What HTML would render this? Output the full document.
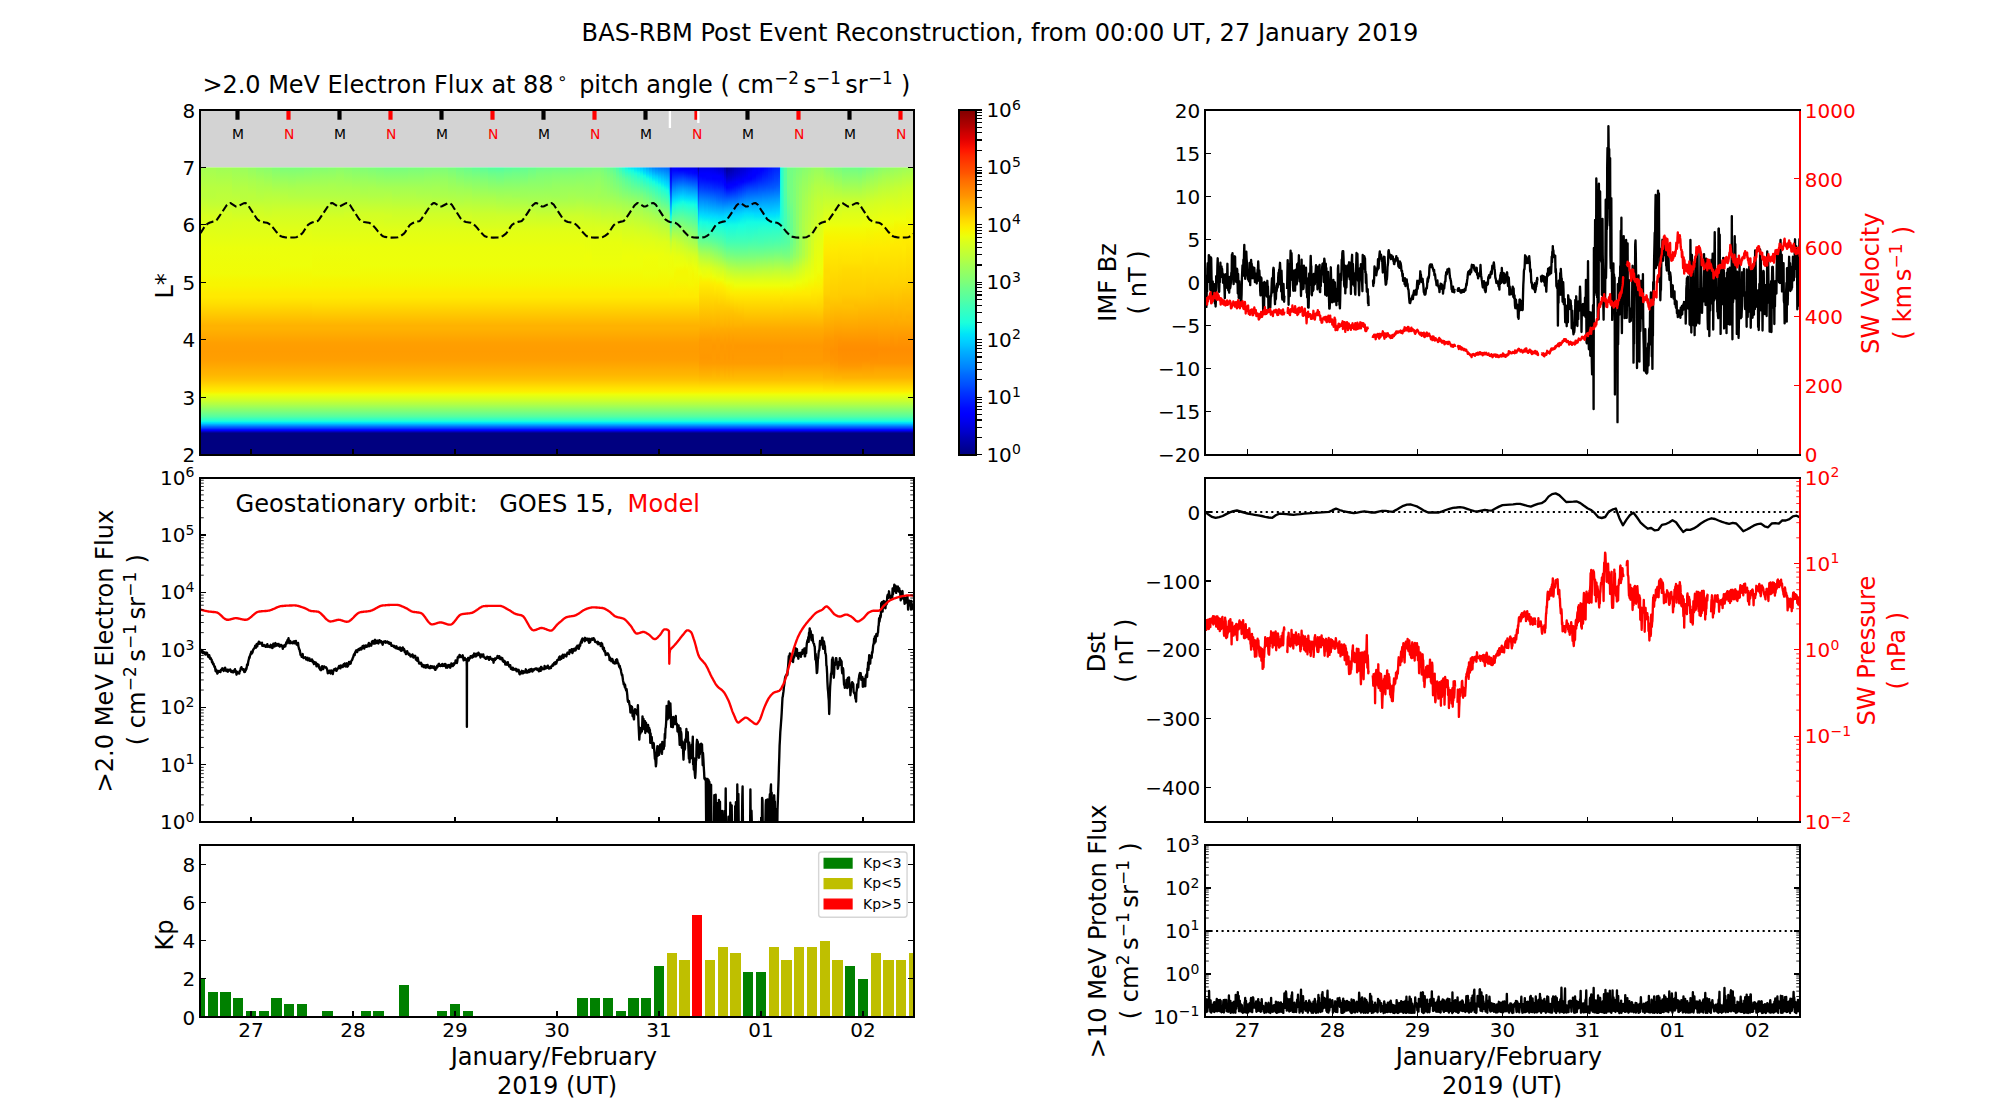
<!DOCTYPE html>
<html><head><meta charset="utf-8"><title>BAS-RBM Post Event Reconstruction</title><style>html,body{margin:0;padding:0;background:#fff}svg{display:block}text{font-family:"DejaVu Sans","Liberation Sans",sans-serif}g[id^="axes_"]>g[id^="patch_"]>path,g[id^="xtick_"] use,g[id^="ytick_"] use{shape-rendering:crispEdges}</style></head><body>
<svg width="2000" height="1100" viewBox="0 0 1440 792">
<defs>
<style type="text/css">*{stroke-linejoin: round; stroke-linecap: butt}</style>
</defs>
<g id="figure_1">
<g id="patch_1">
<path d="M 0 792 
L 1440 792 
L 1440 0 
L 0 0 
z
" style="fill: #ffffff"/>
</g>
<g id="axes_1">
<g id="patch_2">
<path d="M 144 327.31 
L 658.08 327.31 
L 658.08 79.2 
L 144 79.2 
z
" style="fill: #ffffff"/>
</g>
<g id="PH_heat"><defs><linearGradient id="h0" x1="0" y1="0" x2="0" y2="1"><stop offset="0" stop-color="#a4ff53"/><stop offset=".102" stop-color="#baff3c"/><stop offset=".128" stop-color="#baff3c"/><stop offset=".217" stop-color="#d7ff1f"/><stop offset=".358" stop-color="#ebff0c"/><stop offset=".473" stop-color="#f1fc06"/><stop offset=".512" stop-color="#f8f500"/><stop offset=".524" stop-color="#f8f500"/><stop offset=".563" stop-color="#ffea00"/><stop offset=".575" stop-color="#ffea00"/><stop offset=".614" stop-color="#ffdb00"/><stop offset=".703" stop-color="#ffb200"/><stop offset=".716" stop-color="#ffb200"/><stop offset=".78" stop-color="#ff9f00"/><stop offset=".818" stop-color="#ff9c00"/><stop offset=".857" stop-color="#ff9f00"/><stop offset=".921" stop-color="#ffb600"/><stop offset=".946" stop-color="#ffc400"/><stop offset=".985" stop-color="#ffe600"/><stop offset="1" stop-color="#fbf100"/></linearGradient><linearGradient id="h1" x1="0" y1="0" x2="0" y2="1"><stop offset="0" stop-color="#a4ff53"/><stop offset=".09" stop-color="#b7ff40"/><stop offset=".128" stop-color="#baff3c"/><stop offset=".166" stop-color="#c4ff33"/><stop offset=".217" stop-color="#d7ff1f"/><stop offset=".358" stop-color="#ebff0c"/><stop offset=".473" stop-color="#f1fc06"/><stop offset=".512" stop-color="#f8f500"/><stop offset=".524" stop-color="#f8f500"/><stop offset=".563" stop-color="#ffea00"/><stop offset=".575" stop-color="#ffea00"/><stop offset=".614" stop-color="#ffdb00"/><stop offset=".703" stop-color="#ffb200"/><stop offset=".716" stop-color="#ffb200"/><stop offset=".78" stop-color="#ff9f00"/><stop offset=".818" stop-color="#ff9c00"/><stop offset=".857" stop-color="#ff9f00"/><stop offset=".921" stop-color="#ffb600"/><stop offset=".946" stop-color="#ffc400"/><stop offset=".985" stop-color="#ffe600"/><stop offset="1" stop-color="#fbf100"/></linearGradient><linearGradient id="h2" x1="0" y1="0" x2="0" y2="1"><stop offset="0" stop-color="#a0ff56"/><stop offset=".09" stop-color="#b7ff40"/><stop offset=".141" stop-color="#beff39"/><stop offset=".166" stop-color="#c4ff33"/><stop offset=".205" stop-color="#d4ff23"/><stop offset=".358" stop-color="#ebff0c"/><stop offset=".473" stop-color="#f1fc06"/><stop offset=".512" stop-color="#f8f500"/><stop offset=".524" stop-color="#f8f500"/><stop offset=".563" stop-color="#ffea00"/><stop offset=".575" stop-color="#ffea00"/><stop offset=".614" stop-color="#ffdb00"/><stop offset=".703" stop-color="#ffb200"/><stop offset=".716" stop-color="#ffb200"/><stop offset=".78" stop-color="#ff9f00"/><stop offset=".818" stop-color="#ff9c00"/><stop offset=".857" stop-color="#ff9f00"/><stop offset=".921" stop-color="#ffb600"/><stop offset=".946" stop-color="#ffc400"/><stop offset=".985" stop-color="#ffe600"/><stop offset="1" stop-color="#fbf100"/></linearGradient><linearGradient id="h3" x1="0" y1="0" x2="0" y2="1"><stop offset="0" stop-color="#a0ff56"/><stop offset=".09" stop-color="#b7ff40"/><stop offset=".141" stop-color="#beff39"/><stop offset=".166" stop-color="#c4ff33"/><stop offset=".205" stop-color="#d4ff23"/><stop offset=".358" stop-color="#ebff0c"/><stop offset=".473" stop-color="#f1fc06"/><stop offset=".512" stop-color="#f8f500"/><stop offset=".524" stop-color="#f8f500"/><stop offset=".563" stop-color="#ffea00"/><stop offset=".575" stop-color="#ffea00"/><stop offset=".614" stop-color="#ffdb00"/><stop offset=".703" stop-color="#ffb200"/><stop offset=".716" stop-color="#ffb200"/><stop offset=".78" stop-color="#ff9f00"/><stop offset=".818" stop-color="#ff9c00"/><stop offset=".857" stop-color="#ff9f00"/><stop offset=".921" stop-color="#ffb600"/><stop offset=".946" stop-color="#ffc400"/><stop offset=".985" stop-color="#ffe600"/><stop offset="1" stop-color="#fbf100"/></linearGradient><linearGradient id="h4" x1="0" y1="0" x2="0" y2="1"><stop offset="0" stop-color="#9dff5a"/><stop offset=".141" stop-color="#beff39"/><stop offset=".243" stop-color="#dbff1c"/><stop offset=".358" stop-color="#ebff0c"/><stop offset=".473" stop-color="#f1fc06"/><stop offset=".512" stop-color="#f8f500"/><stop offset=".524" stop-color="#f8f500"/><stop offset=".563" stop-color="#ffea00"/><stop offset=".575" stop-color="#ffea00"/><stop offset=".614" stop-color="#ffdb00"/><stop offset=".703" stop-color="#ffb200"/><stop offset=".716" stop-color="#ffb200"/><stop offset=".78" stop-color="#ff9f00"/><stop offset=".818" stop-color="#ff9c00"/><stop offset=".857" stop-color="#ff9f00"/><stop offset=".921" stop-color="#ffb600"/><stop offset=".946" stop-color="#ffc400"/><stop offset=".985" stop-color="#ffe600"/><stop offset="1" stop-color="#fbf100"/></linearGradient><linearGradient id="h5" x1="0" y1="0" x2="0" y2="1"><stop offset="0" stop-color="#9aff5d"/><stop offset=".09" stop-color="#b4ff43"/><stop offset=".141" stop-color="#baff3c"/><stop offset=".179" stop-color="#caff2c"/><stop offset=".243" stop-color="#dbff1c"/><stop offset=".358" stop-color="#ebff0c"/><stop offset=".473" stop-color="#f1fc06"/><stop offset=".512" stop-color="#f8f500"/><stop offset=".524" stop-color="#f8f500"/><stop offset=".563" stop-color="#ffea00"/><stop offset=".575" stop-color="#ffea00"/><stop offset=".614" stop-color="#ffdb00"/><stop offset=".703" stop-color="#ffb200"/><stop offset=".716" stop-color="#ffb200"/><stop offset=".78" stop-color="#ff9f00"/><stop offset=".818" stop-color="#ff9c00"/><stop offset=".857" stop-color="#ff9f00"/><stop offset=".921" stop-color="#ffb600"/><stop offset=".946" stop-color="#ffc400"/><stop offset=".985" stop-color="#ffe600"/><stop offset="1" stop-color="#fbf100"/></linearGradient><linearGradient id="h6" x1="0" y1="0" x2="0" y2="1"><stop offset="0" stop-color="#94ff63"/><stop offset=".064" stop-color="#aaff4d"/><stop offset=".128" stop-color="#baff3c"/><stop offset=".141" stop-color="#baff3c"/><stop offset=".179" stop-color="#caff2c"/><stop offset=".243" stop-color="#dbff1c"/><stop offset=".358" stop-color="#ebff0c"/><stop offset=".473" stop-color="#f1fc06"/><stop offset=".512" stop-color="#f8f500"/><stop offset=".524" stop-color="#f8f500"/><stop offset=".563" stop-color="#ffea00"/><stop offset=".575" stop-color="#ffea00"/><stop offset=".614" stop-color="#ffdb00"/><stop offset=".703" stop-color="#ffb200"/><stop offset=".716" stop-color="#ffb200"/><stop offset=".78" stop-color="#ff9f00"/><stop offset=".818" stop-color="#ff9c00"/><stop offset=".857" stop-color="#ff9f00"/><stop offset=".921" stop-color="#ffb600"/><stop offset=".946" stop-color="#ffc400"/><stop offset=".985" stop-color="#ffe600"/><stop offset="1" stop-color="#fbf100"/></linearGradient><linearGradient id="h7" x1="0" y1="0" x2="0" y2="1"><stop offset="0" stop-color="#8dff6a"/><stop offset=".064" stop-color="#a7ff50"/><stop offset=".141" stop-color="#baff3c"/><stop offset=".179" stop-color="#caff2c"/><stop offset=".243" stop-color="#dbff1c"/><stop offset=".358" stop-color="#ebff0c"/><stop offset=".473" stop-color="#f1fc06"/><stop offset=".512" stop-color="#f8f500"/><stop offset=".524" stop-color="#f8f500"/><stop offset=".563" stop-color="#ffea00"/><stop offset=".575" stop-color="#ffea00"/><stop offset=".614" stop-color="#ffdb00"/><stop offset=".703" stop-color="#ffb200"/><stop offset=".716" stop-color="#ffb200"/><stop offset=".78" stop-color="#ff9f00"/><stop offset=".818" stop-color="#ff9c00"/><stop offset=".857" stop-color="#ff9f00"/><stop offset=".921" stop-color="#ffb600"/><stop offset=".946" stop-color="#ffc400"/><stop offset=".985" stop-color="#ffe600"/><stop offset="1" stop-color="#fbf100"/></linearGradient><linearGradient id="h8" x1="0" y1="0" x2="0" y2="1"><stop offset="0" stop-color="#8aff6d"/><stop offset=".09" stop-color="#adff49"/><stop offset=".243" stop-color="#dbff1c"/><stop offset=".358" stop-color="#ebff0c"/><stop offset=".473" stop-color="#f1fc06"/><stop offset=".512" stop-color="#f8f500"/><stop offset=".524" stop-color="#f8f500"/><stop offset=".563" stop-color="#ffea00"/><stop offset=".575" stop-color="#ffea00"/><stop offset=".614" stop-color="#ffdb00"/><stop offset=".703" stop-color="#ffb200"/><stop offset=".716" stop-color="#ffb200"/><stop offset=".78" stop-color="#ff9f00"/><stop offset=".818" stop-color="#ff9c00"/><stop offset=".857" stop-color="#ff9f00"/><stop offset=".921" stop-color="#ffb600"/><stop offset=".946" stop-color="#ffc400"/><stop offset=".985" stop-color="#ffe600"/><stop offset="1" stop-color="#fbf100"/></linearGradient><linearGradient id="h9" x1="0" y1="0" x2="0" y2="1"><stop offset="0" stop-color="#83ff73"/><stop offset=".115" stop-color="#b4ff43"/><stop offset=".192" stop-color="#ceff29"/><stop offset=".243" stop-color="#dbff1c"/><stop offset=".358" stop-color="#ebff0c"/><stop offset=".473" stop-color="#f1fc06"/><stop offset=".512" stop-color="#f8f500"/><stop offset=".524" stop-color="#f8f500"/><stop offset=".563" stop-color="#ffea00"/><stop offset=".575" stop-color="#ffea00"/><stop offset=".614" stop-color="#ffdb00"/><stop offset=".703" stop-color="#ffb200"/><stop offset=".716" stop-color="#ffb200"/><stop offset=".78" stop-color="#ff9f00"/><stop offset=".818" stop-color="#ff9c00"/><stop offset=".857" stop-color="#ff9f00"/><stop offset=".921" stop-color="#ffb600"/><stop offset=".946" stop-color="#ffc400"/><stop offset=".985" stop-color="#ffe600"/><stop offset="1" stop-color="#fbf100"/></linearGradient><linearGradient id="h10" x1="0" y1="0" x2="0" y2="1"><stop offset="0" stop-color="#7dff7a"/><stop offset=".077" stop-color="#a4ff53"/><stop offset=".128" stop-color="#b7ff40"/><stop offset=".153" stop-color="#beff39"/><stop offset=".192" stop-color="#ceff29"/><stop offset=".281" stop-color="#e1ff16"/><stop offset=".358" stop-color="#ebff0c"/><stop offset=".435" stop-color="#eeff09"/><stop offset=".524" stop-color="#f8f500"/><stop offset=".563" stop-color="#ffea00"/><stop offset=".575" stop-color="#ffea00"/><stop offset=".703" stop-color="#ffb200"/><stop offset=".716" stop-color="#ffb200"/><stop offset=".78" stop-color="#ff9f00"/><stop offset=".818" stop-color="#ff9c00"/><stop offset=".857" stop-color="#ff9f00"/><stop offset=".921" stop-color="#ffb600"/><stop offset=".946" stop-color="#ffc400"/><stop offset=".985" stop-color="#ffe600"/><stop offset="1" stop-color="#fbf100"/></linearGradient><linearGradient id="h11" x1="0" y1="0" x2="0" y2="1"><stop offset="0" stop-color="#7dff7a"/><stop offset=".102" stop-color="#adff49"/><stop offset=".128" stop-color="#b4ff43"/><stop offset=".192" stop-color="#ceff29"/><stop offset=".281" stop-color="#e1ff16"/><stop offset=".358" stop-color="#ebff0c"/><stop offset=".435" stop-color="#eeff09"/><stop offset=".524" stop-color="#f8f500"/><stop offset=".563" stop-color="#ffea00"/><stop offset=".575" stop-color="#ffea00"/><stop offset=".703" stop-color="#ffb200"/><stop offset=".716" stop-color="#ffb200"/><stop offset=".78" stop-color="#ff9f00"/><stop offset=".818" stop-color="#ff9c00"/><stop offset=".857" stop-color="#ff9f00"/><stop offset=".921" stop-color="#ffb600"/><stop offset=".946" stop-color="#ffc400"/><stop offset=".985" stop-color="#ffe600"/><stop offset="1" stop-color="#fbf100"/></linearGradient><linearGradient id="h12" x1="0" y1="0" x2="0" y2="1"><stop offset="0" stop-color="#7dff7a"/><stop offset=".077" stop-color="#a4ff53"/><stop offset=".128" stop-color="#b4ff43"/><stop offset=".192" stop-color="#ceff29"/><stop offset=".281" stop-color="#e1ff16"/><stop offset=".358" stop-color="#ebff0c"/><stop offset=".435" stop-color="#eeff09"/><stop offset=".524" stop-color="#f8f500"/><stop offset=".563" stop-color="#ffea00"/><stop offset=".575" stop-color="#ffea00"/><stop offset=".703" stop-color="#ffb200"/><stop offset=".716" stop-color="#ffb200"/><stop offset=".78" stop-color="#ff9f00"/><stop offset=".818" stop-color="#ff9c00"/><stop offset=".857" stop-color="#ff9f00"/><stop offset=".921" stop-color="#ffb600"/><stop offset=".946" stop-color="#ffc400"/><stop offset=".985" stop-color="#ffe600"/><stop offset="1" stop-color="#fbf100"/></linearGradient><linearGradient id="h13" x1="0" y1="0" x2="0" y2="1"><stop offset="0" stop-color="#80ff77"/><stop offset=".09" stop-color="#aaff4d"/><stop offset=".128" stop-color="#b4ff43"/><stop offset=".192" stop-color="#ceff29"/><stop offset=".281" stop-color="#e1ff16"/><stop offset=".358" stop-color="#ebff0c"/><stop offset=".435" stop-color="#eeff09"/><stop offset=".524" stop-color="#f8f500"/><stop offset=".563" stop-color="#ffea00"/><stop offset=".575" stop-color="#ffea00"/><stop offset=".703" stop-color="#ffb200"/><stop offset=".716" stop-color="#ffb200"/><stop offset=".78" stop-color="#ff9f00"/><stop offset=".818" stop-color="#ff9c00"/><stop offset=".857" stop-color="#ff9f00"/><stop offset=".921" stop-color="#ffb600"/><stop offset=".946" stop-color="#ffc400"/><stop offset=".985" stop-color="#ffe600"/><stop offset="1" stop-color="#fbf100"/></linearGradient><linearGradient id="h14" x1="0" y1="0" x2="0" y2="1"><stop offset="0" stop-color="#83ff73"/><stop offset=".09" stop-color="#aaff4d"/><stop offset=".128" stop-color="#b4ff43"/><stop offset=".192" stop-color="#ceff29"/><stop offset=".23" stop-color="#d7ff1f"/><stop offset=".358" stop-color="#ebff0c"/><stop offset=".473" stop-color="#f1fc06"/><stop offset=".512" stop-color="#f8f500"/><stop offset=".524" stop-color="#f8f500"/><stop offset=".563" stop-color="#ffea00"/><stop offset=".575" stop-color="#ffea00"/><stop offset=".614" stop-color="#ffdb00"/><stop offset=".703" stop-color="#ffb200"/><stop offset=".716" stop-color="#ffb200"/><stop offset=".78" stop-color="#ff9f00"/><stop offset=".818" stop-color="#ff9c00"/><stop offset=".857" stop-color="#ff9f00"/><stop offset=".921" stop-color="#ffb600"/><stop offset=".946" stop-color="#ffc400"/><stop offset=".985" stop-color="#ffe600"/><stop offset="1" stop-color="#fbf100"/></linearGradient><linearGradient id="h15" x1="0" y1="0" x2="0" y2="1"><stop offset="0" stop-color="#83ff73"/><stop offset=".038" stop-color="#97ff60"/><stop offset=".09" stop-color="#aaff4d"/><stop offset=".128" stop-color="#b4ff43"/><stop offset=".192" stop-color="#ceff29"/><stop offset=".23" stop-color="#d7ff1f"/><stop offset=".358" stop-color="#ebff0c"/><stop offset=".473" stop-color="#f1fc06"/><stop offset=".512" stop-color="#f8f500"/><stop offset=".524" stop-color="#f8f500"/><stop offset=".563" stop-color="#ffea00"/><stop offset=".575" stop-color="#ffea00"/><stop offset=".614" stop-color="#ffdb00"/><stop offset=".703" stop-color="#ffb200"/><stop offset=".716" stop-color="#ffb200"/><stop offset=".78" stop-color="#ff9f00"/><stop offset=".818" stop-color="#ff9c00"/><stop offset=".857" stop-color="#ff9f00"/><stop offset=".921" stop-color="#ffb600"/><stop offset=".946" stop-color="#ffc400"/><stop offset=".985" stop-color="#ffe600"/><stop offset="1" stop-color="#fbf100"/></linearGradient><linearGradient id="h16" x1="0" y1="0" x2="0" y2="1"><stop offset="0" stop-color="#87ff70"/><stop offset=".077" stop-color="#a7ff50"/><stop offset=".128" stop-color="#b4ff43"/><stop offset=".23" stop-color="#d7ff1f"/><stop offset=".358" stop-color="#ebff0c"/><stop offset=".473" stop-color="#f1fc06"/><stop offset=".512" stop-color="#f8f500"/><stop offset=".524" stop-color="#f8f500"/><stop offset=".563" stop-color="#ffea00"/><stop offset=".575" stop-color="#ffea00"/><stop offset=".614" stop-color="#ffdb00"/><stop offset=".703" stop-color="#ffb200"/><stop offset=".716" stop-color="#ffb200"/><stop offset=".78" stop-color="#ff9f00"/><stop offset=".818" stop-color="#ff9c00"/><stop offset=".857" stop-color="#ff9f00"/><stop offset=".921" stop-color="#ffb600"/><stop offset=".946" stop-color="#ffc400"/><stop offset=".985" stop-color="#ffe600"/><stop offset="1" stop-color="#fbf100"/></linearGradient><linearGradient id="h17" x1="0" y1="0" x2="0" y2="1"><stop offset="0" stop-color="#8aff6d"/><stop offset=".038" stop-color="#9aff5d"/><stop offset=".128" stop-color="#b4ff43"/><stop offset=".23" stop-color="#d7ff1f"/><stop offset=".358" stop-color="#ebff0c"/><stop offset=".473" stop-color="#f1fc06"/><stop offset=".512" stop-color="#f8f500"/><stop offset=".524" stop-color="#f8f500"/><stop offset=".563" stop-color="#ffea00"/><stop offset=".575" stop-color="#ffea00"/><stop offset=".614" stop-color="#ffdb00"/><stop offset=".703" stop-color="#ffb200"/><stop offset=".716" stop-color="#ffb200"/><stop offset=".78" stop-color="#ff9f00"/><stop offset=".818" stop-color="#ff9c00"/><stop offset=".857" stop-color="#ff9f00"/><stop offset=".921" stop-color="#ffb600"/><stop offset=".946" stop-color="#ffc400"/><stop offset=".985" stop-color="#ffe600"/><stop offset="1" stop-color="#fbf100"/></linearGradient><linearGradient id="h18" x1="0" y1="0" x2="0" y2="1"><stop offset="0" stop-color="#87ff70"/><stop offset=".09" stop-color="#aaff4d"/><stop offset=".141" stop-color="#b7ff40"/><stop offset=".205" stop-color="#d1ff26"/><stop offset=".23" stop-color="#d7ff1f"/><stop offset=".358" stop-color="#ebff0c"/><stop offset=".473" stop-color="#f1fc06"/><stop offset=".512" stop-color="#f8f500"/><stop offset=".524" stop-color="#f8f500"/><stop offset=".563" stop-color="#ffea00"/><stop offset=".575" stop-color="#ffea00"/><stop offset=".614" stop-color="#ffdb00"/><stop offset=".703" stop-color="#ffb200"/><stop offset=".716" stop-color="#ffb200"/><stop offset=".78" stop-color="#ff9f00"/><stop offset=".818" stop-color="#ff9c00"/><stop offset=".857" stop-color="#ff9f00"/><stop offset=".921" stop-color="#ffb600"/><stop offset=".946" stop-color="#ffc400"/><stop offset=".985" stop-color="#ffe600"/><stop offset="1" stop-color="#fbf100"/></linearGradient><linearGradient id="h19" x1="0" y1="0" x2="0" y2="1"><stop offset="0" stop-color="#83ff73"/><stop offset=".102" stop-color="#adff49"/><stop offset=".141" stop-color="#b7ff40"/><stop offset=".205" stop-color="#d1ff26"/><stop offset=".23" stop-color="#d7ff1f"/><stop offset=".358" stop-color="#ebff0c"/><stop offset=".473" stop-color="#f1fc06"/><stop offset=".512" stop-color="#f8f500"/><stop offset=".524" stop-color="#f8f500"/><stop offset=".563" stop-color="#ffea00"/><stop offset=".575" stop-color="#ffea00"/><stop offset=".614" stop-color="#ffdb00"/><stop offset=".703" stop-color="#ffb200"/><stop offset=".716" stop-color="#ffb200"/><stop offset=".78" stop-color="#ff9f00"/><stop offset=".818" stop-color="#ff9c00"/><stop offset=".857" stop-color="#ff9f00"/><stop offset=".921" stop-color="#ffb600"/><stop offset=".946" stop-color="#ffc400"/><stop offset=".985" stop-color="#ffe600"/><stop offset="1" stop-color="#fbf100"/></linearGradient><linearGradient id="h20" x1="0" y1="0" x2="0" y2="1"><stop offset="0" stop-color="#80ff77"/><stop offset=".064" stop-color="#9dff5a"/><stop offset=".115" stop-color="#adff49"/><stop offset=".205" stop-color="#d1ff26"/><stop offset=".281" stop-color="#e1ff16"/><stop offset=".358" stop-color="#ebff0c"/><stop offset=".435" stop-color="#eeff09"/><stop offset=".524" stop-color="#f8f500"/><stop offset=".563" stop-color="#ffea00"/><stop offset=".575" stop-color="#ffea00"/><stop offset=".703" stop-color="#ffb200"/><stop offset=".716" stop-color="#ffb200"/><stop offset=".78" stop-color="#ff9f00"/><stop offset=".818" stop-color="#ff9c00"/><stop offset=".857" stop-color="#ff9f00"/><stop offset=".921" stop-color="#ffb600"/><stop offset=".946" stop-color="#ffc400"/><stop offset=".985" stop-color="#ffe600"/><stop offset="1" stop-color="#fbf100"/></linearGradient><linearGradient id="h21" x1="0" y1="0" x2="0" y2="1"><stop offset="0" stop-color="#7dff7a"/><stop offset=".09" stop-color="#a7ff50"/><stop offset=".128" stop-color="#b1ff46"/><stop offset=".205" stop-color="#d1ff26"/><stop offset=".281" stop-color="#e1ff16"/><stop offset=".358" stop-color="#ebff0c"/><stop offset=".435" stop-color="#eeff09"/><stop offset=".524" stop-color="#f8f500"/><stop offset=".563" stop-color="#ffea00"/><stop offset=".575" stop-color="#ffea00"/><stop offset=".703" stop-color="#ffb200"/><stop offset=".716" stop-color="#ffb200"/><stop offset=".78" stop-color="#ff9f00"/><stop offset=".818" stop-color="#ff9c00"/><stop offset=".857" stop-color="#ff9f00"/><stop offset=".921" stop-color="#ffb600"/><stop offset=".946" stop-color="#ffc400"/><stop offset=".985" stop-color="#ffe600"/><stop offset="1" stop-color="#fbf100"/></linearGradient><linearGradient id="h22" x1="0" y1="0" x2="0" y2="1"><stop offset="0" stop-color="#7aff7d"/><stop offset=".102" stop-color="#aaff4d"/><stop offset=".128" stop-color="#b1ff46"/><stop offset=".205" stop-color="#d1ff26"/><stop offset=".281" stop-color="#e1ff16"/><stop offset=".358" stop-color="#ebff0c"/><stop offset=".435" stop-color="#eeff09"/><stop offset=".524" stop-color="#f8f500"/><stop offset=".563" stop-color="#ffea00"/><stop offset=".575" stop-color="#ffea00"/><stop offset=".703" stop-color="#ffb200"/><stop offset=".716" stop-color="#ffb200"/><stop offset=".78" stop-color="#ff9f00"/><stop offset=".818" stop-color="#ff9c00"/><stop offset=".857" stop-color="#ff9f00"/><stop offset=".921" stop-color="#ffb600"/><stop offset=".946" stop-color="#ffc400"/><stop offset=".985" stop-color="#ffe600"/><stop offset="1" stop-color="#fbf100"/></linearGradient><linearGradient id="h23" x1="0" y1="0" x2="0" y2="1"><stop offset="0" stop-color="#77ff80"/><stop offset=".09" stop-color="#a4ff53"/><stop offset=".217" stop-color="#d4ff23"/><stop offset=".23" stop-color="#d4ff23"/><stop offset=".281" stop-color="#e1ff16"/><stop offset=".358" stop-color="#ebff0c"/><stop offset=".435" stop-color="#eeff09"/><stop offset=".524" stop-color="#f8f500"/><stop offset=".563" stop-color="#ffea00"/><stop offset=".575" stop-color="#ffea00"/><stop offset=".703" stop-color="#ffb200"/><stop offset=".716" stop-color="#ffb200"/><stop offset=".78" stop-color="#ff9f00"/><stop offset=".818" stop-color="#ff9c00"/><stop offset=".857" stop-color="#ff9f00"/><stop offset=".921" stop-color="#ffb600"/><stop offset=".946" stop-color="#ffc400"/><stop offset=".985" stop-color="#ffe600"/><stop offset="1" stop-color="#fbf100"/></linearGradient><linearGradient id="h24" x1="0" y1="0" x2="0" y2="1"><stop offset="0" stop-color="#77ff80"/><stop offset=".09" stop-color="#a4ff53"/><stop offset=".115" stop-color="#aaff4d"/><stop offset=".192" stop-color="#caff2c"/><stop offset=".281" stop-color="#e1ff16"/><stop offset=".358" stop-color="#ebff0c"/><stop offset=".435" stop-color="#eeff09"/><stop offset=".524" stop-color="#f8f500"/><stop offset=".563" stop-color="#ffea00"/><stop offset=".575" stop-color="#ffea00"/><stop offset=".703" stop-color="#ffb200"/><stop offset=".716" stop-color="#ffb200"/><stop offset=".78" stop-color="#ff9f00"/><stop offset=".818" stop-color="#ff9c00"/><stop offset=".857" stop-color="#ff9f00"/><stop offset=".921" stop-color="#ffb600"/><stop offset=".946" stop-color="#ffc400"/><stop offset=".985" stop-color="#ffe600"/><stop offset="1" stop-color="#fbf100"/></linearGradient><linearGradient id="h25" x1="0" y1="0" x2="0" y2="1"><stop offset="0" stop-color="#77ff80"/><stop offset=".09" stop-color="#a4ff53"/><stop offset=".166" stop-color="#beff39"/><stop offset=".192" stop-color="#caff2c"/><stop offset=".281" stop-color="#e1ff16"/><stop offset=".358" stop-color="#ebff0c"/><stop offset=".435" stop-color="#eeff09"/><stop offset=".524" stop-color="#f8f500"/><stop offset=".563" stop-color="#ffea00"/><stop offset=".575" stop-color="#ffea00"/><stop offset=".703" stop-color="#ffb200"/><stop offset=".716" stop-color="#ffb200"/><stop offset=".78" stop-color="#ff9f00"/><stop offset=".818" stop-color="#ff9c00"/><stop offset=".857" stop-color="#ff9f00"/><stop offset=".921" stop-color="#ffb600"/><stop offset=".946" stop-color="#ffc400"/><stop offset=".985" stop-color="#ffe600"/><stop offset="1" stop-color="#fbf100"/></linearGradient><linearGradient id="h26" x1="0" y1="0" x2="0" y2="1"><stop offset="0" stop-color="#7aff7d"/><stop offset=".09" stop-color="#a4ff53"/><stop offset=".166" stop-color="#beff39"/><stop offset=".192" stop-color="#caff2c"/><stop offset=".281" stop-color="#e1ff16"/><stop offset=".358" stop-color="#ebff0c"/><stop offset=".435" stop-color="#eeff09"/><stop offset=".524" stop-color="#f8f500"/><stop offset=".563" stop-color="#ffea00"/><stop offset=".575" stop-color="#ffea00"/><stop offset=".703" stop-color="#ffb200"/><stop offset=".716" stop-color="#ffb200"/><stop offset=".78" stop-color="#ff9f00"/><stop offset=".818" stop-color="#ff9c00"/><stop offset=".857" stop-color="#ff9f00"/><stop offset=".921" stop-color="#ffb600"/><stop offset=".946" stop-color="#ffc400"/><stop offset=".985" stop-color="#ffe600"/><stop offset="1" stop-color="#fbf100"/></linearGradient><linearGradient id="h27" x1="0" y1="0" x2="0" y2="1"><stop offset="0" stop-color="#7aff7d"/><stop offset=".09" stop-color="#a4ff53"/><stop offset=".115" stop-color="#aaff4d"/><stop offset=".205" stop-color="#ceff29"/><stop offset=".281" stop-color="#e1ff16"/><stop offset=".358" stop-color="#ebff0c"/><stop offset=".435" stop-color="#eeff09"/><stop offset=".524" stop-color="#f8f500"/><stop offset=".563" stop-color="#ffea00"/><stop offset=".575" stop-color="#ffea00"/><stop offset=".703" stop-color="#ffb200"/><stop offset=".716" stop-color="#ffb200"/><stop offset=".78" stop-color="#ff9f00"/><stop offset=".818" stop-color="#ff9c00"/><stop offset=".857" stop-color="#ff9f00"/><stop offset=".921" stop-color="#ffb600"/><stop offset=".946" stop-color="#ffc400"/><stop offset=".985" stop-color="#ffe600"/><stop offset="1" stop-color="#fbf100"/></linearGradient><linearGradient id="h28" x1="0" y1="0" x2="0" y2="1"><stop offset="0" stop-color="#7dff7a"/><stop offset=".064" stop-color="#9aff5d"/><stop offset=".153" stop-color="#b7ff40"/><stop offset=".205" stop-color="#ceff29"/><stop offset=".281" stop-color="#e1ff16"/><stop offset=".358" stop-color="#ebff0c"/><stop offset=".435" stop-color="#eeff09"/><stop offset=".524" stop-color="#f8f500"/><stop offset=".563" stop-color="#ffea00"/><stop offset=".575" stop-color="#ffea00"/><stop offset=".703" stop-color="#ffb200"/><stop offset=".716" stop-color="#ffb200"/><stop offset=".78" stop-color="#ff9f00"/><stop offset=".818" stop-color="#ff9c00"/><stop offset=".857" stop-color="#ff9f00"/><stop offset=".921" stop-color="#ffb600"/><stop offset=".946" stop-color="#ffc400"/><stop offset=".985" stop-color="#ffe600"/><stop offset="1" stop-color="#fbf100"/></linearGradient><linearGradient id="h29" x1="0" y1="0" x2="0" y2="1"><stop offset="0" stop-color="#7dff7a"/><stop offset=".038" stop-color="#90ff66"/><stop offset=".09" stop-color="#a4ff53"/><stop offset=".128" stop-color="#adff49"/><stop offset=".205" stop-color="#ceff29"/><stop offset=".281" stop-color="#e1ff16"/><stop offset=".358" stop-color="#ebff0c"/><stop offset=".435" stop-color="#eeff09"/><stop offset=".524" stop-color="#f8f500"/><stop offset=".563" stop-color="#ffea00"/><stop offset=".575" stop-color="#ffea00"/><stop offset=".703" stop-color="#ffb200"/><stop offset=".716" stop-color="#ffb200"/><stop offset=".78" stop-color="#ff9f00"/><stop offset=".818" stop-color="#ff9c00"/><stop offset=".857" stop-color="#ff9f00"/><stop offset=".921" stop-color="#ffb600"/><stop offset=".946" stop-color="#ffc400"/><stop offset=".985" stop-color="#ffe600"/><stop offset="1" stop-color="#fbf100"/></linearGradient><linearGradient id="h30" x1="0" y1="0" x2="0" y2="1"><stop offset="0" stop-color="#7dff7a"/><stop offset=".064" stop-color="#9aff5d"/><stop offset=".128" stop-color="#adff49"/><stop offset=".205" stop-color="#ceff29"/><stop offset=".281" stop-color="#e1ff16"/><stop offset=".358" stop-color="#ebff0c"/><stop offset=".435" stop-color="#eeff09"/><stop offset=".524" stop-color="#f8f500"/><stop offset=".563" stop-color="#ffea00"/><stop offset=".575" stop-color="#ffea00"/><stop offset=".703" stop-color="#ffb200"/><stop offset=".716" stop-color="#ffb200"/><stop offset=".78" stop-color="#ff9f00"/><stop offset=".818" stop-color="#ff9c00"/><stop offset=".857" stop-color="#ff9f00"/><stop offset=".921" stop-color="#ffb600"/><stop offset=".946" stop-color="#ffc400"/><stop offset=".985" stop-color="#ffe600"/><stop offset="1" stop-color="#fbf100"/></linearGradient><linearGradient id="h31" x1="0" y1="0" x2="0" y2="1"><stop offset="0" stop-color="#77ff80"/><stop offset=".051" stop-color="#90ff66"/><stop offset=".166" stop-color="#baff3c"/><stop offset=".205" stop-color="#ceff29"/><stop offset=".281" stop-color="#e1ff16"/><stop offset=".358" stop-color="#ebff0c"/><stop offset=".435" stop-color="#eeff09"/><stop offset=".524" stop-color="#f8f500"/><stop offset=".563" stop-color="#ffea00"/><stop offset=".575" stop-color="#ffea00"/><stop offset=".703" stop-color="#ffb200"/><stop offset=".716" stop-color="#ffb200"/><stop offset=".78" stop-color="#ff9f00"/><stop offset=".818" stop-color="#ff9c00"/><stop offset=".857" stop-color="#ff9f00"/><stop offset=".921" stop-color="#ffb600"/><stop offset=".946" stop-color="#ffc400"/><stop offset=".985" stop-color="#ffe600"/><stop offset="1" stop-color="#fbf100"/></linearGradient><linearGradient id="h32" x1="0" y1="0" x2="0" y2="1"><stop offset="0" stop-color="#70ff87"/><stop offset=".09" stop-color="#9dff5a"/><stop offset=".153" stop-color="#b4ff43"/><stop offset=".192" stop-color="#c7ff30"/><stop offset=".281" stop-color="#e1ff16"/><stop offset=".358" stop-color="#ebff0c"/><stop offset=".435" stop-color="#eeff09"/><stop offset=".524" stop-color="#f8f500"/><stop offset=".563" stop-color="#ffea00"/><stop offset=".575" stop-color="#ffea00"/><stop offset=".703" stop-color="#ffb200"/><stop offset=".716" stop-color="#ffb200"/><stop offset=".78" stop-color="#ff9f00"/><stop offset=".818" stop-color="#ff9c00"/><stop offset=".857" stop-color="#ff9f00"/><stop offset=".921" stop-color="#ffb600"/><stop offset=".946" stop-color="#ffc400"/><stop offset=".985" stop-color="#ffe600"/><stop offset="1" stop-color="#fbf100"/></linearGradient><linearGradient id="h33" x1="0" y1="0" x2="0" y2="1"><stop offset="0" stop-color="#6aff8d"/><stop offset=".102" stop-color="#a0ff56"/><stop offset=".217" stop-color="#d1ff26"/><stop offset=".281" stop-color="#e1ff16"/><stop offset=".358" stop-color="#ebff0c"/><stop offset=".435" stop-color="#eeff09"/><stop offset=".524" stop-color="#f8f500"/><stop offset=".563" stop-color="#ffea00"/><stop offset=".575" stop-color="#ffea00"/><stop offset=".703" stop-color="#ffb200"/><stop offset=".716" stop-color="#ffb200"/><stop offset=".78" stop-color="#ff9f00"/><stop offset=".818" stop-color="#ff9c00"/><stop offset=".857" stop-color="#ff9f00"/><stop offset=".921" stop-color="#ffb600"/><stop offset=".946" stop-color="#ffc400"/><stop offset=".985" stop-color="#ffe600"/><stop offset="1" stop-color="#fbf100"/></linearGradient><linearGradient id="h34" x1="0" y1="0" x2="0" y2="1"><stop offset="0" stop-color="#63ff94"/><stop offset=".051" stop-color="#83ff73"/><stop offset=".166" stop-color="#baff3c"/><stop offset=".205" stop-color="#caff2c"/><stop offset=".281" stop-color="#e1ff16"/><stop offset=".358" stop-color="#ebff0c"/><stop offset=".435" stop-color="#eeff09"/><stop offset=".524" stop-color="#f8f500"/><stop offset=".563" stop-color="#ffea00"/><stop offset=".575" stop-color="#ffea00"/><stop offset=".703" stop-color="#ffb200"/><stop offset=".716" stop-color="#ffb200"/><stop offset=".78" stop-color="#ff9f00"/><stop offset=".818" stop-color="#ff9c00"/><stop offset=".857" stop-color="#ff9f00"/><stop offset=".921" stop-color="#ffb600"/><stop offset=".946" stop-color="#ffc400"/><stop offset=".985" stop-color="#ffe600"/><stop offset="1" stop-color="#fbf100"/></linearGradient><linearGradient id="h35" x1="0" y1="0" x2="0" y2="1"><stop offset="0" stop-color="#5dff9a"/><stop offset=".026" stop-color="#70ff87"/><stop offset=".064" stop-color="#87ff70"/><stop offset=".141" stop-color="#adff49"/><stop offset=".153" stop-color="#b1ff46"/><stop offset=".205" stop-color="#caff2c"/><stop offset=".269" stop-color="#dbff1c"/><stop offset=".281" stop-color="#e1ff16"/><stop offset=".358" stop-color="#ebff0c"/><stop offset=".435" stop-color="#eeff09"/><stop offset=".524" stop-color="#f8f500"/><stop offset=".563" stop-color="#ffea00"/><stop offset=".575" stop-color="#ffea00"/><stop offset=".703" stop-color="#ffb200"/><stop offset=".716" stop-color="#ffb200"/><stop offset=".78" stop-color="#ff9f00"/><stop offset=".818" stop-color="#ff9c00"/><stop offset=".857" stop-color="#ff9f00"/><stop offset=".921" stop-color="#ffb600"/><stop offset=".946" stop-color="#ffc400"/><stop offset=".985" stop-color="#ffe600"/><stop offset="1" stop-color="#fbf100"/></linearGradient><linearGradient id="h36" x1="0" y1="0" x2="0" y2="1"><stop offset="0" stop-color="#56ffa0"/><stop offset=".038" stop-color="#73ff83"/><stop offset=".141" stop-color="#adff49"/><stop offset=".153" stop-color="#b1ff46"/><stop offset=".205" stop-color="#caff2c"/><stop offset=".269" stop-color="#dbff1c"/><stop offset=".281" stop-color="#e1ff16"/><stop offset=".358" stop-color="#ebff0c"/><stop offset=".435" stop-color="#eeff09"/><stop offset=".524" stop-color="#f8f500"/><stop offset=".563" stop-color="#ffea00"/><stop offset=".575" stop-color="#ffea00"/><stop offset=".703" stop-color="#ffb200"/><stop offset=".716" stop-color="#ffb200"/><stop offset=".78" stop-color="#ff9f00"/><stop offset=".818" stop-color="#ff9c00"/><stop offset=".857" stop-color="#ff9f00"/><stop offset=".921" stop-color="#ffb600"/><stop offset=".946" stop-color="#ffc400"/><stop offset=".985" stop-color="#ffe600"/><stop offset="1" stop-color="#fbf100"/></linearGradient><linearGradient id="h37" x1="0" y1="0" x2="0" y2="1"><stop offset="0" stop-color="#53ffa4"/><stop offset=".026" stop-color="#6aff8d"/><stop offset=".051" stop-color="#77ff80"/><stop offset=".09" stop-color="#90ff66"/><stop offset=".217" stop-color="#ceff29"/><stop offset=".269" stop-color="#dbff1c"/><stop offset=".281" stop-color="#e1ff16"/><stop offset=".358" stop-color="#ebff0c"/><stop offset=".435" stop-color="#eeff09"/><stop offset=".524" stop-color="#f8f500"/><stop offset=".563" stop-color="#ffea00"/><stop offset=".575" stop-color="#ffea00"/><stop offset=".703" stop-color="#ffb200"/><stop offset=".716" stop-color="#ffb200"/><stop offset=".78" stop-color="#ff9f00"/><stop offset=".818" stop-color="#ff9c00"/><stop offset=".857" stop-color="#ff9f00"/><stop offset=".921" stop-color="#ffb600"/><stop offset=".946" stop-color="#ffc400"/><stop offset=".985" stop-color="#ffe600"/><stop offset="1" stop-color="#fbf100"/></linearGradient><linearGradient id="h38" x1="0" y1="0" x2="0" y2="1"><stop offset="0" stop-color="#5aff9d"/><stop offset=".026" stop-color="#6dff8a"/><stop offset=".064" stop-color="#83ff73"/><stop offset=".141" stop-color="#aaff4d"/><stop offset=".153" stop-color="#adff49"/><stop offset=".217" stop-color="#ceff29"/><stop offset=".269" stop-color="#dbff1c"/><stop offset=".281" stop-color="#e1ff16"/><stop offset=".358" stop-color="#ebff0c"/><stop offset=".435" stop-color="#eeff09"/><stop offset=".524" stop-color="#f8f500"/><stop offset=".563" stop-color="#ffea00"/><stop offset=".575" stop-color="#ffea00"/><stop offset=".703" stop-color="#ffb200"/><stop offset=".716" stop-color="#ffb200"/><stop offset=".78" stop-color="#ff9f00"/><stop offset=".818" stop-color="#ff9c00"/><stop offset=".857" stop-color="#ff9f00"/><stop offset=".921" stop-color="#ffb600"/><stop offset=".946" stop-color="#ffc400"/><stop offset=".985" stop-color="#ffe600"/><stop offset="1" stop-color="#fbf100"/></linearGradient><linearGradient id="h39" x1="0" y1="0" x2="0" y2="1"><stop offset="0" stop-color="#5dff9a"/><stop offset=".026" stop-color="#70ff87"/><stop offset=".115" stop-color="#9dff5a"/><stop offset=".128" stop-color="#a0ff56"/><stop offset=".141" stop-color="#aaff4d"/><stop offset=".153" stop-color="#adff49"/><stop offset=".217" stop-color="#ceff29"/><stop offset=".269" stop-color="#dbff1c"/><stop offset=".281" stop-color="#e1ff16"/><stop offset=".358" stop-color="#ebff0c"/><stop offset=".435" stop-color="#eeff09"/><stop offset=".524" stop-color="#f8f500"/><stop offset=".563" stop-color="#ffea00"/><stop offset=".575" stop-color="#ffea00"/><stop offset=".703" stop-color="#ffb200"/><stop offset=".716" stop-color="#ffb200"/><stop offset=".78" stop-color="#ff9f00"/><stop offset=".818" stop-color="#ff9c00"/><stop offset=".857" stop-color="#ff9f00"/><stop offset=".921" stop-color="#ffb600"/><stop offset=".946" stop-color="#ffc400"/><stop offset=".985" stop-color="#ffe600"/><stop offset="1" stop-color="#fbf100"/></linearGradient><linearGradient id="h40" x1="0" y1="0" x2="0" y2="1"><stop offset="0" stop-color="#63ff94"/><stop offset=".09" stop-color="#94ff63"/><stop offset=".128" stop-color="#a0ff56"/><stop offset=".205" stop-color="#c7ff30"/><stop offset=".281" stop-color="#e1ff16"/><stop offset=".358" stop-color="#ebff0c"/><stop offset=".435" stop-color="#eeff09"/><stop offset=".524" stop-color="#f8f500"/><stop offset=".563" stop-color="#ffea00"/><stop offset=".575" stop-color="#ffea00"/><stop offset=".703" stop-color="#ffb200"/><stop offset=".716" stop-color="#ffb200"/><stop offset=".78" stop-color="#ff9f00"/><stop offset=".818" stop-color="#ff9c00"/><stop offset=".857" stop-color="#ff9f00"/><stop offset=".921" stop-color="#ffb600"/><stop offset=".946" stop-color="#ffc400"/><stop offset=".985" stop-color="#ffe600"/><stop offset="1" stop-color="#fbf100"/></linearGradient><linearGradient id="h41" x1="0" y1="0" x2="0" y2="1"><stop offset="0" stop-color="#66ff90"/><stop offset=".013" stop-color="#70ff87"/><stop offset=".064" stop-color="#8aff6d"/><stop offset=".153" stop-color="#aaff4d"/><stop offset=".205" stop-color="#c7ff30"/><stop offset=".281" stop-color="#e1ff16"/><stop offset=".358" stop-color="#ebff0c"/><stop offset=".435" stop-color="#eeff09"/><stop offset=".524" stop-color="#f8f500"/><stop offset=".563" stop-color="#ffea00"/><stop offset=".575" stop-color="#ffea00"/><stop offset=".703" stop-color="#ffb200"/><stop offset=".716" stop-color="#ffb200"/><stop offset=".78" stop-color="#ff9f00"/><stop offset=".818" stop-color="#ff9c00"/><stop offset=".857" stop-color="#ff9f00"/><stop offset=".921" stop-color="#ffb600"/><stop offset=".946" stop-color="#ffc400"/><stop offset=".985" stop-color="#ffe600"/><stop offset="1" stop-color="#fbf100"/></linearGradient><linearGradient id="h42" x1="0" y1="0" x2="0" y2="1"><stop offset="0" stop-color="#6dff8a"/><stop offset=".026" stop-color="#7dff7a"/><stop offset=".153" stop-color="#aaff4d"/><stop offset=".217" stop-color="#caff2c"/><stop offset=".281" stop-color="#e1ff16"/><stop offset=".358" stop-color="#ebff0c"/><stop offset=".435" stop-color="#eeff09"/><stop offset=".524" stop-color="#f8f500"/><stop offset=".563" stop-color="#ffea00"/><stop offset=".575" stop-color="#ffea00"/><stop offset=".703" stop-color="#ffb200"/><stop offset=".716" stop-color="#ffb200"/><stop offset=".78" stop-color="#ff9f00"/><stop offset=".818" stop-color="#ff9c00"/><stop offset=".857" stop-color="#ff9f00"/><stop offset=".921" stop-color="#ffb600"/><stop offset=".946" stop-color="#ffc400"/><stop offset=".985" stop-color="#ffe600"/><stop offset="1" stop-color="#fbf100"/></linearGradient><linearGradient id="h43" x1="0" y1="0" x2="0" y2="1"><stop offset="0" stop-color="#70ff87"/><stop offset=".038" stop-color="#83ff73"/><stop offset=".153" stop-color="#aaff4d"/><stop offset=".217" stop-color="#caff2c"/><stop offset=".281" stop-color="#e1ff16"/><stop offset=".358" stop-color="#ebff0c"/><stop offset=".435" stop-color="#eeff09"/><stop offset=".524" stop-color="#f8f500"/><stop offset=".563" stop-color="#ffea00"/><stop offset=".575" stop-color="#ffea00"/><stop offset=".703" stop-color="#ffb200"/><stop offset=".716" stop-color="#ffb200"/><stop offset=".78" stop-color="#ff9f00"/><stop offset=".818" stop-color="#ff9c00"/><stop offset=".857" stop-color="#ff9f00"/><stop offset=".921" stop-color="#ffb600"/><stop offset=".946" stop-color="#ffc400"/><stop offset=".985" stop-color="#ffe600"/><stop offset="1" stop-color="#fbf100"/></linearGradient><linearGradient id="h44" x1="0" y1="0" x2="0" y2="1"><stop offset="0" stop-color="#70ff87"/><stop offset=".026" stop-color="#80ff77"/><stop offset=".077" stop-color="#94ff63"/><stop offset=".128" stop-color="#a0ff56"/><stop offset=".166" stop-color="#b1ff46"/><stop offset=".205" stop-color="#c7ff30"/><stop offset=".281" stop-color="#e1ff16"/><stop offset=".358" stop-color="#ebff0c"/><stop offset=".435" stop-color="#eeff09"/><stop offset=".524" stop-color="#f8f500"/><stop offset=".563" stop-color="#ffea00"/><stop offset=".575" stop-color="#ffea00"/><stop offset=".703" stop-color="#ffb200"/><stop offset=".716" stop-color="#ffb200"/><stop offset=".78" stop-color="#ff9f00"/><stop offset=".818" stop-color="#ff9c00"/><stop offset=".857" stop-color="#ff9f00"/><stop offset=".921" stop-color="#ffb600"/><stop offset=".946" stop-color="#ffc400"/><stop offset=".985" stop-color="#ffe600"/><stop offset="1" stop-color="#fbf100"/></linearGradient><linearGradient id="h45" x1="0" y1="0" x2="0" y2="1"><stop offset="0" stop-color="#70ff87"/><stop offset=".038" stop-color="#87ff70"/><stop offset=".09" stop-color="#9aff5d"/><stop offset=".141" stop-color="#a7ff50"/><stop offset=".205" stop-color="#c7ff30"/><stop offset=".281" stop-color="#e1ff16"/><stop offset=".358" stop-color="#ebff0c"/><stop offset=".435" stop-color="#eeff09"/><stop offset=".524" stop-color="#f8f500"/><stop offset=".563" stop-color="#ffea00"/><stop offset=".575" stop-color="#ffea00"/><stop offset=".703" stop-color="#ffb200"/><stop offset=".716" stop-color="#ffb200"/><stop offset=".78" stop-color="#ff9f00"/><stop offset=".818" stop-color="#ff9c00"/><stop offset=".857" stop-color="#ff9f00"/><stop offset=".921" stop-color="#ffb600"/><stop offset=".946" stop-color="#ffc400"/><stop offset=".985" stop-color="#ffe600"/><stop offset="1" stop-color="#fbf100"/></linearGradient><linearGradient id="h46" x1="0" y1="0" x2="0" y2="1"><stop offset="0" stop-color="#73ff83"/><stop offset=".038" stop-color="#87ff70"/><stop offset=".09" stop-color="#9aff5d"/><stop offset=".153" stop-color="#adff49"/><stop offset=".217" stop-color="#ceff29"/><stop offset=".269" stop-color="#dbff1c"/><stop offset=".281" stop-color="#e1ff16"/><stop offset=".358" stop-color="#ebff0c"/><stop offset=".435" stop-color="#eeff09"/><stop offset=".524" stop-color="#f8f500"/><stop offset=".563" stop-color="#ffea00"/><stop offset=".575" stop-color="#ffea00"/><stop offset=".703" stop-color="#ffb200"/><stop offset=".716" stop-color="#ffb200"/><stop offset=".78" stop-color="#ff9f00"/><stop offset=".818" stop-color="#ff9c00"/><stop offset=".857" stop-color="#ff9f00"/><stop offset=".921" stop-color="#ffb600"/><stop offset=".946" stop-color="#ffc400"/><stop offset=".985" stop-color="#ffe600"/><stop offset="1" stop-color="#fbf100"/></linearGradient><linearGradient id="h47" x1="0" y1="0" x2="0" y2="1"><stop offset="0" stop-color="#73ff83"/><stop offset=".026" stop-color="#83ff73"/><stop offset=".077" stop-color="#97ff60"/><stop offset=".128" stop-color="#a4ff53"/><stop offset=".217" stop-color="#ceff29"/><stop offset=".269" stop-color="#dbff1c"/><stop offset=".281" stop-color="#e1ff16"/><stop offset=".358" stop-color="#ebff0c"/><stop offset=".435" stop-color="#eeff09"/><stop offset=".524" stop-color="#f8f500"/><stop offset=".563" stop-color="#ffea00"/><stop offset=".575" stop-color="#ffea00"/><stop offset=".703" stop-color="#ffb200"/><stop offset=".716" stop-color="#ffb200"/><stop offset=".78" stop-color="#ff9f00"/><stop offset=".818" stop-color="#ff9c00"/><stop offset=".857" stop-color="#ff9f00"/><stop offset=".921" stop-color="#ffb600"/><stop offset=".946" stop-color="#ffc400"/><stop offset=".985" stop-color="#ffe600"/><stop offset="1" stop-color="#fbf100"/></linearGradient><linearGradient id="h48" x1="0" y1="0" x2="0" y2="1"><stop offset="0" stop-color="#77ff80"/><stop offset=".038" stop-color="#8aff6d"/><stop offset=".141" stop-color="#a7ff50"/><stop offset=".192" stop-color="#c1ff36"/><stop offset=".243" stop-color="#d4ff23"/><stop offset=".307" stop-color="#e4ff13"/><stop offset=".396" stop-color="#eeff09"/><stop offset=".435" stop-color="#eeff09"/><stop offset=".524" stop-color="#f8f500"/><stop offset=".563" stop-color="#ffea00"/><stop offset=".575" stop-color="#ffea00"/><stop offset=".703" stop-color="#ffb200"/><stop offset=".716" stop-color="#ffb200"/><stop offset=".78" stop-color="#ff9f00"/><stop offset=".818" stop-color="#ff9c00"/><stop offset=".857" stop-color="#ff9f00"/><stop offset=".921" stop-color="#ffb600"/><stop offset=".946" stop-color="#ffc400"/><stop offset=".985" stop-color="#ffe600"/><stop offset="1" stop-color="#fbf100"/></linearGradient><linearGradient id="h49" x1="0" y1="0" x2="0" y2="1"><stop offset="0" stop-color="#7aff7d"/><stop offset=".026" stop-color="#87ff70"/><stop offset=".141" stop-color="#a7ff50"/><stop offset=".217" stop-color="#caff2c"/><stop offset=".256" stop-color="#d7ff1f"/><stop offset=".332" stop-color="#e7ff0f"/><stop offset=".435" stop-color="#eeff09"/><stop offset=".524" stop-color="#f8f500"/><stop offset=".563" stop-color="#ffea00"/><stop offset=".575" stop-color="#ffea00"/><stop offset=".703" stop-color="#ffb200"/><stop offset=".716" stop-color="#ffb200"/><stop offset=".78" stop-color="#ff9f00"/><stop offset=".818" stop-color="#ff9c00"/><stop offset=".857" stop-color="#ff9f00"/><stop offset=".921" stop-color="#ffb600"/><stop offset=".946" stop-color="#ffc400"/><stop offset=".985" stop-color="#ffe600"/><stop offset="1" stop-color="#fbf100"/></linearGradient><linearGradient id="h50" x1="0" y1="0" x2="0" y2="1"><stop offset="0" stop-color="#7aff7d"/><stop offset=".026" stop-color="#87ff70"/><stop offset=".064" stop-color="#94ff63"/><stop offset=".153" stop-color="#aaff4d"/><stop offset=".205" stop-color="#c4ff33"/><stop offset=".269" stop-color="#dbff1c"/><stop offset=".332" stop-color="#e7ff0f"/><stop offset=".435" stop-color="#eeff09"/><stop offset=".524" stop-color="#f8f500"/><stop offset=".563" stop-color="#ffea00"/><stop offset=".575" stop-color="#ffea00"/><stop offset=".703" stop-color="#ffb200"/><stop offset=".716" stop-color="#ffb200"/><stop offset=".78" stop-color="#ff9f00"/><stop offset=".818" stop-color="#ff9c00"/><stop offset=".857" stop-color="#ff9f00"/><stop offset=".921" stop-color="#ffb600"/><stop offset=".946" stop-color="#ffc400"/><stop offset=".985" stop-color="#ffe600"/><stop offset="1" stop-color="#fbf100"/></linearGradient><linearGradient id="h51" x1="0" y1="0" x2="0" y2="1"><stop offset="0" stop-color="#7aff7d"/><stop offset=".026" stop-color="#87ff70"/><stop offset=".064" stop-color="#94ff63"/><stop offset=".115" stop-color="#a0ff56"/><stop offset=".128" stop-color="#a0ff56"/><stop offset=".205" stop-color="#c4ff33"/><stop offset=".269" stop-color="#dbff1c"/><stop offset=".332" stop-color="#e7ff0f"/><stop offset=".435" stop-color="#eeff09"/><stop offset=".524" stop-color="#f8f500"/><stop offset=".563" stop-color="#ffea00"/><stop offset=".575" stop-color="#ffea00"/><stop offset=".703" stop-color="#ffb200"/><stop offset=".716" stop-color="#ffb200"/><stop offset=".78" stop-color="#ff9f00"/><stop offset=".818" stop-color="#ff9c00"/><stop offset=".857" stop-color="#ff9f00"/><stop offset=".921" stop-color="#ffb600"/><stop offset=".946" stop-color="#ffc400"/><stop offset=".985" stop-color="#ffe600"/><stop offset="1" stop-color="#fbf100"/></linearGradient><linearGradient id="h52" x1="0" y1="0" x2="0" y2="1"><stop offset="0" stop-color="#77ff80"/><stop offset=".026" stop-color="#83ff73"/><stop offset=".064" stop-color="#90ff66"/><stop offset=".128" stop-color="#a0ff56"/><stop offset=".269" stop-color="#dbff1c"/><stop offset=".332" stop-color="#e7ff0f"/><stop offset=".435" stop-color="#eeff09"/><stop offset=".524" stop-color="#f8f500"/><stop offset=".563" stop-color="#ffea00"/><stop offset=".575" stop-color="#ffea00"/><stop offset=".703" stop-color="#ffb200"/><stop offset=".716" stop-color="#ffb200"/><stop offset=".78" stop-color="#ff9f00"/><stop offset=".818" stop-color="#ff9c00"/><stop offset=".857" stop-color="#ff9f00"/><stop offset=".921" stop-color="#ffb600"/><stop offset=".946" stop-color="#ffc400"/><stop offset=".985" stop-color="#ffe600"/><stop offset="1" stop-color="#fbf100"/></linearGradient><linearGradient id="h53" x1="0" y1="0" x2="0" y2="1"><stop offset="0" stop-color="#70ff87"/><stop offset=".038" stop-color="#83ff73"/><stop offset=".141" stop-color="#a4ff53"/><stop offset=".243" stop-color="#d1ff26"/><stop offset=".281" stop-color="#deff19"/><stop offset=".332" stop-color="#e7ff0f"/><stop offset=".435" stop-color="#eeff09"/><stop offset=".524" stop-color="#f8f500"/><stop offset=".563" stop-color="#ffea00"/><stop offset=".575" stop-color="#ffea00"/><stop offset=".703" stop-color="#ffb200"/><stop offset=".716" stop-color="#ffb200"/><stop offset=".78" stop-color="#ff9f00"/><stop offset=".818" stop-color="#ff9c00"/><stop offset=".857" stop-color="#ff9f00"/><stop offset=".921" stop-color="#ffb600"/><stop offset=".946" stop-color="#ffc400"/><stop offset=".985" stop-color="#ffe600"/><stop offset="1" stop-color="#fbf100"/></linearGradient><linearGradient id="h54" x1="0" y1="0" x2="0" y2="1"><stop offset="0" stop-color="#6aff8d"/><stop offset=".051" stop-color="#83ff73"/><stop offset=".128" stop-color="#9dff5a"/><stop offset=".205" stop-color="#c1ff36"/><stop offset=".256" stop-color="#d4ff23"/><stop offset=".332" stop-color="#e7ff0f"/><stop offset=".435" stop-color="#eeff09"/><stop offset=".524" stop-color="#f8f500"/><stop offset=".563" stop-color="#ffea00"/><stop offset=".575" stop-color="#ffea00"/><stop offset=".703" stop-color="#ffb200"/><stop offset=".716" stop-color="#ffb200"/><stop offset=".78" stop-color="#ff9f00"/><stop offset=".818" stop-color="#ff9c00"/><stop offset=".857" stop-color="#ff9f00"/><stop offset=".921" stop-color="#ffb600"/><stop offset=".946" stop-color="#ffc400"/><stop offset=".985" stop-color="#ffe600"/><stop offset="1" stop-color="#fbf100"/></linearGradient><linearGradient id="h55" x1="0" y1="0" x2="0" y2="1"><stop offset="0" stop-color="#63ff94"/><stop offset=".038" stop-color="#7aff7d"/><stop offset=".102" stop-color="#90ff66"/><stop offset=".205" stop-color="#c1ff36"/><stop offset=".256" stop-color="#d4ff23"/><stop offset=".332" stop-color="#e7ff0f"/><stop offset=".435" stop-color="#eeff09"/><stop offset=".524" stop-color="#f8f500"/><stop offset=".563" stop-color="#ffea00"/><stop offset=".575" stop-color="#ffea00"/><stop offset=".703" stop-color="#ffb200"/><stop offset=".716" stop-color="#ffb200"/><stop offset=".78" stop-color="#ff9f00"/><stop offset=".818" stop-color="#ff9c00"/><stop offset=".857" stop-color="#ff9f00"/><stop offset=".921" stop-color="#ffb600"/><stop offset=".946" stop-color="#ffc400"/><stop offset=".985" stop-color="#ffe600"/><stop offset="1" stop-color="#fbf100"/></linearGradient><linearGradient id="h56" x1="0" y1="0" x2="0" y2="1"><stop offset="0" stop-color="#5aff9d"/><stop offset=".038" stop-color="#73ff83"/><stop offset=".09" stop-color="#87ff70"/><stop offset=".192" stop-color="#baff3c"/><stop offset=".269" stop-color="#d7ff1f"/><stop offset=".332" stop-color="#e7ff0f"/><stop offset=".435" stop-color="#eeff09"/><stop offset=".524" stop-color="#f8f500"/><stop offset=".563" stop-color="#ffea00"/><stop offset=".575" stop-color="#ffea00"/><stop offset=".703" stop-color="#ffb200"/><stop offset=".716" stop-color="#ffb200"/><stop offset=".78" stop-color="#ff9f00"/><stop offset=".818" stop-color="#ff9c00"/><stop offset=".857" stop-color="#ff9f00"/><stop offset=".921" stop-color="#ffb600"/><stop offset=".946" stop-color="#ffc400"/><stop offset=".985" stop-color="#ffe600"/><stop offset="1" stop-color="#fbf100"/></linearGradient><linearGradient id="h57" x1="0" y1="0" x2="0" y2="1"><stop offset="0" stop-color="#49ffad"/><stop offset=".051" stop-color="#70ff87"/><stop offset=".217" stop-color="#c4ff33"/><stop offset=".269" stop-color="#d7ff1f"/><stop offset=".332" stop-color="#e7ff0f"/><stop offset=".435" stop-color="#eeff09"/><stop offset=".524" stop-color="#f8f500"/><stop offset=".563" stop-color="#ffea00"/><stop offset=".575" stop-color="#ffea00"/><stop offset=".703" stop-color="#ffb200"/><stop offset=".716" stop-color="#ffb200"/><stop offset=".78" stop-color="#ff9f00"/><stop offset=".818" stop-color="#ff9c00"/><stop offset=".857" stop-color="#ff9f00"/><stop offset=".921" stop-color="#ffb600"/><stop offset=".946" stop-color="#ffc400"/><stop offset=".985" stop-color="#ffe600"/><stop offset="1" stop-color="#fbf100"/></linearGradient><linearGradient id="h58" x1="0" y1="0" x2="0" y2="1"><stop offset="0" stop-color="#36ffc1"/><stop offset=".038" stop-color="#5dff9a"/><stop offset=".064" stop-color="#70ff87"/><stop offset=".115" stop-color="#8aff6d"/><stop offset=".166" stop-color="#aaff4d"/><stop offset=".205" stop-color="#beff39"/><stop offset=".281" stop-color="#dbff1c"/><stop offset=".332" stop-color="#e7ff0f"/><stop offset=".435" stop-color="#eeff09"/><stop offset=".524" stop-color="#f8f500"/><stop offset=".563" stop-color="#ffea00"/><stop offset=".575" stop-color="#ffea00"/><stop offset=".703" stop-color="#ffb200"/><stop offset=".716" stop-color="#ffb200"/><stop offset=".78" stop-color="#ff9f00"/><stop offset=".818" stop-color="#ff9c00"/><stop offset=".857" stop-color="#ff9f00"/><stop offset=".921" stop-color="#ffb600"/><stop offset=".946" stop-color="#ffc400"/><stop offset=".985" stop-color="#ffe600"/><stop offset="1" stop-color="#fbf100"/></linearGradient><linearGradient id="h59" x1="0" y1="0" x2="0" y2="1"><stop offset="0" stop-color="#23ffd4"/><stop offset=".051" stop-color="#60ff97"/><stop offset=".128" stop-color="#8dff6a"/><stop offset=".153" stop-color="#a0ff56"/><stop offset=".256" stop-color="#d1ff26"/><stop offset=".345" stop-color="#e7ff0f"/><stop offset=".396" stop-color="#eeff09"/><stop offset=".435" stop-color="#eeff09"/><stop offset=".524" stop-color="#f8f500"/><stop offset=".563" stop-color="#ffea00"/><stop offset=".575" stop-color="#ffea00"/><stop offset=".703" stop-color="#ffb200"/><stop offset=".716" stop-color="#ffb200"/><stop offset=".78" stop-color="#ff9f00"/><stop offset=".818" stop-color="#ff9c00"/><stop offset=".857" stop-color="#ff9f00"/><stop offset=".921" stop-color="#ffb600"/><stop offset=".946" stop-color="#ffc400"/><stop offset=".985" stop-color="#ffe600"/><stop offset="1" stop-color="#fbf100"/></linearGradient><linearGradient id="h60" x1="0" y1="0" x2="0" y2="1"><stop offset="0" stop-color="#0ff8e7"/><stop offset=".013" stop-color="#23ffd4"/><stop offset=".051" stop-color="#56ffa0"/><stop offset=".153" stop-color="#9dff5a"/><stop offset=".217" stop-color="#c1ff36"/><stop offset=".269" stop-color="#d4ff23"/><stop offset=".345" stop-color="#e7ff0f"/><stop offset=".396" stop-color="#eeff09"/><stop offset=".435" stop-color="#eeff09"/><stop offset=".524" stop-color="#f8f500"/><stop offset=".563" stop-color="#ffea00"/><stop offset=".575" stop-color="#ffea00"/><stop offset=".703" stop-color="#ffb200"/><stop offset=".716" stop-color="#ffb200"/><stop offset=".78" stop-color="#ff9f00"/><stop offset=".818" stop-color="#ff9c00"/><stop offset=".857" stop-color="#ff9f00"/><stop offset=".921" stop-color="#ffb600"/><stop offset=".946" stop-color="#ffc400"/><stop offset=".985" stop-color="#ffe600"/><stop offset="1" stop-color="#fbf100"/></linearGradient><linearGradient id="h61" x1="0" y1="0" x2="0" y2="1"><stop offset="0" stop-color="#06ecf1"/><stop offset=".013" stop-color="#19ffde"/><stop offset=".038" stop-color="#40ffb7"/><stop offset=".064" stop-color="#5aff9d"/><stop offset=".153" stop-color="#9aff5d"/><stop offset=".205" stop-color="#baff3c"/><stop offset=".243" stop-color="#c7ff30"/><stop offset=".269" stop-color="#d4ff23"/><stop offset=".345" stop-color="#e7ff0f"/><stop offset=".396" stop-color="#eeff09"/><stop offset=".435" stop-color="#eeff09"/><stop offset=".524" stop-color="#f8f500"/><stop offset=".563" stop-color="#ffea00"/><stop offset=".575" stop-color="#ffea00"/><stop offset=".703" stop-color="#ffb200"/><stop offset=".716" stop-color="#ffb200"/><stop offset=".78" stop-color="#ff9f00"/><stop offset=".818" stop-color="#ff9c00"/><stop offset=".857" stop-color="#ff9f00"/><stop offset=".921" stop-color="#ffb600"/><stop offset=".946" stop-color="#ffc400"/><stop offset=".985" stop-color="#ffe600"/><stop offset="1" stop-color="#fbf100"/></linearGradient><linearGradient id="h62" x1="0" y1="0" x2="0" y2="1"><stop offset="0" stop-color="#00e4f8"/><stop offset=".013" stop-color="#13fce4"/><stop offset=".026" stop-color="#26ffd1"/><stop offset=".051" stop-color="#46ffb1"/><stop offset=".141" stop-color="#90ff66"/><stop offset=".192" stop-color="#b1ff46"/><stop offset=".23" stop-color="#c4ff33"/><stop offset=".281" stop-color="#d7ff1f"/><stop offset=".345" stop-color="#e7ff0f"/><stop offset=".396" stop-color="#eeff09"/><stop offset=".435" stop-color="#eeff09"/><stop offset=".524" stop-color="#f8f500"/><stop offset=".563" stop-color="#ffea00"/><stop offset=".575" stop-color="#ffea00"/><stop offset=".703" stop-color="#ffb200"/><stop offset=".716" stop-color="#ffb200"/><stop offset=".78" stop-color="#ff9f00"/><stop offset=".818" stop-color="#ff9c00"/><stop offset=".857" stop-color="#ff9f00"/><stop offset=".921" stop-color="#ffb600"/><stop offset=".946" stop-color="#ffc400"/><stop offset=".985" stop-color="#ffe600"/><stop offset="1" stop-color="#fbf100"/></linearGradient><linearGradient id="h63" x1="0" y1="0" x2="0" y2="1"><stop offset="0" stop-color="#00dcfe"/><stop offset=".013" stop-color="#09f0ee"/><stop offset=".026" stop-color="#1cffdb"/><stop offset=".038" stop-color="#30ffc7"/><stop offset=".09" stop-color="#63ff94"/><stop offset=".153" stop-color="#97ff60"/><stop offset=".243" stop-color="#c7ff30"/><stop offset=".307" stop-color="#deff19"/><stop offset=".371" stop-color="#ebff0c"/><stop offset=".435" stop-color="#eeff09"/><stop offset=".524" stop-color="#f8f500"/><stop offset=".563" stop-color="#ffea00"/><stop offset=".575" stop-color="#ffea00"/><stop offset=".703" stop-color="#ffb200"/><stop offset=".716" stop-color="#ffb200"/><stop offset=".78" stop-color="#ff9f00"/><stop offset=".818" stop-color="#ff9c00"/><stop offset=".857" stop-color="#ff9f00"/><stop offset=".921" stop-color="#ffb600"/><stop offset=".946" stop-color="#ffc400"/><stop offset=".985" stop-color="#ffe600"/><stop offset="1" stop-color="#fbf100"/></linearGradient><linearGradient id="h64" x1="0" y1="0" x2="0" y2="1"><stop offset="0" stop-color="#00d4ff"/><stop offset=".013" stop-color="#02e8f4"/><stop offset=".026" stop-color="#13fce4"/><stop offset=".051" stop-color="#36ffc1"/><stop offset=".102" stop-color="#6aff8d"/><stop offset=".166" stop-color="#9dff5a"/><stop offset=".23" stop-color="#c1ff36"/><stop offset=".32" stop-color="#e1ff16"/><stop offset=".396" stop-color="#eeff09"/><stop offset=".435" stop-color="#eeff09"/><stop offset=".524" stop-color="#f8f500"/><stop offset=".563" stop-color="#ffea00"/><stop offset=".575" stop-color="#ffea00"/><stop offset=".703" stop-color="#ffb200"/><stop offset=".716" stop-color="#ffb200"/><stop offset=".78" stop-color="#ff9f00"/><stop offset=".818" stop-color="#ff9c00"/><stop offset=".857" stop-color="#ff9f00"/><stop offset=".921" stop-color="#ffb600"/><stop offset=".946" stop-color="#ffc400"/><stop offset=".985" stop-color="#ffe600"/><stop offset="1" stop-color="#fbf100"/></linearGradient><linearGradient id="h65" x1="0" y1="0" x2="0" y2="1"><stop offset="0" stop-color="#00c8ff"/><stop offset=".013" stop-color="#00dcfe"/><stop offset=".026" stop-color="#0cf4eb"/><stop offset=".038" stop-color="#1cffdb"/><stop offset=".064" stop-color="#3cffba"/><stop offset=".09" stop-color="#56ffa0"/><stop offset=".128" stop-color="#7dff7a"/><stop offset=".153" stop-color="#90ff66"/><stop offset=".192" stop-color="#aaff4d"/><stop offset=".281" stop-color="#d4ff23"/><stop offset=".371" stop-color="#ebff0c"/><stop offset=".435" stop-color="#eeff09"/><stop offset=".524" stop-color="#f8f500"/><stop offset=".563" stop-color="#ffea00"/><stop offset=".575" stop-color="#ffea00"/><stop offset=".703" stop-color="#ffb200"/><stop offset=".716" stop-color="#ffb200"/><stop offset=".78" stop-color="#ff9f00"/><stop offset=".818" stop-color="#ff9c00"/><stop offset=".857" stop-color="#ff9f00"/><stop offset=".921" stop-color="#ffb600"/><stop offset=".946" stop-color="#ffc400"/><stop offset=".985" stop-color="#ffe600"/><stop offset="1" stop-color="#fbf100"/></linearGradient><linearGradient id="h66" x1="0" y1="0" x2="0" y2="1"><stop offset="0" stop-color="#00b8ff"/><stop offset=".013" stop-color="#00ccff"/><stop offset=".026" stop-color="#00e4f8"/><stop offset=".038" stop-color="#13fce4"/><stop offset=".09" stop-color="#50ffa7"/><stop offset=".115" stop-color="#6aff8d"/><stop offset=".179" stop-color="#9dff5a"/><stop offset=".269" stop-color="#ceff29"/><stop offset=".307" stop-color="#dbff1c"/><stop offset=".396" stop-color="#eeff09"/><stop offset=".473" stop-color="#f1fc06"/><stop offset=".524" stop-color="#f8f500"/><stop offset=".563" stop-color="#ffea00"/><stop offset=".575" stop-color="#ffea00"/><stop offset=".703" stop-color="#ffb200"/><stop offset=".716" stop-color="#ffb200"/><stop offset=".78" stop-color="#ff9f00"/><stop offset=".818" stop-color="#ff9c00"/><stop offset=".857" stop-color="#ff9f00"/><stop offset=".921" stop-color="#ffb600"/><stop offset=".946" stop-color="#ffc400"/><stop offset=".985" stop-color="#ffe600"/><stop offset="1" stop-color="#fbf100"/></linearGradient><linearGradient id="h67" x1="0" y1="0" x2="0" y2="1"><stop offset="0" stop-color="#00a8ff"/><stop offset=".026" stop-color="#00d4ff"/><stop offset=".038" stop-color="#06ecf1"/><stop offset=".051" stop-color="#19ffde"/><stop offset=".09" stop-color="#49ffad"/><stop offset=".141" stop-color="#7aff7d"/><stop offset=".205" stop-color="#aaff4d"/><stop offset=".281" stop-color="#d1ff26"/><stop offset=".32" stop-color="#deff19"/><stop offset=".396" stop-color="#eeff09"/><stop offset=".473" stop-color="#f1fc06"/><stop offset=".524" stop-color="#f8f500"/><stop offset=".563" stop-color="#ffea00"/><stop offset=".575" stop-color="#ffea00"/><stop offset=".703" stop-color="#ffb200"/><stop offset=".716" stop-color="#ffb200"/><stop offset=".78" stop-color="#ff9f00"/><stop offset=".818" stop-color="#ff9c00"/><stop offset=".857" stop-color="#ff9f00"/><stop offset=".921" stop-color="#ffb600"/><stop offset=".946" stop-color="#ffc400"/><stop offset=".985" stop-color="#ffe600"/><stop offset="1" stop-color="#fbf100"/></linearGradient><linearGradient id="h68" x1="0" y1="0" x2="0" y2="1"><stop offset="0" stop-color="#0094ff"/><stop offset=".026" stop-color="#00c8ff"/><stop offset=".038" stop-color="#00e0fb"/><stop offset=".051" stop-color="#0ff8e7"/><stop offset=".064" stop-color="#1fffd7"/><stop offset=".09" stop-color="#40ffb7"/><stop offset=".128" stop-color="#66ff90"/><stop offset=".205" stop-color="#a7ff50"/><stop offset=".294" stop-color="#d4ff23"/><stop offset=".332" stop-color="#e1ff16"/><stop offset=".396" stop-color="#eeff09"/><stop offset=".473" stop-color="#f1fc06"/><stop offset=".524" stop-color="#f8f500"/><stop offset=".563" stop-color="#ffea00"/><stop offset=".575" stop-color="#ffea00"/><stop offset=".703" stop-color="#ffb200"/><stop offset=".716" stop-color="#ffb200"/><stop offset=".78" stop-color="#ff9f00"/><stop offset=".818" stop-color="#ff9c00"/><stop offset=".857" stop-color="#ff9f00"/><stop offset=".921" stop-color="#ffb600"/><stop offset=".946" stop-color="#ffc400"/><stop offset=".985" stop-color="#ffe600"/><stop offset="1" stop-color="#fbf100"/></linearGradient><linearGradient id="h69" x1="0" y1="0" x2="0" y2="1"><stop offset="0" stop-color="#0084ff"/><stop offset=".038" stop-color="#00d0ff"/><stop offset=".051" stop-color="#02e8f4"/><stop offset=".064" stop-color="#16ffe1"/><stop offset=".09" stop-color="#39ffbe"/><stop offset=".102" stop-color="#46ffb1"/><stop offset=".192" stop-color="#97ff60"/><stop offset=".217" stop-color="#aaff4d"/><stop offset=".269" stop-color="#c7ff30"/><stop offset=".332" stop-color="#e1ff16"/><stop offset=".396" stop-color="#eeff09"/><stop offset=".473" stop-color="#f1fc06"/><stop offset=".524" stop-color="#f8f500"/><stop offset=".563" stop-color="#ffea00"/><stop offset=".575" stop-color="#ffea00"/><stop offset=".703" stop-color="#ffb200"/><stop offset=".716" stop-color="#ffb200"/><stop offset=".78" stop-color="#ff9f00"/><stop offset=".818" stop-color="#ff9c00"/><stop offset=".857" stop-color="#ff9f00"/><stop offset=".921" stop-color="#ffb600"/><stop offset=".946" stop-color="#ffc400"/><stop offset=".985" stop-color="#ffe600"/><stop offset="1" stop-color="#fbf100"/></linearGradient><linearGradient id="h70" x1="0" y1="0" x2="0" y2="1"><stop offset="0" stop-color="#007cff"/><stop offset=".026" stop-color="#00acff"/><stop offset=".038" stop-color="#00c8ff"/><stop offset=".051" stop-color="#00e0fb"/><stop offset=".064" stop-color="#0cf4eb"/><stop offset=".077" stop-color="#1cffdb"/><stop offset=".09" stop-color="#30ffc7"/><stop offset=".205" stop-color="#9dff5a"/><stop offset=".256" stop-color="#beff39"/><stop offset=".32" stop-color="#dbff1c"/><stop offset=".396" stop-color="#eeff09"/><stop offset=".473" stop-color="#f1fc06"/><stop offset=".524" stop-color="#f8f500"/><stop offset=".563" stop-color="#ffea00"/><stop offset=".575" stop-color="#ffea00"/><stop offset=".703" stop-color="#ffb200"/><stop offset=".716" stop-color="#ffb200"/><stop offset=".78" stop-color="#ff9f00"/><stop offset=".818" stop-color="#ff9c00"/><stop offset=".857" stop-color="#ff9f00"/><stop offset=".921" stop-color="#ffb600"/><stop offset=".946" stop-color="#ffc400"/><stop offset=".985" stop-color="#ffe600"/><stop offset="1" stop-color="#fbf100"/></linearGradient><linearGradient id="h71" x1="0" y1="0" x2="0" y2="1"><stop offset="0" stop-color="#0074ff"/><stop offset=".051" stop-color="#00d4ff"/><stop offset=".064" stop-color="#02e8f4"/><stop offset=".077" stop-color="#13fce4"/><stop offset=".09" stop-color="#26ffd1"/><stop offset=".205" stop-color="#9aff5d"/><stop offset=".256" stop-color="#baff3c"/><stop offset=".332" stop-color="#deff19"/><stop offset=".384" stop-color="#ebff0c"/><stop offset=".435" stop-color="#eeff09"/><stop offset=".524" stop-color="#f8f500"/><stop offset=".563" stop-color="#ffea00"/><stop offset=".575" stop-color="#ffea00"/><stop offset=".703" stop-color="#ffb200"/><stop offset=".716" stop-color="#ffb200"/><stop offset=".78" stop-color="#ff9f00"/><stop offset=".818" stop-color="#ff9c00"/><stop offset=".857" stop-color="#ff9f00"/><stop offset=".921" stop-color="#ffb600"/><stop offset=".946" stop-color="#ffc400"/><stop offset=".985" stop-color="#ffe600"/><stop offset="1" stop-color="#fbf100"/></linearGradient><linearGradient id="h72" x1="0" y1="0" x2="0" y2="1"><stop offset="0" stop-color="#0070ff"/><stop offset=".038" stop-color="#00b4ff"/><stop offset=".064" stop-color="#00dcfe"/><stop offset=".077" stop-color="#09f0ee"/><stop offset=".09" stop-color="#19ffde"/><stop offset=".205" stop-color="#94ff63"/><stop offset=".256" stop-color="#b7ff40"/><stop offset=".332" stop-color="#deff19"/><stop offset=".384" stop-color="#ebff0c"/><stop offset=".435" stop-color="#eeff09"/><stop offset=".524" stop-color="#f8f500"/><stop offset=".563" stop-color="#ffea00"/><stop offset=".575" stop-color="#ffea00"/><stop offset=".703" stop-color="#ffb200"/><stop offset=".716" stop-color="#ffb200"/><stop offset=".78" stop-color="#ff9f00"/><stop offset=".818" stop-color="#ff9c00"/><stop offset=".857" stop-color="#ff9f00"/><stop offset=".921" stop-color="#ffb600"/><stop offset=".946" stop-color="#ffc400"/><stop offset=".985" stop-color="#ffe600"/><stop offset="1" stop-color="#fbf100"/></linearGradient><linearGradient id="h73" x1="0" y1="0" x2="0" y2="1"><stop offset="0" stop-color="#006cff"/><stop offset=".064" stop-color="#00d4ff"/><stop offset=".077" stop-color="#00e4f8"/><stop offset=".09" stop-color="#0ff8e7"/><stop offset=".102" stop-color="#1fffd7"/><stop offset=".205" stop-color="#90ff66"/><stop offset=".281" stop-color="#c4ff33"/><stop offset=".332" stop-color="#deff19"/><stop offset=".396" stop-color="#ebff0c"/><stop offset=".435" stop-color="#eeff09"/><stop offset=".524" stop-color="#f8f500"/><stop offset=".563" stop-color="#ffea00"/><stop offset=".575" stop-color="#ffea00"/><stop offset=".703" stop-color="#ffb200"/><stop offset=".716" stop-color="#ffb200"/><stop offset=".78" stop-color="#ff9f00"/><stop offset=".818" stop-color="#ff9c00"/><stop offset=".857" stop-color="#ff9f00"/><stop offset=".921" stop-color="#ffb600"/><stop offset=".946" stop-color="#ffc400"/><stop offset=".985" stop-color="#ffe600"/><stop offset="1" stop-color="#fbf100"/></linearGradient><linearGradient id="h74" x1="0" y1="0" x2="0" y2="1"><stop offset="0" stop-color="#0068ff"/><stop offset=".064" stop-color="#00ccff"/><stop offset=".077" stop-color="#00dcfe"/><stop offset=".09" stop-color="#09f0ee"/><stop offset=".102" stop-color="#16ffe1"/><stop offset=".205" stop-color="#8dff6a"/><stop offset=".269" stop-color="#baff3c"/><stop offset=".32" stop-color="#d4ff23"/><stop offset=".332" stop-color="#deff19"/><stop offset=".345" stop-color="#deff19"/><stop offset=".396" stop-color="#ebff0c"/><stop offset=".435" stop-color="#eeff09"/><stop offset=".524" stop-color="#f8f500"/><stop offset=".563" stop-color="#ffea00"/><stop offset=".575" stop-color="#ffea00"/><stop offset=".703" stop-color="#ffb200"/><stop offset=".716" stop-color="#ffb200"/><stop offset=".78" stop-color="#ff9f00"/><stop offset=".818" stop-color="#ff9c00"/><stop offset=".857" stop-color="#ff9f00"/><stop offset=".921" stop-color="#ffb600"/><stop offset=".946" stop-color="#ffc400"/><stop offset=".985" stop-color="#ffe600"/><stop offset="1" stop-color="#fbf100"/></linearGradient><linearGradient id="h75" x1="0" y1="0" x2="0" y2="1"><stop offset="0" stop-color="#0064ff"/><stop offset=".051" stop-color="#00b4ff"/><stop offset=".077" stop-color="#00d8ff"/><stop offset=".09" stop-color="#02e8f4"/><stop offset=".102" stop-color="#13fce4"/><stop offset=".141" stop-color="#3cffba"/><stop offset=".192" stop-color="#7dff7a"/><stop offset=".217" stop-color="#97ff60"/><stop offset=".281" stop-color="#c1ff36"/><stop offset=".332" stop-color="#dbff1c"/><stop offset=".396" stop-color="#ebff0c"/><stop offset=".473" stop-color="#f1fc06"/><stop offset=".524" stop-color="#f8f500"/><stop offset=".563" stop-color="#ffea00"/><stop offset=".575" stop-color="#ffea00"/><stop offset=".703" stop-color="#ffb200"/><stop offset=".716" stop-color="#ffb200"/><stop offset=".78" stop-color="#ff9f00"/><stop offset=".818" stop-color="#ff9c00"/><stop offset=".857" stop-color="#ff9f00"/><stop offset=".921" stop-color="#ffb600"/><stop offset=".946" stop-color="#ffc400"/><stop offset=".985" stop-color="#ffe600"/><stop offset="1" stop-color="#fbf100"/></linearGradient><linearGradient id="h76" x1="0" y1="0" x2="0" y2="1"><stop offset="0" stop-color="#0048ff"/><stop offset=".102" stop-color="#00d0ff"/><stop offset=".115" stop-color="#00e4f8"/><stop offset=".128" stop-color="#0ff8e7"/><stop offset=".141" stop-color="#1cffdb"/><stop offset=".205" stop-color="#6dff8a"/><stop offset=".256" stop-color="#9dff5a"/><stop offset=".332" stop-color="#d7ff1f"/><stop offset=".371" stop-color="#e4ff13"/><stop offset=".422" stop-color="#eeff09"/><stop offset=".473" stop-color="#f1fc06"/><stop offset=".512" stop-color="#f8f500"/><stop offset=".575" stop-color="#ffea00"/><stop offset=".703" stop-color="#ffb200"/><stop offset=".716" stop-color="#ffb200"/><stop offset=".78" stop-color="#ff9f00"/><stop offset=".818" stop-color="#ff9c00"/><stop offset=".857" stop-color="#ff9f00"/><stop offset=".921" stop-color="#ffb600"/><stop offset=".946" stop-color="#ffc400"/><stop offset=".985" stop-color="#ffe600"/><stop offset="1" stop-color="#fbf100"/></linearGradient><linearGradient id="h77" x1="0" y1="0" x2="0" y2="1"><stop offset="0" stop-color="#0000df"/><stop offset=".026" stop-color="#0000fa"/><stop offset=".051" stop-color="#0004ff"/><stop offset=".09" stop-color="#0028ff"/><stop offset=".128" stop-color="#0060ff"/><stop offset=".179" stop-color="#00b0ff"/><stop offset=".205" stop-color="#00dcfe"/><stop offset=".217" stop-color="#0cf4eb"/><stop offset=".23" stop-color="#23ffd4"/><stop offset=".269" stop-color="#6aff8d"/><stop offset=".332" stop-color="#c1ff36"/><stop offset=".396" stop-color="#ebff0c"/><stop offset=".473" stop-color="#f1fc06"/><stop offset=".512" stop-color="#f8f500"/><stop offset=".575" stop-color="#ffea00"/><stop offset=".703" stop-color="#ffb200"/><stop offset=".716" stop-color="#ffb200"/><stop offset=".78" stop-color="#ff9f00"/><stop offset=".818" stop-color="#ff9c00"/><stop offset=".857" stop-color="#ff9f00"/><stop offset=".921" stop-color="#ffb600"/><stop offset=".946" stop-color="#ffc400"/><stop offset=".985" stop-color="#ffe600"/><stop offset="1" stop-color="#fbf100"/></linearGradient><linearGradient id="h78" x1="0" y1="0" x2="0" y2="1"><stop offset="0" stop-color="#0000e3"/><stop offset=".026" stop-color="#0000ff"/><stop offset=".038" stop-color="#0000ff"/><stop offset=".051" stop-color="#0008ff"/><stop offset=".064" stop-color="#0018ff"/><stop offset=".09" stop-color="#0030ff"/><stop offset=".115" stop-color="#0058ff"/><stop offset=".128" stop-color="#0068ff"/><stop offset=".192" stop-color="#00d0ff"/><stop offset=".205" stop-color="#00e4f8"/><stop offset=".217" stop-color="#13fce4"/><stop offset=".269" stop-color="#6dff8a"/><stop offset=".281" stop-color="#80ff77"/><stop offset=".332" stop-color="#c1ff36"/><stop offset=".358" stop-color="#d4ff23"/><stop offset=".396" stop-color="#ebff0c"/><stop offset=".473" stop-color="#f1fc06"/><stop offset=".512" stop-color="#f8f500"/><stop offset=".575" stop-color="#ffea00"/><stop offset=".703" stop-color="#ffb200"/><stop offset=".716" stop-color="#ffb200"/><stop offset=".78" stop-color="#ff9f00"/><stop offset=".818" stop-color="#ff9c00"/><stop offset=".857" stop-color="#ff9f00"/><stop offset=".921" stop-color="#ffb600"/><stop offset=".946" stop-color="#ffc400"/><stop offset=".985" stop-color="#ffe600"/><stop offset="1" stop-color="#fbf100"/></linearGradient><linearGradient id="h79" x1="0" y1="0" x2="0" y2="1"><stop offset="0" stop-color="#0000ff"/><stop offset=".013" stop-color="#0004ff"/><stop offset=".038" stop-color="#0028ff"/><stop offset=".064" stop-color="#0050ff"/><stop offset=".09" stop-color="#0080ff"/><stop offset=".141" stop-color="#00d0ff"/><stop offset=".153" stop-color="#00e4f8"/><stop offset=".166" stop-color="#0ff8e7"/><stop offset=".179" stop-color="#1fffd7"/><stop offset=".269" stop-color="#94ff63"/><stop offset=".294" stop-color="#adff49"/><stop offset=".332" stop-color="#d1ff26"/><stop offset=".384" stop-color="#e7ff0f"/><stop offset=".448" stop-color="#f1fc06"/><stop offset=".473" stop-color="#f1fc06"/><stop offset=".512" stop-color="#f8f500"/><stop offset=".575" stop-color="#ffea00"/><stop offset=".703" stop-color="#ffb200"/><stop offset=".716" stop-color="#ffb200"/><stop offset=".78" stop-color="#ff9f00"/><stop offset=".818" stop-color="#ff9c00"/><stop offset=".857" stop-color="#ff9f00"/><stop offset=".921" stop-color="#ffb600"/><stop offset=".946" stop-color="#ffc400"/><stop offset=".985" stop-color="#ffe600"/><stop offset="1" stop-color="#fbf100"/></linearGradient><linearGradient id="h80" x1="0" y1="0" x2="0" y2="1"><stop offset="0" stop-color="#0000ff"/><stop offset=".013" stop-color="#0004ff"/><stop offset=".038" stop-color="#0028ff"/><stop offset=".051" stop-color="#003cff"/><stop offset=".077" stop-color="#006cff"/><stop offset=".141" stop-color="#00d4ff"/><stop offset=".153" stop-color="#02e8f4"/><stop offset=".166" stop-color="#0ff8e7"/><stop offset=".179" stop-color="#1fffd7"/><stop offset=".269" stop-color="#94ff63"/><stop offset=".281" stop-color="#a0ff56"/><stop offset=".332" stop-color="#ceff29"/><stop offset=".396" stop-color="#ebff0c"/><stop offset=".473" stop-color="#f1fc06"/><stop offset=".512" stop-color="#f8f500"/><stop offset=".575" stop-color="#ffea00"/><stop offset=".703" stop-color="#ffb200"/><stop offset=".716" stop-color="#ffb200"/><stop offset=".78" stop-color="#ff9f00"/><stop offset=".818" stop-color="#ff9c00"/><stop offset=".857" stop-color="#ff9f00"/><stop offset=".921" stop-color="#ffb600"/><stop offset=".946" stop-color="#ffc400"/><stop offset=".985" stop-color="#ffe600"/><stop offset="1" stop-color="#fbf100"/></linearGradient><linearGradient id="h81" x1="0" y1="0" x2="0" y2="1"><stop offset="0" stop-color="#0000ff"/><stop offset=".013" stop-color="#0004ff"/><stop offset=".051" stop-color="#0040ff"/><stop offset=".09" stop-color="#0084ff"/><stop offset=".141" stop-color="#00d8ff"/><stop offset=".153" stop-color="#06ecf1"/><stop offset=".166" stop-color="#13fce4"/><stop offset=".243" stop-color="#73ff83"/><stop offset=".294" stop-color="#aaff4d"/><stop offset=".332" stop-color="#ceff29"/><stop offset=".384" stop-color="#e4ff13"/><stop offset=".435" stop-color="#eeff09"/><stop offset=".473" stop-color="#f4f802"/><stop offset=".524" stop-color="#f8f500"/><stop offset=".563" stop-color="#ffea00"/><stop offset=".575" stop-color="#ffea00"/><stop offset=".703" stop-color="#ffb200"/><stop offset=".716" stop-color="#ffb200"/><stop offset=".78" stop-color="#ff9f00"/><stop offset=".818" stop-color="#ff9c00"/><stop offset=".857" stop-color="#ff9f00"/><stop offset=".921" stop-color="#ffb600"/><stop offset=".946" stop-color="#ffc400"/><stop offset=".985" stop-color="#ffe600"/><stop offset="1" stop-color="#fbf100"/></linearGradient><linearGradient id="h82" x1="0" y1="0" x2="0" y2="1"><stop offset="0" stop-color="#0000fa"/><stop offset=".013" stop-color="#0004ff"/><stop offset=".038" stop-color="#002cff"/><stop offset=".09" stop-color="#008cff"/><stop offset=".141" stop-color="#00dcfe"/><stop offset=".153" stop-color="#09f0ee"/><stop offset=".166" stop-color="#19ffde"/><stop offset=".281" stop-color="#9dff5a"/><stop offset=".332" stop-color="#c7ff30"/><stop offset=".396" stop-color="#e7ff0f"/><stop offset=".435" stop-color="#eeff09"/><stop offset=".46" stop-color="#f4f802"/><stop offset=".499" stop-color="#f4f802"/><stop offset=".55" stop-color="#feed00"/><stop offset=".575" stop-color="#ffea00"/><stop offset=".703" stop-color="#ffb200"/><stop offset=".716" stop-color="#ffb200"/><stop offset=".78" stop-color="#ff9f00"/><stop offset=".818" stop-color="#ff9c00"/><stop offset=".857" stop-color="#ff9f00"/><stop offset=".921" stop-color="#ffb600"/><stop offset=".946" stop-color="#ffc400"/><stop offset=".985" stop-color="#ffe600"/><stop offset="1" stop-color="#fbf100"/></linearGradient><linearGradient id="h83" x1="0" y1="0" x2="0" y2="1"><stop offset="0" stop-color="#0000f6"/><stop offset=".013" stop-color="#0000ff"/><stop offset=".09" stop-color="#0090ff"/><stop offset=".128" stop-color="#00ccff"/><stop offset=".141" stop-color="#00e0fb"/><stop offset=".153" stop-color="#0cf4eb"/><stop offset=".166" stop-color="#1cffdb"/><stop offset=".269" stop-color="#90ff66"/><stop offset=".345" stop-color="#ceff29"/><stop offset=".396" stop-color="#e7ff0f"/><stop offset=".435" stop-color="#eeff09"/><stop offset=".46" stop-color="#f4f802"/><stop offset=".499" stop-color="#f4f802"/><stop offset=".55" stop-color="#feed00"/><stop offset=".575" stop-color="#ffea00"/><stop offset=".703" stop-color="#ffb200"/><stop offset=".716" stop-color="#ffb200"/><stop offset=".78" stop-color="#ff9f00"/><stop offset=".818" stop-color="#ff9c00"/><stop offset=".857" stop-color="#ff9f00"/><stop offset=".921" stop-color="#ffb600"/><stop offset=".946" stop-color="#ffc400"/><stop offset=".985" stop-color="#ffe600"/><stop offset="1" stop-color="#fbf100"/></linearGradient><linearGradient id="h84" x1="0" y1="0" x2="0" y2="1"><stop offset="0" stop-color="#0000f6"/><stop offset=".013" stop-color="#0000ff"/><stop offset=".09" stop-color="#0094ff"/><stop offset=".115" stop-color="#00bcff"/><stop offset=".128" stop-color="#00d4ff"/><stop offset=".141" stop-color="#02e8f4"/><stop offset=".153" stop-color="#0ff8e7"/><stop offset=".166" stop-color="#1fffd7"/><stop offset=".217" stop-color="#5aff9d"/><stop offset=".281" stop-color="#9aff5d"/><stop offset=".345" stop-color="#caff2c"/><stop offset=".396" stop-color="#e4ff13"/><stop offset=".435" stop-color="#eeff09"/><stop offset=".46" stop-color="#f4f802"/><stop offset=".499" stop-color="#f4f802"/><stop offset=".55" stop-color="#feed00"/><stop offset=".575" stop-color="#ffea00"/><stop offset=".703" stop-color="#ffb200"/><stop offset=".716" stop-color="#ffb200"/><stop offset=".78" stop-color="#ff9f00"/><stop offset=".818" stop-color="#ff9c00"/><stop offset=".857" stop-color="#ff9f00"/><stop offset=".921" stop-color="#ffb600"/><stop offset=".946" stop-color="#ffc400"/><stop offset=".985" stop-color="#ffe600"/><stop offset="1" stop-color="#fbf100"/></linearGradient><linearGradient id="h85" x1="0" y1="0" x2="0" y2="1"><stop offset="0" stop-color="#0000f1"/><stop offset=".013" stop-color="#0000ff"/><stop offset=".051" stop-color="#004cff"/><stop offset=".102" stop-color="#00acff"/><stop offset=".128" stop-color="#00d4ff"/><stop offset=".141" stop-color="#02e8f4"/><stop offset=".153" stop-color="#13fce4"/><stop offset=".217" stop-color="#5aff9d"/><stop offset=".281" stop-color="#97ff60"/><stop offset=".345" stop-color="#c7ff30"/><stop offset=".396" stop-color="#e4ff13"/><stop offset=".435" stop-color="#eeff09"/><stop offset=".46" stop-color="#f4f802"/><stop offset=".499" stop-color="#f4f802"/><stop offset=".55" stop-color="#feed00"/><stop offset=".575" stop-color="#ffea00"/><stop offset=".703" stop-color="#ffb200"/><stop offset=".716" stop-color="#ffb200"/><stop offset=".78" stop-color="#ff9f00"/><stop offset=".818" stop-color="#ff9c00"/><stop offset=".857" stop-color="#ff9f00"/><stop offset=".921" stop-color="#ffb600"/><stop offset=".946" stop-color="#ffc400"/><stop offset=".985" stop-color="#ffe600"/><stop offset="1" stop-color="#fbf100"/></linearGradient><linearGradient id="h86" x1="0" y1="0" x2="0" y2="1"><stop offset="0" stop-color="#0000ed"/><stop offset=".013" stop-color="#0000ff"/><stop offset=".026" stop-color="#0014ff"/><stop offset=".051" stop-color="#0048ff"/><stop offset=".102" stop-color="#00a8ff"/><stop offset=".128" stop-color="#00d0ff"/><stop offset=".141" stop-color="#00e4f8"/><stop offset=".153" stop-color="#0ff8e7"/><stop offset=".166" stop-color="#1fffd7"/><stop offset=".23" stop-color="#63ff94"/><stop offset=".294" stop-color="#9dff5a"/><stop offset=".371" stop-color="#d4ff23"/><stop offset=".422" stop-color="#ebff0c"/><stop offset=".46" stop-color="#f4f802"/><stop offset=".499" stop-color="#f4f802"/><stop offset=".55" stop-color="#feed00"/><stop offset=".575" stop-color="#ffea00"/><stop offset=".703" stop-color="#ffb200"/><stop offset=".716" stop-color="#ffb200"/><stop offset=".78" stop-color="#ff9f00"/><stop offset=".818" stop-color="#ff9c00"/><stop offset=".857" stop-color="#ff9f00"/><stop offset=".921" stop-color="#ffb600"/><stop offset=".946" stop-color="#ffc400"/><stop offset=".985" stop-color="#ffe600"/><stop offset="1" stop-color="#fbf100"/></linearGradient><linearGradient id="h87" x1="0" y1="0" x2="0" y2="1"><stop offset="0" stop-color="#0000ed"/><stop offset=".013" stop-color="#0000ff"/><stop offset=".026" stop-color="#0010ff"/><stop offset=".09" stop-color="#0090ff"/><stop offset=".128" stop-color="#00ccff"/><stop offset=".141" stop-color="#00e4f8"/><stop offset=".153" stop-color="#0cf4eb"/><stop offset=".166" stop-color="#1cffdb"/><stop offset=".217" stop-color="#53ffa4"/><stop offset=".269" stop-color="#83ff73"/><stop offset=".32" stop-color="#adff49"/><stop offset=".371" stop-color="#d1ff26"/><stop offset=".435" stop-color="#eeff09"/><stop offset=".46" stop-color="#f4f802"/><stop offset=".499" stop-color="#f4f802"/><stop offset=".55" stop-color="#feed00"/><stop offset=".575" stop-color="#ffea00"/><stop offset=".703" stop-color="#ffb200"/><stop offset=".716" stop-color="#ffb200"/><stop offset=".78" stop-color="#ff9f00"/><stop offset=".818" stop-color="#ff9c00"/><stop offset=".857" stop-color="#ff9f00"/><stop offset=".921" stop-color="#ffb600"/><stop offset=".946" stop-color="#ffc400"/><stop offset=".985" stop-color="#ffe600"/><stop offset="1" stop-color="#fbf100"/></linearGradient><linearGradient id="h88" x1="0" y1="0" x2="0" y2="1"><stop offset="0" stop-color="#0000e8"/><stop offset=".013" stop-color="#0000ff"/><stop offset=".026" stop-color="#000cff"/><stop offset=".09" stop-color="#008cff"/><stop offset=".115" stop-color="#00b4ff"/><stop offset=".128" stop-color="#00ccff"/><stop offset=".141" stop-color="#00e0fb"/><stop offset=".153" stop-color="#0cf4eb"/><stop offset=".166" stop-color="#19ffde"/><stop offset=".217" stop-color="#50ffa7"/><stop offset=".269" stop-color="#80ff77"/><stop offset=".384" stop-color="#d7ff1f"/><stop offset=".448" stop-color="#f1fc06"/><stop offset=".524" stop-color="#f8f500"/><stop offset=".563" stop-color="#ffea00"/><stop offset=".575" stop-color="#ffea00"/><stop offset=".703" stop-color="#ffb200"/><stop offset=".716" stop-color="#ffb200"/><stop offset=".78" stop-color="#ff9f00"/><stop offset=".818" stop-color="#ff9c00"/><stop offset=".857" stop-color="#ff9f00"/><stop offset=".921" stop-color="#ffb600"/><stop offset=".946" stop-color="#ffc400"/><stop offset=".985" stop-color="#ffe600"/><stop offset="1" stop-color="#fbf100"/></linearGradient><linearGradient id="h89" x1="0" y1="0" x2="0" y2="1"><stop offset="0" stop-color="#0000e3"/><stop offset=".013" stop-color="#0000ff"/><stop offset=".026" stop-color="#000cff"/><stop offset=".077" stop-color="#006cff"/><stop offset=".09" stop-color="#0088ff"/><stop offset=".115" stop-color="#00b0ff"/><stop offset=".128" stop-color="#00c8ff"/><stop offset=".141" stop-color="#00dcfe"/><stop offset=".153" stop-color="#09f0ee"/><stop offset=".166" stop-color="#16ffe1"/><stop offset=".217" stop-color="#4dffaa"/><stop offset=".281" stop-color="#87ff70"/><stop offset=".384" stop-color="#d4ff23"/><stop offset=".448" stop-color="#f1fc06"/><stop offset=".524" stop-color="#f8f500"/><stop offset=".563" stop-color="#ffea00"/><stop offset=".575" stop-color="#ffea00"/><stop offset=".703" stop-color="#ffb200"/><stop offset=".716" stop-color="#ffb200"/><stop offset=".78" stop-color="#ff9f00"/><stop offset=".818" stop-color="#ff9c00"/><stop offset=".857" stop-color="#ff9f00"/><stop offset=".921" stop-color="#ffb600"/><stop offset=".946" stop-color="#ffc400"/><stop offset=".985" stop-color="#ffe600"/><stop offset="1" stop-color="#fbf100"/></linearGradient><linearGradient id="h90" x1="0" y1="0" x2="0" y2="1"><stop offset="0" stop-color="#0000e3"/><stop offset=".013" stop-color="#0000ff"/><stop offset=".026" stop-color="#0008ff"/><stop offset=".077" stop-color="#0068ff"/><stop offset=".09" stop-color="#0084ff"/><stop offset=".141" stop-color="#00dcfe"/><stop offset=".153" stop-color="#09f0ee"/><stop offset=".166" stop-color="#16ffe1"/><stop offset=".217" stop-color="#49ffad"/><stop offset=".294" stop-color="#8dff6a"/><stop offset=".396" stop-color="#dbff1c"/><stop offset=".435" stop-color="#ebff0c"/><stop offset=".473" stop-color="#f4f802"/><stop offset=".524" stop-color="#f8f500"/><stop offset=".563" stop-color="#ffea00"/><stop offset=".575" stop-color="#ffea00"/><stop offset=".703" stop-color="#ffb200"/><stop offset=".716" stop-color="#ffb200"/><stop offset=".78" stop-color="#ff9f00"/><stop offset=".818" stop-color="#ff9c00"/><stop offset=".857" stop-color="#ff9f00"/><stop offset=".921" stop-color="#ffb600"/><stop offset=".946" stop-color="#ffc400"/><stop offset=".985" stop-color="#ffe600"/><stop offset="1" stop-color="#fbf100"/></linearGradient><linearGradient id="h91" x1="0" y1="0" x2="0" y2="1"><stop offset="0" stop-color="#0000df"/><stop offset=".013" stop-color="#0000fa"/><stop offset=".026" stop-color="#0004ff"/><stop offset=".102" stop-color="#0098ff"/><stop offset=".141" stop-color="#00d8ff"/><stop offset=".153" stop-color="#06ecf1"/><stop offset=".166" stop-color="#13fce4"/><stop offset=".256" stop-color="#6aff8d"/><stop offset=".371" stop-color="#c4ff33"/><stop offset=".384" stop-color="#d1ff26"/><stop offset=".448" stop-color="#eeff09"/><stop offset=".512" stop-color="#f8f500"/><stop offset=".575" stop-color="#ffea00"/><stop offset=".703" stop-color="#ffb200"/><stop offset=".716" stop-color="#ffb200"/><stop offset=".78" stop-color="#ff9f00"/><stop offset=".818" stop-color="#ff9c00"/><stop offset=".857" stop-color="#ff9f00"/><stop offset=".921" stop-color="#ffb600"/><stop offset=".946" stop-color="#ffc400"/><stop offset=".985" stop-color="#ffe600"/><stop offset="1" stop-color="#fbf100"/></linearGradient><linearGradient id="h92" x1="0" y1="0" x2="0" y2="1"><stop offset="0" stop-color="#0000df"/><stop offset=".013" stop-color="#0000fa"/><stop offset=".026" stop-color="#0004ff"/><stop offset=".115" stop-color="#00acff"/><stop offset=".141" stop-color="#00d8ff"/><stop offset=".153" stop-color="#06ecf1"/><stop offset=".166" stop-color="#13fce4"/><stop offset=".269" stop-color="#73ff83"/><stop offset=".332" stop-color="#a4ff53"/><stop offset=".345" stop-color="#b1ff46"/><stop offset=".396" stop-color="#d7ff1f"/><stop offset=".448" stop-color="#eeff09"/><stop offset=".512" stop-color="#f8f500"/><stop offset=".575" stop-color="#ffea00"/><stop offset=".703" stop-color="#ffb200"/><stop offset=".716" stop-color="#ffb200"/><stop offset=".78" stop-color="#ff9f00"/><stop offset=".818" stop-color="#ff9c00"/><stop offset=".857" stop-color="#ff9f00"/><stop offset=".921" stop-color="#ffb600"/><stop offset=".946" stop-color="#ffc400"/><stop offset=".985" stop-color="#ffe600"/><stop offset="1" stop-color="#fbf100"/></linearGradient><linearGradient id="h93" x1="0" y1="0" x2="0" y2="1"><stop offset="0" stop-color="#0000df"/><stop offset=".013" stop-color="#0000fa"/><stop offset=".026" stop-color="#0004ff"/><stop offset=".115" stop-color="#00acff"/><stop offset=".141" stop-color="#00d8ff"/><stop offset=".153" stop-color="#06ecf1"/><stop offset=".166" stop-color="#13fce4"/><stop offset=".269" stop-color="#73ff83"/><stop offset=".332" stop-color="#a4ff53"/><stop offset=".345" stop-color="#b1ff46"/><stop offset=".396" stop-color="#d7ff1f"/><stop offset=".448" stop-color="#eeff09"/><stop offset=".512" stop-color="#f8f500"/><stop offset=".575" stop-color="#ffea00"/><stop offset=".703" stop-color="#ffb200"/><stop offset=".716" stop-color="#ffb200"/><stop offset=".78" stop-color="#ff9f00"/><stop offset=".818" stop-color="#ff9c00"/><stop offset=".857" stop-color="#ff9f00"/><stop offset=".921" stop-color="#ffb600"/><stop offset=".946" stop-color="#ffc400"/><stop offset=".985" stop-color="#ffe600"/><stop offset="1" stop-color="#fbf100"/></linearGradient><linearGradient id="h94" x1="0" y1="0" x2="0" y2="1"><stop offset="0" stop-color="#0000cd"/><stop offset=".026" stop-color="#0000ff"/><stop offset=".038" stop-color="#0008ff"/><stop offset=".064" stop-color="#0038ff"/><stop offset=".115" stop-color="#0090ff"/><stop offset=".153" stop-color="#00ccff"/><stop offset=".166" stop-color="#00dcfe"/><stop offset=".179" stop-color="#06ecf1"/><stop offset=".192" stop-color="#13fce4"/><stop offset=".243" stop-color="#46ffb1"/><stop offset=".32" stop-color="#8aff6d"/><stop offset=".371" stop-color="#beff39"/><stop offset=".396" stop-color="#d1ff26"/><stop offset=".46" stop-color="#f1fc06"/><stop offset=".512" stop-color="#f8f500"/><stop offset=".575" stop-color="#ffea00"/><stop offset=".703" stop-color="#ffb200"/><stop offset=".716" stop-color="#ffb200"/><stop offset=".78" stop-color="#ff9f00"/><stop offset=".818" stop-color="#ff9c00"/><stop offset=".857" stop-color="#ff9f00"/><stop offset=".921" stop-color="#ffb600"/><stop offset=".946" stop-color="#ffc400"/><stop offset=".985" stop-color="#ffe600"/><stop offset="1" stop-color="#fbf100"/></linearGradient><linearGradient id="h95" x1="0" y1="0" x2="0" y2="1"><stop offset="0" stop-color="#00009b"/><stop offset=".051" stop-color="#0000fa"/><stop offset=".064" stop-color="#0000ff"/><stop offset=".077" stop-color="#0008ff"/><stop offset=".128" stop-color="#0048ff"/><stop offset=".23" stop-color="#00d8ff"/><stop offset=".243" stop-color="#02e8f4"/><stop offset=".256" stop-color="#0ff8e7"/><stop offset=".269" stop-color="#1fffd7"/><stop offset=".332" stop-color="#6dff8a"/><stop offset=".371" stop-color="#a4ff53"/><stop offset=".396" stop-color="#c4ff33"/><stop offset=".448" stop-color="#e7ff0f"/><stop offset=".473" stop-color="#eeff09"/><stop offset=".499" stop-color="#f4f802"/><stop offset=".512" stop-color="#f4f802"/><stop offset=".563" stop-color="#ffea00"/><stop offset=".575" stop-color="#ffea00"/><stop offset=".614" stop-color="#ffdb00"/><stop offset=".703" stop-color="#ffb200"/><stop offset=".716" stop-color="#ffb200"/><stop offset=".78" stop-color="#ff9f00"/><stop offset=".818" stop-color="#ff9c00"/><stop offset=".857" stop-color="#ff9f00"/><stop offset=".921" stop-color="#ffb600"/><stop offset=".946" stop-color="#ffc400"/><stop offset=".985" stop-color="#ffe600"/><stop offset="1" stop-color="#fbf100"/></linearGradient><linearGradient id="h96" x1="0" y1="0" x2="0" y2="1"><stop offset="0" stop-color="#0000da"/><stop offset=".026" stop-color="#0000fa"/><stop offset=".038" stop-color="#0000ff"/><stop offset=".064" stop-color="#0014ff"/><stop offset=".09" stop-color="#0034ff"/><stop offset=".153" stop-color="#0090ff"/><stop offset=".205" stop-color="#00d0ff"/><stop offset=".217" stop-color="#00e0fb"/><stop offset=".23" stop-color="#06ecf1"/><stop offset=".243" stop-color="#13fce4"/><stop offset=".332" stop-color="#6dff8a"/><stop offset=".396" stop-color="#baff3c"/><stop offset=".448" stop-color="#e4ff13"/><stop offset=".473" stop-color="#eeff09"/><stop offset=".486" stop-color="#f4f802"/><stop offset=".524" stop-color="#ffea00"/><stop offset=".754" stop-color="#ffa300"/><stop offset=".767" stop-color="#ff9c00"/><stop offset=".806" stop-color="#ff9800"/><stop offset=".87" stop-color="#ff9c00"/><stop offset=".921" stop-color="#ffb200"/><stop offset=".946" stop-color="#ffc100"/><stop offset=".985" stop-color="#ffe600"/><stop offset="1" stop-color="#fbf100"/></linearGradient><linearGradient id="h97" x1="0" y1="0" x2="0" y2="1"><stop offset="0" stop-color="#0000e8"/><stop offset=".026" stop-color="#0000ff"/><stop offset=".038" stop-color="#0000ff"/><stop offset=".051" stop-color="#000cff"/><stop offset=".09" stop-color="#0038ff"/><stop offset=".141" stop-color="#0084ff"/><stop offset=".205" stop-color="#00d4ff"/><stop offset=".217" stop-color="#00e4f8"/><stop offset=".243" stop-color="#16ffe1"/><stop offset=".332" stop-color="#6dff8a"/><stop offset=".384" stop-color="#aaff4d"/><stop offset=".422" stop-color="#ceff29"/><stop offset=".46" stop-color="#ebff0c"/><stop offset=".473" stop-color="#eeff09"/><stop offset=".486" stop-color="#f4f802"/><stop offset=".512" stop-color="#feed00"/><stop offset=".767" stop-color="#ff9c00"/><stop offset=".844" stop-color="#ff9800"/><stop offset=".87" stop-color="#ff9c00"/><stop offset=".921" stop-color="#ffb200"/><stop offset=".946" stop-color="#ffc100"/><stop offset=".985" stop-color="#ffe600"/><stop offset="1" stop-color="#fbf100"/></linearGradient><linearGradient id="h98" x1="0" y1="0" x2="0" y2="1"><stop offset="0" stop-color="#0000e8"/><stop offset=".026" stop-color="#0000ff"/><stop offset=".038" stop-color="#0000ff"/><stop offset=".064" stop-color="#0018ff"/><stop offset=".115" stop-color="#005cff"/><stop offset=".141" stop-color="#0084ff"/><stop offset=".205" stop-color="#00d4ff"/><stop offset=".217" stop-color="#00e4f8"/><stop offset=".243" stop-color="#16ffe1"/><stop offset=".256" stop-color="#1fffd7"/><stop offset=".345" stop-color="#7aff7d"/><stop offset=".396" stop-color="#b7ff40"/><stop offset=".435" stop-color="#d7ff1f"/><stop offset=".473" stop-color="#eeff09"/><stop offset=".486" stop-color="#f4f802"/><stop offset=".512" stop-color="#feed00"/><stop offset=".767" stop-color="#ff9c00"/><stop offset=".844" stop-color="#ff9800"/><stop offset=".87" stop-color="#ff9c00"/><stop offset=".921" stop-color="#ffb200"/><stop offset=".946" stop-color="#ffc100"/><stop offset=".985" stop-color="#ffe600"/><stop offset="1" stop-color="#fbf100"/></linearGradient><linearGradient id="h99" x1="0" y1="0" x2="0" y2="1"><stop offset="0" stop-color="#0000e8"/><stop offset=".026" stop-color="#0000ff"/><stop offset=".038" stop-color="#0000ff"/><stop offset=".051" stop-color="#0008ff"/><stop offset=".102" stop-color="#0048ff"/><stop offset=".153" stop-color="#0094ff"/><stop offset=".205" stop-color="#00d4ff"/><stop offset=".217" stop-color="#00e0fb"/><stop offset=".243" stop-color="#13fce4"/><stop offset=".332" stop-color="#6aff8d"/><stop offset=".384" stop-color="#a7ff50"/><stop offset=".409" stop-color="#c1ff36"/><stop offset=".448" stop-color="#e1ff16"/><stop offset=".486" stop-color="#f1fc06"/><stop offset=".499" stop-color="#f8f500"/><stop offset=".512" stop-color="#feed00"/><stop offset=".767" stop-color="#ff9c00"/><stop offset=".844" stop-color="#ff9800"/><stop offset=".87" stop-color="#ff9c00"/><stop offset=".921" stop-color="#ffb200"/><stop offset=".946" stop-color="#ffc100"/><stop offset=".985" stop-color="#ffe600"/><stop offset="1" stop-color="#fbf100"/></linearGradient><linearGradient id="h100" x1="0" y1="0" x2="0" y2="1"><stop offset="0" stop-color="#0000e8"/><stop offset=".026" stop-color="#0000ff"/><stop offset=".038" stop-color="#0000ff"/><stop offset=".051" stop-color="#0008ff"/><stop offset=".09" stop-color="#0034ff"/><stop offset=".141" stop-color="#0080ff"/><stop offset=".205" stop-color="#00d0ff"/><stop offset=".217" stop-color="#00e0fb"/><stop offset=".23" stop-color="#06ecf1"/><stop offset=".243" stop-color="#13fce4"/><stop offset=".332" stop-color="#6aff8d"/><stop offset=".384" stop-color="#a7ff50"/><stop offset=".448" stop-color="#e1ff16"/><stop offset=".486" stop-color="#f1fc06"/><stop offset=".499" stop-color="#f8f500"/><stop offset=".512" stop-color="#feed00"/><stop offset=".767" stop-color="#ff9c00"/><stop offset=".844" stop-color="#ff9800"/><stop offset=".87" stop-color="#ff9c00"/><stop offset=".921" stop-color="#ffb200"/><stop offset=".946" stop-color="#ffc100"/><stop offset=".985" stop-color="#ffe600"/><stop offset="1" stop-color="#fbf100"/></linearGradient><linearGradient id="h101" x1="0" y1="0" x2="0" y2="1"><stop offset="0" stop-color="#0000e8"/><stop offset=".026" stop-color="#0000ff"/><stop offset=".051" stop-color="#0004ff"/><stop offset=".102" stop-color="#0044ff"/><stop offset=".153" stop-color="#0090ff"/><stop offset=".205" stop-color="#00d0ff"/><stop offset=".217" stop-color="#00dcfe"/><stop offset=".23" stop-color="#06ecf1"/><stop offset=".243" stop-color="#13fce4"/><stop offset=".256" stop-color="#1cffdb"/><stop offset=".345" stop-color="#77ff80"/><stop offset=".384" stop-color="#a4ff53"/><stop offset=".435" stop-color="#d4ff23"/><stop offset=".46" stop-color="#e7ff0f"/><stop offset=".486" stop-color="#f1fc06"/><stop offset=".499" stop-color="#f8f500"/><stop offset=".512" stop-color="#feed00"/><stop offset=".767" stop-color="#ff9c00"/><stop offset=".844" stop-color="#ff9800"/><stop offset=".87" stop-color="#ff9c00"/><stop offset=".921" stop-color="#ffb200"/><stop offset=".946" stop-color="#ffc100"/><stop offset=".985" stop-color="#ffe600"/><stop offset="1" stop-color="#fbf100"/></linearGradient><linearGradient id="h102" x1="0" y1="0" x2="0" y2="1"><stop offset="0" stop-color="#0000e8"/><stop offset=".026" stop-color="#0000ff"/><stop offset=".051" stop-color="#0004ff"/><stop offset=".077" stop-color="#0024ff"/><stop offset=".09" stop-color="#0030ff"/><stop offset=".141" stop-color="#007cff"/><stop offset=".217" stop-color="#00dcfe"/><stop offset=".243" stop-color="#0ff8e7"/><stop offset=".256" stop-color="#1cffdb"/><stop offset=".269" stop-color="#26ffd1"/><stop offset=".332" stop-color="#66ff90"/><stop offset=".384" stop-color="#a4ff53"/><stop offset=".435" stop-color="#d4ff23"/><stop offset=".46" stop-color="#e7ff0f"/><stop offset=".486" stop-color="#f1fc06"/><stop offset=".499" stop-color="#f8f500"/><stop offset=".512" stop-color="#feed00"/><stop offset=".767" stop-color="#ff9c00"/><stop offset=".844" stop-color="#ff9800"/><stop offset=".87" stop-color="#ff9c00"/><stop offset=".921" stop-color="#ffb200"/><stop offset=".946" stop-color="#ffc100"/><stop offset=".985" stop-color="#ffe600"/><stop offset="1" stop-color="#fbf100"/></linearGradient><linearGradient id="h103" x1="0" y1="0" x2="0" y2="1"><stop offset="0" stop-color="#0000e3"/><stop offset=".026" stop-color="#0000fa"/><stop offset=".051" stop-color="#0004ff"/><stop offset=".064" stop-color="#0010ff"/><stop offset=".102" stop-color="#0040ff"/><stop offset=".141" stop-color="#0078ff"/><stop offset=".217" stop-color="#00dcfe"/><stop offset=".23" stop-color="#02e8f4"/><stop offset=".243" stop-color="#0ff8e7"/><stop offset=".256" stop-color="#19ffde"/><stop offset=".32" stop-color="#56ffa0"/><stop offset=".371" stop-color="#90ff66"/><stop offset=".448" stop-color="#dbff1c"/><stop offset=".486" stop-color="#f1fc06"/><stop offset=".524" stop-color="#ffea00"/><stop offset=".767" stop-color="#ff9c00"/><stop offset=".844" stop-color="#ff9800"/><stop offset=".87" stop-color="#ff9c00"/><stop offset=".921" stop-color="#ffb200"/><stop offset=".946" stop-color="#ffc100"/><stop offset=".985" stop-color="#ffe600"/><stop offset="1" stop-color="#fbf100"/></linearGradient><linearGradient id="h104" x1="0" y1="0" x2="0" y2="1"><stop offset="0" stop-color="#0000df"/><stop offset=".013" stop-color="#0000ed"/><stop offset=".038" stop-color="#0000ff"/><stop offset=".051" stop-color="#0000ff"/><stop offset=".09" stop-color="#002cff"/><stop offset=".128" stop-color="#0064ff"/><stop offset=".192" stop-color="#00b8ff"/><stop offset=".205" stop-color="#00ccff"/><stop offset=".217" stop-color="#00d8ff"/><stop offset=".23" stop-color="#02e8f4"/><stop offset=".256" stop-color="#19ffde"/><stop offset=".332" stop-color="#60ff97"/><stop offset=".384" stop-color="#9aff5d"/><stop offset=".448" stop-color="#d7ff1f"/><stop offset=".486" stop-color="#eeff09"/><stop offset=".512" stop-color="#fbf100"/><stop offset=".537" stop-color="#ffe600"/><stop offset=".703" stop-color="#ffb200"/><stop offset=".716" stop-color="#ffab00"/><stop offset=".793" stop-color="#ff9800"/><stop offset=".87" stop-color="#ff9c00"/><stop offset=".946" stop-color="#ffc100"/><stop offset=".985" stop-color="#ffe600"/><stop offset="1" stop-color="#fbf100"/></linearGradient><linearGradient id="h105" x1="0" y1="0" x2="0" y2="1"><stop offset="0" stop-color="#0000da"/><stop offset=".026" stop-color="#0000f6"/><stop offset=".038" stop-color="#0000ff"/><stop offset=".051" stop-color="#0000ff"/><stop offset=".064" stop-color="#000cff"/><stop offset=".09" stop-color="#0028ff"/><stop offset=".153" stop-color="#0084ff"/><stop offset=".217" stop-color="#00d8ff"/><stop offset=".23" stop-color="#02e8f4"/><stop offset=".256" stop-color="#19ffde"/><stop offset=".332" stop-color="#5dff9a"/><stop offset=".345" stop-color="#6dff8a"/><stop offset=".448" stop-color="#d4ff23"/><stop offset=".486" stop-color="#ebff0c"/><stop offset=".499" stop-color="#f4f802"/><stop offset=".512" stop-color="#fbf100"/><stop offset=".537" stop-color="#ffea00"/><stop offset=".601" stop-color="#ffd000"/><stop offset=".703" stop-color="#ffb200"/><stop offset=".716" stop-color="#ffab00"/><stop offset=".793" stop-color="#ff9800"/><stop offset=".87" stop-color="#ff9c00"/><stop offset=".946" stop-color="#ffc100"/><stop offset=".985" stop-color="#ffe600"/><stop offset="1" stop-color="#fbf100"/></linearGradient><linearGradient id="h106" x1="0" y1="0" x2="0" y2="1"><stop offset="0" stop-color="#0000d6"/><stop offset=".038" stop-color="#0000ff"/><stop offset=".051" stop-color="#0000ff"/><stop offset=".077" stop-color="#0018ff"/><stop offset=".141" stop-color="#006cff"/><stop offset=".217" stop-color="#00d8ff"/><stop offset=".23" stop-color="#00e4f8"/><stop offset=".243" stop-color="#0cf4eb"/><stop offset=".256" stop-color="#16ffe1"/><stop offset=".332" stop-color="#5aff9d"/><stop offset=".358" stop-color="#77ff80"/><stop offset=".448" stop-color="#d1ff26"/><stop offset=".499" stop-color="#f1fc06"/><stop offset=".512" stop-color="#f8f500"/><stop offset=".524" stop-color="#feed00"/><stop offset=".601" stop-color="#ffd000"/><stop offset=".767" stop-color="#ff9c00"/><stop offset=".844" stop-color="#ff9800"/><stop offset=".87" stop-color="#ff9c00"/><stop offset=".921" stop-color="#ffb200"/><stop offset=".946" stop-color="#ffc100"/><stop offset=".985" stop-color="#ffe600"/><stop offset="1" stop-color="#fbf100"/></linearGradient><linearGradient id="h107" x1="0" y1="0" x2="0" y2="1"><stop offset="0" stop-color="#0000d1"/><stop offset=".026" stop-color="#0000ed"/><stop offset=".038" stop-color="#0000ff"/><stop offset=".051" stop-color="#0000ff"/><stop offset=".064" stop-color="#0008ff"/><stop offset=".09" stop-color="#0024ff"/><stop offset=".102" stop-color="#0038ff"/><stop offset=".141" stop-color="#0068ff"/><stop offset=".192" stop-color="#00b4ff"/><stop offset=".217" stop-color="#00d4ff"/><stop offset=".23" stop-color="#00e4f8"/><stop offset=".243" stop-color="#0cf4eb"/><stop offset=".256" stop-color="#16ffe1"/><stop offset=".332" stop-color="#56ffa0"/><stop offset=".448" stop-color="#ceff29"/><stop offset=".499" stop-color="#f1fc06"/><stop offset=".512" stop-color="#f8f500"/><stop offset=".524" stop-color="#feed00"/><stop offset=".601" stop-color="#ffd300"/><stop offset=".614" stop-color="#ffcc00"/><stop offset=".767" stop-color="#ff9c00"/><stop offset=".844" stop-color="#ff9800"/><stop offset=".87" stop-color="#ff9c00"/><stop offset=".921" stop-color="#ffb200"/><stop offset=".946" stop-color="#ffc100"/><stop offset=".985" stop-color="#ffe600"/><stop offset="1" stop-color="#fbf100"/></linearGradient><linearGradient id="h108" x1="0" y1="0" x2="0" y2="1"><stop offset="0" stop-color="#0000cd"/><stop offset=".013" stop-color="#0000df"/><stop offset=".038" stop-color="#0000fa"/><stop offset=".051" stop-color="#0000ff"/><stop offset=".077" stop-color="#0014ff"/><stop offset=".128" stop-color="#0054ff"/><stop offset=".179" stop-color="#00a0ff"/><stop offset=".217" stop-color="#00d4ff"/><stop offset=".23" stop-color="#00e4f8"/><stop offset=".256" stop-color="#16ffe1"/><stop offset=".345" stop-color="#60ff97"/><stop offset=".448" stop-color="#caff2c"/><stop offset=".499" stop-color="#eeff09"/><stop offset=".512" stop-color="#f8f500"/><stop offset=".537" stop-color="#ffea00"/><stop offset=".614" stop-color="#ffcc00"/><stop offset=".703" stop-color="#ffb200"/><stop offset=".716" stop-color="#ffab00"/><stop offset=".793" stop-color="#ff9800"/><stop offset=".87" stop-color="#ff9c00"/><stop offset=".946" stop-color="#ffc100"/><stop offset=".985" stop-color="#ffe600"/><stop offset="1" stop-color="#fbf100"/></linearGradient><linearGradient id="h109" x1="0" y1="0" x2="0" y2="1"><stop offset="0" stop-color="#0000c8"/><stop offset=".026" stop-color="#0000e8"/><stop offset=".051" stop-color="#0000ff"/><stop offset=".064" stop-color="#0004ff"/><stop offset=".077" stop-color="#0010ff"/><stop offset=".128" stop-color="#0050ff"/><stop offset=".153" stop-color="#0074ff"/><stop offset=".205" stop-color="#00c4ff"/><stop offset=".217" stop-color="#00d4ff"/><stop offset=".23" stop-color="#00e0fb"/><stop offset=".256" stop-color="#13fce4"/><stop offset=".269" stop-color="#1fffd7"/><stop offset=".332" stop-color="#50ffa7"/><stop offset=".396" stop-color="#8dff6a"/><stop offset=".435" stop-color="#baff3c"/><stop offset=".46" stop-color="#d4ff23"/><stop offset=".499" stop-color="#eeff09"/><stop offset=".524" stop-color="#fbf100"/><stop offset=".55" stop-color="#ffe600"/><stop offset=".614" stop-color="#ffcc00"/><stop offset=".703" stop-color="#ffb200"/><stop offset=".716" stop-color="#ffab00"/><stop offset=".793" stop-color="#ff9800"/><stop offset=".87" stop-color="#ff9c00"/><stop offset=".946" stop-color="#ffc100"/><stop offset=".985" stop-color="#ffe600"/><stop offset="1" stop-color="#fbf100"/></linearGradient><linearGradient id="h110" x1="0" y1="0" x2="0" y2="1"><stop offset="0" stop-color="#0000ad"/><stop offset=".038" stop-color="#0000da"/><stop offset=".064" stop-color="#0000ff"/><stop offset=".077" stop-color="#0000ff"/><stop offset=".09" stop-color="#0010ff"/><stop offset=".166" stop-color="#0088ff"/><stop offset=".179" stop-color="#00a0ff"/><stop offset=".205" stop-color="#00c8ff"/><stop offset=".217" stop-color="#00d8ff"/><stop offset=".23" stop-color="#00e4f8"/><stop offset=".256" stop-color="#13fce4"/><stop offset=".32" stop-color="#43ffb4"/><stop offset=".332" stop-color="#49ffad"/><stop offset=".396" stop-color="#87ff70"/><stop offset=".435" stop-color="#b4ff43"/><stop offset=".46" stop-color="#ceff29"/><stop offset=".512" stop-color="#f1fc06"/><stop offset=".524" stop-color="#f8f500"/><stop offset=".537" stop-color="#feed00"/><stop offset=".627" stop-color="#ffc800"/><stop offset=".767" stop-color="#ff9c00"/><stop offset=".844" stop-color="#ff9800"/><stop offset=".87" stop-color="#ff9c00"/><stop offset=".921" stop-color="#ffb200"/><stop offset=".946" stop-color="#ffc100"/><stop offset=".985" stop-color="#ffe600"/><stop offset="1" stop-color="#fbf100"/></linearGradient><linearGradient id="h111" x1="0" y1="0" x2="0" y2="1"><stop offset="0" stop-color="#000092"/><stop offset=".038" stop-color="#0000bf"/><stop offset=".077" stop-color="#0000fa"/><stop offset=".09" stop-color="#0000ff"/><stop offset=".141" stop-color="#0060ff"/><stop offset=".205" stop-color="#00ccff"/><stop offset=".217" stop-color="#00d8ff"/><stop offset=".23" stop-color="#00e4f8"/><stop offset=".243" stop-color="#09f0ee"/><stop offset=".269" stop-color="#19ffde"/><stop offset=".332" stop-color="#43ffb4"/><stop offset=".396" stop-color="#80ff77"/><stop offset=".435" stop-color="#adff49"/><stop offset=".46" stop-color="#c7ff30"/><stop offset=".512" stop-color="#eeff09"/><stop offset=".537" stop-color="#fbf100"/><stop offset=".563" stop-color="#ffe600"/><stop offset=".627" stop-color="#ffc800"/><stop offset=".703" stop-color="#ffb200"/><stop offset=".716" stop-color="#ffab00"/><stop offset=".793" stop-color="#ff9800"/><stop offset=".87" stop-color="#ff9c00"/><stop offset=".946" stop-color="#ffc100"/><stop offset=".985" stop-color="#ffe600"/><stop offset="1" stop-color="#fbf100"/></linearGradient><linearGradient id="h112" x1="0" y1="0" x2="0" y2="1"><stop offset="0" stop-color="#00009b"/><stop offset=".051" stop-color="#0000d6"/><stop offset=".077" stop-color="#0000ff"/><stop offset=".09" stop-color="#0004ff"/><stop offset=".102" stop-color="#0018ff"/><stop offset=".153" stop-color="#0078ff"/><stop offset=".205" stop-color="#00ccff"/><stop offset=".217" stop-color="#00d8ff"/><stop offset=".23" stop-color="#00e4f8"/><stop offset=".256" stop-color="#13fce4"/><stop offset=".332" stop-color="#43ffb4"/><stop offset=".422" stop-color="#9aff5d"/><stop offset=".46" stop-color="#c4ff33"/><stop offset=".512" stop-color="#eeff09"/><stop offset=".524" stop-color="#f4f802"/><stop offset=".55" stop-color="#feed00"/><stop offset=".627" stop-color="#ffc800"/><stop offset=".754" stop-color="#ff9f00"/><stop offset=".793" stop-color="#ff9800"/><stop offset=".844" stop-color="#ff9800"/><stop offset=".87" stop-color="#ff9c00"/><stop offset=".921" stop-color="#ffb200"/><stop offset=".946" stop-color="#ffc100"/><stop offset=".985" stop-color="#ffe600"/><stop offset="1" stop-color="#fbf100"/></linearGradient><linearGradient id="h113" x1="0" y1="0" x2="0" y2="1"><stop offset="0" stop-color="#0000a4"/><stop offset=".051" stop-color="#0000da"/><stop offset=".064" stop-color="#0000f1"/><stop offset=".077" stop-color="#0000ff"/><stop offset=".09" stop-color="#0008ff"/><stop offset=".102" stop-color="#001cff"/><stop offset=".141" stop-color="#0064ff"/><stop offset=".205" stop-color="#00ccff"/><stop offset=".217" stop-color="#00d8ff"/><stop offset=".23" stop-color="#00e4f8"/><stop offset=".256" stop-color="#13fce4"/><stop offset=".332" stop-color="#43ffb4"/><stop offset=".384" stop-color="#70ff87"/><stop offset=".448" stop-color="#b4ff43"/><stop offset=".486" stop-color="#d7ff1f"/><stop offset=".512" stop-color="#ebff0c"/><stop offset=".537" stop-color="#f8f500"/><stop offset=".563" stop-color="#ffea00"/><stop offset=".639" stop-color="#ffc400"/><stop offset=".703" stop-color="#ffb200"/><stop offset=".716" stop-color="#ffab00"/><stop offset=".793" stop-color="#ff9800"/><stop offset=".87" stop-color="#ff9c00"/><stop offset=".946" stop-color="#ffc100"/><stop offset=".985" stop-color="#ffe600"/><stop offset="1" stop-color="#fbf100"/></linearGradient><linearGradient id="h114" x1="0" y1="0" x2="0" y2="1"><stop offset="0" stop-color="#0000ad"/><stop offset=".038" stop-color="#0000d1"/><stop offset=".064" stop-color="#0000f6"/><stop offset=".077" stop-color="#0000ff"/><stop offset=".09" stop-color="#000cff"/><stop offset=".153" stop-color="#007cff"/><stop offset=".205" stop-color="#00ccff"/><stop offset=".217" stop-color="#00dcfe"/><stop offset=".23" stop-color="#00e4f8"/><stop offset=".256" stop-color="#13fce4"/><stop offset=".332" stop-color="#43ffb4"/><stop offset=".384" stop-color="#70ff87"/><stop offset=".435" stop-color="#a4ff53"/><stop offset=".448" stop-color="#b4ff43"/><stop offset=".512" stop-color="#ebff0c"/><stop offset=".537" stop-color="#f4f802"/><stop offset=".563" stop-color="#ffea00"/><stop offset=".639" stop-color="#ffc400"/><stop offset=".767" stop-color="#ff9c00"/><stop offset=".844" stop-color="#ff9800"/><stop offset=".87" stop-color="#ff9c00"/><stop offset=".921" stop-color="#ffb200"/><stop offset=".946" stop-color="#ffc100"/><stop offset=".985" stop-color="#ffe600"/><stop offset="1" stop-color="#fbf100"/></linearGradient><linearGradient id="h115" x1="0" y1="0" x2="0" y2="1"><stop offset="0" stop-color="#0000b6"/><stop offset=".013" stop-color="#0000c4"/><stop offset=".038" stop-color="#0000d6"/><stop offset=".064" stop-color="#0000fa"/><stop offset=".077" stop-color="#0000ff"/><stop offset=".102" stop-color="#0024ff"/><stop offset=".141" stop-color="#0068ff"/><stop offset=".205" stop-color="#00ccff"/><stop offset=".217" stop-color="#00dcfe"/><stop offset=".23" stop-color="#00e4f8"/><stop offset=".256" stop-color="#13fce4"/><stop offset=".332" stop-color="#43ffb4"/><stop offset=".384" stop-color="#6dff8a"/><stop offset=".448" stop-color="#b1ff46"/><stop offset=".499" stop-color="#deff19"/><stop offset=".524" stop-color="#eeff09"/><stop offset=".55" stop-color="#fbf100"/><stop offset=".575" stop-color="#ffe600"/><stop offset=".652" stop-color="#ffc100"/><stop offset=".703" stop-color="#ffb200"/><stop offset=".716" stop-color="#ffab00"/><stop offset=".793" stop-color="#ff9800"/><stop offset=".87" stop-color="#ff9c00"/><stop offset=".946" stop-color="#ffc100"/><stop offset=".985" stop-color="#ffe600"/><stop offset="1" stop-color="#fbf100"/></linearGradient><linearGradient id="h116" x1="0" y1="0" x2="0" y2="1"><stop offset="0" stop-color="#0000bf"/><stop offset=".026" stop-color="#0000d1"/><stop offset=".051" stop-color="#0000ed"/><stop offset=".064" stop-color="#0000ff"/><stop offset=".077" stop-color="#0004ff"/><stop offset=".205" stop-color="#00d0ff"/><stop offset=".217" stop-color="#00dcfe"/><stop offset=".23" stop-color="#02e8f4"/><stop offset=".256" stop-color="#13fce4"/><stop offset=".281" stop-color="#26ffd1"/><stop offset=".332" stop-color="#43ffb4"/><stop offset=".384" stop-color="#6dff8a"/><stop offset=".435" stop-color="#a0ff56"/><stop offset=".448" stop-color="#b1ff46"/><stop offset=".499" stop-color="#deff19"/><stop offset=".524" stop-color="#eeff09"/><stop offset=".55" stop-color="#fbf100"/><stop offset=".575" stop-color="#ffe600"/><stop offset=".627" stop-color="#ffcc00"/><stop offset=".665" stop-color="#ffbd00"/><stop offset=".703" stop-color="#ffb200"/><stop offset=".716" stop-color="#ffab00"/><stop offset=".793" stop-color="#ff9800"/><stop offset=".87" stop-color="#ff9c00"/><stop offset=".946" stop-color="#ffc100"/><stop offset=".985" stop-color="#ffe600"/><stop offset="1" stop-color="#fbf100"/></linearGradient><linearGradient id="h117" x1="0" y1="0" x2="0" y2="1"><stop offset="0" stop-color="#0000c4"/><stop offset=".026" stop-color="#0000d6"/><stop offset=".064" stop-color="#0000ff"/><stop offset=".077" stop-color="#000cff"/><stop offset=".09" stop-color="#001cff"/><stop offset=".102" stop-color="#0034ff"/><stop offset=".192" stop-color="#00c0ff"/><stop offset=".217" stop-color="#00e0fb"/><stop offset=".23" stop-color="#02e8f4"/><stop offset=".256" stop-color="#16ffe1"/><stop offset=".332" stop-color="#43ffb4"/><stop offset=".384" stop-color="#6dff8a"/><stop offset=".473" stop-color="#c7ff30"/><stop offset=".499" stop-color="#deff19"/><stop offset=".524" stop-color="#eeff09"/><stop offset=".55" stop-color="#fbf100"/><stop offset=".575" stop-color="#ffe600"/><stop offset=".665" stop-color="#ffbd00"/><stop offset=".703" stop-color="#ffb200"/><stop offset=".716" stop-color="#ffab00"/><stop offset=".793" stop-color="#ff9800"/><stop offset=".87" stop-color="#ff9c00"/><stop offset=".946" stop-color="#ffc100"/><stop offset=".985" stop-color="#ffe600"/><stop offset="1" stop-color="#fbf100"/></linearGradient><linearGradient id="h118" x1="0" y1="0" x2="0" y2="1"><stop offset="0" stop-color="#0000cd"/><stop offset=".038" stop-color="#0000e8"/><stop offset=".064" stop-color="#0000ff"/><stop offset=".077" stop-color="#0010ff"/><stop offset=".128" stop-color="#0060ff"/><stop offset=".141" stop-color="#0078ff"/><stop offset=".205" stop-color="#00d4ff"/><stop offset=".217" stop-color="#00e0fb"/><stop offset=".243" stop-color="#0ff8e7"/><stop offset=".256" stop-color="#16ffe1"/><stop offset=".332" stop-color="#43ffb4"/><stop offset=".384" stop-color="#6dff8a"/><stop offset=".473" stop-color="#c7ff30"/><stop offset=".512" stop-color="#e7ff0f"/><stop offset=".524" stop-color="#eeff09"/><stop offset=".55" stop-color="#fbf100"/><stop offset=".575" stop-color="#ffe600"/><stop offset=".665" stop-color="#ffbd00"/><stop offset=".703" stop-color="#ffb200"/><stop offset=".716" stop-color="#ffab00"/><stop offset=".793" stop-color="#ff9800"/><stop offset=".87" stop-color="#ff9c00"/><stop offset=".946" stop-color="#ffc100"/><stop offset=".985" stop-color="#ffe600"/><stop offset="1" stop-color="#fbf100"/></linearGradient><linearGradient id="h119" x1="0" y1="0" x2="0" y2="1"><stop offset="0" stop-color="#0000d1"/><stop offset=".038" stop-color="#0000ed"/><stop offset=".051" stop-color="#0000fa"/><stop offset=".064" stop-color="#0000ff"/><stop offset=".077" stop-color="#0018ff"/><stop offset=".141" stop-color="#007cff"/><stop offset=".205" stop-color="#00d8ff"/><stop offset=".217" stop-color="#00e4f8"/><stop offset=".23" stop-color="#09f0ee"/><stop offset=".256" stop-color="#16ffe1"/><stop offset=".332" stop-color="#43ffb4"/><stop offset=".384" stop-color="#6dff8a"/><stop offset=".46" stop-color="#baff3c"/><stop offset=".512" stop-color="#e7ff0f"/><stop offset=".524" stop-color="#eeff09"/><stop offset=".55" stop-color="#fbf100"/><stop offset=".575" stop-color="#ffe600"/><stop offset=".639" stop-color="#ffc800"/><stop offset=".716" stop-color="#ffab00"/><stop offset=".793" stop-color="#ff9800"/><stop offset=".87" stop-color="#ff9c00"/><stop offset=".946" stop-color="#ffc100"/><stop offset=".985" stop-color="#ffe600"/><stop offset="1" stop-color="#fbf100"/></linearGradient><linearGradient id="h120" x1="0" y1="0" x2="0" y2="1"><stop offset="0" stop-color="#0000d6"/><stop offset=".038" stop-color="#0000f1"/><stop offset=".051" stop-color="#0000ff"/><stop offset=".064" stop-color="#0008ff"/><stop offset=".09" stop-color="#0034ff"/><stop offset=".102" stop-color="#0044ff"/><stop offset=".153" stop-color="#0094ff"/><stop offset=".205" stop-color="#00dcfe"/><stop offset=".217" stop-color="#02e8f4"/><stop offset=".256" stop-color="#19ffde"/><stop offset=".332" stop-color="#43ffb4"/><stop offset=".384" stop-color="#6dff8a"/><stop offset=".46" stop-color="#baff3c"/><stop offset=".512" stop-color="#e7ff0f"/><stop offset=".524" stop-color="#eeff09"/><stop offset=".55" stop-color="#fbf100"/><stop offset=".575" stop-color="#ffe600"/><stop offset=".716" stop-color="#ffab00"/><stop offset=".793" stop-color="#ff9800"/><stop offset=".87" stop-color="#ff9c00"/><stop offset=".946" stop-color="#ffc100"/><stop offset=".985" stop-color="#ffe600"/><stop offset="1" stop-color="#fbf100"/></linearGradient><linearGradient id="h121" x1="0" y1="0" x2="0" y2="1"><stop offset="0" stop-color="#0000df"/><stop offset=".051" stop-color="#0000ff"/><stop offset=".064" stop-color="#000cff"/><stop offset=".077" stop-color="#0024ff"/><stop offset=".115" stop-color="#0060ff"/><stop offset=".192" stop-color="#00ccff"/><stop offset=".205" stop-color="#00dcfe"/><stop offset=".217" stop-color="#02e8f4"/><stop offset=".243" stop-color="#13fce4"/><stop offset=".332" stop-color="#43ffb4"/><stop offset=".384" stop-color="#6dff8a"/><stop offset=".46" stop-color="#baff3c"/><stop offset=".512" stop-color="#e7ff0f"/><stop offset=".524" stop-color="#eeff09"/><stop offset=".55" stop-color="#fbf100"/><stop offset=".575" stop-color="#ffe600"/><stop offset=".716" stop-color="#ffab00"/><stop offset=".793" stop-color="#ff9800"/><stop offset=".87" stop-color="#ff9c00"/><stop offset=".946" stop-color="#ffc100"/><stop offset=".985" stop-color="#ffe600"/><stop offset="1" stop-color="#fbf100"/></linearGradient><linearGradient id="h122" x1="0" y1="0" x2="0" y2="1"><stop offset="0" stop-color="#0000e3"/><stop offset=".038" stop-color="#0000ff"/><stop offset=".051" stop-color="#0000ff"/><stop offset=".064" stop-color="#0010ff"/><stop offset=".077" stop-color="#0028ff"/><stop offset=".102" stop-color="#0050ff"/><stop offset=".205" stop-color="#00dcfe"/><stop offset=".217" stop-color="#02e8f4"/><stop offset=".243" stop-color="#13fce4"/><stop offset=".32" stop-color="#3cffba"/><stop offset=".345" stop-color="#50ffa7"/><stop offset=".396" stop-color="#7aff7d"/><stop offset=".46" stop-color="#baff3c"/><stop offset=".512" stop-color="#e7ff0f"/><stop offset=".524" stop-color="#eeff09"/><stop offset=".55" stop-color="#fbf100"/><stop offset=".575" stop-color="#ffe600"/><stop offset=".716" stop-color="#ffab00"/><stop offset=".793" stop-color="#ff9800"/><stop offset=".87" stop-color="#ff9c00"/><stop offset=".946" stop-color="#ffc100"/><stop offset=".985" stop-color="#ffe600"/><stop offset="1" stop-color="#fbf100"/></linearGradient><linearGradient id="h123" x1="0" y1="0" x2="0" y2="1"><stop offset="0" stop-color="#0000e8"/><stop offset=".026" stop-color="#0000fa"/><stop offset=".051" stop-color="#0000ff"/><stop offset=".09" stop-color="#0040ff"/><stop offset=".141" stop-color="#0088ff"/><stop offset=".205" stop-color="#00dcfe"/><stop offset=".217" stop-color="#02e8f4"/><stop offset=".243" stop-color="#13fce4"/><stop offset=".32" stop-color="#3cffba"/><stop offset=".345" stop-color="#50ffa7"/><stop offset=".396" stop-color="#7aff7d"/><stop offset=".46" stop-color="#baff3c"/><stop offset=".512" stop-color="#e7ff0f"/><stop offset=".524" stop-color="#eeff09"/><stop offset=".55" stop-color="#fbf100"/><stop offset=".575" stop-color="#ffe600"/><stop offset=".716" stop-color="#ffab00"/><stop offset=".793" stop-color="#ff9800"/><stop offset=".87" stop-color="#ff9c00"/><stop offset=".946" stop-color="#ffc100"/><stop offset=".985" stop-color="#ffe600"/><stop offset="1" stop-color="#fbf100"/></linearGradient><linearGradient id="h124" x1="0" y1="0" x2="0" y2="1"><stop offset="0" stop-color="#0000ed"/><stop offset=".013" stop-color="#0000fa"/><stop offset=".026" stop-color="#0000ff"/><stop offset=".038" stop-color="#0000ff"/><stop offset=".051" stop-color="#0008ff"/><stop offset=".128" stop-color="#0078ff"/><stop offset=".192" stop-color="#00c8ff"/><stop offset=".205" stop-color="#00dcfe"/><stop offset=".217" stop-color="#02e8f4"/><stop offset=".243" stop-color="#13fce4"/><stop offset=".307" stop-color="#36ffc1"/><stop offset=".345" stop-color="#50ffa7"/><stop offset=".396" stop-color="#7aff7d"/><stop offset=".46" stop-color="#baff3c"/><stop offset=".512" stop-color="#e7ff0f"/><stop offset=".524" stop-color="#eeff09"/><stop offset=".55" stop-color="#fbf100"/><stop offset=".575" stop-color="#ffe600"/><stop offset=".716" stop-color="#ffab00"/><stop offset=".793" stop-color="#ff9800"/><stop offset=".87" stop-color="#ff9c00"/><stop offset=".946" stop-color="#ffc100"/><stop offset=".985" stop-color="#ffe600"/><stop offset="1" stop-color="#fbf100"/></linearGradient><linearGradient id="h125" x1="0" y1="0" x2="0" y2="1"><stop offset="0" stop-color="#0000f6"/><stop offset=".013" stop-color="#0000ff"/><stop offset=".038" stop-color="#0000ff"/><stop offset=".051" stop-color="#000cff"/><stop offset=".153" stop-color="#009cff"/><stop offset=".166" stop-color="#00a8ff"/><stop offset=".205" stop-color="#00d8ff"/><stop offset=".217" stop-color="#00e4f8"/><stop offset=".243" stop-color="#13fce4"/><stop offset=".345" stop-color="#50ffa7"/><stop offset=".396" stop-color="#7aff7d"/><stop offset=".473" stop-color="#c7ff30"/><stop offset=".512" stop-color="#e7ff0f"/><stop offset=".524" stop-color="#eeff09"/><stop offset=".55" stop-color="#fbf100"/><stop offset=".575" stop-color="#ffe600"/><stop offset=".716" stop-color="#ffab00"/><stop offset=".793" stop-color="#ff9800"/><stop offset=".87" stop-color="#ff9c00"/><stop offset=".946" stop-color="#ffc100"/><stop offset=".985" stop-color="#ffe600"/><stop offset="1" stop-color="#fbf100"/></linearGradient><linearGradient id="h126" x1="0" y1="0" x2="0" y2="1"><stop offset="0" stop-color="#0000fa"/><stop offset=".026" stop-color="#0000ff"/><stop offset=".051" stop-color="#0014ff"/><stop offset=".09" stop-color="#0044ff"/><stop offset=".141" stop-color="#008cff"/><stop offset=".205" stop-color="#00d8ff"/><stop offset=".217" stop-color="#00e4f8"/><stop offset=".243" stop-color="#13fce4"/><stop offset=".345" stop-color="#50ffa7"/><stop offset=".384" stop-color="#70ff87"/><stop offset=".448" stop-color="#b1ff46"/><stop offset=".499" stop-color="#deff19"/><stop offset=".524" stop-color="#eeff09"/><stop offset=".55" stop-color="#fbf100"/><stop offset=".575" stop-color="#ffe600"/><stop offset=".716" stop-color="#ffab00"/><stop offset=".793" stop-color="#ff9800"/><stop offset=".87" stop-color="#ff9c00"/><stop offset=".946" stop-color="#ffc100"/><stop offset=".985" stop-color="#ffe600"/><stop offset="1" stop-color="#fbf100"/></linearGradient><linearGradient id="h127" x1="0" y1="0" x2="0" y2="1"><stop offset="0" stop-color="#0000ff"/><stop offset=".026" stop-color="#0004ff"/><stop offset=".051" stop-color="#0018ff"/><stop offset=".153" stop-color="#009cff"/><stop offset=".205" stop-color="#00d8ff"/><stop offset=".217" stop-color="#00e4f8"/><stop offset=".243" stop-color="#13fce4"/><stop offset=".281" stop-color="#2cffca"/><stop offset=".332" stop-color="#46ffb1"/><stop offset=".345" stop-color="#50ffa7"/><stop offset=".384" stop-color="#70ff87"/><stop offset=".448" stop-color="#b1ff46"/><stop offset=".499" stop-color="#deff19"/><stop offset=".524" stop-color="#eeff09"/><stop offset=".55" stop-color="#fbf100"/><stop offset=".575" stop-color="#ffe600"/><stop offset=".716" stop-color="#ffab00"/><stop offset=".793" stop-color="#ff9800"/><stop offset=".87" stop-color="#ff9c00"/><stop offset=".946" stop-color="#ffc100"/><stop offset=".985" stop-color="#ffe600"/><stop offset="1" stop-color="#fbf100"/></linearGradient><linearGradient id="h128" x1="0" y1="0" x2="0" y2="1"><stop offset="0" stop-color="#0000ff"/><stop offset=".013" stop-color="#0000ff"/><stop offset=".038" stop-color="#0010ff"/><stop offset=".051" stop-color="#001cff"/><stop offset=".166" stop-color="#00acff"/><stop offset=".179" stop-color="#00b8ff"/><stop offset=".205" stop-color="#00d8ff"/><stop offset=".217" stop-color="#00e4f8"/><stop offset=".243" stop-color="#13fce4"/><stop offset=".281" stop-color="#2cffca"/><stop offset=".332" stop-color="#46ffb1"/><stop offset=".384" stop-color="#70ff87"/><stop offset=".448" stop-color="#b1ff46"/><stop offset=".499" stop-color="#deff19"/><stop offset=".524" stop-color="#eeff09"/><stop offset=".55" stop-color="#fbf100"/><stop offset=".575" stop-color="#ffe600"/><stop offset=".716" stop-color="#ffab00"/><stop offset=".793" stop-color="#ff9800"/><stop offset=".87" stop-color="#ff9c00"/><stop offset=".946" stop-color="#ffc100"/><stop offset=".985" stop-color="#ffe600"/><stop offset="1" stop-color="#fbf100"/></linearGradient><linearGradient id="h129" x1="0" y1="0" x2="0" y2="1"><stop offset="0" stop-color="#0000ff"/><stop offset=".013" stop-color="#0004ff"/><stop offset=".064" stop-color="#0030ff"/><stop offset=".102" stop-color="#005cff"/><stop offset=".115" stop-color="#0070ff"/><stop offset=".153" stop-color="#00a0ff"/><stop offset=".205" stop-color="#00d8ff"/><stop offset=".217" stop-color="#00e4f8"/><stop offset=".243" stop-color="#13fce4"/><stop offset=".269" stop-color="#26ffd1"/><stop offset=".332" stop-color="#46ffb1"/><stop offset=".384" stop-color="#70ff87"/><stop offset=".46" stop-color="#beff39"/><stop offset=".499" stop-color="#deff19"/><stop offset=".524" stop-color="#eeff09"/><stop offset=".55" stop-color="#fbf100"/><stop offset=".575" stop-color="#ffe600"/><stop offset=".716" stop-color="#ffab00"/><stop offset=".793" stop-color="#ff9800"/><stop offset=".87" stop-color="#ff9c00"/><stop offset=".946" stop-color="#ffc100"/><stop offset=".985" stop-color="#ffe600"/><stop offset="1" stop-color="#fbf100"/></linearGradient><linearGradient id="h130" x1="0" y1="0" x2="0" y2="1"><stop offset="0" stop-color="#0004ff"/><stop offset=".038" stop-color="#001cff"/><stop offset=".064" stop-color="#0034ff"/><stop offset=".09" stop-color="#0050ff"/><stop offset=".153" stop-color="#00a0ff"/><stop offset=".205" stop-color="#00d8ff"/><stop offset=".217" stop-color="#00e4f8"/><stop offset=".243" stop-color="#13fce4"/><stop offset=".269" stop-color="#26ffd1"/><stop offset=".332" stop-color="#49ffad"/><stop offset=".371" stop-color="#66ff90"/><stop offset=".46" stop-color="#beff39"/><stop offset=".512" stop-color="#e7ff0f"/><stop offset=".524" stop-color="#eeff09"/><stop offset=".55" stop-color="#fbf100"/><stop offset=".575" stop-color="#ffe600"/><stop offset=".716" stop-color="#ffab00"/><stop offset=".793" stop-color="#ff9800"/><stop offset=".87" stop-color="#ff9c00"/><stop offset=".946" stop-color="#ffc100"/><stop offset=".985" stop-color="#ffe600"/><stop offset="1" stop-color="#fbf100"/></linearGradient><linearGradient id="h131" x1="0" y1="0" x2="0" y2="1"><stop offset="0" stop-color="#0008ff"/><stop offset=".038" stop-color="#0020ff"/><stop offset=".077" stop-color="#0044ff"/><stop offset=".166" stop-color="#00b0ff"/><stop offset=".192" stop-color="#00c8ff"/><stop offset=".205" stop-color="#00d8ff"/><stop offset=".217" stop-color="#00e4f8"/><stop offset=".243" stop-color="#13fce4"/><stop offset=".269" stop-color="#26ffd1"/><stop offset=".332" stop-color="#49ffad"/><stop offset=".358" stop-color="#5dff9a"/><stop offset=".396" stop-color="#7dff7a"/><stop offset=".46" stop-color="#beff39"/><stop offset=".512" stop-color="#e7ff0f"/><stop offset=".524" stop-color="#eeff09"/><stop offset=".55" stop-color="#fbf100"/><stop offset=".575" stop-color="#ffe600"/><stop offset=".716" stop-color="#ffab00"/><stop offset=".793" stop-color="#ff9800"/><stop offset=".87" stop-color="#ff9c00"/><stop offset=".946" stop-color="#ffc100"/><stop offset=".985" stop-color="#ffe600"/><stop offset="1" stop-color="#fbf100"/></linearGradient><linearGradient id="h132" x1="0" y1="0" x2="0" y2="1"><stop offset="0" stop-color="#0010ff"/><stop offset=".051" stop-color="#0030ff"/><stop offset=".09" stop-color="#0054ff"/><stop offset=".141" stop-color="#0094ff"/><stop offset=".205" stop-color="#00d8ff"/><stop offset=".217" stop-color="#00e4f8"/><stop offset=".243" stop-color="#13fce4"/><stop offset=".269" stop-color="#26ffd1"/><stop offset=".345" stop-color="#53ffa4"/><stop offset=".384" stop-color="#73ff83"/><stop offset=".448" stop-color="#b4ff43"/><stop offset=".512" stop-color="#e7ff0f"/><stop offset=".524" stop-color="#eeff09"/><stop offset=".55" stop-color="#fbf100"/><stop offset=".575" stop-color="#ffe600"/><stop offset=".716" stop-color="#ffab00"/><stop offset=".793" stop-color="#ff9800"/><stop offset=".87" stop-color="#ff9c00"/><stop offset=".946" stop-color="#ffc100"/><stop offset=".985" stop-color="#ffe600"/><stop offset="1" stop-color="#fbf100"/></linearGradient><linearGradient id="h133" x1="0" y1="0" x2="0" y2="1"><stop offset="0" stop-color="#0014ff"/><stop offset=".051" stop-color="#0034ff"/><stop offset=".09" stop-color="#0058ff"/><stop offset=".153" stop-color="#00a4ff"/><stop offset=".192" stop-color="#00c8ff"/><stop offset=".205" stop-color="#00d8ff"/><stop offset=".217" stop-color="#00e4f8"/><stop offset=".243" stop-color="#13fce4"/><stop offset=".269" stop-color="#26ffd1"/><stop offset=".345" stop-color="#53ffa4"/><stop offset=".384" stop-color="#73ff83"/><stop offset=".448" stop-color="#b4ff43"/><stop offset=".512" stop-color="#e7ff0f"/><stop offset=".524" stop-color="#eeff09"/><stop offset=".55" stop-color="#fbf100"/><stop offset=".575" stop-color="#ffe600"/><stop offset=".716" stop-color="#ffab00"/><stop offset=".793" stop-color="#ff9800"/><stop offset=".87" stop-color="#ff9c00"/><stop offset=".946" stop-color="#ffc100"/><stop offset=".985" stop-color="#ffe600"/><stop offset="1" stop-color="#fbf100"/></linearGradient><linearGradient id="h134" x1="0" y1="0" x2="0" y2="1"><stop offset="0" stop-color="#001cff"/><stop offset=".051" stop-color="#0038ff"/><stop offset=".077" stop-color="#0050ff"/><stop offset=".09" stop-color="#0058ff"/><stop offset=".141" stop-color="#0098ff"/><stop offset=".205" stop-color="#00d8ff"/><stop offset=".217" stop-color="#00e4f8"/><stop offset=".243" stop-color="#13fce4"/><stop offset=".281" stop-color="#30ffc7"/><stop offset=".332" stop-color="#49ffad"/><stop offset=".384" stop-color="#73ff83"/><stop offset=".473" stop-color="#caff2c"/><stop offset=".512" stop-color="#e7ff0f"/><stop offset=".524" stop-color="#eeff09"/><stop offset=".55" stop-color="#fbf100"/><stop offset=".575" stop-color="#ffe600"/><stop offset=".716" stop-color="#ffab00"/><stop offset=".793" stop-color="#ff9800"/><stop offset=".87" stop-color="#ff9c00"/><stop offset=".946" stop-color="#ffc100"/><stop offset=".985" stop-color="#ffe600"/><stop offset="1" stop-color="#fbf100"/></linearGradient><linearGradient id="h135" x1="0" y1="0" x2="0" y2="1"><stop offset="0" stop-color="#0020ff"/><stop offset=".064" stop-color="#0048ff"/><stop offset=".09" stop-color="#005cff"/><stop offset=".115" stop-color="#007cff"/><stop offset=".166" stop-color="#00b4ff"/><stop offset=".205" stop-color="#00d8ff"/><stop offset=".217" stop-color="#00e4f8"/><stop offset=".243" stop-color="#13fce4"/><stop offset=".281" stop-color="#30ffc7"/><stop offset=".32" stop-color="#43ffb4"/><stop offset=".371" stop-color="#6aff8d"/><stop offset=".46" stop-color="#c1ff36"/><stop offset=".512" stop-color="#e7ff0f"/><stop offset=".524" stop-color="#eeff09"/><stop offset=".55" stop-color="#fbf100"/><stop offset=".575" stop-color="#ffe600"/><stop offset=".716" stop-color="#ffab00"/><stop offset=".793" stop-color="#ff9800"/><stop offset=".87" stop-color="#ff9c00"/><stop offset=".946" stop-color="#ffc100"/><stop offset=".985" stop-color="#ffe600"/><stop offset="1" stop-color="#fbf100"/></linearGradient><linearGradient id="h136" x1="0" y1="0" x2="0" y2="1"><stop offset="0" stop-color="#0024ff"/><stop offset=".051" stop-color="#0040ff"/><stop offset=".077" stop-color="#0054ff"/><stop offset=".115" stop-color="#007cff"/><stop offset=".141" stop-color="#009cff"/><stop offset=".205" stop-color="#00dcfe"/><stop offset=".217" stop-color="#02e8f4"/><stop offset=".243" stop-color="#16ffe1"/><stop offset=".269" stop-color="#29ffce"/><stop offset=".332" stop-color="#4dffaa"/><stop offset=".371" stop-color="#6aff8d"/><stop offset=".46" stop-color="#c1ff36"/><stop offset=".512" stop-color="#e7ff0f"/><stop offset=".524" stop-color="#eeff09"/><stop offset=".55" stop-color="#fbf100"/><stop offset=".575" stop-color="#ffe600"/><stop offset=".716" stop-color="#ffab00"/><stop offset=".793" stop-color="#ff9800"/><stop offset=".87" stop-color="#ff9c00"/><stop offset=".946" stop-color="#ffc100"/><stop offset=".985" stop-color="#ffe600"/><stop offset="1" stop-color="#fbf100"/></linearGradient><linearGradient id="h137" x1="0" y1="0" x2="0" y2="1"><stop offset="0" stop-color="#0028ff"/><stop offset=".013" stop-color="#002cff"/><stop offset=".077" stop-color="#0058ff"/><stop offset=".102" stop-color="#0070ff"/><stop offset=".153" stop-color="#00acff"/><stop offset=".205" stop-color="#00dcfe"/><stop offset=".217" stop-color="#02e8f4"/><stop offset=".243" stop-color="#16ffe1"/><stop offset=".269" stop-color="#29ffce"/><stop offset=".332" stop-color="#4dffaa"/><stop offset=".371" stop-color="#6aff8d"/><stop offset=".46" stop-color="#c1ff36"/><stop offset=".512" stop-color="#e7ff0f"/><stop offset=".524" stop-color="#eeff09"/><stop offset=".55" stop-color="#fbf100"/><stop offset=".575" stop-color="#ffe600"/><stop offset=".716" stop-color="#ffab00"/><stop offset=".793" stop-color="#ff9800"/><stop offset=".87" stop-color="#ff9c00"/><stop offset=".946" stop-color="#ffc100"/><stop offset=".985" stop-color="#ffe600"/><stop offset="1" stop-color="#fbf100"/></linearGradient><linearGradient id="h138" x1="0" y1="0" x2="0" y2="1"><stop offset="0" stop-color="#0028ff"/><stop offset=".026" stop-color="#0038ff"/><stop offset=".038" stop-color="#003cff"/><stop offset=".09" stop-color="#0064ff"/><stop offset=".141" stop-color="#00a0ff"/><stop offset=".192" stop-color="#00d4ff"/><stop offset=".205" stop-color="#00e0fb"/><stop offset=".23" stop-color="#0ff8e7"/><stop offset=".243" stop-color="#16ffe1"/><stop offset=".294" stop-color="#39ffbe"/><stop offset=".332" stop-color="#4dffaa"/><stop offset=".371" stop-color="#6aff8d"/><stop offset=".46" stop-color="#c1ff36"/><stop offset=".512" stop-color="#e7ff0f"/><stop offset=".524" stop-color="#eeff09"/><stop offset=".55" stop-color="#fbf100"/><stop offset=".575" stop-color="#ffe600"/><stop offset=".716" stop-color="#ffab00"/><stop offset=".793" stop-color="#ff9800"/><stop offset=".87" stop-color="#ff9c00"/><stop offset=".946" stop-color="#ffc100"/><stop offset=".985" stop-color="#ffe600"/><stop offset="1" stop-color="#fbf100"/></linearGradient><linearGradient id="h139" x1="0" y1="0" x2="0" y2="1"><stop offset="0" stop-color="#09f0ee"/><stop offset=".192" stop-color="#16ffe1"/><stop offset=".23" stop-color="#1fffd7"/><stop offset=".281" stop-color="#33ffc4"/><stop offset=".332" stop-color="#4dffaa"/><stop offset=".345" stop-color="#56ffa0"/><stop offset=".396" stop-color="#80ff77"/><stop offset=".46" stop-color="#c1ff36"/><stop offset=".512" stop-color="#e7ff0f"/><stop offset=".524" stop-color="#eeff09"/><stop offset=".537" stop-color="#f4f802"/><stop offset=".563" stop-color="#feed00"/><stop offset=".588" stop-color="#ffde00"/><stop offset=".614" stop-color="#ffd700"/><stop offset=".716" stop-color="#ffab00"/><stop offset=".793" stop-color="#ff9800"/><stop offset=".844" stop-color="#ff9800"/><stop offset=".87" stop-color="#ff9c00"/><stop offset=".921" stop-color="#ffb200"/><stop offset=".946" stop-color="#ffc100"/><stop offset=".985" stop-color="#ffe600"/><stop offset="1" stop-color="#fbf100"/></linearGradient><linearGradient id="h140" x1="0" y1="0" x2="0" y2="1"><stop offset="0" stop-color="#26ffd1"/><stop offset=".205" stop-color="#23ffd4"/><stop offset=".294" stop-color="#3cffba"/><stop offset=".332" stop-color="#50ffa7"/><stop offset=".396" stop-color="#80ff77"/><stop offset=".448" stop-color="#b4ff43"/><stop offset=".512" stop-color="#e7ff0f"/><stop offset=".524" stop-color="#eeff09"/><stop offset=".537" stop-color="#f4f802"/><stop offset=".563" stop-color="#feed00"/><stop offset=".588" stop-color="#ffde00"/><stop offset=".614" stop-color="#ffd700"/><stop offset=".716" stop-color="#ffab00"/><stop offset=".793" stop-color="#ff9800"/><stop offset=".844" stop-color="#ff9800"/><stop offset=".87" stop-color="#ff9c00"/><stop offset=".921" stop-color="#ffb200"/><stop offset=".946" stop-color="#ffc100"/><stop offset=".985" stop-color="#ffe600"/><stop offset="1" stop-color="#fbf100"/></linearGradient><linearGradient id="h141" x1="0" y1="0" x2="0" y2="1"><stop offset="0" stop-color="#30ffc7"/><stop offset=".217" stop-color="#2cffca"/><stop offset=".294" stop-color="#40ffb7"/><stop offset=".332" stop-color="#50ffa7"/><stop offset=".384" stop-color="#73ff83"/><stop offset=".448" stop-color="#b4ff43"/><stop offset=".512" stop-color="#e7ff0f"/><stop offset=".524" stop-color="#eeff09"/><stop offset=".537" stop-color="#f4f802"/><stop offset=".563" stop-color="#feed00"/><stop offset=".588" stop-color="#ffde00"/><stop offset=".614" stop-color="#ffd700"/><stop offset=".716" stop-color="#ffab00"/><stop offset=".793" stop-color="#ff9800"/><stop offset=".844" stop-color="#ff9800"/><stop offset=".87" stop-color="#ff9c00"/><stop offset=".921" stop-color="#ffb200"/><stop offset=".946" stop-color="#ffc100"/><stop offset=".985" stop-color="#ffe600"/><stop offset="1" stop-color="#fbf100"/></linearGradient><linearGradient id="h142" x1="0" y1="0" x2="0" y2="1"><stop offset="0" stop-color="#3cffba"/><stop offset=".09" stop-color="#3cffba"/><stop offset=".205" stop-color="#33ffc4"/><stop offset=".256" stop-color="#39ffbe"/><stop offset=".332" stop-color="#50ffa7"/><stop offset=".384" stop-color="#73ff83"/><stop offset=".448" stop-color="#b4ff43"/><stop offset=".486" stop-color="#d4ff23"/><stop offset=".524" stop-color="#eeff09"/><stop offset=".55" stop-color="#fbf100"/><stop offset=".575" stop-color="#ffe600"/><stop offset=".716" stop-color="#ffab00"/><stop offset=".793" stop-color="#ff9800"/><stop offset=".87" stop-color="#ff9c00"/><stop offset=".946" stop-color="#ffc100"/><stop offset=".985" stop-color="#ffe600"/><stop offset="1" stop-color="#fbf100"/></linearGradient><linearGradient id="h143" x1="0" y1="0" x2="0" y2="1"><stop offset="0" stop-color="#53ffa4"/><stop offset=".09" stop-color="#53ffa4"/><stop offset=".217" stop-color="#43ffb4"/><stop offset=".294" stop-color="#49ffad"/><stop offset=".332" stop-color="#53ffa4"/><stop offset=".384" stop-color="#73ff83"/><stop offset=".396" stop-color="#7dff7a"/><stop offset=".46" stop-color="#beff39"/><stop offset=".499" stop-color="#deff19"/><stop offset=".524" stop-color="#eeff09"/><stop offset=".537" stop-color="#f4f802"/><stop offset=".55" stop-color="#fbf100"/><stop offset=".575" stop-color="#ffe600"/><stop offset=".716" stop-color="#ffab00"/><stop offset=".793" stop-color="#ff9800"/><stop offset=".87" stop-color="#ff9c00"/><stop offset=".946" stop-color="#ffc100"/><stop offset=".985" stop-color="#ffe600"/><stop offset="1" stop-color="#fbf100"/></linearGradient><linearGradient id="h144" x1="0" y1="0" x2="0" y2="1"><stop offset="0" stop-color="#6dff8a"/><stop offset=".013" stop-color="#70ff87"/><stop offset=".09" stop-color="#70ff87"/><stop offset=".166" stop-color="#66ff90"/><stop offset=".217" stop-color="#5aff9d"/><stop offset=".332" stop-color="#56ffa0"/><stop offset=".396" stop-color="#7dff7a"/><stop offset=".46" stop-color="#beff39"/><stop offset=".512" stop-color="#e7ff0f"/><stop offset=".524" stop-color="#eeff09"/><stop offset=".537" stop-color="#f4f802"/><stop offset=".55" stop-color="#fbf100"/><stop offset=".575" stop-color="#ffe600"/><stop offset=".716" stop-color="#ffab00"/><stop offset=".793" stop-color="#ff9800"/><stop offset=".87" stop-color="#ff9c00"/><stop offset=".946" stop-color="#ffc100"/><stop offset=".985" stop-color="#ffe600"/><stop offset="1" stop-color="#fbf100"/></linearGradient><linearGradient id="h145" x1="0" y1="0" x2="0" y2="1"><stop offset="0" stop-color="#73ff83"/><stop offset=".141" stop-color="#77ff80"/><stop offset=".192" stop-color="#6dff8a"/><stop offset=".269" stop-color="#66ff90"/><stop offset=".332" stop-color="#6aff8d"/><stop offset=".384" stop-color="#80ff77"/><stop offset=".409" stop-color="#94ff63"/><stop offset=".435" stop-color="#adff49"/><stop offset=".473" stop-color="#ceff29"/><stop offset=".512" stop-color="#ebff0c"/><stop offset=".524" stop-color="#eeff09"/><stop offset=".537" stop-color="#f4f802"/><stop offset=".55" stop-color="#fbf100"/><stop offset=".575" stop-color="#ffe600"/><stop offset=".716" stop-color="#ffab00"/><stop offset=".793" stop-color="#ff9800"/><stop offset=".87" stop-color="#ff9c00"/><stop offset=".946" stop-color="#ffc100"/><stop offset=".985" stop-color="#ffe600"/><stop offset="1" stop-color="#fbf100"/></linearGradient><linearGradient id="h146" x1="0" y1="0" x2="0" y2="1"><stop offset="0" stop-color="#77ff80"/><stop offset=".064" stop-color="#80ff77"/><stop offset=".332" stop-color="#7aff7d"/><stop offset=".371" stop-color="#87ff70"/><stop offset=".396" stop-color="#94ff63"/><stop offset=".448" stop-color="#c1ff36"/><stop offset=".512" stop-color="#ebff0c"/><stop offset=".537" stop-color="#f4f802"/><stop offset=".563" stop-color="#ffea00"/><stop offset=".716" stop-color="#ffab00"/><stop offset=".793" stop-color="#ff9800"/><stop offset=".87" stop-color="#ff9c00"/><stop offset=".946" stop-color="#ffc100"/><stop offset=".985" stop-color="#ffe600"/><stop offset="1" stop-color="#fbf100"/></linearGradient><linearGradient id="h147" x1="0" y1="0" x2="0" y2="1"><stop offset="0" stop-color="#7dff7a"/><stop offset=".051" stop-color="#87ff70"/><stop offset=".141" stop-color="#8dff6a"/><stop offset=".307" stop-color="#8dff6a"/><stop offset=".332" stop-color="#8aff6d"/><stop offset=".396" stop-color="#9dff5a"/><stop offset=".448" stop-color="#c7ff30"/><stop offset=".512" stop-color="#eeff09"/><stop offset=".537" stop-color="#f8f500"/><stop offset=".563" stop-color="#ffea00"/><stop offset=".716" stop-color="#ffab00"/><stop offset=".793" stop-color="#ff9800"/><stop offset=".87" stop-color="#ff9c00"/><stop offset=".946" stop-color="#ffc100"/><stop offset=".985" stop-color="#ffe600"/><stop offset="1" stop-color="#fbf100"/></linearGradient><linearGradient id="h148" x1="0" y1="0" x2="0" y2="1"><stop offset="0" stop-color="#80ff77"/><stop offset=".09" stop-color="#94ff63"/><stop offset=".269" stop-color="#a0ff56"/><stop offset=".345" stop-color="#9dff5a"/><stop offset=".384" stop-color="#a4ff53"/><stop offset=".422" stop-color="#baff3c"/><stop offset=".448" stop-color="#ceff29"/><stop offset=".512" stop-color="#eeff09"/><stop offset=".537" stop-color="#f8f500"/><stop offset=".563" stop-color="#ffea00"/><stop offset=".716" stop-color="#ffab00"/><stop offset=".793" stop-color="#ff9800"/><stop offset=".87" stop-color="#ff9c00"/><stop offset=".946" stop-color="#ffc100"/><stop offset=".985" stop-color="#ffe600"/><stop offset="1" stop-color="#fbf100"/></linearGradient><linearGradient id="h149" x1="0" y1="0" x2="0" y2="1"><stop offset="0" stop-color="#83ff73"/><stop offset=".013" stop-color="#8aff6d"/><stop offset=".064" stop-color="#97ff60"/><stop offset=".153" stop-color="#a4ff53"/><stop offset=".256" stop-color="#adff49"/><stop offset=".332" stop-color="#aaff4d"/><stop offset=".384" stop-color="#b1ff46"/><stop offset=".396" stop-color="#b4ff43"/><stop offset=".435" stop-color="#ceff29"/><stop offset=".499" stop-color="#ebff0c"/><stop offset=".537" stop-color="#f8f500"/><stop offset=".55" stop-color="#feed00"/><stop offset=".563" stop-color="#ffea00"/><stop offset=".716" stop-color="#ffab00"/><stop offset=".793" stop-color="#ff9800"/><stop offset=".87" stop-color="#ff9c00"/><stop offset=".946" stop-color="#ffc100"/><stop offset=".985" stop-color="#ffe600"/><stop offset="1" stop-color="#fbf100"/></linearGradient><linearGradient id="h150" x1="0" y1="0" x2="0" y2="1"><stop offset="0" stop-color="#8aff6d"/><stop offset=".128" stop-color="#a7ff50"/><stop offset=".269" stop-color="#b7ff40"/><stop offset=".332" stop-color="#b7ff40"/><stop offset=".384" stop-color="#beff39"/><stop offset=".396" stop-color="#c1ff36"/><stop offset=".46" stop-color="#e1ff16"/><stop offset=".499" stop-color="#eeff09"/><stop offset=".524" stop-color="#f4f802"/><stop offset=".537" stop-color="#fbf100"/><stop offset=".563" stop-color="#ffea00"/><stop offset=".716" stop-color="#ffab00"/><stop offset=".793" stop-color="#ff9800"/><stop offset=".87" stop-color="#ff9c00"/><stop offset=".946" stop-color="#ffc100"/><stop offset=".985" stop-color="#ffe600"/><stop offset="1" stop-color="#fbf100"/></linearGradient><linearGradient id="h151" x1="0" y1="0" x2="0" y2="1"><stop offset="0" stop-color="#8dff6a"/><stop offset=".038" stop-color="#9aff5d"/><stop offset=".141" stop-color="#b1ff46"/><stop offset=".384" stop-color="#caff2c"/><stop offset=".486" stop-color="#ebff0c"/><stop offset=".524" stop-color="#f8f500"/><stop offset=".563" stop-color="#ffea00"/><stop offset=".716" stop-color="#ffab00"/><stop offset=".793" stop-color="#ff9800"/><stop offset=".87" stop-color="#ff9c00"/><stop offset=".946" stop-color="#ffc100"/><stop offset=".985" stop-color="#ffe600"/><stop offset="1" stop-color="#fbf100"/></linearGradient><linearGradient id="h152" x1="0" y1="0" x2="0" y2="1"><stop offset="0" stop-color="#94ff63"/><stop offset=".064" stop-color="#a4ff53"/><stop offset=".077" stop-color="#aaff4d"/><stop offset=".153" stop-color="#baff3c"/><stop offset=".205" stop-color="#beff39"/><stop offset=".32" stop-color="#d1ff26"/><stop offset=".384" stop-color="#d7ff1f"/><stop offset=".486" stop-color="#eeff09"/><stop offset=".524" stop-color="#f8f500"/><stop offset=".55" stop-color="#ffea00"/><stop offset=".601" stop-color="#ffdb00"/><stop offset=".716" stop-color="#ffab00"/><stop offset=".793" stop-color="#ff9800"/><stop offset=".87" stop-color="#ff9c00"/><stop offset=".946" stop-color="#ffc100"/><stop offset=".985" stop-color="#ffe600"/><stop offset="1" stop-color="#fbf100"/></linearGradient><linearGradient id="h153" x1="0" y1="0" x2="0" y2="1"><stop offset="0" stop-color="#97ff60"/><stop offset=".09" stop-color="#b4ff43"/><stop offset=".102" stop-color="#b4ff43"/><stop offset=".153" stop-color="#c1ff36"/><stop offset=".217" stop-color="#c7ff30"/><stop offset=".345" stop-color="#e1ff16"/><stop offset=".486" stop-color="#f1fc06"/><stop offset=".512" stop-color="#f8f500"/><stop offset=".55" stop-color="#ffea00"/><stop offset=".601" stop-color="#ffdb00"/><stop offset=".716" stop-color="#ffab00"/><stop offset=".793" stop-color="#ff9800"/><stop offset=".87" stop-color="#ff9c00"/><stop offset=".946" stop-color="#ffc100"/><stop offset=".985" stop-color="#ffe600"/><stop offset="1" stop-color="#fbf100"/></linearGradient><linearGradient id="h154" x1="0" y1="0" x2="0" y2="1"><stop offset="0" stop-color="#97ff60"/><stop offset=".077" stop-color="#b1ff46"/><stop offset=".153" stop-color="#c4ff33"/><stop offset=".23" stop-color="#ceff29"/><stop offset=".32" stop-color="#e1ff16"/><stop offset=".46" stop-color="#eeff09"/><stop offset=".486" stop-color="#f4f802"/><stop offset=".499" stop-color="#f4f802"/><stop offset=".55" stop-color="#ffea00"/><stop offset=".639" stop-color="#ffcc00"/><stop offset=".716" stop-color="#ffab00"/><stop offset=".793" stop-color="#ff9800"/><stop offset=".87" stop-color="#ff9c00"/><stop offset=".946" stop-color="#ffc100"/><stop offset=".985" stop-color="#ffe600"/><stop offset="1" stop-color="#fbf100"/></linearGradient><linearGradient id="h155" x1="0" y1="0" x2="0" y2="1"><stop offset="0" stop-color="#97ff60"/><stop offset=".064" stop-color="#adff49"/><stop offset=".166" stop-color="#c7ff30"/><stop offset=".307" stop-color="#e1ff16"/><stop offset=".448" stop-color="#eeff09"/><stop offset=".473" stop-color="#f1fc06"/><stop offset=".499" stop-color="#f8f500"/><stop offset=".512" stop-color="#f8f500"/><stop offset=".55" stop-color="#ffea00"/><stop offset=".639" stop-color="#ffcc00"/><stop offset=".716" stop-color="#ffab00"/><stop offset=".793" stop-color="#ff9800"/><stop offset=".87" stop-color="#ff9c00"/><stop offset=".946" stop-color="#ffc100"/><stop offset=".985" stop-color="#ffe600"/><stop offset="1" stop-color="#fbf100"/></linearGradient><linearGradient id="h156" x1="0" y1="0" x2="0" y2="1"><stop offset="0" stop-color="#97ff60"/><stop offset=".051" stop-color="#aaff4d"/><stop offset=".256" stop-color="#dbff1c"/><stop offset=".345" stop-color="#e7ff0f"/><stop offset=".384" stop-color="#e7ff0f"/><stop offset=".473" stop-color="#f1fc06"/><stop offset=".499" stop-color="#f8f500"/><stop offset=".512" stop-color="#f8f500"/><stop offset=".55" stop-color="#ffea00"/><stop offset=".639" stop-color="#ffcc00"/><stop offset=".716" stop-color="#ffab00"/><stop offset=".793" stop-color="#ff9800"/><stop offset=".87" stop-color="#ff9c00"/><stop offset=".946" stop-color="#ffc100"/><stop offset=".985" stop-color="#ffe600"/><stop offset="1" stop-color="#fbf100"/></linearGradient><linearGradient id="h157" x1="0" y1="0" x2="0" y2="1"><stop offset="0" stop-color="#97ff60"/><stop offset=".051" stop-color="#aaff4d"/><stop offset=".281" stop-color="#e1ff16"/><stop offset=".448" stop-color="#eeff09"/><stop offset=".473" stop-color="#f1fc06"/><stop offset=".499" stop-color="#f8f500"/><stop offset=".537" stop-color="#ffea00"/><stop offset=".55" stop-color="#ffea00"/><stop offset=".639" stop-color="#ffcc00"/><stop offset=".716" stop-color="#ffab00"/><stop offset=".793" stop-color="#ff9800"/><stop offset=".87" stop-color="#ff9c00"/><stop offset=".946" stop-color="#ffc100"/><stop offset=".985" stop-color="#ffe600"/><stop offset="1" stop-color="#fbf100"/></linearGradient><linearGradient id="h158" x1="0" y1="0" x2="0" y2="1"><stop offset="0" stop-color="#94ff63"/><stop offset=".102" stop-color="#baff3c"/><stop offset=".269" stop-color="#e7ff0f"/><stop offset=".307" stop-color="#eeff09"/><stop offset=".345" stop-color="#f4f802"/><stop offset=".435" stop-color="#feed00"/><stop offset=".537" stop-color="#ffde00"/><stop offset=".614" stop-color="#ffcc00"/><stop offset=".652" stop-color="#ffbd00"/><stop offset=".78" stop-color="#ff9800"/><stop offset=".806" stop-color="#ff9400"/><stop offset=".857" stop-color="#ff9800"/><stop offset=".934" stop-color="#ffb600"/><stop offset=".985" stop-color="#ffe200"/><stop offset="1" stop-color="#fbf100"/></linearGradient><linearGradient id="h159" x1="0" y1="0" x2="0" y2="1"><stop offset="0" stop-color="#90ff66"/><stop offset=".102" stop-color="#baff3c"/><stop offset=".153" stop-color="#c7ff30"/><stop offset=".269" stop-color="#eeff09"/><stop offset=".307" stop-color="#f8f500"/><stop offset=".371" stop-color="#ffea00"/><stop offset=".46" stop-color="#ffdb00"/><stop offset=".486" stop-color="#ffdb00"/><stop offset=".563" stop-color="#ffd000"/><stop offset=".601" stop-color="#ffc400"/><stop offset=".614" stop-color="#ffc400"/><stop offset=".767" stop-color="#ff9800"/><stop offset=".806" stop-color="#ff9400"/><stop offset=".857" stop-color="#ff9800"/><stop offset=".934" stop-color="#ffb600"/><stop offset=".985" stop-color="#ffe200"/><stop offset="1" stop-color="#fbf100"/></linearGradient><linearGradient id="h160" x1="0" y1="0" x2="0" y2="1"><stop offset="0" stop-color="#8dff6a"/><stop offset=".077" stop-color="#b1ff46"/><stop offset=".269" stop-color="#eeff09"/><stop offset=".307" stop-color="#f8f500"/><stop offset=".371" stop-color="#ffea00"/><stop offset=".46" stop-color="#ffdb00"/><stop offset=".486" stop-color="#ffdb00"/><stop offset=".563" stop-color="#ffd000"/><stop offset=".601" stop-color="#ffc400"/><stop offset=".614" stop-color="#ffc400"/><stop offset=".767" stop-color="#ff9800"/><stop offset=".806" stop-color="#ff9400"/><stop offset=".857" stop-color="#ff9800"/><stop offset=".934" stop-color="#ffb600"/><stop offset=".985" stop-color="#ffe200"/><stop offset="1" stop-color="#fbf100"/></linearGradient><linearGradient id="h161" x1="0" y1="0" x2="0" y2="1"><stop offset="0" stop-color="#8aff6d"/><stop offset=".09" stop-color="#b4ff43"/><stop offset=".269" stop-color="#eeff09"/><stop offset=".307" stop-color="#f8f500"/><stop offset=".371" stop-color="#ffea00"/><stop offset=".46" stop-color="#ffdb00"/><stop offset=".486" stop-color="#ffdb00"/><stop offset=".563" stop-color="#ffd000"/><stop offset=".601" stop-color="#ffc400"/><stop offset=".614" stop-color="#ffc400"/><stop offset=".767" stop-color="#ff9800"/><stop offset=".806" stop-color="#ff9400"/><stop offset=".857" stop-color="#ff9800"/><stop offset=".934" stop-color="#ffb600"/><stop offset=".985" stop-color="#ffe200"/><stop offset="1" stop-color="#fbf100"/></linearGradient><linearGradient id="h162" x1="0" y1="0" x2="0" y2="1"><stop offset="0" stop-color="#83ff73"/><stop offset=".09" stop-color="#b1ff46"/><stop offset=".128" stop-color="#beff39"/><stop offset=".153" stop-color="#caff2c"/><stop offset=".256" stop-color="#ebff0c"/><stop offset=".269" stop-color="#f1fc06"/><stop offset=".307" stop-color="#f8f500"/><stop offset=".371" stop-color="#ffea00"/><stop offset=".575" stop-color="#ffcc00"/><stop offset=".767" stop-color="#ff9800"/><stop offset=".818" stop-color="#ff9100"/><stop offset=".87" stop-color="#ff9800"/><stop offset=".934" stop-color="#ffb600"/><stop offset=".985" stop-color="#ffe200"/><stop offset="1" stop-color="#fbf100"/></linearGradient><linearGradient id="h163" x1="0" y1="0" x2="0" y2="1"><stop offset="0" stop-color="#80ff77"/><stop offset=".013" stop-color="#83ff73"/><stop offset=".153" stop-color="#caff2c"/><stop offset=".256" stop-color="#ebff0c"/><stop offset=".269" stop-color="#f1fc06"/><stop offset=".307" stop-color="#f8f500"/><stop offset=".371" stop-color="#ffea00"/><stop offset=".575" stop-color="#ffcc00"/><stop offset=".754" stop-color="#ff9800"/><stop offset=".806" stop-color="#ff9100"/><stop offset=".857" stop-color="#ff9400"/><stop offset=".882" stop-color="#ff9c00"/><stop offset=".921" stop-color="#ffae00"/><stop offset=".946" stop-color="#ffbd00"/><stop offset=".985" stop-color="#ffe200"/><stop offset="1" stop-color="#fbf100"/></linearGradient><linearGradient id="h164" x1="0" y1="0" x2="0" y2="1"><stop offset="0" stop-color="#7aff7d"/><stop offset=".153" stop-color="#caff2c"/><stop offset=".256" stop-color="#ebff0c"/><stop offset=".269" stop-color="#f1fc06"/><stop offset=".307" stop-color="#f8f500"/><stop offset=".345" stop-color="#feed00"/><stop offset=".588" stop-color="#ffc800"/><stop offset=".767" stop-color="#ff9400"/><stop offset=".806" stop-color="#ff8d00"/><stop offset=".87" stop-color="#ff9400"/><stop offset=".895" stop-color="#ff9f00"/><stop offset=".946" stop-color="#ffbd00"/><stop offset=".985" stop-color="#ffe200"/><stop offset="1" stop-color="#fbf100"/></linearGradient><linearGradient id="h165" x1="0" y1="0" x2="0" y2="1"><stop offset="0" stop-color="#73ff83"/><stop offset=".051" stop-color="#8dff6a"/><stop offset=".153" stop-color="#caff2c"/><stop offset=".205" stop-color="#deff19"/><stop offset=".256" stop-color="#ebff0c"/><stop offset=".269" stop-color="#f1fc06"/><stop offset=".307" stop-color="#f8f500"/><stop offset=".345" stop-color="#feed00"/><stop offset=".422" stop-color="#ffe200"/><stop offset=".448" stop-color="#ffdb00"/><stop offset=".563" stop-color="#ffcc00"/><stop offset=".601" stop-color="#ffc100"/><stop offset=".614" stop-color="#ffc100"/><stop offset=".78" stop-color="#ff9100"/><stop offset=".806" stop-color="#ff8d00"/><stop offset=".857" stop-color="#ff9100"/><stop offset=".882" stop-color="#ff9800"/><stop offset=".921" stop-color="#ffae00"/><stop offset=".934" stop-color="#ffb200"/><stop offset=".985" stop-color="#ffe200"/><stop offset="1" stop-color="#fbf100"/></linearGradient><linearGradient id="h166" x1="0" y1="0" x2="0" y2="1"><stop offset="0" stop-color="#73ff83"/><stop offset=".051" stop-color="#8dff6a"/><stop offset=".153" stop-color="#caff2c"/><stop offset=".205" stop-color="#deff19"/><stop offset=".256" stop-color="#ebff0c"/><stop offset=".269" stop-color="#f1fc06"/><stop offset=".307" stop-color="#f8f500"/><stop offset=".345" stop-color="#feed00"/><stop offset=".422" stop-color="#ffe200"/><stop offset=".448" stop-color="#ffdb00"/><stop offset=".563" stop-color="#ffcc00"/><stop offset=".601" stop-color="#ffc100"/><stop offset=".614" stop-color="#ffc100"/><stop offset=".78" stop-color="#ff9100"/><stop offset=".806" stop-color="#ff8d00"/><stop offset=".857" stop-color="#ff9100"/><stop offset=".882" stop-color="#ff9800"/><stop offset=".921" stop-color="#ffae00"/><stop offset=".934" stop-color="#ffb200"/><stop offset=".985" stop-color="#ffe200"/><stop offset="1" stop-color="#fbf100"/></linearGradient><linearGradient id="h167" x1="0" y1="0" x2="0" y2="1"><stop offset="0" stop-color="#70ff87"/><stop offset=".153" stop-color="#caff2c"/><stop offset=".205" stop-color="#deff19"/><stop offset=".256" stop-color="#ebff0c"/><stop offset=".269" stop-color="#f1fc06"/><stop offset=".307" stop-color="#f8f500"/><stop offset=".345" stop-color="#feed00"/><stop offset=".422" stop-color="#ffe200"/><stop offset=".448" stop-color="#ffdb00"/><stop offset=".563" stop-color="#ffcc00"/><stop offset=".601" stop-color="#ffc100"/><stop offset=".614" stop-color="#ffc100"/><stop offset=".78" stop-color="#ff9100"/><stop offset=".806" stop-color="#ff8d00"/><stop offset=".857" stop-color="#ff9100"/><stop offset=".882" stop-color="#ff9800"/><stop offset=".921" stop-color="#ffae00"/><stop offset=".934" stop-color="#ffb200"/><stop offset=".985" stop-color="#ffe200"/><stop offset="1" stop-color="#fbf100"/></linearGradient><linearGradient id="h168" x1="0" y1="0" x2="0" y2="1"><stop offset="0" stop-color="#70ff87"/><stop offset=".153" stop-color="#caff2c"/><stop offset=".205" stop-color="#deff19"/><stop offset=".256" stop-color="#ebff0c"/><stop offset=".269" stop-color="#f1fc06"/><stop offset=".307" stop-color="#f8f500"/><stop offset=".345" stop-color="#feed00"/><stop offset=".422" stop-color="#ffe200"/><stop offset=".448" stop-color="#ffdb00"/><stop offset=".563" stop-color="#ffcc00"/><stop offset=".614" stop-color="#ffbd00"/><stop offset=".627" stop-color="#ffbd00"/><stop offset=".78" stop-color="#ff9100"/><stop offset=".806" stop-color="#ff8d00"/><stop offset=".857" stop-color="#ff9100"/><stop offset=".882" stop-color="#ff9800"/><stop offset=".921" stop-color="#ffae00"/><stop offset=".934" stop-color="#ffb200"/><stop offset=".985" stop-color="#ffe200"/><stop offset="1" stop-color="#fbf100"/></linearGradient><linearGradient id="h169" x1="0" y1="0" x2="0" y2="1"><stop offset="0" stop-color="#6dff8a"/><stop offset=".153" stop-color="#caff2c"/><stop offset=".205" stop-color="#deff19"/><stop offset=".256" stop-color="#ebff0c"/><stop offset=".269" stop-color="#f1fc06"/><stop offset=".307" stop-color="#f8f500"/><stop offset=".345" stop-color="#feed00"/><stop offset=".422" stop-color="#ffe200"/><stop offset=".448" stop-color="#ffdb00"/><stop offset=".563" stop-color="#ffcc00"/><stop offset=".78" stop-color="#ff9100"/><stop offset=".806" stop-color="#ff8d00"/><stop offset=".857" stop-color="#ff9100"/><stop offset=".882" stop-color="#ff9800"/><stop offset=".921" stop-color="#ffae00"/><stop offset=".934" stop-color="#ffb200"/><stop offset=".985" stop-color="#ffe200"/><stop offset="1" stop-color="#fbf100"/></linearGradient><linearGradient id="h170" x1="0" y1="0" x2="0" y2="1"><stop offset="0" stop-color="#73ff83"/><stop offset=".09" stop-color="#aaff4d"/><stop offset=".166" stop-color="#d1ff26"/><stop offset=".256" stop-color="#eeff09"/><stop offset=".269" stop-color="#f1fc06"/><stop offset=".307" stop-color="#f8f500"/><stop offset=".358" stop-color="#ffea00"/><stop offset=".563" stop-color="#ffcc00"/><stop offset=".78" stop-color="#ff9100"/><stop offset=".806" stop-color="#ff8d00"/><stop offset=".857" stop-color="#ff9100"/><stop offset=".934" stop-color="#ffb200"/><stop offset=".985" stop-color="#ffe200"/><stop offset="1" stop-color="#fbf100"/></linearGradient><linearGradient id="h171" x1="0" y1="0" x2="0" y2="1"><stop offset="0" stop-color="#7aff7d"/><stop offset=".077" stop-color="#a7ff50"/><stop offset=".153" stop-color="#ceff29"/><stop offset=".205" stop-color="#e1ff16"/><stop offset=".256" stop-color="#eeff09"/><stop offset=".281" stop-color="#f4f802"/><stop offset=".358" stop-color="#ffea00"/><stop offset=".575" stop-color="#ffc800"/><stop offset=".78" stop-color="#ff9100"/><stop offset=".806" stop-color="#ff8d00"/><stop offset=".857" stop-color="#ff9100"/><stop offset=".934" stop-color="#ffb200"/><stop offset=".985" stop-color="#ffe200"/><stop offset="1" stop-color="#fbf100"/></linearGradient><linearGradient id="h172" x1="0" y1="0" x2="0" y2="1"><stop offset="0" stop-color="#7dff7a"/><stop offset=".051" stop-color="#9dff5a"/><stop offset=".153" stop-color="#d1ff26"/><stop offset=".256" stop-color="#eeff09"/><stop offset=".281" stop-color="#f4f802"/><stop offset=".358" stop-color="#ffea00"/><stop offset=".575" stop-color="#ffc800"/><stop offset=".78" stop-color="#ff9100"/><stop offset=".806" stop-color="#ff8d00"/><stop offset=".831" stop-color="#ff8d00"/><stop offset=".87" stop-color="#ff9400"/><stop offset=".934" stop-color="#ffb200"/><stop offset=".985" stop-color="#ffe200"/><stop offset="1" stop-color="#fbf100"/></linearGradient><linearGradient id="h173" x1="0" y1="0" x2="0" y2="1"><stop offset="0" stop-color="#83ff73"/><stop offset=".026" stop-color="#94ff63"/><stop offset=".141" stop-color="#ceff29"/><stop offset=".166" stop-color="#d7ff1f"/><stop offset=".256" stop-color="#eeff09"/><stop offset=".294" stop-color="#f8f500"/><stop offset=".358" stop-color="#ffea00"/><stop offset=".422" stop-color="#ffe200"/><stop offset=".448" stop-color="#ffdb00"/><stop offset=".512" stop-color="#ffd300"/><stop offset=".588" stop-color="#ffc400"/><stop offset=".78" stop-color="#ff9100"/><stop offset=".806" stop-color="#ff8d00"/><stop offset=".831" stop-color="#ff8d00"/><stop offset=".87" stop-color="#ff9400"/><stop offset=".895" stop-color="#ffa300"/><stop offset=".934" stop-color="#ffb200"/><stop offset=".985" stop-color="#ffe200"/><stop offset="1" stop-color="#fbf100"/></linearGradient><linearGradient id="h174" x1="0" y1="0" x2="0" y2="1"><stop offset="0" stop-color="#8aff6d"/><stop offset=".09" stop-color="#baff3c"/><stop offset=".153" stop-color="#d4ff23"/><stop offset=".243" stop-color="#eeff09"/><stop offset=".294" stop-color="#f8f500"/><stop offset=".358" stop-color="#ffea00"/><stop offset=".55" stop-color="#ffcc00"/><stop offset=".806" stop-color="#ff8d00"/><stop offset=".87" stop-color="#ff9400"/><stop offset=".895" stop-color="#ffa300"/><stop offset=".934" stop-color="#ffb200"/><stop offset=".985" stop-color="#ffe200"/><stop offset="1" stop-color="#fbf100"/></linearGradient><linearGradient id="h175" x1="0" y1="0" x2="0" y2="1"><stop offset="0" stop-color="#8dff6a"/><stop offset=".038" stop-color="#a4ff53"/><stop offset=".115" stop-color="#c7ff30"/><stop offset=".179" stop-color="#deff19"/><stop offset=".243" stop-color="#eeff09"/><stop offset=".269" stop-color="#f4f802"/><stop offset=".358" stop-color="#ffea00"/><stop offset=".55" stop-color="#ffcc00"/><stop offset=".806" stop-color="#ff8d00"/><stop offset=".87" stop-color="#ff9400"/><stop offset=".895" stop-color="#ffa300"/><stop offset=".934" stop-color="#ffb200"/><stop offset=".985" stop-color="#ffe200"/><stop offset="1" stop-color="#fbf100"/></linearGradient><linearGradient id="h176" x1="0" y1="0" x2="0" y2="1"><stop offset="0" stop-color="#90ff66"/><stop offset=".051" stop-color="#adff49"/><stop offset=".153" stop-color="#d7ff1f"/><stop offset=".243" stop-color="#eeff09"/><stop offset=".281" stop-color="#f8f500"/><stop offset=".358" stop-color="#ffea00"/><stop offset=".55" stop-color="#ffcc00"/><stop offset=".806" stop-color="#ff8d00"/><stop offset=".87" stop-color="#ff9400"/><stop offset=".895" stop-color="#ffa300"/><stop offset=".934" stop-color="#ffb200"/><stop offset=".985" stop-color="#ffe200"/><stop offset="1" stop-color="#fbf100"/></linearGradient><linearGradient id="h177" x1="0" y1="0" x2="0" y2="1"><stop offset="0" stop-color="#94ff63"/><stop offset=".09" stop-color="#c1ff36"/><stop offset=".141" stop-color="#d4ff23"/><stop offset=".217" stop-color="#ebff0c"/><stop offset=".243" stop-color="#eeff09"/><stop offset=".281" stop-color="#f8f500"/><stop offset=".32" stop-color="#fbf100"/><stop offset=".345" stop-color="#ffea00"/><stop offset=".512" stop-color="#ffd300"/><stop offset=".665" stop-color="#ffae00"/><stop offset=".678" stop-color="#ffae00"/><stop offset=".767" stop-color="#ff9400"/><stop offset=".806" stop-color="#ff8d00"/><stop offset=".87" stop-color="#ff9400"/><stop offset=".895" stop-color="#ffa300"/><stop offset=".934" stop-color="#ffb200"/><stop offset=".985" stop-color="#ffe200"/><stop offset="1" stop-color="#fbf100"/></linearGradient><linearGradient id="h178" x1="0" y1="0" x2="0" y2="1"><stop offset="0" stop-color="#97ff60"/><stop offset=".09" stop-color="#c4ff33"/><stop offset=".23" stop-color="#eeff09"/><stop offset=".256" stop-color="#f4f802"/><stop offset=".345" stop-color="#ffea00"/><stop offset=".486" stop-color="#ffd700"/><stop offset=".563" stop-color="#ffc800"/><stop offset=".806" stop-color="#ff8d00"/><stop offset=".87" stop-color="#ff9400"/><stop offset=".895" stop-color="#ffa300"/><stop offset=".934" stop-color="#ffb200"/><stop offset=".985" stop-color="#ffe200"/><stop offset="1" stop-color="#fbf100"/></linearGradient><linearGradient id="h179" x1="0" y1="0" x2="0" y2="1"><stop offset="0" stop-color="#9aff5d"/><stop offset=".102" stop-color="#caff2c"/><stop offset=".23" stop-color="#eeff09"/><stop offset=".269" stop-color="#f8f500"/><stop offset=".345" stop-color="#ffea00"/><stop offset=".524" stop-color="#ffd000"/><stop offset=".665" stop-color="#ffae00"/><stop offset=".678" stop-color="#ffae00"/><stop offset=".767" stop-color="#ff9400"/><stop offset=".806" stop-color="#ff8d00"/><stop offset=".87" stop-color="#ff9400"/><stop offset=".895" stop-color="#ffa300"/><stop offset=".934" stop-color="#ffb200"/><stop offset=".985" stop-color="#ffe200"/><stop offset="1" stop-color="#fbf100"/></linearGradient><linearGradient id="h180" x1="0" y1="0" x2="0" y2="1"><stop offset="0" stop-color="#9dff5a"/><stop offset=".051" stop-color="#b7ff40"/><stop offset=".115" stop-color="#d1ff26"/><stop offset=".23" stop-color="#eeff09"/><stop offset=".269" stop-color="#f8f500"/><stop offset=".332" stop-color="#ffea00"/><stop offset=".358" stop-color="#ffea00"/><stop offset=".524" stop-color="#ffd000"/><stop offset=".563" stop-color="#ffc400"/><stop offset=".678" stop-color="#ffae00"/><stop offset=".767" stop-color="#ff9400"/><stop offset=".806" stop-color="#ff8d00"/><stop offset=".87" stop-color="#ff9400"/><stop offset=".895" stop-color="#ffa300"/><stop offset=".934" stop-color="#ffb200"/><stop offset=".985" stop-color="#ffe200"/><stop offset="1" stop-color="#fbf100"/></linearGradient><linearGradient id="h181" x1="0" y1="0" x2="0" y2="1"><stop offset="0" stop-color="#a0ff56"/><stop offset=".09" stop-color="#caff2c"/><stop offset=".179" stop-color="#e1ff16"/><stop offset=".192" stop-color="#e7ff0f"/><stop offset=".243" stop-color="#f1fc06"/><stop offset=".269" stop-color="#f8f500"/><stop offset=".307" stop-color="#feed00"/><stop offset=".499" stop-color="#ffd300"/><stop offset=".614" stop-color="#ffb900"/><stop offset=".627" stop-color="#ffb900"/><stop offset=".665" stop-color="#ffae00"/><stop offset=".678" stop-color="#ffae00"/><stop offset=".767" stop-color="#ff9400"/><stop offset=".806" stop-color="#ff8d00"/><stop offset=".87" stop-color="#ff9400"/><stop offset=".895" stop-color="#ffa300"/><stop offset=".934" stop-color="#ffb200"/><stop offset=".985" stop-color="#ffe200"/><stop offset="1" stop-color="#fbf100"/></linearGradient><linearGradient id="h182" x1="0" y1="0" x2="0" y2="1"><stop offset="0" stop-color="#a4ff53"/><stop offset=".09" stop-color="#ceff29"/><stop offset=".217" stop-color="#eeff09"/><stop offset=".256" stop-color="#f8f500"/><stop offset=".332" stop-color="#ffea00"/><stop offset=".46" stop-color="#ffdb00"/><stop offset=".575" stop-color="#ffc100"/><stop offset=".627" stop-color="#ffb900"/><stop offset=".665" stop-color="#ffae00"/><stop offset=".678" stop-color="#ffae00"/><stop offset=".767" stop-color="#ff9400"/><stop offset=".806" stop-color="#ff8d00"/><stop offset=".87" stop-color="#ff9400"/><stop offset=".895" stop-color="#ffa300"/><stop offset=".934" stop-color="#ffb200"/><stop offset=".985" stop-color="#ffe200"/><stop offset="1" stop-color="#fbf100"/></linearGradient><linearGradient id="hb" x1="0" y1="0" x2="0" y2="1"><stop offset="0" stop-color="#fbf100"/><stop offset=".009" stop-color="#f8f500"/><stop offset=".037" stop-color="#eeff09"/><stop offset=".156" stop-color="#c4ff33"/><stop offset=".165" stop-color="#beff39"/><stop offset=".202" stop-color="#b1ff46"/><stop offset=".211" stop-color="#aaff4d"/><stop offset=".229" stop-color="#a4ff53"/><stop offset=".239" stop-color="#9dff5a"/><stop offset=".257" stop-color="#97ff60"/><stop offset=".266" stop-color="#90ff66"/><stop offset=".312" stop-color="#7dff7a"/><stop offset=".321" stop-color="#77ff80"/><stop offset=".339" stop-color="#70ff87"/><stop offset=".349" stop-color="#6aff8d"/><stop offset=".367" stop-color="#63ff94"/><stop offset=".376" stop-color="#5dff9a"/><stop offset=".385" stop-color="#5aff9d"/><stop offset=".404" stop-color="#4dffaa"/><stop offset=".413" stop-color="#43ffb4"/><stop offset=".45" stop-color="#29ffce"/><stop offset=".468" stop-color="#16ffe1"/><stop offset=".486" stop-color="#02e8f4"/><stop offset=".495" stop-color="#00dcfe"/><stop offset=".505" stop-color="#00ccff"/><stop offset=".514" stop-color="#00b8ff"/><stop offset=".541" stop-color="#0088ff"/><stop offset=".55" stop-color="#0074ff"/><stop offset=".578" stop-color="#0044ff"/><stop offset=".606" stop-color="#0004ff"/><stop offset=".615" stop-color="#0000fa"/><stop offset=".642" stop-color="#0000a8"/><stop offset=".651" stop-color="#000092"/><stop offset=".661" stop-color="#000080"/><stop offset="1" stop-color="#000080"/></linearGradient><linearGradient id="cb" x1="0" y1="0" x2="0" y2="1"><stop offset="0.0000" stop-color="#800000"/><stop offset="0.0167" stop-color="#920000"/><stop offset="0.0333" stop-color="#a40000"/><stop offset="0.0500" stop-color="#b60000"/><stop offset="0.0667" stop-color="#cd0000"/><stop offset="0.0833" stop-color="#df0000"/><stop offset="0.1000" stop-color="#f10800"/><stop offset="0.1167" stop-color="#ff1600"/><stop offset="0.1333" stop-color="#ff2900"/><stop offset="0.1500" stop-color="#ff3800"/><stop offset="0.1667" stop-color="#ff4700"/><stop offset="0.1833" stop-color="#ff5500"/><stop offset="0.2000" stop-color="#ff6800"/><stop offset="0.2167" stop-color="#ff7700"/><stop offset="0.2333" stop-color="#ff8600"/><stop offset="0.2500" stop-color="#ff9400"/><stop offset="0.2667" stop-color="#ffa700"/><stop offset="0.2833" stop-color="#ffb600"/><stop offset="0.3000" stop-color="#ffc400"/><stop offset="0.3167" stop-color="#ffd700"/><stop offset="0.3333" stop-color="#ffe600"/><stop offset="0.3500" stop-color="#f8f500"/><stop offset="0.3667" stop-color="#ebff0c"/><stop offset="0.3833" stop-color="#dbff1c"/><stop offset="0.4000" stop-color="#ceff29"/><stop offset="0.4167" stop-color="#c1ff36"/><stop offset="0.4333" stop-color="#b4ff43"/><stop offset="0.4500" stop-color="#a4ff53"/><stop offset="0.4667" stop-color="#97ff60"/><stop offset="0.4833" stop-color="#8aff6d"/><stop offset="0.5000" stop-color="#7dff7a"/><stop offset="0.5167" stop-color="#6dff8a"/><stop offset="0.5333" stop-color="#60ff97"/><stop offset="0.5500" stop-color="#53ffa4"/><stop offset="0.5667" stop-color="#43ffb4"/><stop offset="0.5833" stop-color="#36ffc1"/><stop offset="0.6000" stop-color="#29ffce"/><stop offset="0.6167" stop-color="#1cffdb"/><stop offset="0.6333" stop-color="#0cf4eb"/><stop offset="0.6500" stop-color="#00e4f8"/><stop offset="0.6667" stop-color="#00d4ff"/><stop offset="0.6833" stop-color="#00c4ff"/><stop offset="0.7000" stop-color="#00b0ff"/><stop offset="0.7167" stop-color="#00a0ff"/><stop offset="0.7333" stop-color="#0090ff"/><stop offset="0.7500" stop-color="#0080ff"/><stop offset="0.7667" stop-color="#006cff"/><stop offset="0.7833" stop-color="#005cff"/><stop offset="0.8000" stop-color="#004cff"/><stop offset="0.8167" stop-color="#0038ff"/><stop offset="0.8333" stop-color="#0028ff"/><stop offset="0.8500" stop-color="#0018ff"/><stop offset="0.8667" stop-color="#0008ff"/><stop offset="0.8833" stop-color="#0000ff"/><stop offset="0.9000" stop-color="#0000f1"/><stop offset="0.9167" stop-color="#0000df"/><stop offset="0.9333" stop-color="#0000cd"/><stop offset="0.9500" stop-color="#0000b6"/><stop offset="0.9667" stop-color="#0000a4"/><stop offset="0.9833" stop-color="#000092"/><stop offset="1.0000" stop-color="#000080"/></linearGradient><clipPath id="cL2"><rect x="200" y="477.6" width="714" height="344.6"/></clipPath><clipPath id="cR1"><rect x="1205" y="110" width="595" height="344.6"/></clipPath><clipPath id="cR2"><rect x="1205" y="477.6" width="595" height="344.6"/></clipPath><clipPath id="cR3"><rect x="1205" y="845" width="595" height="172"/></clipPath></defs><g transform="scale(0.72)"><rect x="200" y="110.00" width="714" height="57.43" fill="#d3d3d3"/><rect x="200" y="167.43" width="8" height="225.06" fill="url(#h0)"/><rect x="208" y="167.43" width="8" height="225.06" fill="url(#h1)"/><rect x="216" y="167.43" width="8" height="225.06" fill="url(#h2)"/><rect x="224" y="167.43" width="8" height="225.06" fill="url(#h3)"/><rect x="232" y="167.43" width="8" height="225.06" fill="url(#h4)"/><rect x="240" y="167.43" width="8" height="225.06" fill="url(#h5)"/><rect x="248" y="167.43" width="8" height="225.06" fill="url(#h6)"/><rect x="256" y="167.43" width="8" height="225.06" fill="url(#h7)"/><rect x="264" y="167.43" width="8" height="225.06" fill="url(#h8)"/><rect x="272" y="167.43" width="8" height="225.06" fill="url(#h9)"/><rect x="280" y="167.43" width="8" height="225.06" fill="url(#h10)"/><rect x="288" y="167.43" width="8" height="225.06" fill="url(#h11)"/><rect x="296" y="167.43" width="8" height="225.06" fill="url(#h12)"/><rect x="304" y="167.43" width="8" height="225.06" fill="url(#h13)"/><rect x="312" y="167.43" width="8" height="225.06" fill="url(#h14)"/><rect x="320" y="167.43" width="8" height="225.06" fill="url(#h15)"/><rect x="328" y="167.43" width="8" height="225.06" fill="url(#h16)"/><rect x="336" y="167.43" width="8" height="225.06" fill="url(#h17)"/><rect x="344" y="167.43" width="8" height="225.06" fill="url(#h18)"/><rect x="352" y="167.43" width="8" height="225.06" fill="url(#h19)"/><rect x="360" y="167.43" width="8" height="225.06" fill="url(#h20)"/><rect x="368" y="167.43" width="8" height="225.06" fill="url(#h21)"/><rect x="376" y="167.43" width="8" height="225.06" fill="url(#h22)"/><rect x="384" y="167.43" width="8" height="225.06" fill="url(#h23)"/><rect x="392" y="167.43" width="8" height="225.06" fill="url(#h24)"/><rect x="400" y="167.43" width="8" height="225.06" fill="url(#h25)"/><rect x="408" y="167.43" width="8" height="225.06" fill="url(#h26)"/><rect x="416" y="167.43" width="8" height="225.06" fill="url(#h27)"/><rect x="424" y="167.43" width="8" height="225.06" fill="url(#h28)"/><rect x="432" y="167.43" width="8" height="225.06" fill="url(#h29)"/><rect x="440" y="167.43" width="8" height="225.06" fill="url(#h30)"/><rect x="448" y="167.43" width="8" height="225.06" fill="url(#h31)"/><rect x="456" y="167.43" width="8" height="225.06" fill="url(#h32)"/><rect x="464" y="167.43" width="8" height="225.06" fill="url(#h33)"/><rect x="472" y="167.43" width="8" height="225.06" fill="url(#h34)"/><rect x="480" y="167.43" width="8" height="225.06" fill="url(#h35)"/><rect x="488" y="167.43" width="8" height="225.06" fill="url(#h36)"/><rect x="496" y="167.43" width="8" height="225.06" fill="url(#h37)"/><rect x="504" y="167.43" width="8" height="225.06" fill="url(#h38)"/><rect x="512" y="167.43" width="8" height="225.06" fill="url(#h39)"/><rect x="520" y="167.43" width="8" height="225.06" fill="url(#h40)"/><rect x="528" y="167.43" width="8" height="225.06" fill="url(#h41)"/><rect x="536" y="167.43" width="8" height="225.06" fill="url(#h42)"/><rect x="544" y="167.43" width="8" height="225.06" fill="url(#h43)"/><rect x="552" y="167.43" width="8" height="225.06" fill="url(#h44)"/><rect x="560" y="167.43" width="8" height="225.06" fill="url(#h45)"/><rect x="568" y="167.43" width="8" height="225.06" fill="url(#h46)"/><rect x="576" y="167.43" width="8" height="225.06" fill="url(#h47)"/><rect x="584" y="167.43" width="8" height="225.06" fill="url(#h48)"/><rect x="592" y="167.43" width="3" height="225.06" fill="url(#h49)"/><rect x="595" y="167.43" width="3" height="225.06" fill="url(#h50)"/><rect x="598" y="167.43" width="3" height="225.06" fill="url(#h51)"/><rect x="601" y="167.43" width="3" height="225.06" fill="url(#h52)"/><rect x="604" y="167.43" width="3" height="225.06" fill="url(#h53)"/><rect x="607" y="167.43" width="3" height="225.06" fill="url(#h54)"/><rect x="610" y="167.43" width="3" height="225.06" fill="url(#h55)"/><rect x="613" y="167.43" width="3" height="225.06" fill="url(#h56)"/><rect x="616" y="167.43" width="3" height="225.06" fill="url(#h57)"/><rect x="619" y="167.43" width="3" height="225.06" fill="url(#h58)"/><rect x="622" y="167.43" width="3" height="225.06" fill="url(#h59)"/><rect x="625" y="167.43" width="3" height="225.06" fill="url(#h60)"/><rect x="628" y="167.43" width="3" height="225.06" fill="url(#h61)"/><rect x="631" y="167.43" width="3" height="225.06" fill="url(#h62)"/><rect x="634" y="167.43" width="3" height="225.06" fill="url(#h63)"/><rect x="637" y="167.43" width="3" height="225.06" fill="url(#h64)"/><rect x="640" y="167.43" width="3" height="225.06" fill="url(#h65)"/><rect x="643" y="167.43" width="3" height="225.06" fill="url(#h66)"/><rect x="646" y="167.43" width="3" height="225.06" fill="url(#h67)"/><rect x="649" y="167.43" width="3" height="225.06" fill="url(#h68)"/><rect x="652" y="167.43" width="3" height="225.06" fill="url(#h69)"/><rect x="655" y="167.43" width="3" height="225.06" fill="url(#h70)"/><rect x="658" y="167.43" width="3" height="225.06" fill="url(#h71)"/><rect x="661" y="167.43" width="3" height="225.06" fill="url(#h72)"/><rect x="664" y="167.43" width="2" height="225.06" fill="url(#h73)"/><rect x="666" y="167.43" width="2" height="225.06" fill="url(#h74)"/><rect x="668" y="167.43" width="1" height="225.06" fill="url(#h75)"/><rect x="669" y="167.43" width="1" height="225.06" fill="url(#h76)"/><rect x="670" y="167.43" width="1" height="225.06" fill="url(#h77)"/><rect x="671" y="167.43" width="1" height="225.06" fill="url(#h78)"/><rect x="672" y="167.43" width="1" height="225.06" fill="url(#h79)"/><rect x="673" y="167.43" width="1" height="225.06" fill="url(#h80)"/><rect x="674" y="167.43" width="2" height="225.06" fill="url(#h81)"/><rect x="676" y="167.43" width="2" height="225.06" fill="url(#h82)"/><rect x="678" y="167.43" width="2" height="225.06" fill="url(#h83)"/><rect x="680" y="167.43" width="2" height="225.06" fill="url(#h84)"/><rect x="682" y="167.43" width="2" height="225.06" fill="url(#h85)"/><rect x="684" y="167.43" width="2" height="225.06" fill="url(#h86)"/><rect x="686" y="167.43" width="2" height="225.06" fill="url(#h87)"/><rect x="688" y="167.43" width="2" height="225.06" fill="url(#h88)"/><rect x="690" y="167.43" width="2" height="225.06" fill="url(#h89)"/><rect x="692" y="167.43" width="2" height="225.06" fill="url(#h90)"/><rect x="694" y="167.43" width="1" height="225.06" fill="url(#h91)"/><rect x="695" y="167.43" width="1" height="225.06" fill="url(#h92)"/><rect x="696" y="167.43" width="1" height="225.06" fill="url(#h93)"/><rect x="697" y="167.43" width="1" height="225.06" fill="url(#h94)"/><rect x="698" y="167.43" width="1" height="225.06" fill="url(#h95)"/><rect x="699" y="167.43" width="1" height="225.06" fill="url(#h96)"/><rect x="700" y="167.43" width="1" height="225.06" fill="url(#h97)"/><rect x="701" y="167.43" width="1" height="225.06" fill="url(#h98)"/><rect x="702" y="167.43" width="2" height="225.06" fill="url(#h99)"/><rect x="704" y="167.43" width="2" height="225.06" fill="url(#h100)"/><rect x="706" y="167.43" width="2" height="225.06" fill="url(#h101)"/><rect x="708" y="167.43" width="2" height="225.06" fill="url(#h102)"/><rect x="710" y="167.43" width="2" height="225.06" fill="url(#h103)"/><rect x="712" y="167.43" width="2" height="225.06" fill="url(#h104)"/><rect x="714" y="167.43" width="2" height="225.06" fill="url(#h105)"/><rect x="716" y="167.43" width="2" height="225.06" fill="url(#h106)"/><rect x="718" y="167.43" width="2" height="225.06" fill="url(#h107)"/><rect x="720" y="167.43" width="2" height="225.06" fill="url(#h108)"/><rect x="722" y="167.43" width="2" height="225.06" fill="url(#h109)"/><rect x="724" y="167.43" width="2" height="225.06" fill="url(#h110)"/><rect x="726" y="167.43" width="2" height="225.06" fill="url(#h111)"/><rect x="728" y="167.43" width="2" height="225.06" fill="url(#h112)"/><rect x="730" y="167.43" width="2" height="225.06" fill="url(#h113)"/><rect x="732" y="167.43" width="2" height="225.06" fill="url(#h114)"/><rect x="734" y="167.43" width="2" height="225.06" fill="url(#h115)"/><rect x="736" y="167.43" width="2" height="225.06" fill="url(#h116)"/><rect x="738" y="167.43" width="2" height="225.06" fill="url(#h117)"/><rect x="740" y="167.43" width="2" height="225.06" fill="url(#h118)"/><rect x="742" y="167.43" width="2" height="225.06" fill="url(#h119)"/><rect x="744" y="167.43" width="2" height="225.06" fill="url(#h120)"/><rect x="746" y="167.43" width="2" height="225.06" fill="url(#h121)"/><rect x="748" y="167.43" width="2" height="225.06" fill="url(#h122)"/><rect x="750" y="167.43" width="2" height="225.06" fill="url(#h123)"/><rect x="752" y="167.43" width="2" height="225.06" fill="url(#h124)"/><rect x="754" y="167.43" width="2" height="225.06" fill="url(#h125)"/><rect x="756" y="167.43" width="2" height="225.06" fill="url(#h126)"/><rect x="758" y="167.43" width="2" height="225.06" fill="url(#h127)"/><rect x="760" y="167.43" width="2" height="225.06" fill="url(#h128)"/><rect x="762" y="167.43" width="2" height="225.06" fill="url(#h129)"/><rect x="764" y="167.43" width="2" height="225.06" fill="url(#h130)"/><rect x="766" y="167.43" width="2" height="225.06" fill="url(#h131)"/><rect x="768" y="167.43" width="2" height="225.06" fill="url(#h132)"/><rect x="770" y="167.43" width="2" height="225.06" fill="url(#h133)"/><rect x="772" y="167.43" width="2" height="225.06" fill="url(#h134)"/><rect x="774" y="167.43" width="2" height="225.06" fill="url(#h135)"/><rect x="776" y="167.43" width="2" height="225.06" fill="url(#h136)"/><rect x="778" y="167.43" width="1" height="225.06" fill="url(#h137)"/><rect x="779" y="167.43" width="1" height="225.06" fill="url(#h138)"/><rect x="780" y="167.43" width="1" height="225.06" fill="url(#h139)"/><rect x="781" y="167.43" width="1" height="225.06" fill="url(#h140)"/><rect x="782" y="167.43" width="1" height="225.06" fill="url(#h141)"/><rect x="783" y="167.43" width="1" height="225.06" fill="url(#h142)"/><rect x="784" y="167.43" width="3" height="225.06" fill="url(#h143)"/><rect x="787" y="167.43" width="3" height="225.06" fill="url(#h144)"/><rect x="790" y="167.43" width="3" height="225.06" fill="url(#h145)"/><rect x="793" y="167.43" width="3" height="225.06" fill="url(#h146)"/><rect x="796" y="167.43" width="3" height="225.06" fill="url(#h147)"/><rect x="799" y="167.43" width="3" height="225.06" fill="url(#h148)"/><rect x="802" y="167.43" width="3" height="225.06" fill="url(#h149)"/><rect x="805" y="167.43" width="3" height="225.06" fill="url(#h150)"/><rect x="808" y="167.43" width="3" height="225.06" fill="url(#h151)"/><rect x="811" y="167.43" width="3" height="225.06" fill="url(#h152)"/><rect x="814" y="167.43" width="3" height="225.06" fill="url(#h153)"/><rect x="817" y="167.43" width="3" height="225.06" fill="url(#h154)"/><rect x="820" y="167.43" width="1" height="225.06" fill="url(#h155)"/><rect x="821" y="167.43" width="1" height="225.06" fill="url(#h156)"/><rect x="822" y="167.43" width="1" height="225.06" fill="url(#h157)"/><rect x="823" y="167.43" width="1" height="225.06" fill="url(#h158)"/><rect x="824" y="167.43" width="1" height="225.06" fill="url(#h159)"/><rect x="825" y="167.43" width="1" height="225.06" fill="url(#h160)"/><rect x="826" y="167.43" width="4" height="225.06" fill="url(#h161)"/><rect x="830" y="167.43" width="4" height="225.06" fill="url(#h162)"/><rect x="834" y="167.43" width="4" height="225.06" fill="url(#h163)"/><rect x="838" y="167.43" width="4" height="225.06" fill="url(#h164)"/><rect x="842" y="167.43" width="4" height="225.06" fill="url(#h165)"/><rect x="846" y="167.43" width="4" height="225.06" fill="url(#h166)"/><rect x="850" y="167.43" width="4" height="225.06" fill="url(#h167)"/><rect x="854" y="167.43" width="4" height="225.06" fill="url(#h168)"/><rect x="858" y="167.43" width="4" height="225.06" fill="url(#h169)"/><rect x="862" y="167.43" width="4" height="225.06" fill="url(#h170)"/><rect x="866" y="167.43" width="4" height="225.06" fill="url(#h171)"/><rect x="870" y="167.43" width="4" height="225.06" fill="url(#h172)"/><rect x="874" y="167.43" width="4" height="225.06" fill="url(#h173)"/><rect x="878" y="167.43" width="4" height="225.06" fill="url(#h174)"/><rect x="882" y="167.43" width="4" height="225.06" fill="url(#h175)"/><rect x="886" y="167.43" width="4" height="225.06" fill="url(#h176)"/><rect x="890" y="167.43" width="4" height="225.06" fill="url(#h177)"/><rect x="894" y="167.43" width="4" height="225.06" fill="url(#h178)"/><rect x="898" y="167.43" width="4" height="225.06" fill="url(#h179)"/><rect x="902" y="167.43" width="4" height="225.06" fill="url(#h180)"/><rect x="906" y="167.43" width="4" height="225.06" fill="url(#h181)"/><rect x="910" y="167.43" width="4" height="225.06" fill="url(#h182)"/><rect x="200" y="392.00" width="714" height="62.60" fill="url(#hb)"/></g></g>
<g id="matplotlib.axis_1">
<g id="xtick_1">
<g id="line2d_1">
<defs>
<path id="m82f586ba75" d="M 0 0 
L 0 -4 
" style="stroke: #000000; stroke-width: 0.8"/>
</defs>
<g>
<use href="#m82f586ba75" x="180.72" y="327.31" style="stroke: #000000; stroke-width: 0.8"/>
</g>
</g>
</g>
<g id="xtick_2">
<g id="line2d_2">
<g>
<use href="#m82f586ba75" x="254.16" y="327.31" style="stroke: #000000; stroke-width: 0.8"/>
</g>
</g>
</g>
<g id="xtick_3">
<g id="line2d_3">
<g>
<use href="#m82f586ba75" x="327.6" y="327.31" style="stroke: #000000; stroke-width: 0.8"/>
</g>
</g>
</g>
<g id="xtick_4">
<g id="line2d_4">
<g>
<use href="#m82f586ba75" x="401.04" y="327.31" style="stroke: #000000; stroke-width: 0.8"/>
</g>
</g>
</g>
<g id="xtick_5">
<g id="line2d_5">
<g>
<use href="#m82f586ba75" x="474.48" y="327.31" style="stroke: #000000; stroke-width: 0.8"/>
</g>
</g>
</g>
<g id="xtick_6">
<g id="line2d_6">
<g>
<use href="#m82f586ba75" x="547.92" y="327.31" style="stroke: #000000; stroke-width: 0.8"/>
</g>
</g>
</g>
<g id="xtick_7">
<g id="line2d_7">
<g>
<use href="#m82f586ba75" x="621.36" y="327.31" style="stroke: #000000; stroke-width: 0.8"/>
</g>
</g>
</g>
</g>
<g id="matplotlib.axis_2">
<g id="ytick_1">
<g id="line2d_8">
<defs>
<path id="m0bb405004b" d="M 0 0 
L 4 0 
" style="stroke: #000000; stroke-width: 0.8"/>
</defs>
<g>
<use href="#m0bb405004b" x="144" y="327.31" style="stroke: #000000; stroke-width: 0.8"/>
</g>
</g>
<g id="line2d_9">
<defs>
<path id="mb68e5e41f8" d="M 0 0 
L -4 0 
" style="stroke: #000000; stroke-width: 0.8"/>
</defs>
<g>
<use href="#mb68e5e41f8" x="658.08" y="327.31" style="stroke: #000000; stroke-width: 0.8"/>
</g>
</g>
<g id="text_1">
<text style="font-size: 14.4px; font-family: 'DejaVu Sans', 'Liberation Sans', sans-serif; text-anchor: end" x="140.5" y="332.78" transform="rotate(-0 140.5 332.782875)">2</text>
</g>
</g>
<g id="ytick_2">
<g id="line2d_10">
<g>
<use href="#m0bb405004b" x="144" y="285.96" style="stroke: #000000; stroke-width: 0.8"/>
</g>
</g>
<g id="line2d_11">
<g>
<use href="#mb68e5e41f8" x="658.08" y="285.96" style="stroke: #000000; stroke-width: 0.8"/>
</g>
</g>
<g id="text_2">
<text style="font-size: 14.4px; font-family: 'DejaVu Sans', 'Liberation Sans', sans-serif; text-anchor: end" x="140.5" y="291.43" transform="rotate(-0 140.5 291.430875)">3</text>
</g>
</g>
<g id="ytick_3">
<g id="line2d_12">
<g>
<use href="#m0bb405004b" x="144" y="244.61" style="stroke: #000000; stroke-width: 0.8"/>
</g>
</g>
<g id="line2d_13">
<g>
<use href="#mb68e5e41f8" x="658.08" y="244.61" style="stroke: #000000; stroke-width: 0.8"/>
</g>
</g>
<g id="text_3">
<text style="font-size: 14.4px; font-family: 'DejaVu Sans', 'Liberation Sans', sans-serif; text-anchor: end" x="140.5" y="250.08" transform="rotate(-0 140.5 250.078875)">4</text>
</g>
</g>
<g id="ytick_4">
<g id="line2d_14">
<g>
<use href="#m0bb405004b" x="144" y="203.26" style="stroke: #000000; stroke-width: 0.8"/>
</g>
</g>
<g id="line2d_15">
<g>
<use href="#mb68e5e41f8" x="658.08" y="203.26" style="stroke: #000000; stroke-width: 0.8"/>
</g>
</g>
<g id="text_4">
<text style="font-size: 14.4px; font-family: 'DejaVu Sans', 'Liberation Sans', sans-serif; text-anchor: end" x="140.5" y="208.73" transform="rotate(-0 140.5 208.726875)">5</text>
</g>
</g>
<g id="ytick_5">
<g id="line2d_16">
<g>
<use href="#m0bb405004b" x="144" y="161.90" style="stroke: #000000; stroke-width: 0.8"/>
</g>
</g>
<g id="line2d_17">
<g>
<use href="#mb68e5e41f8" x="658.08" y="161.90" style="stroke: #000000; stroke-width: 0.8"/>
</g>
</g>
<g id="text_5">
<text style="font-size: 14.4px; font-family: 'DejaVu Sans', 'Liberation Sans', sans-serif; text-anchor: end" x="140.5" y="167.37" transform="rotate(-0 140.5 167.374875)">6</text>
</g>
</g>
<g id="ytick_6">
<g id="line2d_18">
<g>
<use href="#m0bb405004b" x="144" y="120.55" style="stroke: #000000; stroke-width: 0.8"/>
</g>
</g>
<g id="line2d_19">
<g>
<use href="#mb68e5e41f8" x="658.08" y="120.55" style="stroke: #000000; stroke-width: 0.8"/>
</g>
</g>
<g id="text_6">
<text style="font-size: 14.4px; font-family: 'DejaVu Sans', 'Liberation Sans', sans-serif; text-anchor: end" x="140.5" y="126.02" transform="rotate(-0 140.5 126.022875)">7</text>
</g>
</g>
<g id="ytick_7">
<g id="line2d_20">
<g>
<use href="#m0bb405004b" x="144" y="79.2" style="stroke: #000000; stroke-width: 0.8"/>
</g>
</g>
<g id="line2d_21">
<g>
<use href="#mb68e5e41f8" x="658.08" y="79.2" style="stroke: #000000; stroke-width: 0.8"/>
</g>
</g>
<g id="text_7">
<text style="font-size: 14.4px; font-family: 'DejaVu Sans', 'Liberation Sans', sans-serif; text-anchor: end" x="140.5" y="84.67" transform="rotate(-0 140.5 84.670875)">8</text>
</g>
</g>
</g>
<g id="line2d_22">
<path d="M 171 86.23 
L 171 79.2 
" clip-path="url(#p66398a97a4)" style="fill: none; stroke: #000000; stroke-width: 3"/>
</g>
<g id="line2d_23">
<path d="M 207.72 86.23 
L 207.72 79.2 
" clip-path="url(#p66398a97a4)" style="fill: none; stroke: #ff0000; stroke-width: 3"/>
</g>
<g id="line2d_24">
<path d="M 244.44 86.23 
L 244.44 79.2 
" clip-path="url(#p66398a97a4)" style="fill: none; stroke: #000000; stroke-width: 3"/>
</g>
<g id="line2d_25">
<path d="M 281.16 86.23 
L 281.16 79.2 
" clip-path="url(#p66398a97a4)" style="fill: none; stroke: #ff0000; stroke-width: 3"/>
</g>
<g id="line2d_26">
<path d="M 317.88 86.23 
L 317.88 79.2 
" clip-path="url(#p66398a97a4)" style="fill: none; stroke: #000000; stroke-width: 3"/>
</g>
<g id="line2d_27">
<path d="M 354.6 86.23 
L 354.6 79.2 
" clip-path="url(#p66398a97a4)" style="fill: none; stroke: #ff0000; stroke-width: 3"/>
</g>
<g id="line2d_28">
<path d="M 391.32 86.23 
L 391.32 79.2 
" clip-path="url(#p66398a97a4)" style="fill: none; stroke: #000000; stroke-width: 3"/>
</g>
<g id="line2d_29">
<path d="M 428.04 86.23 
L 428.04 79.2 
" clip-path="url(#p66398a97a4)" style="fill: none; stroke: #ff0000; stroke-width: 3"/>
</g>
<g id="line2d_30">
<path d="M 464.76 86.23 
L 464.76 79.2 
" clip-path="url(#p66398a97a4)" style="fill: none; stroke: #000000; stroke-width: 3"/>
</g>
<g id="line2d_31">
<path d="M 501.48 86.23 
L 501.48 79.2 
" clip-path="url(#p66398a97a4)" style="fill: none; stroke: #ff0000; stroke-width: 3"/>
</g>
<g id="line2d_32">
<path d="M 538.2 86.23 
L 538.2 79.2 
" clip-path="url(#p66398a97a4)" style="fill: none; stroke: #000000; stroke-width: 3"/>
</g>
<g id="line2d_33">
<path d="M 574.92 86.23 
L 574.92 79.2 
" clip-path="url(#p66398a97a4)" style="fill: none; stroke: #ff0000; stroke-width: 3"/>
</g>
<g id="line2d_34">
<path d="M 611.64 86.23 
L 611.64 79.2 
" clip-path="url(#p66398a97a4)" style="fill: none; stroke: #000000; stroke-width: 3"/>
</g>
<g id="line2d_35">
<path d="M 648.36 86.23 
L 648.36 79.2 
" clip-path="url(#p66398a97a4)" style="fill: none; stroke: #ff0000; stroke-width: 3"/>
</g>
<g id="line2d_36">
<path d="M 482.33 92.23 
L 482.33 79.2 
" clip-path="url(#p66398a97a4)" style="fill: none; stroke: #ffffff; stroke-width: 1.65"/>
</g>
<g id="line2d_37">
<path d="M 502.78 88.55 
L 502.78 79.2 
" clip-path="url(#p66398a97a4)" style="fill: none; stroke: #ffffff; stroke-width: 1.65"/>
</g>
<g id="line2d_38">
<path d="M 144 168.16 
L 144.72 167.29 
L 146.16 165.05 
L 147.6 162.81 
L 148.32 161.96 
L 149.76 160.91 
L 151.2 160.19 
L 152.64 159.76 
L 154.8 159.26 
L 155.52 158.9 
L 156.24 158.14 
L 159.12 153.94 
L 162.72 148.47 
L 163.44 147.58 
L 164.88 146.4 
L 165.6 146.16 
L 166.32 146.4 
L 169.92 148.7 
L 170.64 148.72 
L 171.36 148.49 
L 175.68 146.29 
L 176.4 146.16 
L 177.12 146.39 
L 177.84 146.93 
L 178.56 147.62 
L 180 149.91 
L 185.04 157.66 
L 185.76 158.33 
L 187.2 159.26 
L 188.64 159.8 
L 190.8 160.17 
L 192.24 160.45 
L 192.96 160.71 
L 193.68 161.15 
L 195.12 162.39 
L 196.56 163.9 
L 198.72 166.65 
L 201.6 169.67 
L 202.32 170.14 
L 203.76 170.56 
L 205.92 170.96 
L 208.08 171.07 
L 211.68 170.94 
L 213.12 170.81 
L 213.84 170.59 
L 215.28 169.81 
L 217.44 168.16 
L 218.16 167.29 
L 219.6 165.05 
L 221.04 162.81 
L 221.76 161.96 
L 223.2 160.91 
L 224.64 160.19 
L 226.08 159.76 
L 228.24 159.26 
L 228.96 158.9 
L 229.68 158.14 
L 232.56 153.94 
L 236.16 148.47 
L 236.88 147.58 
L 238.32 146.4 
L 239.04 146.16 
L 239.76 146.4 
L 243.36 148.7 
L 244.08 148.72 
L 244.8 148.49 
L 249.12 146.29 
L 249.84 146.16 
L 250.56 146.39 
L 251.28 146.93 
L 252 147.62 
L 253.44 149.91 
L 258.48 157.66 
L 259.2 158.33 
L 260.64 159.26 
L 262.08 159.8 
L 264.24 160.17 
L 265.68 160.45 
L 266.4 160.71 
L 267.12 161.15 
L 268.56 162.39 
L 270 163.9 
L 272.16 166.65 
L 275.04 169.67 
L 275.76 170.14 
L 277.2 170.56 
L 279.36 170.96 
L 281.52 171.07 
L 285.12 170.94 
L 286.56 170.81 
L 287.28 170.59 
L 288.72 169.81 
L 290.88 168.16 
L 291.6 167.29 
L 293.04 165.05 
L 294.48 162.81 
L 295.2 161.96 
L 296.64 160.91 
L 298.08 160.19 
L 299.52 159.76 
L 301.68 159.26 
L 302.4 158.9 
L 303.12 158.14 
L 306 153.94 
L 309.6 148.47 
L 310.32 147.58 
L 311.76 146.4 
L 312.48 146.16 
L 313.2 146.4 
L 316.8 148.7 
L 317.52 148.72 
L 318.24 148.49 
L 322.56 146.29 
L 323.28 146.16 
L 324 146.39 
L 324.72 146.93 
L 325.44 147.62 
L 326.88 149.91 
L 331.92 157.66 
L 332.64 158.33 
L 334.08 159.26 
L 335.52 159.8 
L 337.68 160.17 
L 339.12 160.45 
L 339.84 160.71 
L 340.56 161.15 
L 342 162.39 
L 343.44 163.9 
L 345.6 166.65 
L 348.48 169.67 
L 349.2 170.14 
L 350.64 170.56 
L 352.8 170.96 
L 354.96 171.07 
L 358.56 170.94 
L 360 170.81 
L 360.72 170.59 
L 362.16 169.81 
L 364.32 168.16 
L 365.04 167.29 
L 366.48 165.05 
L 367.92 162.81 
L 368.64 161.96 
L 370.08 160.91 
L 371.52 160.19 
L 372.96 159.76 
L 375.12 159.26 
L 375.84 158.9 
L 376.56 158.14 
L 379.44 153.94 
L 383.04 148.47 
L 383.76 147.58 
L 385.2 146.4 
L 385.92 146.16 
L 386.64 146.4 
L 390.24 148.7 
L 390.96 148.72 
L 391.68 148.49 
L 396 146.29 
L 396.72 146.16 
L 397.44 146.39 
L 398.16 146.93 
L 398.88 147.62 
L 400.32 149.91 
L 405.36 157.66 
L 406.08 158.33 
L 407.52 159.26 
L 408.96 159.8 
L 411.12 160.17 
L 412.56 160.45 
L 413.28 160.71 
L 414 161.15 
L 415.44 162.39 
L 416.88 163.9 
L 419.04 166.65 
L 421.92 169.67 
L 422.64 170.14 
L 424.08 170.56 
L 426.24 170.96 
L 428.4 171.07 
L 432 170.94 
L 433.44 170.81 
L 434.16 170.59 
L 435.6 169.81 
L 437.76 168.16 
L 438.48 167.29 
L 439.92 165.05 
L 441.36 162.81 
L 442.08 161.96 
L 443.52 160.91 
L 444.96 160.19 
L 446.4 159.76 
L 448.56 159.26 
L 449.28 158.9 
L 450 158.14 
L 452.88 153.94 
L 456.48 148.47 
L 457.2 147.58 
L 458.64 146.4 
L 459.36 146.16 
L 460.08 146.4 
L 463.68 148.7 
L 464.4 148.72 
L 465.12 148.49 
L 469.44 146.29 
L 470.16 146.16 
L 470.88 146.39 
L 471.6 146.93 
L 472.32 147.62 
L 473.76 149.91 
L 478.8 157.66 
L 479.52 158.33 
L 480.96 159.26 
L 482.4 159.8 
L 484.56 160.17 
L 486 160.45 
L 486.72 160.71 
L 487.44 161.15 
L 488.88 162.39 
L 490.32 163.9 
L 492.48 166.65 
L 495.36 169.67 
L 496.08 170.14 
L 497.52 170.56 
L 499.68 170.96 
L 501.84 171.07 
L 505.44 170.94 
L 506.88 170.81 
L 507.6 170.59 
L 509.04 169.81 
L 511.2 168.16 
L 511.92 167.29 
L 513.36 165.05 
L 514.8 162.81 
L 515.52 161.96 
L 516.96 160.91 
L 518.4 160.19 
L 519.84 159.76 
L 522 159.26 
L 522.72 158.9 
L 523.44 158.14 
L 526.32 153.94 
L 529.92 148.47 
L 530.64 147.58 
L 532.08 146.4 
L 532.8 146.16 
L 533.52 146.4 
L 537.12 148.7 
L 537.84 148.72 
L 538.56 148.49 
L 542.88 146.29 
L 543.6 146.16 
L 544.32 146.39 
L 545.04 146.93 
L 545.76 147.62 
L 547.2 149.91 
L 552.24 157.66 
L 552.96 158.33 
L 554.4 159.26 
L 555.84 159.8 
L 558 160.17 
L 559.44 160.45 
L 560.16 160.71 
L 560.88 161.15 
L 562.32 162.39 
L 563.76 163.9 
L 565.92 166.65 
L 568.8 169.67 
L 569.52 170.14 
L 570.96 170.56 
L 573.12 170.96 
L 575.28 171.07 
L 578.88 170.94 
L 580.32 170.81 
L 581.04 170.59 
L 582.48 169.81 
L 584.64 168.16 
L 585.36 167.29 
L 586.8 165.05 
L 588.24 162.81 
L 588.96 161.96 
L 590.4 160.91 
L 591.84 160.19 
L 593.28 159.76 
L 595.44 159.26 
L 596.16 158.9 
L 596.88 158.14 
L 599.76 153.94 
L 603.36 148.47 
L 604.08 147.58 
L 605.52 146.4 
L 606.24 146.16 
L 606.96 146.4 
L 610.56 148.7 
L 611.28 148.72 
L 612 148.49 
L 616.32 146.29 
L 617.04 146.16 
L 617.76 146.39 
L 618.48 146.93 
L 619.2 147.62 
L 620.64 149.91 
L 625.68 157.66 
L 626.4 158.33 
L 627.84 159.26 
L 629.28 159.8 
L 631.44 160.17 
L 632.88 160.45 
L 633.6 160.71 
L 634.32 161.15 
L 635.76 162.39 
L 637.2 163.9 
L 639.36 166.65 
L 642.24 169.67 
L 642.96 170.14 
L 644.4 170.56 
L 646.56 170.96 
L 648.72 171.07 
L 652.32 170.94 
L 653.76 170.81 
L 654.48 170.59 
L 655.92 169.81 
L 658.08 168.16 
L 658.08 168.16 
" clip-path="url(#p66398a97a4)" style="fill: none; stroke-dasharray: 5.55,2.4; stroke-dashoffset: 0; stroke: #000000; stroke-width: 1.5"/>
</g>
<g id="patch_3">
<path d="M 144 327.31 
L 144 79.2 
" style="fill: none; stroke: #000000; stroke-width: 1.5; stroke-linejoin: miter; stroke-linecap: square"/>
</g>
<g id="patch_4">
<path d="M 658.08 327.31 
L 658.08 79.2 
" style="fill: none; stroke: #000000; stroke-width: 1.5; stroke-linejoin: miter; stroke-linecap: square"/>
</g>
<g id="patch_5">
<path d="M 144 327.31 
L 658.08 327.31 
" style="fill: none; stroke: #000000; stroke-width: 1.5; stroke-linejoin: miter; stroke-linecap: square"/>
</g>
<g id="patch_6">
<path d="M 144 79.2 
L 658.08 79.2 
" style="fill: none; stroke: #000000; stroke-width: 1.5; stroke-linejoin: miter; stroke-linecap: square"/>
</g>
<g id="text_8">
<text style="font-size: 10px; font-family: 'DejaVu Sans', 'Liberation Sans', sans-serif; text-anchor: middle" x="171.44" y="99.95" transform="rotate(-0 171.44064 99.947495)">M</text>
</g>
<g id="text_9">
<text style="font-size: 10px; font-family: 'DejaVu Sans', 'Liberation Sans', sans-serif; text-anchor: middle; fill: #ff0000" x="208.16" y="99.95" transform="rotate(-0 208.16064 99.947495)">N</text>
</g>
<g id="text_10">
<text style="font-size: 10px; font-family: 'DejaVu Sans', 'Liberation Sans', sans-serif; text-anchor: middle" x="244.88" y="99.95" transform="rotate(-0 244.88064 99.947495)">M</text>
</g>
<g id="text_11">
<text style="font-size: 10px; font-family: 'DejaVu Sans', 'Liberation Sans', sans-serif; text-anchor: middle; fill: #ff0000" x="281.60" y="99.95" transform="rotate(-0 281.60064 99.947495)">N</text>
</g>
<g id="text_12">
<text style="font-size: 10px; font-family: 'DejaVu Sans', 'Liberation Sans', sans-serif; text-anchor: middle" x="318.32" y="99.95" transform="rotate(-0 318.32064 99.947495)">M</text>
</g>
<g id="text_13">
<text style="font-size: 10px; font-family: 'DejaVu Sans', 'Liberation Sans', sans-serif; text-anchor: middle; fill: #ff0000" x="355.04" y="99.95" transform="rotate(-0 355.04064 99.947495)">N</text>
</g>
<g id="text_14">
<text style="font-size: 10px; font-family: 'DejaVu Sans', 'Liberation Sans', sans-serif; text-anchor: middle" x="391.76" y="99.95" transform="rotate(-0 391.76064 99.947495)">M</text>
</g>
<g id="text_15">
<text style="font-size: 10px; font-family: 'DejaVu Sans', 'Liberation Sans', sans-serif; text-anchor: middle; fill: #ff0000" x="428.48" y="99.95" transform="rotate(-0 428.48064 99.947495)">N</text>
</g>
<g id="text_16">
<text style="font-size: 10px; font-family: 'DejaVu Sans', 'Liberation Sans', sans-serif; text-anchor: middle" x="465.20" y="99.95" transform="rotate(-0 465.20064 99.947495)">M</text>
</g>
<g id="text_17">
<text style="font-size: 10px; font-family: 'DejaVu Sans', 'Liberation Sans', sans-serif; text-anchor: middle; fill: #ff0000" x="501.92" y="99.95" transform="rotate(-0 501.92064 99.947495)">N</text>
</g>
<g id="text_18">
<text style="font-size: 10px; font-family: 'DejaVu Sans', 'Liberation Sans', sans-serif; text-anchor: middle" x="538.64" y="99.95" transform="rotate(-0 538.64064 99.947495)">M</text>
</g>
<g id="text_19">
<text style="font-size: 10px; font-family: 'DejaVu Sans', 'Liberation Sans', sans-serif; text-anchor: middle; fill: #ff0000" x="575.36" y="99.95" transform="rotate(-0 575.36064 99.947495)">N</text>
</g>
<g id="text_20">
<text style="font-size: 10px; font-family: 'DejaVu Sans', 'Liberation Sans', sans-serif; text-anchor: middle" x="612.08" y="99.95" transform="rotate(-0 612.08064 99.947495)">M</text>
</g>
<g id="text_21">
<text style="font-size: 10px; font-family: 'DejaVu Sans', 'Liberation Sans', sans-serif; text-anchor: middle; fill: #ff0000" x="648.80" y="99.95" transform="rotate(-0 648.80064 99.947495)">N</text>
</g>
<g id="text_22">
<g transform="translate(145.728 67.9)">
<text>
<tspan x="0" y="-0.65" style="font-size: 17.28px; font-family: 'DejaVu Sans', 'Liberation Sans', sans-serif">&gt;</tspan>
<tspan x="14.45" y="-0.65" style="font-size: 17.28px; font-family: 'DejaVu Sans', 'Liberation Sans', sans-serif">2</tspan>
<tspan x="25.43" y="-0.65" style="font-size: 17.28px; font-family: 'DejaVu Sans', 'Liberation Sans', sans-serif">.</tspan>
<tspan x="30.91" y="-0.65" style="font-size: 17.28px; font-family: 'DejaVu Sans', 'Liberation Sans', sans-serif">0</tspan>
<tspan x="41.89" y="-0.65" style="font-size: 17.28px; font-family: 'DejaVu Sans', 'Liberation Sans', sans-serif"> </tspan>
<tspan x="47.37" y="-0.65" style="font-size: 17.28px; font-family: 'DejaVu Sans', 'Liberation Sans', sans-serif">M</tspan>
<tspan x="62.25" y="-0.65" style="font-size: 17.28px; font-family: 'DejaVu Sans', 'Liberation Sans', sans-serif">e</tspan>
<tspan x="72.87" y="-0.65" style="font-size: 17.28px; font-family: 'DejaVu Sans', 'Liberation Sans', sans-serif">V</tspan>
<tspan x="84.67" y="-0.65" style="font-size: 17.28px; font-family: 'DejaVu Sans', 'Liberation Sans', sans-serif"> </tspan>
<tspan x="90.15" y="-0.65" style="font-size: 17.28px; font-family: 'DejaVu Sans', 'Liberation Sans', sans-serif">E</tspan>
<tspan x="101.05" y="-0.65" style="font-size: 17.28px; font-family: 'DejaVu Sans', 'Liberation Sans', sans-serif">l</tspan>
<tspan x="105.84" y="-0.65" style="font-size: 17.28px; font-family: 'DejaVu Sans', 'Liberation Sans', sans-serif">e</tspan>
<tspan x="116.45" y="-0.65" style="font-size: 17.28px; font-family: 'DejaVu Sans', 'Liberation Sans', sans-serif">c</tspan>
<tspan x="125.94" y="-0.65" style="font-size: 17.28px; font-family: 'DejaVu Sans', 'Liberation Sans', sans-serif">t</tspan>
<tspan x="132.70" y="-0.65" style="font-size: 17.28px; font-family: 'DejaVu Sans', 'Liberation Sans', sans-serif">r</tspan>
<tspan x="139.79" y="-0.65" style="font-size: 17.28px; font-family: 'DejaVu Sans', 'Liberation Sans', sans-serif">o</tspan>
<tspan x="150.35" y="-0.65" style="font-size: 17.28px; font-family: 'DejaVu Sans', 'Liberation Sans', sans-serif">n</tspan>
<tspan x="161.28" y="-0.65" style="font-size: 17.28px; font-family: 'DejaVu Sans', 'Liberation Sans', sans-serif"> </tspan>
<tspan x="166.76" y="-0.65" style="font-size: 17.28px; font-family: 'DejaVu Sans', 'Liberation Sans', sans-serif">F</tspan>
<tspan x="176.69" y="-0.65" style="font-size: 17.28px; font-family: 'DejaVu Sans', 'Liberation Sans', sans-serif">l</tspan>
<tspan x="181.48" y="-0.65" style="font-size: 17.28px; font-family: 'DejaVu Sans', 'Liberation Sans', sans-serif">u</tspan>
<tspan x="192.41" y="-0.65" style="font-size: 17.28px; font-family: 'DejaVu Sans', 'Liberation Sans', sans-serif">x</tspan>
<tspan x="202.62" y="-0.65" style="font-size: 17.28px; font-family: 'DejaVu Sans', 'Liberation Sans', sans-serif"> </tspan>
<tspan x="208.10" y="-0.65" style="font-size: 17.28px; font-family: 'DejaVu Sans', 'Liberation Sans', sans-serif">a</tspan>
<tspan x="218.67" y="-0.65" style="font-size: 17.28px; font-family: 'DejaVu Sans', 'Liberation Sans', sans-serif">t</tspan>
<tspan x="225.44" y="-0.65" style="font-size: 17.28px; font-family: 'DejaVu Sans', 'Liberation Sans', sans-serif"> </tspan>
<tspan x="230.92" y="-0.65" style="font-size: 17.28px; font-family: 'DejaVu Sans', 'Liberation Sans', sans-serif">8</tspan>
<tspan x="241.90" y="-0.65" style="font-size: 17.28px; font-family: 'DejaVu Sans', 'Liberation Sans', sans-serif">8</tspan>
<tspan x="265.76" y="-0.65" style="font-size: 17.28px; font-family: 'DejaVu Sans', 'Liberation Sans', sans-serif"> </tspan>
<tspan x="271.25" y="-0.65" style="font-size: 17.28px; font-family: 'DejaVu Sans', 'Liberation Sans', sans-serif">p</tspan>
<tspan x="282.20" y="-0.65" style="font-size: 17.28px; font-family: 'DejaVu Sans', 'Liberation Sans', sans-serif">i</tspan>
<tspan x="286.99" y="-0.65" style="font-size: 17.28px; font-family: 'DejaVu Sans', 'Liberation Sans', sans-serif">t</tspan>
<tspan x="293.75" y="-0.65" style="font-size: 17.28px; font-family: 'DejaVu Sans', 'Liberation Sans', sans-serif">c</tspan>
<tspan x="303.24" y="-0.65" style="font-size: 17.28px; font-family: 'DejaVu Sans', 'Liberation Sans', sans-serif">h</tspan>
<tspan x="314.17" y="-0.65" style="font-size: 17.28px; font-family: 'DejaVu Sans', 'Liberation Sans', sans-serif"> </tspan>
<tspan x="319.65" y="-0.65" style="font-size: 17.28px; font-family: 'DejaVu Sans', 'Liberation Sans', sans-serif">a</tspan>
<tspan x="330.22" y="-0.65" style="font-size: 17.28px; font-family: 'DejaVu Sans', 'Liberation Sans', sans-serif">n</tspan>
<tspan x="341.16" y="-0.65" style="font-size: 17.28px; font-family: 'DejaVu Sans', 'Liberation Sans', sans-serif">g</tspan>
<tspan x="352.10" y="-0.65" style="font-size: 17.28px; font-family: 'DejaVu Sans', 'Liberation Sans', sans-serif">l</tspan>
<tspan x="356.90" y="-0.65" style="font-size: 17.28px; font-family: 'DejaVu Sans', 'Liberation Sans', sans-serif">e</tspan>
<tspan x="367.51" y="-0.65" style="font-size: 17.28px; font-family: 'DejaVu Sans', 'Liberation Sans', sans-serif"> </tspan>
<tspan x="372.99" y="-0.65" style="font-size: 17.28px; font-family: 'DejaVu Sans', 'Liberation Sans', sans-serif">(</tspan>
<tspan x="379.72" y="-0.65" style="font-size: 17.28px; font-family: 'DejaVu Sans', 'Liberation Sans', sans-serif"> </tspan>
<tspan x="385.21" y="-0.65" style="font-size: 17.28px; font-family: 'DejaVu Sans', 'Liberation Sans', sans-serif">c</tspan>
<tspan x="394.69" y="-0.65" style="font-size: 17.28px; font-family: 'DejaVu Sans', 'Liberation Sans', sans-serif">m</tspan>
<tspan x="432.72" y="-0.65" style="font-size: 17.28px; font-family: 'DejaVu Sans', 'Liberation Sans', sans-serif">s</tspan>
<tspan x="462.94" y="-0.65" style="font-size: 17.28px; font-family: 'DejaVu Sans', 'Liberation Sans', sans-serif">s</tspan>
<tspan x="471.93" y="-0.65" style="font-size: 17.28px; font-family: 'DejaVu Sans', 'Liberation Sans', sans-serif">r</tspan>
<tspan x="497.44" y="-0.65" style="font-size: 17.28px; font-family: 'DejaVu Sans', 'Liberation Sans', sans-serif"> </tspan>
<tspan x="502.93" y="-0.65" style="font-size: 17.28px; font-family: 'DejaVu Sans', 'Liberation Sans', sans-serif">)</tspan>
<tspan x="255.39" y="-7.16" style="font-size: 12.096px; font-family: 'DejaVu Sans', 'Liberation Sans', sans-serif">∘</tspan>
<tspan x="411.66" y="-7.16" style="font-size: 12.096px; font-family: 'DejaVu Sans', 'Liberation Sans', sans-serif">−</tspan>
<tspan x="421.77" y="-7.16" style="font-size: 12.096px; font-family: 'DejaVu Sans', 'Liberation Sans', sans-serif">2</tspan>
<tspan x="441.87" y="-7.16" style="font-size: 12.096px; font-family: 'DejaVu Sans', 'Liberation Sans', sans-serif">−</tspan>
<tspan x="451.99" y="-7.16" style="font-size: 12.096px; font-family: 'DejaVu Sans', 'Liberation Sans', sans-serif">1</tspan>
<tspan x="479.18" y="-7.16" style="font-size: 12.096px; font-family: 'DejaVu Sans', 'Liberation Sans', sans-serif">−</tspan>
<tspan x="489.30" y="-7.16" style="font-size: 12.096px; font-family: 'DejaVu Sans', 'Liberation Sans', sans-serif">1</tspan>
</text>
</g>
</g>
</g>
<g id="axes_2">
<g id="patch_7">
<path d="M 690.48 327.31 
L 702.72 327.31 
L 702.72 79.2 
L 690.48 79.2 
z
" style="fill: #ffffff"/>
</g>
<g id="PH_cbar"><g transform="scale(0.72)"><rect x="959.00" y="110.00" width="17.00" height="344.60" fill="url(#cb)"/></g></g>
<g id="matplotlib.axis_3"/>
<g id="matplotlib.axis_4">
<g id="ytick_8">
<g id="line2d_39">
<g>
<use href="#m0bb405004b" x="702.72" y="327.31" style="stroke: #000000; stroke-width: 0.8"/>
</g>
</g>
<g id="text_23">
<g transform="translate(710.22 332.782875)">
<text>
<tspan x="0" y="-0.37" style="font-size: 14.4px; font-family: 'DejaVu Sans', 'Liberation Sans', sans-serif">1</tspan>
<tspan x="9.15" y="-0.37" style="font-size: 14.4px; font-family: 'DejaVu Sans', 'Liberation Sans', sans-serif">0</tspan>
<tspan x="18.43" y="-5.73" style="font-size: 10.08px; font-family: 'DejaVu Sans', 'Liberation Sans', sans-serif">0</tspan>
</text>
</g>
</g>
</g>
<g id="ytick_9">
<g id="line2d_40">
<g>
<use href="#m0bb405004b" x="702.72" y="285.96" style="stroke: #000000; stroke-width: 0.8"/>
</g>
</g>
<g id="text_24">
<g transform="translate(710.22 291.430875)">
<text>
<tspan x="0" y="-0.50" style="font-size: 14.4px; font-family: 'DejaVu Sans', 'Liberation Sans', sans-serif">1</tspan>
<tspan x="9.15" y="-0.50" style="font-size: 14.4px; font-family: 'DejaVu Sans', 'Liberation Sans', sans-serif">0</tspan>
<tspan x="18.43" y="-5.86" style="font-size: 10.08px; font-family: 'DejaVu Sans', 'Liberation Sans', sans-serif">1</tspan>
</text>
</g>
</g>
</g>
<g id="ytick_10">
<g id="line2d_41">
<g>
<use href="#m0bb405004b" x="702.72" y="244.61" style="stroke: #000000; stroke-width: 0.8"/>
</g>
</g>
<g id="text_25">
<g transform="translate(710.22 250.078875)">
<text>
<tspan x="0" y="-0.37" style="font-size: 14.4px; font-family: 'DejaVu Sans', 'Liberation Sans', sans-serif">1</tspan>
<tspan x="9.15" y="-0.37" style="font-size: 14.4px; font-family: 'DejaVu Sans', 'Liberation Sans', sans-serif">0</tspan>
<tspan x="18.43" y="-5.73" style="font-size: 10.08px; font-family: 'DejaVu Sans', 'Liberation Sans', sans-serif">2</tspan>
</text>
</g>
</g>
</g>
<g id="ytick_11">
<g id="line2d_42">
<g>
<use href="#m0bb405004b" x="702.72" y="203.26" style="stroke: #000000; stroke-width: 0.8"/>
</g>
</g>
<g id="text_26">
<g transform="translate(710.22 208.726875)">
<text>
<tspan x="0" y="-0.37" style="font-size: 14.4px; font-family: 'DejaVu Sans', 'Liberation Sans', sans-serif">1</tspan>
<tspan x="9.15" y="-0.37" style="font-size: 14.4px; font-family: 'DejaVu Sans', 'Liberation Sans', sans-serif">0</tspan>
<tspan x="18.43" y="-5.73" style="font-size: 10.08px; font-family: 'DejaVu Sans', 'Liberation Sans', sans-serif">3</tspan>
</text>
</g>
</g>
</g>
<g id="ytick_12">
<g id="line2d_43">
<g>
<use href="#m0bb405004b" x="702.72" y="161.90" style="stroke: #000000; stroke-width: 0.8"/>
</g>
</g>
<g id="text_27">
<g transform="translate(710.22 167.374875)">
<text>
<tspan x="0" y="-0.50" style="font-size: 14.4px; font-family: 'DejaVu Sans', 'Liberation Sans', sans-serif">1</tspan>
<tspan x="9.15" y="-0.50" style="font-size: 14.4px; font-family: 'DejaVu Sans', 'Liberation Sans', sans-serif">0</tspan>
<tspan x="18.43" y="-5.86" style="font-size: 10.08px; font-family: 'DejaVu Sans', 'Liberation Sans', sans-serif">4</tspan>
</text>
</g>
</g>
</g>
<g id="ytick_13">
<g id="line2d_44">
<g>
<use href="#m0bb405004b" x="702.72" y="120.55" style="stroke: #000000; stroke-width: 0.8"/>
</g>
</g>
<g id="text_28">
<g transform="translate(710.22 126.022875)">
<text>
<tspan x="0" y="-0.50" style="font-size: 14.4px; font-family: 'DejaVu Sans', 'Liberation Sans', sans-serif">1</tspan>
<tspan x="9.15" y="-0.50" style="font-size: 14.4px; font-family: 'DejaVu Sans', 'Liberation Sans', sans-serif">0</tspan>
<tspan x="18.43" y="-5.86" style="font-size: 10.08px; font-family: 'DejaVu Sans', 'Liberation Sans', sans-serif">5</tspan>
</text>
</g>
</g>
</g>
<g id="ytick_14">
<g id="line2d_45">
<g>
<use href="#m0bb405004b" x="702.72" y="79.2" style="stroke: #000000; stroke-width: 0.8"/>
</g>
</g>
<g id="text_29">
<g transform="translate(710.22 84.670875)">
<text>
<tspan x="0" y="-0.37" style="font-size: 14.4px; font-family: 'DejaVu Sans', 'Liberation Sans', sans-serif">1</tspan>
<tspan x="9.15" y="-0.37" style="font-size: 14.4px; font-family: 'DejaVu Sans', 'Liberation Sans', sans-serif">0</tspan>
<tspan x="18.43" y="-5.73" style="font-size: 10.08px; font-family: 'DejaVu Sans', 'Liberation Sans', sans-serif">6</tspan>
</text>
</g>
</g>
</g>
<g id="ytick_15">
<g id="line2d_46">
<g>
<use href="#m0bb405004b" x="702.72" y="314.86" style="stroke: #000000; stroke-width: 0.8"/>
</g>
</g>
</g>
<g id="ytick_16">
<g id="line2d_47">
<g>
<use href="#m0bb405004b" x="702.72" y="307.58" style="stroke: #000000; stroke-width: 0.8"/>
</g>
</g>
</g>
<g id="ytick_17">
<g id="line2d_48">
<g>
<use href="#m0bb405004b" x="702.72" y="302.42" style="stroke: #000000; stroke-width: 0.8"/>
</g>
</g>
</g>
<g id="ytick_18">
<g id="line2d_49">
<g>
<use href="#m0bb405004b" x="702.72" y="298.41" style="stroke: #000000; stroke-width: 0.8"/>
</g>
</g>
</g>
<g id="ytick_19">
<g id="line2d_50">
<g>
<use href="#m0bb405004b" x="702.72" y="295.13" style="stroke: #000000; stroke-width: 0.8"/>
</g>
</g>
</g>
<g id="ytick_20">
<g id="line2d_51">
<g>
<use href="#m0bb405004b" x="702.72" y="292.37" style="stroke: #000000; stroke-width: 0.8"/>
</g>
</g>
</g>
<g id="ytick_21">
<g id="line2d_52">
<g>
<use href="#m0bb405004b" x="702.72" y="289.97" style="stroke: #000000; stroke-width: 0.8"/>
</g>
</g>
</g>
<g id="ytick_22">
<g id="line2d_53">
<g>
<use href="#m0bb405004b" x="702.72" y="287.85" style="stroke: #000000; stroke-width: 0.8"/>
</g>
</g>
</g>
<g id="ytick_23">
<g id="line2d_54">
<g>
<use href="#m0bb405004b" x="702.72" y="273.51" style="stroke: #000000; stroke-width: 0.8"/>
</g>
</g>
</g>
<g id="ytick_24">
<g id="line2d_55">
<g>
<use href="#m0bb405004b" x="702.72" y="266.23" style="stroke: #000000; stroke-width: 0.8"/>
</g>
</g>
</g>
<g id="ytick_25">
<g id="line2d_56">
<g>
<use href="#m0bb405004b" x="702.72" y="261.06" style="stroke: #000000; stroke-width: 0.8"/>
</g>
</g>
</g>
<g id="ytick_26">
<g id="line2d_57">
<g>
<use href="#m0bb405004b" x="702.72" y="257.06" style="stroke: #000000; stroke-width: 0.8"/>
</g>
</g>
</g>
<g id="ytick_27">
<g id="line2d_58">
<g>
<use href="#m0bb405004b" x="702.72" y="253.78" style="stroke: #000000; stroke-width: 0.8"/>
</g>
</g>
</g>
<g id="ytick_28">
<g id="line2d_59">
<g>
<use href="#m0bb405004b" x="702.72" y="251.01" style="stroke: #000000; stroke-width: 0.8"/>
</g>
</g>
</g>
<g id="ytick_29">
<g id="line2d_60">
<g>
<use href="#m0bb405004b" x="702.72" y="248.62" style="stroke: #000000; stroke-width: 0.8"/>
</g>
</g>
</g>
<g id="ytick_30">
<g id="line2d_61">
<g>
<use href="#m0bb405004b" x="702.72" y="246.50" style="stroke: #000000; stroke-width: 0.8"/>
</g>
</g>
</g>
<g id="ytick_31">
<g id="line2d_62">
<g>
<use href="#m0bb405004b" x="702.72" y="232.16" style="stroke: #000000; stroke-width: 0.8"/>
</g>
</g>
</g>
<g id="ytick_32">
<g id="line2d_63">
<g>
<use href="#m0bb405004b" x="702.72" y="224.88" style="stroke: #000000; stroke-width: 0.8"/>
</g>
</g>
</g>
<g id="ytick_33">
<g id="line2d_64">
<g>
<use href="#m0bb405004b" x="702.72" y="219.71" style="stroke: #000000; stroke-width: 0.8"/>
</g>
</g>
</g>
<g id="ytick_34">
<g id="line2d_65">
<g>
<use href="#m0bb405004b" x="702.72" y="215.70" style="stroke: #000000; stroke-width: 0.8"/>
</g>
</g>
</g>
<g id="ytick_35">
<g id="line2d_66">
<g>
<use href="#m0bb405004b" x="702.72" y="212.43" style="stroke: #000000; stroke-width: 0.8"/>
</g>
</g>
</g>
<g id="ytick_36">
<g id="line2d_67">
<g>
<use href="#m0bb405004b" x="702.72" y="209.66" style="stroke: #000000; stroke-width: 0.8"/>
</g>
</g>
</g>
<g id="ytick_37">
<g id="line2d_68">
<g>
<use href="#m0bb405004b" x="702.72" y="207.26" style="stroke: #000000; stroke-width: 0.8"/>
</g>
</g>
</g>
<g id="ytick_38">
<g id="line2d_69">
<g>
<use href="#m0bb405004b" x="702.72" y="205.15" style="stroke: #000000; stroke-width: 0.8"/>
</g>
</g>
</g>
<g id="ytick_39">
<g id="line2d_70">
<g>
<use href="#m0bb405004b" x="702.72" y="190.81" style="stroke: #000000; stroke-width: 0.8"/>
</g>
</g>
</g>
<g id="ytick_40">
<g id="line2d_71">
<g>
<use href="#m0bb405004b" x="702.72" y="183.53" style="stroke: #000000; stroke-width: 0.8"/>
</g>
</g>
</g>
<g id="ytick_41">
<g id="line2d_72">
<g>
<use href="#m0bb405004b" x="702.72" y="178.36" style="stroke: #000000; stroke-width: 0.8"/>
</g>
</g>
</g>
<g id="ytick_42">
<g id="line2d_73">
<g>
<use href="#m0bb405004b" x="702.72" y="174.35" style="stroke: #000000; stroke-width: 0.8"/>
</g>
</g>
</g>
<g id="ytick_43">
<g id="line2d_74">
<g>
<use href="#m0bb405004b" x="702.72" y="171.08" style="stroke: #000000; stroke-width: 0.8"/>
</g>
</g>
</g>
<g id="ytick_44">
<g id="line2d_75">
<g>
<use href="#m0bb405004b" x="702.72" y="168.31" style="stroke: #000000; stroke-width: 0.8"/>
</g>
</g>
</g>
<g id="ytick_45">
<g id="line2d_76">
<g>
<use href="#m0bb405004b" x="702.72" y="165.91" style="stroke: #000000; stroke-width: 0.8"/>
</g>
</g>
</g>
<g id="ytick_46">
<g id="line2d_77">
<g>
<use href="#m0bb405004b" x="702.72" y="163.80" style="stroke: #000000; stroke-width: 0.8"/>
</g>
</g>
</g>
<g id="ytick_47">
<g id="line2d_78">
<g>
<use href="#m0bb405004b" x="702.72" y="149.46" style="stroke: #000000; stroke-width: 0.8"/>
</g>
</g>
</g>
<g id="ytick_48">
<g id="line2d_79">
<g>
<use href="#m0bb405004b" x="702.72" y="142.17" style="stroke: #000000; stroke-width: 0.8"/>
</g>
</g>
</g>
<g id="ytick_49">
<g id="line2d_80">
<g>
<use href="#m0bb405004b" x="702.72" y="137.01" style="stroke: #000000; stroke-width: 0.8"/>
</g>
</g>
</g>
<g id="ytick_50">
<g id="line2d_81">
<g>
<use href="#m0bb405004b" x="702.72" y="133.00" style="stroke: #000000; stroke-width: 0.8"/>
</g>
</g>
</g>
<g id="ytick_51">
<g id="line2d_82">
<g>
<use href="#m0bb405004b" x="702.72" y="129.73" style="stroke: #000000; stroke-width: 0.8"/>
</g>
</g>
</g>
<g id="ytick_52">
<g id="line2d_83">
<g>
<use href="#m0bb405004b" x="702.72" y="126.96" style="stroke: #000000; stroke-width: 0.8"/>
</g>
</g>
</g>
<g id="ytick_53">
<g id="line2d_84">
<g>
<use href="#m0bb405004b" x="702.72" y="124.56" style="stroke: #000000; stroke-width: 0.8"/>
</g>
</g>
</g>
<g id="ytick_54">
<g id="line2d_85">
<g>
<use href="#m0bb405004b" x="702.72" y="122.44" style="stroke: #000000; stroke-width: 0.8"/>
</g>
</g>
</g>
<g id="ytick_55">
<g id="line2d_86">
<g>
<use href="#m0bb405004b" x="702.72" y="108.10" style="stroke: #000000; stroke-width: 0.8"/>
</g>
</g>
</g>
<g id="ytick_56">
<g id="line2d_87">
<g>
<use href="#m0bb405004b" x="702.72" y="100.82" style="stroke: #000000; stroke-width: 0.8"/>
</g>
</g>
</g>
<g id="ytick_57">
<g id="line2d_88">
<g>
<use href="#m0bb405004b" x="702.72" y="95.66" style="stroke: #000000; stroke-width: 0.8"/>
</g>
</g>
</g>
<g id="ytick_58">
<g id="line2d_89">
<g>
<use href="#m0bb405004b" x="702.72" y="91.65" style="stroke: #000000; stroke-width: 0.8"/>
</g>
</g>
</g>
<g id="ytick_59">
<g id="line2d_90">
<g>
<use href="#m0bb405004b" x="702.72" y="88.37" style="stroke: #000000; stroke-width: 0.8"/>
</g>
</g>
</g>
<g id="ytick_60">
<g id="line2d_91">
<g>
<use href="#m0bb405004b" x="702.72" y="85.61" style="stroke: #000000; stroke-width: 0.8"/>
</g>
</g>
</g>
<g id="ytick_61">
<g id="line2d_92">
<g>
<use href="#m0bb405004b" x="702.72" y="83.21" style="stroke: #000000; stroke-width: 0.8"/>
</g>
</g>
</g>
<g id="ytick_62">
<g id="line2d_93">
<g>
<use href="#m0bb405004b" x="702.72" y="81.09" style="stroke: #000000; stroke-width: 0.8"/>
</g>
</g>
</g>
</g>
<g id="patch_8">
<path d="M 690.48 327.31 
L 690.48 79.2 
" style="fill: none; stroke: #000000; stroke-width: 1.5; stroke-linejoin: miter; stroke-linecap: square"/>
</g>
<g id="patch_9">
<path d="M 702.72 327.31 
L 702.72 79.2 
" style="fill: none; stroke: #000000; stroke-width: 1.5; stroke-linejoin: miter; stroke-linecap: square"/>
</g>
<g id="patch_10">
<path d="M 690.48 327.31 
L 702.72 327.31 
" style="fill: none; stroke: #000000; stroke-width: 1.5; stroke-linejoin: miter; stroke-linecap: square"/>
</g>
<g id="patch_11">
<path d="M 690.48 79.2 
L 702.72 79.2 
" style="fill: none; stroke: #000000; stroke-width: 1.5; stroke-linejoin: miter; stroke-linecap: square"/>
</g>
</g>
<g id="axes_3">
<g id="patch_12">
<path d="M 144 591.98 
L 658.08 591.98 
L 658.08 343.87 
L 144 343.87 
z
" style="fill: #ffffff"/>
</g>
<g id="PH_p2"><g transform="scale(0.72)"><path clip-path="url(#cL2)" d="M200 650.6l.4 .4l.3-.3l.4-.7l.3 .4l.4-.3l.3 1.2l.4 1.8l.3-1.2l.4-.3l.3 1.2l.4 .5l.3 0l.4-.9l.4 .9l.3 1.3l.4-1.6l.3 .7l.4-1.1l.3 .6l.4-.2l.3 1.9l.4-.3l.3 1.8l.4 .7l.4 .1l.3-2.1l.4 1.7l.3 1.4l.4 .9l.3-1.1l.4 1.1l.3 .2l.4 .6l.3 2.5l.4-.8l.3 .9l.4 1.7l.4-.5l.3 1l.4 1.2l.3 1.1l.4-.4l.3 1.9l.4 2.5l.3-1.7l.4 2.3l.3 .3l.4-.7l.3 2.5l.4-.6l.4-2.3l.3 .6l.4 .5l.3-.8l.4 .6l.3-.8l.4 .4l.3 .8l.4-2.2l.3 .2l.4-.8l.3 .4l.4-1.4l.4 .3l.3 .4l.4 1.3l.3 .7l.4-2.4l.3-.1l.4 1.5l.3-2.3l.4 1l.3 .7l.4 1.6l.4 0l.3-1l.4-.4l.3 .1l.4 2l.3-1.4l.4-.3l.3 .7l.4-.3l.3-.1l.4-.9l.3 .9l.4-.1l.4 1.7l.3 .1l.4-.7l.3 .6l.4-.8l.3 1.2l.4-.6l.3 .5l.4-1.8l.3 1.3l.4-1.7l.3-.8l.4 1.7l.4 0l.3 1.1l.4 2.7l.3-2.4l.4-.5l.3 .8l.4 .6l.3-.5l.4-.1l.3 .9l.4 0l.3-2.2l.4-.3l.4-.6l.3-2.1l.4 .2l.3-1.4l.4 1.6l.3 0l.4 .4l.3 0l.4 1.1l.3-1.1l.4 .9l.4 2l.3-2.2l.4 2.1l.3-2.5l.4 1.3l.3-2l.4 .3l.3-1.4l.4-3.1l.3 1.1l.4-.5l.3-2.6l.4-2l.4-1.3l.3-2.1l.4 .8l.3-2.1l.4-.7l.3-1.3l.4-.7l.3-1.3l.4 1.9l.3-1.4l.4 .4l.3-1.3l.4-1.6l.4-.4l.3-.8l.4 0l.3-.8l.4-.5l.3-1.6l.4-.2l.3 2.2l.4-2.1l.3-1.3l.4 .9l.3 1.1l.4-2.9l.4 .3l.3-.5l.4-1.5l.3 2.1l.4-.3l.3 0l.4-.9l.3 1l.4-.5l.3 .4l.4-.6l.4-.1l.3 3l.4-.9l.3 .8l.4 0l.3-.5l.4-.2l.3 1.1l.4-.6l.3-.1l.4 .2l.3 1.3l.4-.2l.4-.3l.3-1.1l.4-1.2l.3 2.1l.4 .6l.3-.9l.4 .4l.3 .4l.4 .1l.3 .2l.4-1.4l.3 1.6l.4-2.4l.4 1.5l.3 .1l.4 .4l.3 1.2l.4-.1l.3-2.8l.4-1.4l.3 2.2l.4-1.2l.3 .7l.4 1.1l.3-2.3l.4-1.2l.4 2.2l.3 .4l.4-.2l.3 .3l.4-.8l.3-.9l.4 1.1l.3-.4l.4-.8l.3 2l.4 .1l.4 .5l.3-1.3l.4 0l.3-.3l.4 .1l.3 1.2l.4-.7l.3 1.1l.4 .3l.3 1.9l.4-3l.3 1.5l.4-.6l.4 0l.3-1.6l.4 .6l.3 .7l.4-1.8l.3-1.2l.4-1.2l.3 1.3l.4-.8l.3-2.5l.4 .8l.3-1.1l.4-1.7l.4 2.4l.3 2.6l.4-.5l.3-1.4l.4-.2l.3 2.1l.4-.4l.3-.2l.4-.2l.3 0l.4 .8l.3 0l.4-.3l.4-1.5l.3 1.2l.4-.9l.3 1.6l.4-2l.3 .6l.4 .3l.3-1.2l.4 2.8l.3 .7l.4-1.4l.4 1.4l.3 .7l.4-2.2l.3 3.3l.4 1.5l.3 1.5l.4 .1l.3 1.7l.4 1.3l.3 2.4l.4 .3l.3-.1l.4 1.8l.4-1.4l.3-.1l.4-1.3l.3 3.3l.4 .5l.3 .3l.4-.1l.3-.5l.4 .1l.3-.3l.4 0l.3 .4l.4 1.8l.4-.3l.3-.7l.4-.6l.3-.1l.4 2.5l.3-.3l.4-.4l.3-.4l.4-.8l.3 1l.4 1.5l.3-.8l.4 .1l.4 .2l.3 .5l.4-1.5l.3 1.1l.4-.1l.3 1.9l.4-1l.3 1.2l.4 1.6l.3-1.3l.4-.6l.4 .9l.3 .2l.4-.8l.3 1.5l.4 2.3l.3-1.5l.4-.1l.3-.6l.4 1.5l.3-.9l.4 .2l.3 2.8l.4-1.2l.4 1.9l.3 1.1l.4-.8l.3 0l.4 1.5l.3-1.8l.4-1l.3-1.2l.4 1.1l.3 1.8l.4-.1l.3-2l.4-.6l.4 .1l.3 .9l.4-.3l.3 .3l.4 .2l.3-.4l.4 .5l.3 .9l.4 .6l.3 1.5l.4 2.5l.3-.1l.4-.2l.4-1.8l.3 1.6l.4-2l.3-.1l.4 2.3l.3 .5l.4-.9l.3-2l.4 .7l.3-.2l.4 1.1l.4 1.9l.3-1.7l.4-1.7l.3-1.1l.4 .7l.3-.1l.4-1.2l.3 .9l.4-1.3l.3 1.9l.4 .3l.3 0l.4-1.7l.4 .3l.3-.6l.4-.6l.3-.3l.4-1.2l.3-.7l.4 2.1l.3-.6l.4 .2l.3 .7l.4-2.8l.3 .1l.4 .8l.4 .4l.3-.8l.4 1.1l.3-.6l.4-1.8l.3-.4l.4 1.6l.3 .1l.4-2.6l.3 2.6l.4-.1l.3 .6l.4-1.7l.4-.5l.3-1l.4 3.4l.3-1.9l.4 1.2l.3-2.1l.4 .1l.3-2l.4 .6l.3 1.5l.4-2.1l.4 1.7l.3-.6l.4-2l.3-.4l.4-.6l.3-.2l.4-1.2l.3-1.2l.4-.5l.3-1.4l.4-1.4l.3 .4l.4 .5l.4-2.9l.3 .2l.4-1l.3-1l.4 1.3l.3-1.2l.4 1.6l.3-2.1l.4 .5l.3-.7l.4-.8l.3 1l.4-.6l.4 .5l.3-.7l.4-1.3l.3 .5l.4 .2l.3 .9l.4-1.7l.3 .3l.4-1.8l.3 1.9l.4-1.3l.3-1.3l.4 1.4l.4 1.5l.3-2.3l.4-.4l.3 .2l.4-.5l.3 1.4l.4-1l.3-.3l.4 1.1l.3-1.2l.4 .8l.4-1.5l.3-.8l.4-1.1l.3 3.4l.4-1.4l.3 0l.4-.5l.3-.1l.4-.3l.3 1.7l.4-2.7l.3-1.5l.4 0l.4-.5l.3 2l.4 .5l.3-1.7l.4-1l.3 .7l.4 2.1l.3-3.8l.4 2.4l.3-1l.4 1.9l.3-1.6l.4 .3l.4-1.2l.3 .2l.4 2.6l.3 .1l.4-1.2l.3-.8l.4-1.4l.3 1.2l.4 .7l.3 .2l.4 0l.3-1l.4 .8l.4 .2l.3 1.5l.4 1l.3-1.7l.4-1.2l.3 .3l.4-.4l.3-.3l.4 .6l.3-.8l.4 1.5l.4-.3l.3 .2l.4-.3l.3-.6l.4-.3l.3 .7l.4 .1l.3 1l.4 .2l.3-1.1l.4 1.4l.3-.9l.4 .7l.4 .8l.3-1.4l.4 2l.3 .9l.4 .1l.3-.1l.4 .2l.3-.5l.4 .7l.3 0l.4 .8l.3-1l.4 1.2l.4 .4l.3-.1l.4-.3l.3 1.1l.4-2l.3 1.7l.4 .4l.3 .2l.4 .2l.3-.9l.4 .2l.3 1.1l.4 .1l.4-.1l.3-1.7l.4 1.7l.3 1.2l.4 .3l.3-.6l.4-2l.3 2.2l.4-.4l.3-2.5l.4 2.4l.4-1.1l.3 0l.4 .8l.3 2.4l.4-.8l.3 .5l.4 1.9l.3 .6l.4-1.5l.3-.4l.4-1l.3 .5l.4 1.5l.4 .6l.3 0l.4 1.1l.3-1.3l.4 .5l.3 1.2l.4 .4l.3 .8l.4-.3l.3-.6l.4 .7l.3-1.1l.4-.8l.4 2.3l.3 .2l.4 .6l.3-1.7l.4 1l.3 .3l.4 0l.3-1.3l.4 1.8l.3 2l.4 .3l.3-.8l.4 .6l.4 1.2l.3-3.2l.4 2l.3 1.5l.4 .8l.3 1.5l.4 .1l.3-.7l.4 0l.3 .8l.4-1l.4 .5l.3 1.4l.4 1.7l.3-1.5l.4-.1l.3 .4l.4 1.6l.3-.9l.4 1.5l.3-2l.4 .4l.3 .2l.4 1.1l.4 .7l.3-2.5l.4 0l.3 1.3l.4-.6l.3-1l.4 2.4l.3 .2l.4 .1l.3-1l.4 1.3l.3-.9l.4 1.2l.4-1.7l.3-.5l.4 1l.3-.6l.4 1.3l.3-.1l.4-1.2l.3 .7l.4-.3l.3 1.3l.4-1.3l.3-.2l.4 1.7l.4 1.5l.3 .1l.4-2l.3-.5l.4 1.1l.3-1.5l.4-1.4l.3 .6l.4 .5l.3-1.3l.4-1.4l.4-.2l.3 2l.4-.9l.3 .3l.4 .4l.3 .5l.4-.9l.3 .6l.4-1.3l.3 .2l.4-.7l.3 2.1l.4-.6l.4-.9l.3 .1l.4 .2l.3 1l.4-2.1l.3 0l.4 .6l.3 3.3l.4-.7l.3-1.3l.4 .5l.3 1.5l.4-1.9l.4-.8l.3 1.5l.4-.3l.3 .1l.4-1.3l.3 2.2l.4 .5l.3-1.1l.4-.2l.3-2.9l.4 1.9l.3-.3l.4 .6l.4 .4l.3-.9l.4-1.7l.3 1.5l.4-.9l.3-.1l.4-.7l.3-.3l.4-2.6l.3 2.5l.4-.7l.4 .2l.3 .5l.4-2.3l.3-3.1l.4-.3l.3-.8l.4 .3l.3 .5l.4-2.2l.3 1.8l.4-1.4l.3 1.5l.4 .1l.4-.2l.3 .2l.4-.4l.3-.2l.4-1.1l.3 1.5l.4 2.5l.3 1l.4-.3l.3-.6l.4-1.4l.3 1.9l.4-.7l.4 0l.3 .1l.4 .7l.2 6.3l.1 60.5l.1-63.8l.4-3.3l.4-.4l.3-1.4l.4 .1l.3 2.6l.4-1.9l.3-1l.4 .4l.3 .1l.4-2.1l.3 .2l.4 1l.3-.5l.4-.4l.4 1.2l.3-2.1l.4 .1l.3-.7l.4 1.8l.3-3.2l.4 .4l.3 .2l.4 1.2l.3 .3l.4 .9l.3-2.8l.4 1.6l.4-.6l.3-.6l.4 1.2l.3-1.1l.4-1.5l.3 1.4l.4-.7l.3 .7l.4 1.4l.3 .5l.4 1.5l.4-1.3l.3-1.7l.4 .4l.3 0l.4-.2l.3 1.8l.4-.5l.3-1.5l.4 2.4l.3 0l.4 .6l.3-.1l.4 .6l.4-.3l.3 1.2l.4-.4l.3-.1l.4 .1l.3-1.8l.4 .9l.3 .2l.4 .7l.3-1.4l.4 2.8l.3-.6l.4-1.5l.4-.9l.3 1.3l.4 .6l.3-.4l.4 .8l.3-.5l.4 1.2l.3-1l.4 .5l.3 1.2l.4 2.1l.3-3.1l.4-.4l.4-.6l.3 1.5l.4-1.6l.3 0l.4 .4l.3-1l.4-.4l.3 .3l.4-1.8l.3 .1l.4 1l.4 .9l.3-.1l.4-1.7l.3 .9l.4 1.6l.3 .4l.4-.5l.3-.9l.4 1.5l.3-.6l.4-.7l.3 .4l.4 2.7l.4-.3l.3 1.1l.4-1.2l.3 1.4l.4-1l.3 .4l.4 3.1l.3-.6l.4-1.3l.3 .2l.4 .7l.3 1.3l.4-1.2l.4-1.5l.3 1.3l.4 .9l.3 .5l.4 1.7l.3-.4l.4 .6l.3-1.6l.4 1.8l.3 2l.4-.6l.3-.5l.4 0l.4 1.9l.3-2.1l.4 .4l.3 .9l.4 .8l.3-.9l.4 .7l.3-.3l.4 .5l.3 0l.4-.9l.4 1l.3 1.4l.4-1.5l.3 .4l.4 1.1l.3-1.4l.4 1l.3-.9l.4 2l.3 2l.4 .3l.3-2.2l.4 .4l.4-.5l.3-.1l.4 1.5l.3-2.5l.4 1.8l.3-.6l.4 1.3l.3-.8l.4-1.2l.3 .7l.4 .6l.3-.5l.4 .3l.4-1.1l.3-2l.4 2.6l.3 .5l.4-.5l.3-.3l.4 .9l.3-1.4l.4-.7l.3 .2l.4 1.5l.3-2.3l.4 1.9l.4-1.4l.3-1l.4 2.1l.3-.9l.4-1.6l.3 .5l.4 1.4l.3 .6l.4-1.6l.3 .3l.4 .4l.4-1.4l.3 .6l.4-.3l.3-.7l.4-.2l.3 .4l.4 .1l.3-.7l.4 0l.3 1.5l.4-.5l.3 .5l.4 .5l.4-.6l.3 1.6l.4-2.8l.3 .8l.4-.9l.3 2l.4 .4l.3-3.8l.4-.1l.3 1.7l.4 .6l.3 .1l.4-.8l.4 .2l.3 .3l.4-.7l.3 .9l.4-3.2l.3 2.1l.4-1.2l.3 1.7l.4-.7l.3-1l.4 1l.3-1.1l.4-.3l.4-.9l.3 1.4l.4 .9l.3 .7l.4-1l.3 .9l.4-.9l.3-.5l.4 .5l.3 .5l.4-1.5l.4-.6l.3-.3l.4 0l.3-1.3l.4 1.3l.3-1.3l.4 .2l.3-1.6l.4 .5l.3-.1l.4-1.2l.3 2l.4-1.5l.4 .8l.3-.8l.4-2.2l.3-.6l.4 .5l.3-.4l.4-.3l.3-.6l.4-1.8l.3 1l.4-1.8l.2 3.2l.4-1l.3-.5l.4 .1l.3 .4l.4-1.9l.3-1.1l.4 .1l.3-1.1l.4 .5l.3 2.7l.4-2.2l.3 .9l.4-2l.4 .9l.3-.6l.4-.1l.3 .5l.4 1.2l.3-1.6l.4-.7l.3-1.6l.4 1l.3-.8l.4 .7l.4-.9l.3 1.4l.4-3.8l.3 .5l.4 1.4l.3-1l.4-.9l.3 .2l.4-1.3l.3 1.2l.4 2.8l.3-.7l.4-2.8l.4-.6l.3 .2l.4 1.5l.3-1.7l.4-.4l.3 1.5l.4 .3l.3-1.4l.4-1.3l.3-1l.4 .6l.3-1.6l.4 2.7l.4-1l.3 .4l.4 1.1l.3-.9l.4-3.4l.3 .9l.4 .2l.3-2.4l.4-1.4l.3 .2l.4-2l.3 2.5l.4-4l.4-.1l.3 .7l.4 .3l.3 .5l.4 .3l.3-.5l.4 1.4l.3-3.4l.4 1.4l.3-.4l.4 .8l.4 .3l.3-1.2l.4-.1l.3 1.6l.4 0l.3-1.2l.4 2.7l.3 1.1l.4-4l.3 .8l.4 2.7l.3-1.2l.4-1l.4-.8l.3-.7l.4 .2l.3-.4l.4 1.4l.3-.8l.4-.1l.3-.7l.4 1.3l.3-.4l.4 .9l.3 1.8l.4 0l.4 .3l.3 .1l.4-.1l.3-.1l.4-.1l.3 1.5l.4-1.6l.3 2.6l.4-.6l.3-.9l.4 .2l.3 0l.4 1.1l.4-.5l.3 2.3l.4-1.3l.3-1.8l.4 1.6l.3-.7l.4 2.5l.3 2.4l.4 .6l.3-1.8l.4 .4l.4 3.5l.3-.3l.4-.1l.3 1.5l.4 2.5l.3-.3l.4-1.1l.3 .3l.4 .7l.3-.9l.4-.4l.3 1.5l.4-.4l.4 1.3l.3 .9l.4 3.4l.3-2.5l.4 .5l.3 .5l.4 1.2l.3 1.5l.4-1.1l.3-.3l.4-.8l.3 1l.4 2.5l.4 .5l.3-.8l.4 .5l.3 .4l.4 .5l.3-1.4l.4-.1l.3-2.2l.4 0l.3 3.2l.4-3.8l.3 1.2l.4 2l.4 .5l.3 .3l.4 1.7l.3 1.2l.4 1l.3-1.3l.4 2.4l.3 .4l.4 1.2l.3 2.1l.4 1.9l.4 1.6l.3-.7l.4 3.2l.3 2.4l.4 1.8l.3 2.1l.4-1l.3 .7l.4 3.1l.3-2.1l.4 3.4l.3 .6l.4 1.5l.4-1.3l.3 2.3l.4 3.7l.3 4.1l.4 2.6l.3-.6l.4 .6l.3-.7l.4 3.5l.3 .2l.4 2.9l.3 4.7l.4-2.5l.4-3.9l.3 1.2l.4-.6l.3 1.2l.4 8.2l.3 .2l.4-4.4l.3 5.7l.4 1.8l.3-5.5l.4-3.7l.3-1.1l.4 .6l.4 .3l.3 1.9l.4 1.2l.3 .5l.4 1.1l.3-1.9l.4-7.6l.3 10.2l.4 10.2l.3 5.9l.4 8.2l.4-6l.3-5.7l.4 5.6l.3-1.7l.4-2.5l.3 1.6l.4 .6l.3-3l.4-12.2l.3 2.8l.4 1.3l.3-1.7l.4 4.8l.4 5.7l.3-4.6l.4-3.5l.3 11.8l.4-5.9l.3-4.5l.4 4.8l.3 2.6l.4-3.8l.3 5.1l.4-3.6l.3-2.7l.4 3.8l.4 3.7l.3-4.5l.4 2.7l.3-.8l.4 13l.3-9.6l.4 6.8l.3-3l.4-.2l.3 4.5l.4 3.1l.3 3.4l.4-1.9l.4-3.1l.3 .7l.4 6l.3 3.5l.4 5.9l.3-1l.4 3.8l.3 4.5l.4-3.1l.3-8.7l.4-4.1l.4-4.3l.3 9.8l.4-9.6l.3 5.9l.4-1.4l.3 4l.4-2.4l.3-5.9l.4-1.7l.3 1l.4 1l.3-2.7l.4 1.7l.4 8.1l.3-12.1l.4 5.4l.3-3.4l.4 2.5l.3 2.7l.4-4.2l.3 1.5l.4-12.4l.3 4.4l.4-10l.3-.8l.4-5.8l.4-15.7l.3 2.8l.4 4.2l.3 6.3l.4-5.1l.3-2.9l.4-9.9l.3 10l.4 6.3l.3-5.7l.4-2.1l.3-6.4l.4 10.7l.4 12.7l.3-4.3l.4 2.6l.3-1.4l.4-6.5l.3 10l.4-10.3l.3 1.5l.4 2.4l.3 3.3l.4-1.6l.4-1l.3-3.9l.4-1.7l.3 8l.4 .5l.3-1l.4 1.8l.3 6.2l.4-4.2l.3 .1l.4-2l.3 8l.4 3.1l.4 8.4l.3-15.5l.4-1.1l.3 7.2l.4-3.6l.3 2.2l.4 13.7l.3-3.7l.4-2.7l.3 1l.4 11.4l.3 5.9l.4-9.5l.4-4.2l.3 3.9l.4-1.3l.3-9.3l.4 1.1l.3-1.3l.4-10.1l.3 5.8l.4 6.8l.3-1.9l.4-7.5l.3 8.7l.4 9.3l.4 8.4l.3-16.2l.4 20l.3-14.1l.4 6.8l.3 3.4l.4-.4l.3-4.7l.4-8.6l.3 6.9l.4-5.3l.4-9.8l.3 27.8l.4-1.7l.3 7l.4-11.3l.3 11.1l.4 5.5l.3 3l.4-6.3l.3-10.3l.4-1.7l.3-14.9l.4-5l.4 5.2l.3-3.7l.4 3.5l.3 1.3l.4 11.6l.3-.1l.4-7.7l.3 4.6l.4-9.9l.3-.7l.4 8.1l.3-8.4l.4 4.2l.4-3.4l.3 8.4l.4 12.4l.3-12.2l.4 6.4l.3 6.3l.4 6.4l.3 6.4l.4 .7l.3-.7l.4 1.8l.3-1.7l.4 51.6l.3 0l.4 0l.3-48.5l.4-2.7l.4 51.2l.3-43.3l.4-6.7l.3 50l.4-48.3l.3 48.3l.4 0l.3 0l.4-44.7l.3-.7l.4 45.4l.4 0l.3 0l.4 0l.3 0l.4 0l.3 0l.4 0l.3-35l.4 35l.3-27.7l.4 27.7l.3-35.5l.4 35.5l.4 0l.3 0l.4 0l.3 0l.4-27.4l.3 27.4l.4 0l.3-30.4l.4 30.4l.3 0l.4-28.5l.3 28.5l.4 0l.4 0l.3 0l.4 0l.3-19.4l.4 19.4l.3 0l.4 0l.3 0l.4 0l.3 0l.4-19.4l.3 19.4l.4 0l.4-41.7l.3 41.7l.4 0l.3 0l.4 0l.3 0l.4 0l.3 0l.4-13.5l.3 13.5l.4 0l.4 0l.3 0l.4-27.5l.3 27.5l.4 0l.3 0l.4-24.9l.3 24.9l.4 0l.3 0l.4 0l.3 0l.4 0l.4 0l.3 0l.4 0l.3-24l.4 24l.3-28.1l.4 28.1l.3 0l.4 0l.3-45.7l.4 45.7l.3 0l.4-36.3l.4 36.3l.3 0l.4 0l.3 0l.4 0l.3 0l.4 0l.3 0l.4 0l.3 0l.4-33.2l.3-10.5l.4 43.7l.4 0l.3 0l.4 0l.3 0l.4 0l.3 0l.4 0l.3 0l.4 0l.3 0l.4 0l.4 0l.3 0l.4 0l.3 0l.4 0l.3 0l.4 0l.3 0l.4 0l.3-40.7l.4 40.7l.3 0l.4-19.5l.4 14.6l.3 4.9l.4-5.9l.3 5.9l.4 0l.3 0l.4-4.4l.3 4.4l.4 0l.3 0l.4 0l.3 0l.4 0l.4 0l.3 0l.4 0l.3 0l.4 0l.3 0l.4 0l.3-8.2l.4 8.2l.3 0l.4 0l.3 0l.4 0l.4 0l.3 0l.4 0l.3-32.4l.4 2.1l.3 30.3l.4 0l.3 0l.4 0l.3 0l.4 0l.4 0l.3 0l.4-25.1l.3-4.9l.4 30l.3-27.3l.4 27.3l.3-30.8l.4 30.8l.3 0l.4 0l.3 0l.4-30.9l.4-.5l.3-4.6l.4 36l.3-40.3l.4-5.4l.3 45.7l.4-37.5l.3 37.5l.4-29.6l.3 0l.4 29.6l.3 0l.4-26.8l.4-8.1l.3 9.1l.4-2.7l.3 28.5l.4 0l.3 0l.4-20.8l.3 20.8l.4 0l.3 0l.2-20l.4-10.8l.3-9.2l.4-11l.3-11.2l.4-11.6l.3-10.8l.4-6.8l.3-6.7l.4-4.9l.3-4.2l.4-5.4l.3-4.9l.4-7.8l.4-7.4l.3-.8l.4-3.3l.3-2l.4-4.4l.3-1.7l.4-3.2l.3-3.3l.4-1.8l.3-.7l.4-.9l.4-.6l.3 .7l.4-2.6l.3 2.1l.4-6.1l.3-2.6l.4-5.5l.3-4.6l.4 2.5l.3-2.8l.4-2.4l.3 .5l.4 1.2l.4 5.6l.3-2l.4 1.2l.3-3.6l.4 1.9l.3 1l.4 2.7l.3-5.3l.4 1.3l.3-.6l.4-3.8l.3 1.2l.4-.6l.4-6l.3 5.9l.4 1.4l.3-2.6l.4-3.7l.3 7.1l.4-1.4l.3 1.9l.4 1.9l.3-5.5l.4 2.6l.3-2.6l.4-.2l.4-.2l.3 .3l.4 3.8l.3-2.2l.4-1.6l.3-.9l.4 1.6l.3-3.9l.4-.1l.3 1.2l.4-1.6l.4 .8l.3-1.7l.4 7.9l.3-.1l.4-3.7l.3-4.3l.4 4.9l.3-5.9l.4-4.4l.3-1.3l.4-1.6l.3 2l.4-4.8l.4 4.7l.3-9.2l.4 1.6l.3-5.9l.4 6.7l.3-4.5l.4 1.2l.3 4.7l.4 3.7l.3-5.5l.4 2l.3-1.7l.4 5.6l.4 2l.3 .9l.4 .2l.3 2.1l.4 .6l.3 5.4l.4 7.8l.3-5.6l.4 7.4l.3 4.3l.4 7.4l.3-.4l.4-4.7l.4-8.7l.3-1.2l.4-4.9l.3-2.6l.4-.1l.3-3.2l.4-6.3l.3 4l.4-1l.3-2.8l.4 1.8l.4 .5l.3-5.8l.4 0l.3 8.3l.4 2.9l.3-5.4l.4-2.2l.3 1.8l.4 3.3l.3-.3l.4 7.3l.3 0l.4 2.4l.4 9.7l.3 .7l.4 6.9l.3 8.5l.4 7.2l.3 2.6l.4 6.1l.3 3.2l.4 13.3l.3-7.9l.4-14l.3-6.3l.4-5.2l.4-6.8l.3 .4l.4-4.1l.3-10.2l.4-.7l.3-1.5l.4 6l.3 3.2l.4 10.8l.3-3.7l.4-10.5l.3 .2l.4 1.3l.4-5.2l.3-1.6l.4-.1l.3 3.2l.4 1.4l.3-.5l.4 6.7l.3-.7l.4-1.9l.3-4.3l.4-.4l.4 3.6l.3-7.1l.4 1.9l.3 2.1l.4-1.9l.3 3.2l.4-1.9l.3 8.6l.4 3.3l.3-.4l.4-4.9l.3 2.1l.4 8.5l.4 6.3l.3-1.2l.4 4.1l.3-3.3l.4 .3l.3 .1l.4 1l.3-6.1l.4 5.6l.3 2.6l.4-7.3l.3-2.9l.4 5.4l.4-.9l.3-5l.4 9.1l.3 1.3l.4-1l.3 8.4l.4-4.4l.3-4.7l.4 .7l.3-3.8l.4-.9l.3 2.8l.4-1.8l.4 1l.3 7.7l.4 .7l.3 .9l.4 .3l.3 .8l.4 4.1l.3-2.5l.4 5.5l.3-9.4l.4-2.1l.4-5.6l.3 0l.4 1.2l.3 1.7l.4-7.5l.3-1.6l.4-3.1l.3-1.1l.4-1.1l.3 4l.4-3.8l.3 5l.4 1.7l.4-1.1l.3-.9l.4-.9l.3 9.8l.4-7.1l.3 6.8l.4-.9l.3-3.2l.4-3.4l.3 5.4l.4 1.8l.3-9l.4-2.1l.4 2l.3-2.9l.4 2.8l.3-8.4l.4 .1l.3-6.3l.4 7.5l.3-7.3l.4-7.5l.3 3.2l.4 0l.3 5.4l.4-6.1l.4-1.9l.3 .1l.4 2l.3-5.6l.4 .6l.3-2.5l.4-4.4l.3-1.3l.4-1.6l.3-4.3l.4 4.7l.4-7l.3 5l.4 .2l.3-3.7l.4-3.8l.3-.1l.4 1.4l.3 .6l.4-3.1l.3-.3l.4-6.2l.3-1l.4-7.2l.4 3.4l.3-2.3l.4-3.9l.3 2.1l.4-2l.3-12.3l.4 3.6l.3-4.6l.4 4.9l.3 4.5l.4-8.9l.3-1.2l.4-.5l.4 1.9l.3 1.9l.4 2.8l.3-5.6l.4 6.3l.3-6.7l.4 .8l.3 2.1l.4-1.4l.3-6.1l.4-1.9l.3-.5l.4 .3l.4 2.9l.3-6.5l.4 3.2l.3 1.3l.4 .1l.3-.4l.4 2.9l.3-2.3l.4 .3l.3-.9l.4 3.2l.4-10.2l.3 6.2l.4-2.8l.3-1.1l.4-2.5l.3-3.6l.4 3.2l.3-.2l.4 3.3l.3-5l.4 6.9l.3-1.5l.4-2.1l.4-1.7l.3-.3l.4-.7l.3 1.9l.4 2.5l.3 .6l.4-3.1l.3 2.9l.4-.7l.3 3.3l.4 6.3l.3-1.3l.4-2.8l.4-4.3l.3-.3l.4-.5l.3 7.3l.4-1.8l.3 2.2l.4-1.3l.3 1.9l.4 4.5l.3-4.5l.4-.2l.3-1.2l.4 4.6l.4-3.9l.3-1.3l.4-1l.3-.2l.4 5.5l.3 7.9l.4-7.7l.3 3.5l.4-.8l.3-3.9l.4 1.4l.4 .8l.3-.9l.4 7.5l.3-8.6l.4 4.2l.3 1.3l.4-2l.3 1.7l.4 2.8l.3-1l.4 .6" fill="none" stroke="#000" stroke-width="2.35" stroke-linejoin="round"/><path clip-path="url(#cL2)" d="M200 609.4l.5 .2l.5 .1l.5 .2l.5 .1l.5 .2l.5 .1l.5 .1l.5 .1l.5 .2l.5 .1l.5 .1l.5 .1l.5 .1l.5 .1l.5 .1l.5 .1l.5 .1l.5 .1l.5 0l.5 .1l.5 0l.5 .1l.5 0l.5 .1l.5 0l.5 .1l.5 0l.5 0l.5 .1l.5 0l.5 .1l.5 .1l.5 .1l.5 .1l.5 .2l.5 .3l.5 .3l.5 .4l.5 .4l.5 .4l.5 .5l.5 .4l.5 .5l.5 .5l.5 .5l.5 .4l.5 .5l.5 .4l.5 .4l.5 .3l.5 .3l.5 .2l.5 .2l.5 .2l.5 0l.5 0l.5 0l.5-.1l.5-.1l.5-.1l.5-.1l.5-.2l.5-.1l.5-.2l.5-.1l.5-.2l.5-.1l.5-.1l.5-.1l.5-.1l.5 0l.5 0l.5 0l.5 .1l.5 0l.5 .1l.5 .1l.5 .1l.5 .1l.5 .1l.5 .2l.5 .1l.5 .1l.5 .1l.5 .1l.5 .1l.5 .1l.5 .1l.5 .1l.5 0l.5 0l.5 0l.5-.1l.5-.1l.5-.2l.5-.2l.5-.3l.5-.3l.5-.4l.5-.4l.5-.4l.5-.4l.5-.4l.5-.5l.5-.4l.5-.5l.5-.4l.5-.4l.5-.5l.5-.4l.5-.3l.5-.4l.5-.3l.5-.3l.5-.2l.5-.2l.5-.1l.5-.1l.5-.1l.5 0l.5-.1l.5-.1l.5 0l.5 0l.5-.1l.5 0l.5-.1l.5 0l.5 0l.5-.1l.5 0l.5 0l.5-.1l.5 0l.5-.1l.5-.1l.5 0l.5-.1l.5-.1l.5-.2l.5-.1l.5-.2l.5-.2l.5-.2l.5-.2l.5-.2l.5-.2l.5-.2l.5-.3l.5-.2l.5-.2l.5-.3l.5-.2l.5-.2l.5-.2l.5-.2l.5-.2l.5-.2l.5-.1l.5-.2l.5-.1l.5 0l.5-.1l.5-.1l.5 0l.5 0l.5-.1l.5 0l.5-.1l.5 0l.5 0l.5-.1l.5 0l.5 0l.5-.1l.5 0l.5 0l.5 0l.5-.1l.5 0l.5 0l.5 0l.5 0l.5 0l.5-.1l.5 0l.5 0l.5 0l.5 0l.5 0l.5 .1l.5 0l.5 .1l.5 .1l.5 .1l.5 .1l.5 .1l.5 .1l.5 .2l.5 .2l.5 .1l.5 .2l.5 .2l.5 .2l.5 .1l.5 .2l.5 .2l.5 .2l.5 .1l.5 .2l.5 .3l.5 .2l.5 .3l.5 .2l.5 .3l.5 .3l.5 .3l.5 .2l.5 .2l.5 .2l.5 .2l.5 .1l.5 .1l.5 0l.5 .1l.5 0l.5 .1l.5 0l.5 0l.5 .1l.5 0l.5 0l.5 .1l.5 .1l.5 0l.5 .1l.5 .2l.5 .2l.5 .3l.5 .4l.5 .4l.5 .4l.5 .5l.5 .5l.5 .5l.5 .5l.5 .5l.5 .6l.5 .5l.5 .6l.5 .5l.5 .5l.5 .5l.5 .4l.5 .4l.5 .4l.5 .3l.5 .3l.5 .2l.5 .1l.5 .1l.5-.1l.5 0l.5-.1l.5-.1l.5-.1l.5-.1l.5-.1l.5-.2l.5-.1l.5-.2l.5-.1l.5-.2l.5-.1l.5-.1l.5 0l.5-.1l.5 0l.5 .1l.5 0l.5 .1l.5 .2l.5 .1l.5 .2l.5 .1l.5 .2l.5 .2l.5 .2l.5 .1l.5 .2l.5 .1l.5 .1l.5 .1l.5 0l.5-.1l.5-.1l.5-.1l.5-.2l.5-.3l.5-.4l.5-.3l.5-.4l.5-.5l.5-.4l.5-.5l.5-.5l.5-.5l.5-.6l.5-.5l.5-.5l.5-.5l.5-.5l.5-.4l.5-.5l.5-.4l.5-.3l.5-.3l.5-.3l.5-.2l.5-.2l.5-.1l.5-.1l.5-.1l.5 0l.5-.1l.5-.1l.5 0l.5-.1l.5 0l.5-.1l.5 0l.5-.1l.5 0l.5-.1l.5 0l.5-.1l.5-.1l.5 0l.5-.1l.5-.1l.5-.1l.5-.2l.5-.2l.5-.2l.5-.2l.5-.2l.5-.2l.5-.3l.5-.3l.5-.2l.5-.3l.5-.3l.5-.3l.5-.3l.5-.3l.5-.2l.5-.3l.5-.2l.5-.3l.5-.2l.5-.2l.5-.1l.5-.2l.5-.1l.5-.1l.5-.1l.5 0l.5-.1l.5 0l.5 0l.5-.1l.5 0l.5-.1l.5 0l.5 0l.5-.1l.5 0l.5 0l.5 0l.5-.1l.5 0l.5 0l.5 0l.5-.1l.5 0l.5 0l.5 0l.5 0l.5 0l.5 0l.5 0l.5 0l.5 0l.5 0l.5 .1l.5 .1l.5 .1l.5 .1l.5 .2l.5 .1l.5 .2l.5 .2l.5 .2l.5 .2l.5 .2l.5 .2l.5 .3l.5 .2l.5 .2l.5 .3l.5 .2l.5 .2l.5 .2l.5 .3l.5 .3l.5 .3l.5 .3l.5 .4l.5 .3l.5 .3l.5 .3l.5 .3l.5 .2l.5 .2l.5 .2l.5 .1l.5 .1l.5 .1l.5 0l.5 .1l.5 .1l.5 0l.5 .1l.5 0l.5 .1l.5 .1l.5 0l.5 .1l.5 .1l.5 .1l.5 .1l.5 .2l.5 .2l.5 .4l.5 .4l.5 .5l.5 .6l.5 .6l.5 .7l.5 .6l.5 .7l.5 .8l.5 .7l.5 .7l.5 .7l.5 .6l.5 .7l.5 .5l.5 .5l.5 .5l.5 .4l.5 .2l.5 .2l.5 .1l.5 0l.5-.1l.5-.1l.5-.1l.5-.1l.5-.2l.5-.1l.5-.2l.5-.2l.5-.2l.5-.1l.5-.2l.5-.1l.5-.1l.5-.1l.5-.1l.5 0l.5 .1l.5 0l.5 .1l.5 .1l.5 .2l.5 .1l.5 .2l.5 .2l.5 .1l.5 .2l.5 .2l.5 .1l.5 .2l.5 .1l.5 .2l.5 .1l.5 .1l.5 0l.5 0l.5 0l.5-.2l.5-.2l.5-.3l.5-.4l.5-.5l.5-.5l.5-.5l.5-.6l.5-.7l.5-.6l.5-.7l.5-.6l.5-.7l.5-.6l.5-.6l.5-.6l.5-.5l.5-.5l.5-.4l.5-.3l.5-.3l.5-.1l.5-.1l.5-.1l.5-.1l.5-.1l.5-.1l.5 0l.5-.1l.5 0l.5-.1l.5 0l.5-.1l.5 0l.5-.1l.5 0l.5-.1l.5 0l.5-.1l.5-.1l.5-.1l.5-.1l.5-.1l.5-.2l.5-.2l.5-.3l.5-.2l.5-.3l.5-.3l.5-.4l.5-.3l.5-.4l.5-.3l.5-.4l.5-.3l.5-.4l.5-.4l.5-.3l.5-.3l.5-.3l.5-.3l.5-.3l.5-.2l.5-.2l.5-.2l.5-.1l.5-.1l.5 0l.5 0l.5-.1l.5 0l.5 0l.5 0l.5 0l.5-.1l.5 0l.5 0l.5 0l.5 0l.5 0l.5 0l.5-.1l.5 0l.5 0l.5 0l.5 0l.5 0l.5 0l.5 0l.5 0l.5 0l.5 0l.5 0l.5 0l.5 0l.5 0l.5 0l.5 0l.5 0l.5 .1l.5 .1l.5 .2l.5 .1l.5 .2l.5 .2l.5 .3l.5 .2l.5 .3l.5 .3l.5 .3l.5 .3l.5 .2l.5 .3l.5 .3l.5 .3l.5 .3l.5 .2l.5 .3l.5 .3l.5 .3l.5 .4l.5 .3l.5 .4l.5 .3l.5 .3l.5 .3l.5 .3l.5 .3l.5 .2l.5 .2l.5 .2l.5 .1l.5 .2l.5 .1l.5 .1l.5 .1l.5 .1l.5 .1l.5 .1l.5 .1l.5 .1l.5 .2l.5 .2l.5 .2l.5 .4l.5 .5l.5 .6l.5 .6l.5 .8l.5 .8l.5 .8l.5 .9l.5 .9l.5 .9l.5 .9l.5 .9l.5 .9l.5 .9l.5 .7l.5 .7l.5 .7l.5 .5l.5 .5l.5 .3l.5 .2l.5 .1l.5 0l.5-.1l.5-.1l.5-.2l.5-.1l.5-.2l.5-.2l.5-.2l.5-.2l.5-.2l.5-.2l.5-.2l.5-.2l.5-.1l.5-.1l.5 0l.5 0l.5 .1l.5 .1l.5 .1l.5 .1l.5 .2l.5 .2l.5 .2l.5 .2l.5 .2l.5 .2l.5 .2l.5 .2l.5 .2l.5 .1l.5 .2l.5 .1l.5 0l.5 0l.5-.1l.5-.2l.5-.4l.5-.4l.5-.5l.5-.6l.5-.5l.5-.7l.5-.6l.5-.6l.5-.7l.5-.5l.5-.6l.5-.4l.5-.5l.5-.4l.5-.4l.5-.4l.5-.4l.5-.4l.5-.5l.5-.4l.5-.5l.5-.4l.5-.4l.5-.4l.5-.4l.5-.3l.5-.3l.5-.3l.5-.2l.5-.1l.5-.2l.5-.1l.5-.1l.5-.1l.5-.1l.5-.1l.5 0l.5-.1l.5-.1l.5-.1l.5 0l.5-.1l.5-.1l.5-.1l.5-.2l.5-.1l.5-.2l.5-.2l.5-.2l.5-.3l.5-.3l.5-.3l.5-.3l.5-.3l.5-.4l.5-.3l.5-.4l.5-.3l.5-.4l.5-.3l.5-.4l.5-.3l.5-.3l.5-.3l.5-.2l.5-.3l.5-.2l.5-.2l.5-.2l.5-.2l.5-.1l.5-.2l.5-.2l.5-.1l.5-.2l.5-.1l.5-.1l.5-.1l.5-.1l.5-.1l.5 0l.5 0l.5 0l.5 0l.5 0l.5 0l.5 0l.5 .1l.5 0l.5 0l.5 .1l.5 0l.5 0l.5 .1l.5 0l.5 .1l.5 0l.5 .1l.5 0l.5 .1l.5 0l.5 .1l.5 .2l.5 .1l.5 .2l.5 .3l.5 .2l.5 .3l.5 .3l.5 .3l.5 .3l.5 .3l.5 .4l.5 .3l.5 .3l.5 .4l.5 .4l.5 .4l.5 .5l.5 .5l.5 .4l.5 .5l.5 .4l.5 .5l.5 .3l.5 .3l.5 .3l.5 .2l.5 .2l.5 .1l.5 .2l.5 .1l.5 .1l.5 .1l.5 .1l.5 .1l.5 .1l.5 .1l.5 .2l.5 .1l.5 .1l.5 .2l.5 .2l.5 .2l.5 .3l.5 .4l.5 .4l.5 .5l.5 .5l.5 .5l.5 .6l.5 .5l.5 .6l.5 .6l.5 .6l.5 .6l.5 .6l.5 .6l.5 .7l.5 .8l.5 .9l.5 .8l.5 .8l.5 .8l.5 .7l.5 .7l.5 .5l.5 .4l.5 .2l.5 .1l.5-.1l.5-.1l.5-.1l.5-.1l.5-.2l.5-.2l.5-.2l.5-.2l.5-.1l.5-.2l.5-.1l.5-.1l.5 0l.5 .1l.5 .1l.5 .2l.5 .2l.5 .3l.5 .3l.5 .3l.5 .3l.5 .3l.5 .3l.5 .4l.5 .4l.5 .4l.5 .5l.5 .5l.5 .5l.5 .5l.5 .5l.5 .4l.5 .3l.5 .2l.5 .2l.5 0l.5-.1l.5-.2l.5-.3l.5-.5l.5-.4l.5-.5l.5-.6l.5-.5l.5-.5l.5-.5l.5-.7l.5-.7l.5-.8l.5-.8l.5-.8l.5-.7l.5-.5l.5-.5l.5-.2l.5 0l.5 0l.5 .1l.5 0l.5 .2l.5 .2l.5 .3l.5 .4l.5 .5l.3 32.7l.3-10.5l.6-3.6l.5-.5l.5-.5l.5-.5l.5-.5l.5-.5l.5-.5l.5-.5l.5-.6l.5-.5l.5-.6l.5-.5l.5-.6l.5-.6l.5-.6l.5-.6l.5-.7l.5-.6l.5-.7l.5-.6l.5-.7l.5-.6l.5-.7l.5-.6l.5-.6l.5-.5l.5-.6l.5-.7l.5-.6l.5-.7l.5-.6l.5-.6l.5-.5l.5-.3l.5-.3l.5 0l.5 .1l.5 .1l.5 .3l.5 .3l.5 .3l.5 .4l.5 .5l.5 .9l.5 1.2l.5 1.4l.5 1.5l.5 1.6l.5 1.4l.5 1.6l.5 1.8l.5 1.8l.5 1.9l.5 2l.5 1.8l.5 1.7l.5 1.6l.5 1.3l.5 1l.5 .8l.5 .8l.5 .6l.5 .6l.5 .6l.5 .5l.5 .5l.5 .5l.5 .6l.5 .5l.5 .6l.5 .7l.5 .7l.5 .9l.5 .9l.5 .9l.5 1l.5 1.1l.5 1.1l.5 1l.5 1.1l.5 1.1l.5 1.1l.5 1l.5 1l.5 .9l.5 .9l.5 .9l.5 .9l.5 .9l.5 .9l.5 .9l.5 .8l.5 .7l.5 .7l.5 .6l.5 .5l.5 .5l.5 .5l.5 .4l.5 .4l.5 .3l.5 .4l.5 .4l.5 .4l.5 .5l.5 .4l.5 .6l.5 .6l.5 .6l.5 .8l.5 .8l.5 .9l.5 .9l.5 1l.5 1l.5 1l.5 1l.5 1.1l.5 1.2l.5 1.4l.5 1.4l.5 1.4l.5 1.5l.5 1.4l.5 1.4l.5 1.3l.5 1.2l.5 1.1l.5 1.2l.5 1.2l.5 1.2l.5 1.2l.5 1l.5 .9l.5 .7l.5 .5l.5 .2l.5 0l.5-.3l.5-.4l.5-.4l.5-.5l.5-.4l.5-.4l.5-.3l.5-.4l.5-.4l.5-.4l.5-.4l.5-.3l.5-.2l.5-.1l.5 .1l.5 .1l.5 .2l.5 .3l.5 .4l.5 .4l.5 .4l.5 .4l.5 .5l.5 .4l.5 .3l.5 .3l.5 .4l.5 .4l.5 .4l.5 .4l.5 .4l.5 .3l.5 .2l.5 .2l.5 .1l.5-.1l.5-.4l.5-.6l.5-.7l.5-.8l.5-.8l.5-.8l.5-1l.5-1.2l.5-1.4l.5-1.4l.5-1.5l.5-1.5l.5-1.5l.5-1.4l.5-1.3l.5-1.2l.5-1.2l.5-1.1l.5-1.1l.5-1.1l.5-1l.5-1l.5-1l.5-.8l.5-.7l.5-.7l.5-.7l.5-.6l.5-.6l.5-.5l.5-.5l.5-.5l.5-.4l.5-.3l.5-.3l.5-.3l.5-.1l.5-.2l.5-.1l.5-.1l.5-.2l.5-.1l.5-.2l.5-.2l.5-.2l.5-.4l.5-.5l.5-.7l.5-.7l.5-.9l.5-1l.5-1l.5-1l.5-1.1l.5-1.2l.5-1.2l.5-1.4l.5-1.6l.5-1.7l.5-1.8l.5-1.8l.5-1.9l.5-1.8l.5-1.8l.5-1.8l.5-1.8l.5-1.9l.5-1.9l.5-2l.5-1.9l.5-1.9l.5-1.8l.5-1.8l.5-1.6l.5-1.6l.5-1.5l.5-1.5l.5-1.4l.5-1.4l.5-1.4l.5-1.2l.5-1.3l.5-1.1l.5-1.1l.5-1l.5-1l.5-.9l.5-.9l.5-.8l.5-.8l.5-.8l.5-.7l.5-.8l.5-.7l.5-.7l.5-.7l.5-.7l.5-.6l.5-.7l.5-.6l.5-.6l.5-.6l.5-.6l.5-.6l.5-.6l.5-.6l.5-.5l.5-.6l.5-.5l.5-.6l.5-.6l.5-.5l.5-.6l.5-.5l.5-.5l.5-.5l.5-.5l.5-.4l.5-.4l.5-.3l.5-.3l.5-.3l.5-.2l.5-.3l.5-.2l.5-.2l.5-.2l.5-.2l.5-.2l.5-.3l.5-.3l.5-.4l.5-.5l.5-.5l.5-.5l.5-.4l.5-.4l.5-.3l.5-.2l.5-.1l.5 .2l.5 .3l.5 .4l.5 .5l.5 .5l.5 .6l.5 .4l.5 .6l.5 .6l.5 .7l.5 .6l.5 .7l.5 .6l.5 .6l.5 .5l.5 .3l.5 .3l.5 .3l.5 .3l.5 .3l.5 .2l.5 .2l.5 .2l.5 .1l.5 .1l.5 0l.5 0l.5-.1l.5-.1l.5-.2l.5-.2l.5-.2l.5-.2l.5-.3l.5-.2l.5-.1l.5-.2l.5-.1l.5 0l.5 0l.5 .1l.5 .2l.5 .1l.5 .3l.5 .2l.5 .3l.5 .2l.5 .3l.5 .3l.5 .3l.5 .4l.5 .4l.5 .5l.5 .5l.5 .5l.5 .5l.5 .5l.5 .4l.5 .4l.5 .2l.5 .2l.5 .1l.5-.1l.5-.1l.5-.2l.5-.3l.5-.3l.5-.3l.5-.4l.5-.3l.5-.4l.5-.3l.5-.4l.5-.5l.5-.5l.5-.6l.5-.6l.5-.6l.5-.6l.5-.6l.5-.5l.5-.5l.5-.5l.5-.4l.5-.2l.5-.3l.5-.2l.5-.3l.5-.2l.5-.2l.5-.1l.5-.2l.5-.1l.5 0l.5 0l.5 0l.5 0l.5 0l.5 0l.5 0l.5 0l.5 0l.5 0l.5 0l.5-.1l.5-.2l.5-.3l.5-.5l.5-.6l.5-.6l.5-.7l.5-.6l.5-.7l.5-.5l.5-.5l.5-.4l.5-.5l.5-.5l.5-.5l.5-.5l.5-.4l.5-.5l.5-.4l.5-.4l.5-.4l.5-.3l.5-.3l.5-.3l.5-.2l.5-.3l.5-.2l.5-.2l.5-.2l.5-.2l.5-.2l.5-.2l.5-.2l.5-.1l.5-.2l.5-.2l.5-.1l.5-.2l.5-.1l.5-.2l.5-.1l.5-.1l.5-.2l.5-.1l.5-.1l.5-.1l.5-.1l.5-.1l.5-.1l.5-.1l.5-.1l.5 0l.5-.1l.5-.1l.5 0l.5-.1l.5-.1l.5 0l.5 0l.5-.1l.5 0l.5 0l.5 0l.5 0l.5 0l.5 .1l.5 .1l.5 .1l.5 .1l.5 .1" fill="none" stroke="#f00" stroke-width="2.35" stroke-linejoin="round"/></g></g>
<g id="matplotlib.axis_5">
<g id="xtick_8">
<g id="line2d_94">
<g>
<use href="#m82f586ba75" x="180.72" y="591.98" style="stroke: #000000; stroke-width: 0.8"/>
</g>
</g>
</g>
<g id="xtick_9">
<g id="line2d_95">
<g>
<use href="#m82f586ba75" x="254.16" y="591.98" style="stroke: #000000; stroke-width: 0.8"/>
</g>
</g>
</g>
<g id="xtick_10">
<g id="line2d_96">
<g>
<use href="#m82f586ba75" x="327.6" y="591.98" style="stroke: #000000; stroke-width: 0.8"/>
</g>
</g>
</g>
<g id="xtick_11">
<g id="line2d_97">
<g>
<use href="#m82f586ba75" x="401.04" y="591.98" style="stroke: #000000; stroke-width: 0.8"/>
</g>
</g>
</g>
<g id="xtick_12">
<g id="line2d_98">
<g>
<use href="#m82f586ba75" x="474.48" y="591.98" style="stroke: #000000; stroke-width: 0.8"/>
</g>
</g>
</g>
<g id="xtick_13">
<g id="line2d_99">
<g>
<use href="#m82f586ba75" x="547.92" y="591.98" style="stroke: #000000; stroke-width: 0.8"/>
</g>
</g>
</g>
<g id="xtick_14">
<g id="line2d_100">
<g>
<use href="#m82f586ba75" x="621.36" y="591.98" style="stroke: #000000; stroke-width: 0.8"/>
</g>
</g>
</g>
</g>
<g id="matplotlib.axis_6">
<g id="ytick_63">
<g id="line2d_101">
<g>
<use href="#m0bb405004b" x="144" y="591.98" style="stroke: #000000; stroke-width: 0.8"/>
</g>
</g>
<g id="line2d_102">
<g>
<use href="#mb68e5e41f8" x="658.08" y="591.98" style="stroke: #000000; stroke-width: 0.8"/>
</g>
</g>
<g id="text_30">
<g transform="translate(115.156 597.454875)">
<text>
<tspan x="0" y="-0.37" style="font-size: 14.4px; font-family: 'DejaVu Sans', 'Liberation Sans', sans-serif">1</tspan>
<tspan x="9.15" y="-0.37" style="font-size: 14.4px; font-family: 'DejaVu Sans', 'Liberation Sans', sans-serif">0</tspan>
<tspan x="18.43" y="-5.73" style="font-size: 10.08px; font-family: 'DejaVu Sans', 'Liberation Sans', sans-serif">0</tspan>
</text>
</g>
</g>
</g>
<g id="ytick_64">
<g id="line2d_103">
<g>
<use href="#m0bb405004b" x="144" y="550.63" style="stroke: #000000; stroke-width: 0.8"/>
</g>
</g>
<g id="line2d_104">
<g>
<use href="#mb68e5e41f8" x="658.08" y="550.63" style="stroke: #000000; stroke-width: 0.8"/>
</g>
</g>
<g id="text_31">
<g transform="translate(115.156 556.102875)">
<text>
<tspan x="0" y="-0.50" style="font-size: 14.4px; font-family: 'DejaVu Sans', 'Liberation Sans', sans-serif">1</tspan>
<tspan x="9.15" y="-0.50" style="font-size: 14.4px; font-family: 'DejaVu Sans', 'Liberation Sans', sans-serif">0</tspan>
<tspan x="18.43" y="-5.86" style="font-size: 10.08px; font-family: 'DejaVu Sans', 'Liberation Sans', sans-serif">1</tspan>
</text>
</g>
</g>
</g>
<g id="ytick_65">
<g id="line2d_105">
<g>
<use href="#m0bb405004b" x="144" y="509.28" style="stroke: #000000; stroke-width: 0.8"/>
</g>
</g>
<g id="line2d_106">
<g>
<use href="#mb68e5e41f8" x="658.08" y="509.28" style="stroke: #000000; stroke-width: 0.8"/>
</g>
</g>
<g id="text_32">
<g transform="translate(115.156 514.750875)">
<text>
<tspan x="0" y="-0.37" style="font-size: 14.4px; font-family: 'DejaVu Sans', 'Liberation Sans', sans-serif">1</tspan>
<tspan x="9.15" y="-0.37" style="font-size: 14.4px; font-family: 'DejaVu Sans', 'Liberation Sans', sans-serif">0</tspan>
<tspan x="18.43" y="-5.73" style="font-size: 10.08px; font-family: 'DejaVu Sans', 'Liberation Sans', sans-serif">2</tspan>
</text>
</g>
</g>
</g>
<g id="ytick_66">
<g id="line2d_107">
<g>
<use href="#m0bb405004b" x="144" y="467.93" style="stroke: #000000; stroke-width: 0.8"/>
</g>
</g>
<g id="line2d_108">
<g>
<use href="#mb68e5e41f8" x="658.08" y="467.93" style="stroke: #000000; stroke-width: 0.8"/>
</g>
</g>
<g id="text_33">
<g transform="translate(115.156 473.398875)">
<text>
<tspan x="0" y="-0.37" style="font-size: 14.4px; font-family: 'DejaVu Sans', 'Liberation Sans', sans-serif">1</tspan>
<tspan x="9.15" y="-0.37" style="font-size: 14.4px; font-family: 'DejaVu Sans', 'Liberation Sans', sans-serif">0</tspan>
<tspan x="18.43" y="-5.73" style="font-size: 10.08px; font-family: 'DejaVu Sans', 'Liberation Sans', sans-serif">3</tspan>
</text>
</g>
</g>
</g>
<g id="ytick_67">
<g id="line2d_109">
<g>
<use href="#m0bb405004b" x="144" y="426.58" style="stroke: #000000; stroke-width: 0.8"/>
</g>
</g>
<g id="line2d_110">
<g>
<use href="#mb68e5e41f8" x="658.08" y="426.58" style="stroke: #000000; stroke-width: 0.8"/>
</g>
</g>
<g id="text_34">
<g transform="translate(115.156 432.046875)">
<text>
<tspan x="0" y="-0.50" style="font-size: 14.4px; font-family: 'DejaVu Sans', 'Liberation Sans', sans-serif">1</tspan>
<tspan x="9.15" y="-0.50" style="font-size: 14.4px; font-family: 'DejaVu Sans', 'Liberation Sans', sans-serif">0</tspan>
<tspan x="18.43" y="-5.86" style="font-size: 10.08px; font-family: 'DejaVu Sans', 'Liberation Sans', sans-serif">4</tspan>
</text>
</g>
</g>
</g>
<g id="ytick_68">
<g id="line2d_111">
<g>
<use href="#m0bb405004b" x="144" y="385.22" style="stroke: #000000; stroke-width: 0.8"/>
</g>
</g>
<g id="line2d_112">
<g>
<use href="#mb68e5e41f8" x="658.08" y="385.22" style="stroke: #000000; stroke-width: 0.8"/>
</g>
</g>
<g id="text_35">
<g transform="translate(115.156 390.694875)">
<text>
<tspan x="0" y="-0.50" style="font-size: 14.4px; font-family: 'DejaVu Sans', 'Liberation Sans', sans-serif">1</tspan>
<tspan x="9.15" y="-0.50" style="font-size: 14.4px; font-family: 'DejaVu Sans', 'Liberation Sans', sans-serif">0</tspan>
<tspan x="18.43" y="-5.86" style="font-size: 10.08px; font-family: 'DejaVu Sans', 'Liberation Sans', sans-serif">5</tspan>
</text>
</g>
</g>
</g>
<g id="ytick_69">
<g id="line2d_113">
<g>
<use href="#m0bb405004b" x="144" y="343.87" style="stroke: #000000; stroke-width: 0.8"/>
</g>
</g>
<g id="line2d_114">
<g>
<use href="#mb68e5e41f8" x="658.08" y="343.87" style="stroke: #000000; stroke-width: 0.8"/>
</g>
</g>
<g id="text_36">
<g transform="translate(115.156 349.342875)">
<text>
<tspan x="0" y="-0.37" style="font-size: 14.4px; font-family: 'DejaVu Sans', 'Liberation Sans', sans-serif">1</tspan>
<tspan x="9.15" y="-0.37" style="font-size: 14.4px; font-family: 'DejaVu Sans', 'Liberation Sans', sans-serif">0</tspan>
<tspan x="18.43" y="-5.73" style="font-size: 10.08px; font-family: 'DejaVu Sans', 'Liberation Sans', sans-serif">6</tspan>
</text>
</g>
</g>
</g>
<g id="ytick_70">
<g id="line2d_115">
<defs>
<path id="m0df97daa90" d="M 0 0 
L 2.7 0 
" style="stroke: #000000; stroke-width: 0.6"/>
</defs>
<g>
<use href="#m0df97daa90" x="144" y="579.54" style="stroke: #000000; stroke-width: 0.6"/>
</g>
</g>
<g id="line2d_116">
<defs>
<path id="m668fe16cc7" d="M 0 0 
L -2.7 0 
" style="stroke: #000000; stroke-width: 0.6"/>
</defs>
<g>
<use href="#m668fe16cc7" x="658.08" y="579.54" style="stroke: #000000; stroke-width: 0.6"/>
</g>
</g>
</g>
<g id="ytick_71">
<g id="line2d_117">
<g>
<use href="#m0df97daa90" x="144" y="572.25" style="stroke: #000000; stroke-width: 0.6"/>
</g>
</g>
<g id="line2d_118">
<g>
<use href="#m668fe16cc7" x="658.08" y="572.25" style="stroke: #000000; stroke-width: 0.6"/>
</g>
</g>
</g>
<g id="ytick_72">
<g id="line2d_119">
<g>
<use href="#m0df97daa90" x="144" y="567.09" style="stroke: #000000; stroke-width: 0.6"/>
</g>
</g>
<g id="line2d_120">
<g>
<use href="#m668fe16cc7" x="658.08" y="567.09" style="stroke: #000000; stroke-width: 0.6"/>
</g>
</g>
</g>
<g id="ytick_73">
<g id="line2d_121">
<g>
<use href="#m0df97daa90" x="144" y="563.08" style="stroke: #000000; stroke-width: 0.6"/>
</g>
</g>
<g id="line2d_122">
<g>
<use href="#m668fe16cc7" x="658.08" y="563.08" style="stroke: #000000; stroke-width: 0.6"/>
</g>
</g>
</g>
<g id="ytick_74">
<g id="line2d_123">
<g>
<use href="#m0df97daa90" x="144" y="559.81" style="stroke: #000000; stroke-width: 0.6"/>
</g>
</g>
<g id="line2d_124">
<g>
<use href="#m668fe16cc7" x="658.08" y="559.81" style="stroke: #000000; stroke-width: 0.6"/>
</g>
</g>
</g>
<g id="ytick_75">
<g id="line2d_125">
<g>
<use href="#m0df97daa90" x="144" y="557.04" style="stroke: #000000; stroke-width: 0.6"/>
</g>
</g>
<g id="line2d_126">
<g>
<use href="#m668fe16cc7" x="658.08" y="557.04" style="stroke: #000000; stroke-width: 0.6"/>
</g>
</g>
</g>
<g id="ytick_76">
<g id="line2d_127">
<g>
<use href="#m0df97daa90" x="144" y="554.64" style="stroke: #000000; stroke-width: 0.6"/>
</g>
</g>
<g id="line2d_128">
<g>
<use href="#m668fe16cc7" x="658.08" y="554.64" style="stroke: #000000; stroke-width: 0.6"/>
</g>
</g>
</g>
<g id="ytick_77">
<g id="line2d_129">
<g>
<use href="#m0df97daa90" x="144" y="552.52" style="stroke: #000000; stroke-width: 0.6"/>
</g>
</g>
<g id="line2d_130">
<g>
<use href="#m668fe16cc7" x="658.08" y="552.52" style="stroke: #000000; stroke-width: 0.6"/>
</g>
</g>
</g>
<g id="ytick_78">
<g id="line2d_131">
<g>
<use href="#m0df97daa90" x="144" y="538.18" style="stroke: #000000; stroke-width: 0.6"/>
</g>
</g>
<g id="line2d_132">
<g>
<use href="#m668fe16cc7" x="658.08" y="538.18" style="stroke: #000000; stroke-width: 0.6"/>
</g>
</g>
</g>
<g id="ytick_79">
<g id="line2d_133">
<g>
<use href="#m0df97daa90" x="144" y="530.90" style="stroke: #000000; stroke-width: 0.6"/>
</g>
</g>
<g id="line2d_134">
<g>
<use href="#m668fe16cc7" x="658.08" y="530.90" style="stroke: #000000; stroke-width: 0.6"/>
</g>
</g>
</g>
<g id="ytick_80">
<g id="line2d_135">
<g>
<use href="#m0df97daa90" x="144" y="525.74" style="stroke: #000000; stroke-width: 0.6"/>
</g>
</g>
<g id="line2d_136">
<g>
<use href="#m668fe16cc7" x="658.08" y="525.74" style="stroke: #000000; stroke-width: 0.6"/>
</g>
</g>
</g>
<g id="ytick_81">
<g id="line2d_137">
<g>
<use href="#m0df97daa90" x="144" y="521.73" style="stroke: #000000; stroke-width: 0.6"/>
</g>
</g>
<g id="line2d_138">
<g>
<use href="#m668fe16cc7" x="658.08" y="521.73" style="stroke: #000000; stroke-width: 0.6"/>
</g>
</g>
</g>
<g id="ytick_82">
<g id="line2d_139">
<g>
<use href="#m0df97daa90" x="144" y="518.45" style="stroke: #000000; stroke-width: 0.6"/>
</g>
</g>
<g id="line2d_140">
<g>
<use href="#m668fe16cc7" x="658.08" y="518.45" style="stroke: #000000; stroke-width: 0.6"/>
</g>
</g>
</g>
<g id="ytick_83">
<g id="line2d_141">
<g>
<use href="#m0df97daa90" x="144" y="515.69" style="stroke: #000000; stroke-width: 0.6"/>
</g>
</g>
<g id="line2d_142">
<g>
<use href="#m668fe16cc7" x="658.08" y="515.69" style="stroke: #000000; stroke-width: 0.6"/>
</g>
</g>
</g>
<g id="ytick_84">
<g id="line2d_143">
<g>
<use href="#m0df97daa90" x="144" y="513.29" style="stroke: #000000; stroke-width: 0.6"/>
</g>
</g>
<g id="line2d_144">
<g>
<use href="#m668fe16cc7" x="658.08" y="513.29" style="stroke: #000000; stroke-width: 0.6"/>
</g>
</g>
</g>
<g id="ytick_85">
<g id="line2d_145">
<g>
<use href="#m0df97daa90" x="144" y="511.17" style="stroke: #000000; stroke-width: 0.6"/>
</g>
</g>
<g id="line2d_146">
<g>
<use href="#m668fe16cc7" x="658.08" y="511.17" style="stroke: #000000; stroke-width: 0.6"/>
</g>
</g>
</g>
<g id="ytick_86">
<g id="line2d_147">
<g>
<use href="#m0df97daa90" x="144" y="496.83" style="stroke: #000000; stroke-width: 0.6"/>
</g>
</g>
<g id="line2d_148">
<g>
<use href="#m668fe16cc7" x="658.08" y="496.83" style="stroke: #000000; stroke-width: 0.6"/>
</g>
</g>
</g>
<g id="ytick_87">
<g id="line2d_149">
<g>
<use href="#m0df97daa90" x="144" y="489.55" style="stroke: #000000; stroke-width: 0.6"/>
</g>
</g>
<g id="line2d_150">
<g>
<use href="#m668fe16cc7" x="658.08" y="489.55" style="stroke: #000000; stroke-width: 0.6"/>
</g>
</g>
</g>
<g id="ytick_88">
<g id="line2d_151">
<g>
<use href="#m0df97daa90" x="144" y="484.38" style="stroke: #000000; stroke-width: 0.6"/>
</g>
</g>
<g id="line2d_152">
<g>
<use href="#m668fe16cc7" x="658.08" y="484.38" style="stroke: #000000; stroke-width: 0.6"/>
</g>
</g>
</g>
<g id="ytick_89">
<g id="line2d_153">
<g>
<use href="#m0df97daa90" x="144" y="480.38" style="stroke: #000000; stroke-width: 0.6"/>
</g>
</g>
<g id="line2d_154">
<g>
<use href="#m668fe16cc7" x="658.08" y="480.38" style="stroke: #000000; stroke-width: 0.6"/>
</g>
</g>
</g>
<g id="ytick_90">
<g id="line2d_155">
<g>
<use href="#m0df97daa90" x="144" y="477.10" style="stroke: #000000; stroke-width: 0.6"/>
</g>
</g>
<g id="line2d_156">
<g>
<use href="#m668fe16cc7" x="658.08" y="477.10" style="stroke: #000000; stroke-width: 0.6"/>
</g>
</g>
</g>
<g id="ytick_91">
<g id="line2d_157">
<g>
<use href="#m0df97daa90" x="144" y="474.33" style="stroke: #000000; stroke-width: 0.6"/>
</g>
</g>
<g id="line2d_158">
<g>
<use href="#m668fe16cc7" x="658.08" y="474.33" style="stroke: #000000; stroke-width: 0.6"/>
</g>
</g>
</g>
<g id="ytick_92">
<g id="line2d_159">
<g>
<use href="#m0df97daa90" x="144" y="471.94" style="stroke: #000000; stroke-width: 0.6"/>
</g>
</g>
<g id="line2d_160">
<g>
<use href="#m668fe16cc7" x="658.08" y="471.94" style="stroke: #000000; stroke-width: 0.6"/>
</g>
</g>
</g>
<g id="ytick_93">
<g id="line2d_161">
<g>
<use href="#m0df97daa90" x="144" y="469.82" style="stroke: #000000; stroke-width: 0.6"/>
</g>
</g>
<g id="line2d_162">
<g>
<use href="#m668fe16cc7" x="658.08" y="469.82" style="stroke: #000000; stroke-width: 0.6"/>
</g>
</g>
</g>
<g id="ytick_94">
<g id="line2d_163">
<g>
<use href="#m0df97daa90" x="144" y="455.48" style="stroke: #000000; stroke-width: 0.6"/>
</g>
</g>
<g id="line2d_164">
<g>
<use href="#m668fe16cc7" x="658.08" y="455.48" style="stroke: #000000; stroke-width: 0.6"/>
</g>
</g>
</g>
<g id="ytick_95">
<g id="line2d_165">
<g>
<use href="#m0df97daa90" x="144" y="448.20" style="stroke: #000000; stroke-width: 0.6"/>
</g>
</g>
<g id="line2d_166">
<g>
<use href="#m668fe16cc7" x="658.08" y="448.20" style="stroke: #000000; stroke-width: 0.6"/>
</g>
</g>
</g>
<g id="ytick_96">
<g id="line2d_167">
<g>
<use href="#m0df97daa90" x="144" y="443.03" style="stroke: #000000; stroke-width: 0.6"/>
</g>
</g>
<g id="line2d_168">
<g>
<use href="#m668fe16cc7" x="658.08" y="443.03" style="stroke: #000000; stroke-width: 0.6"/>
</g>
</g>
</g>
<g id="ytick_97">
<g id="line2d_169">
<g>
<use href="#m0df97daa90" x="144" y="439.02" style="stroke: #000000; stroke-width: 0.6"/>
</g>
</g>
<g id="line2d_170">
<g>
<use href="#m668fe16cc7" x="658.08" y="439.02" style="stroke: #000000; stroke-width: 0.6"/>
</g>
</g>
</g>
<g id="ytick_98">
<g id="line2d_171">
<g>
<use href="#m0df97daa90" x="144" y="435.75" style="stroke: #000000; stroke-width: 0.6"/>
</g>
</g>
<g id="line2d_172">
<g>
<use href="#m668fe16cc7" x="658.08" y="435.75" style="stroke: #000000; stroke-width: 0.6"/>
</g>
</g>
</g>
<g id="ytick_99">
<g id="line2d_173">
<g>
<use href="#m0df97daa90" x="144" y="432.98" style="stroke: #000000; stroke-width: 0.6"/>
</g>
</g>
<g id="line2d_174">
<g>
<use href="#m668fe16cc7" x="658.08" y="432.98" style="stroke: #000000; stroke-width: 0.6"/>
</g>
</g>
</g>
<g id="ytick_100">
<g id="line2d_175">
<g>
<use href="#m0df97daa90" x="144" y="430.58" style="stroke: #000000; stroke-width: 0.6"/>
</g>
</g>
<g id="line2d_176">
<g>
<use href="#m668fe16cc7" x="658.08" y="430.58" style="stroke: #000000; stroke-width: 0.6"/>
</g>
</g>
</g>
<g id="ytick_101">
<g id="line2d_177">
<g>
<use href="#m0df97daa90" x="144" y="428.47" style="stroke: #000000; stroke-width: 0.6"/>
</g>
</g>
<g id="line2d_178">
<g>
<use href="#m668fe16cc7" x="658.08" y="428.47" style="stroke: #000000; stroke-width: 0.6"/>
</g>
</g>
</g>
<g id="ytick_102">
<g id="line2d_179">
<g>
<use href="#m0df97daa90" x="144" y="414.13" style="stroke: #000000; stroke-width: 0.6"/>
</g>
</g>
<g id="line2d_180">
<g>
<use href="#m668fe16cc7" x="658.08" y="414.13" style="stroke: #000000; stroke-width: 0.6"/>
</g>
</g>
</g>
<g id="ytick_103">
<g id="line2d_181">
<g>
<use href="#m0df97daa90" x="144" y="406.85" style="stroke: #000000; stroke-width: 0.6"/>
</g>
</g>
<g id="line2d_182">
<g>
<use href="#m668fe16cc7" x="658.08" y="406.85" style="stroke: #000000; stroke-width: 0.6"/>
</g>
</g>
</g>
<g id="ytick_104">
<g id="line2d_183">
<g>
<use href="#m0df97daa90" x="144" y="401.68" style="stroke: #000000; stroke-width: 0.6"/>
</g>
</g>
<g id="line2d_184">
<g>
<use href="#m668fe16cc7" x="658.08" y="401.68" style="stroke: #000000; stroke-width: 0.6"/>
</g>
</g>
</g>
<g id="ytick_105">
<g id="line2d_185">
<g>
<use href="#m0df97daa90" x="144" y="397.67" style="stroke: #000000; stroke-width: 0.6"/>
</g>
</g>
<g id="line2d_186">
<g>
<use href="#m668fe16cc7" x="658.08" y="397.67" style="stroke: #000000; stroke-width: 0.6"/>
</g>
</g>
</g>
<g id="ytick_106">
<g id="line2d_187">
<g>
<use href="#m0df97daa90" x="144" y="394.40" style="stroke: #000000; stroke-width: 0.6"/>
</g>
</g>
<g id="line2d_188">
<g>
<use href="#m668fe16cc7" x="658.08" y="394.40" style="stroke: #000000; stroke-width: 0.6"/>
</g>
</g>
</g>
<g id="ytick_107">
<g id="line2d_189">
<g>
<use href="#m0df97daa90" x="144" y="391.63" style="stroke: #000000; stroke-width: 0.6"/>
</g>
</g>
<g id="line2d_190">
<g>
<use href="#m668fe16cc7" x="658.08" y="391.63" style="stroke: #000000; stroke-width: 0.6"/>
</g>
</g>
</g>
<g id="ytick_108">
<g id="line2d_191">
<g>
<use href="#m0df97daa90" x="144" y="389.23" style="stroke: #000000; stroke-width: 0.6"/>
</g>
</g>
<g id="line2d_192">
<g>
<use href="#m668fe16cc7" x="658.08" y="389.23" style="stroke: #000000; stroke-width: 0.6"/>
</g>
</g>
</g>
<g id="ytick_109">
<g id="line2d_193">
<g>
<use href="#m0df97daa90" x="144" y="387.12" style="stroke: #000000; stroke-width: 0.6"/>
</g>
</g>
<g id="line2d_194">
<g>
<use href="#m668fe16cc7" x="658.08" y="387.12" style="stroke: #000000; stroke-width: 0.6"/>
</g>
</g>
</g>
<g id="ytick_110">
<g id="line2d_195">
<g>
<use href="#m0df97daa90" x="144" y="372.78" style="stroke: #000000; stroke-width: 0.6"/>
</g>
</g>
<g id="line2d_196">
<g>
<use href="#m668fe16cc7" x="658.08" y="372.78" style="stroke: #000000; stroke-width: 0.6"/>
</g>
</g>
</g>
<g id="ytick_111">
<g id="line2d_197">
<g>
<use href="#m0df97daa90" x="144" y="365.49" style="stroke: #000000; stroke-width: 0.6"/>
</g>
</g>
<g id="line2d_198">
<g>
<use href="#m668fe16cc7" x="658.08" y="365.49" style="stroke: #000000; stroke-width: 0.6"/>
</g>
</g>
</g>
<g id="ytick_112">
<g id="line2d_199">
<g>
<use href="#m0df97daa90" x="144" y="360.33" style="stroke: #000000; stroke-width: 0.6"/>
</g>
</g>
<g id="line2d_200">
<g>
<use href="#m668fe16cc7" x="658.08" y="360.33" style="stroke: #000000; stroke-width: 0.6"/>
</g>
</g>
</g>
<g id="ytick_113">
<g id="line2d_201">
<g>
<use href="#m0df97daa90" x="144" y="356.32" style="stroke: #000000; stroke-width: 0.6"/>
</g>
</g>
<g id="line2d_202">
<g>
<use href="#m668fe16cc7" x="658.08" y="356.32" style="stroke: #000000; stroke-width: 0.6"/>
</g>
</g>
</g>
<g id="ytick_114">
<g id="line2d_203">
<g>
<use href="#m0df97daa90" x="144" y="353.05" style="stroke: #000000; stroke-width: 0.6"/>
</g>
</g>
<g id="line2d_204">
<g>
<use href="#m668fe16cc7" x="658.08" y="353.05" style="stroke: #000000; stroke-width: 0.6"/>
</g>
</g>
</g>
<g id="ytick_115">
<g id="line2d_205">
<g>
<use href="#m0df97daa90" x="144" y="350.28" style="stroke: #000000; stroke-width: 0.6"/>
</g>
</g>
<g id="line2d_206">
<g>
<use href="#m668fe16cc7" x="658.08" y="350.28" style="stroke: #000000; stroke-width: 0.6"/>
</g>
</g>
</g>
<g id="ytick_116">
<g id="line2d_207">
<g>
<use href="#m0df97daa90" x="144" y="347.88" style="stroke: #000000; stroke-width: 0.6"/>
</g>
</g>
<g id="line2d_208">
<g>
<use href="#m668fe16cc7" x="658.08" y="347.88" style="stroke: #000000; stroke-width: 0.6"/>
</g>
</g>
</g>
<g id="ytick_117">
<g id="line2d_209">
<g>
<use href="#m0df97daa90" x="144" y="345.76" style="stroke: #000000; stroke-width: 0.6"/>
</g>
</g>
<g id="line2d_210">
<g>
<use href="#m668fe16cc7" x="658.08" y="345.76" style="stroke: #000000; stroke-width: 0.6"/>
</g>
</g>
</g>
</g>
<g id="patch_13">
<path d="M 144 591.98 
L 144 343.87 
" style="fill: none; stroke: #000000; stroke-width: 1.5; stroke-linejoin: miter; stroke-linecap: square"/>
</g>
<g id="patch_14">
<path d="M 658.08 591.98 
L 658.08 343.87 
" style="fill: none; stroke: #000000; stroke-width: 1.5; stroke-linejoin: miter; stroke-linecap: square"/>
</g>
<g id="patch_15">
<path d="M 144 591.98 
L 658.08 591.98 
" style="fill: none; stroke: #000000; stroke-width: 1.5; stroke-linejoin: miter; stroke-linecap: square"/>
</g>
<g id="patch_16">
<path d="M 144 343.87 
L 658.08 343.87 
" style="fill: none; stroke: #000000; stroke-width: 1.5; stroke-linejoin: miter; stroke-linecap: square"/>
</g>
</g>
<g id="axes_4">
<g id="patch_17">
<path d="M 144 732.24 
L 658.08 732.24 
L 658.08 608.4 
L 144 608.4 
z
" style="fill: #ffffff"/>
</g>
<g id="patch_18">
<path d="M 140.33 732.24 
L 147.67 732.24 
L 147.67 704.72 
L 140.33 704.72 
z
" clip-path="url(#p3fa9ed6ce3)" style="fill: #008000"/>
</g>
<g id="patch_19">
<path d="M 149.51 732.24 
L 156.85 732.24 
L 156.85 713.94 
L 149.51 713.94 
z
" clip-path="url(#p3fa9ed6ce3)" style="fill: #008000"/>
</g>
<g id="patch_20">
<path d="M 158.69 732.24 
L 166.03 732.24 
L 166.03 713.94 
L 158.69 713.94 
z
" clip-path="url(#p3fa9ed6ce3)" style="fill: #008000"/>
</g>
<g id="patch_21">
<path d="M 167.87 732.24 
L 175.21 732.24 
L 175.21 718.48 
L 167.87 718.48 
z
" clip-path="url(#p3fa9ed6ce3)" style="fill: #008000"/>
</g>
<g id="patch_22">
<path d="M 177.05 732.24 
L 184.39 732.24 
L 184.39 727.7 
L 177.05 727.7 
z
" clip-path="url(#p3fa9ed6ce3)" style="fill: #008000"/>
</g>
<g id="patch_23">
<path d="M 186.23 732.24 
L 193.57 732.24 
L 193.57 727.7 
L 186.23 727.7 
z
" clip-path="url(#p3fa9ed6ce3)" style="fill: #008000"/>
</g>
<g id="patch_24">
<path d="M 195.41 732.24 
L 202.75 732.24 
L 202.75 718.48 
L 195.41 718.48 
z
" clip-path="url(#p3fa9ed6ce3)" style="fill: #008000"/>
</g>
<g id="patch_25">
<path d="M 204.59 732.24 
L 211.93 732.24 
L 211.93 723.02 
L 204.59 723.02 
z
" clip-path="url(#p3fa9ed6ce3)" style="fill: #008000"/>
</g>
<g id="patch_26">
<path d="M 213.77 732.24 
L 221.11 732.24 
L 221.11 723.02 
L 213.77 723.02 
z
" clip-path="url(#p3fa9ed6ce3)" style="fill: #008000"/>
</g>
<g id="patch_27">
<path d="M 232.13 732.24 
L 239.47 732.24 
L 239.47 727.7 
L 232.13 727.7 
z
" clip-path="url(#p3fa9ed6ce3)" style="fill: #008000"/>
</g>
<g id="patch_28">
<path d="M 259.67 732.24 
L 267.01 732.24 
L 267.01 727.7 
L 259.67 727.7 
z
" clip-path="url(#p3fa9ed6ce3)" style="fill: #008000"/>
</g>
<g id="patch_29">
<path d="M 268.85 732.24 
L 276.19 732.24 
L 276.19 727.7 
L 268.85 727.7 
z
" clip-path="url(#p3fa9ed6ce3)" style="fill: #008000"/>
</g>
<g id="patch_30">
<path d="M 287.21 732.24 
L 294.55 732.24 
L 294.55 709.26 
L 287.21 709.26 
z
" clip-path="url(#p3fa9ed6ce3)" style="fill: #008000"/>
</g>
<g id="patch_31">
<path d="M 314.75 732.24 
L 322.09 732.24 
L 322.09 727.7 
L 314.75 727.7 
z
" clip-path="url(#p3fa9ed6ce3)" style="fill: #008000"/>
</g>
<g id="patch_32">
<path d="M 323.93 732.24 
L 331.27 732.24 
L 331.27 723.02 
L 323.93 723.02 
z
" clip-path="url(#p3fa9ed6ce3)" style="fill: #008000"/>
</g>
<g id="patch_33">
<path d="M 333.11 732.24 
L 340.45 732.24 
L 340.45 727.7 
L 333.11 727.7 
z
" clip-path="url(#p3fa9ed6ce3)" style="fill: #008000"/>
</g>
<g id="patch_34">
<path d="M 415.73 732.24 
L 423.07 732.24 
L 423.07 718.48 
L 415.73 718.48 
z
" clip-path="url(#p3fa9ed6ce3)" style="fill: #008000"/>
</g>
<g id="patch_35">
<path d="M 424.91 732.24 
L 432.25 732.24 
L 432.25 718.48 
L 424.91 718.48 
z
" clip-path="url(#p3fa9ed6ce3)" style="fill: #008000"/>
</g>
<g id="patch_36">
<path d="M 434.09 732.24 
L 441.43 732.24 
L 441.43 718.48 
L 434.09 718.48 
z
" clip-path="url(#p3fa9ed6ce3)" style="fill: #008000"/>
</g>
<g id="patch_37">
<path d="M 443.27 732.24 
L 450.61 732.24 
L 450.61 727.7 
L 443.27 727.7 
z
" clip-path="url(#p3fa9ed6ce3)" style="fill: #008000"/>
</g>
<g id="patch_38">
<path d="M 452.45 732.24 
L 459.79 732.24 
L 459.79 718.48 
L 452.45 718.48 
z
" clip-path="url(#p3fa9ed6ce3)" style="fill: #008000"/>
</g>
<g id="patch_39">
<path d="M 461.63 732.24 
L 468.97 732.24 
L 468.97 718.48 
L 461.63 718.48 
z
" clip-path="url(#p3fa9ed6ce3)" style="fill: #008000"/>
</g>
<g id="patch_40">
<path d="M 470.81 732.24 
L 478.15 732.24 
L 478.15 695.5 
L 470.81 695.5 
z
" clip-path="url(#p3fa9ed6ce3)" style="fill: #008000"/>
</g>
<g id="patch_41">
<path d="M 479.99 732.24 
L 487.33 732.24 
L 487.33 686.42 
L 479.99 686.42 
z
" clip-path="url(#p3fa9ed6ce3)" style="fill: #bfbf00"/>
</g>
<g id="patch_42">
<path d="M 489.17 732.24 
L 496.51 732.24 
L 496.51 690.96 
L 489.17 690.96 
z
" clip-path="url(#p3fa9ed6ce3)" style="fill: #bfbf00"/>
</g>
<g id="patch_43">
<path d="M 498.35 732.24 
L 505.69 732.24 
L 505.69 658.9 
L 498.35 658.9 
z
" clip-path="url(#p3fa9ed6ce3)" style="fill: #ff0000"/>
</g>
<g id="patch_44">
<path d="M 507.53 732.24 
L 514.87 732.24 
L 514.87 690.96 
L 507.53 690.96 
z
" clip-path="url(#p3fa9ed6ce3)" style="fill: #bfbf00"/>
</g>
<g id="patch_45">
<path d="M 516.71 732.24 
L 524.05 732.24 
L 524.05 681.74 
L 516.71 681.74 
z
" clip-path="url(#p3fa9ed6ce3)" style="fill: #bfbf00"/>
</g>
<g id="patch_46">
<path d="M 525.89 732.24 
L 533.23 732.24 
L 533.23 686.42 
L 525.89 686.42 
z
" clip-path="url(#p3fa9ed6ce3)" style="fill: #bfbf00"/>
</g>
<g id="patch_47">
<path d="M 535.07 732.24 
L 542.41 732.24 
L 542.41 700.18 
L 535.07 700.18 
z
" clip-path="url(#p3fa9ed6ce3)" style="fill: #008000"/>
</g>
<g id="patch_48">
<path d="M 544.25 732.24 
L 551.59 732.24 
L 551.59 700.18 
L 544.25 700.18 
z
" clip-path="url(#p3fa9ed6ce3)" style="fill: #008000"/>
</g>
<g id="patch_49">
<path d="M 553.43 732.24 
L 560.77 732.24 
L 560.77 681.74 
L 553.43 681.74 
z
" clip-path="url(#p3fa9ed6ce3)" style="fill: #bfbf00"/>
</g>
<g id="patch_50">
<path d="M 562.61 732.24 
L 569.95 732.24 
L 569.95 690.96 
L 562.61 690.96 
z
" clip-path="url(#p3fa9ed6ce3)" style="fill: #bfbf00"/>
</g>
<g id="patch_51">
<path d="M 571.79 732.24 
L 579.13 732.24 
L 579.13 681.74 
L 571.79 681.74 
z
" clip-path="url(#p3fa9ed6ce3)" style="fill: #bfbf00"/>
</g>
<g id="patch_52">
<path d="M 580.97 732.24 
L 588.31 732.24 
L 588.31 681.74 
L 580.97 681.74 
z
" clip-path="url(#p3fa9ed6ce3)" style="fill: #bfbf00"/>
</g>
<g id="patch_53">
<path d="M 590.15 732.24 
L 597.49 732.24 
L 597.49 677.2 
L 590.15 677.2 
z
" clip-path="url(#p3fa9ed6ce3)" style="fill: #bfbf00"/>
</g>
<g id="patch_54">
<path d="M 599.33 732.24 
L 606.67 732.24 
L 606.67 690.96 
L 599.33 690.96 
z
" clip-path="url(#p3fa9ed6ce3)" style="fill: #bfbf00"/>
</g>
<g id="patch_55">
<path d="M 608.51 732.24 
L 615.85 732.24 
L 615.85 695.5 
L 608.51 695.5 
z
" clip-path="url(#p3fa9ed6ce3)" style="fill: #008000"/>
</g>
<g id="patch_56">
<path d="M 617.69 732.24 
L 625.03 732.24 
L 625.03 704.72 
L 617.69 704.72 
z
" clip-path="url(#p3fa9ed6ce3)" style="fill: #008000"/>
</g>
<g id="patch_57">
<path d="M 626.87 732.24 
L 634.21 732.24 
L 634.21 686.42 
L 626.87 686.42 
z
" clip-path="url(#p3fa9ed6ce3)" style="fill: #bfbf00"/>
</g>
<g id="patch_58">
<path d="M 636.05 732.24 
L 643.39 732.24 
L 643.39 690.96 
L 636.05 690.96 
z
" clip-path="url(#p3fa9ed6ce3)" style="fill: #bfbf00"/>
</g>
<g id="patch_59">
<path d="M 645.23 732.24 
L 652.57 732.24 
L 652.57 690.96 
L 645.23 690.96 
z
" clip-path="url(#p3fa9ed6ce3)" style="fill: #bfbf00"/>
</g>
<g id="patch_60">
<path d="M 654.41 732.24 
L 661.75 732.24 
L 661.75 686.42 
L 654.41 686.42 
z
" clip-path="url(#p3fa9ed6ce3)" style="fill: #bfbf00"/>
</g>
<g id="matplotlib.axis_7">
<g id="xtick_15">
<g id="line2d_211">
<g>
<use href="#m82f586ba75" x="180.72" y="732.24" style="stroke: #000000; stroke-width: 0.8"/>
</g>
</g>
<g id="text_37">
<text style="font-size: 14.4px; font-family: 'DejaVu Sans', 'Liberation Sans', sans-serif; text-anchor: middle" x="180.72" y="746.68" transform="rotate(-0 180.72 746.68175)">27</text>
</g>
</g>
<g id="xtick_16">
<g id="line2d_212">
<g>
<use href="#m82f586ba75" x="254.16" y="732.24" style="stroke: #000000; stroke-width: 0.8"/>
</g>
</g>
<g id="text_38">
<text style="font-size: 14.4px; font-family: 'DejaVu Sans', 'Liberation Sans', sans-serif; text-anchor: middle" x="254.16" y="746.68" transform="rotate(-0 254.16 746.68175)">28</text>
</g>
</g>
<g id="xtick_17">
<g id="line2d_213">
<g>
<use href="#m82f586ba75" x="327.6" y="732.24" style="stroke: #000000; stroke-width: 0.8"/>
</g>
</g>
<g id="text_39">
<text style="font-size: 14.4px; font-family: 'DejaVu Sans', 'Liberation Sans', sans-serif; text-anchor: middle" x="327.6" y="746.68" transform="rotate(-0 327.6 746.68175)">29</text>
</g>
</g>
<g id="xtick_18">
<g id="line2d_214">
<g>
<use href="#m82f586ba75" x="401.04" y="732.24" style="stroke: #000000; stroke-width: 0.8"/>
</g>
</g>
<g id="text_40">
<text style="font-size: 14.4px; font-family: 'DejaVu Sans', 'Liberation Sans', sans-serif; text-anchor: middle" x="401.04" y="746.68" transform="rotate(-0 401.04 746.68175)">30</text>
</g>
</g>
<g id="xtick_19">
<g id="line2d_215">
<g>
<use href="#m82f586ba75" x="474.48" y="732.24" style="stroke: #000000; stroke-width: 0.8"/>
</g>
</g>
<g id="text_41">
<text style="font-size: 14.4px; font-family: 'DejaVu Sans', 'Liberation Sans', sans-serif; text-anchor: middle" x="474.48" y="746.68" transform="rotate(-0 474.48 746.68175)">31</text>
</g>
</g>
<g id="xtick_20">
<g id="line2d_216">
<g>
<use href="#m82f586ba75" x="547.92" y="732.24" style="stroke: #000000; stroke-width: 0.8"/>
</g>
</g>
<g id="text_42">
<text style="font-size: 14.4px; font-family: 'DejaVu Sans', 'Liberation Sans', sans-serif; text-anchor: middle" x="547.92" y="746.68" transform="rotate(-0 547.92 746.68175)">01</text>
</g>
</g>
<g id="xtick_21">
<g id="line2d_217">
<g>
<use href="#m82f586ba75" x="621.36" y="732.24" style="stroke: #000000; stroke-width: 0.8"/>
</g>
</g>
<g id="text_43">
<text style="font-size: 14.4px; font-family: 'DejaVu Sans', 'Liberation Sans', sans-serif; text-anchor: middle" x="621.36" y="746.68" transform="rotate(-0 621.36 746.68175)">02</text>
</g>
</g>
</g>
<g id="matplotlib.axis_8">
<g id="ytick_118">
<g id="line2d_218">
<g>
<use href="#m0bb405004b" x="144" y="732.24" style="stroke: #000000; stroke-width: 0.8"/>
</g>
</g>
<g id="line2d_219">
<g>
<use href="#mb68e5e41f8" x="658.08" y="732.24" style="stroke: #000000; stroke-width: 0.8"/>
</g>
</g>
<g id="text_44">
<text style="font-size: 14.4px; font-family: 'DejaVu Sans', 'Liberation Sans', sans-serif; text-anchor: end" x="140.5" y="737.71" transform="rotate(-0 140.5 737.710875)">0</text>
</g>
</g>
<g id="ytick_119">
<g id="line2d_220">
<g>
<use href="#m0bb405004b" x="144" y="704.72" style="stroke: #000000; stroke-width: 0.8"/>
</g>
</g>
<g id="line2d_221">
<g>
<use href="#mb68e5e41f8" x="658.08" y="704.72" style="stroke: #000000; stroke-width: 0.8"/>
</g>
</g>
<g id="text_45">
<text style="font-size: 14.4px; font-family: 'DejaVu Sans', 'Liberation Sans', sans-serif; text-anchor: end" x="140.5" y="710.19" transform="rotate(-0 140.5 710.190875)">2</text>
</g>
</g>
<g id="ytick_120">
<g id="line2d_222">
<g>
<use href="#m0bb405004b" x="144" y="677.2" style="stroke: #000000; stroke-width: 0.8"/>
</g>
</g>
<g id="line2d_223">
<g>
<use href="#mb68e5e41f8" x="658.08" y="677.2" style="stroke: #000000; stroke-width: 0.8"/>
</g>
</g>
<g id="text_46">
<text style="font-size: 14.4px; font-family: 'DejaVu Sans', 'Liberation Sans', sans-serif; text-anchor: end" x="140.5" y="682.67" transform="rotate(-0 140.5 682.670875)">4</text>
</g>
</g>
<g id="ytick_121">
<g id="line2d_224">
<g>
<use href="#m0bb405004b" x="144" y="649.68" style="stroke: #000000; stroke-width: 0.8"/>
</g>
</g>
<g id="line2d_225">
<g>
<use href="#mb68e5e41f8" x="658.08" y="649.68" style="stroke: #000000; stroke-width: 0.8"/>
</g>
</g>
<g id="text_47">
<text style="font-size: 14.4px; font-family: 'DejaVu Sans', 'Liberation Sans', sans-serif; text-anchor: end" x="140.5" y="655.15" transform="rotate(-0 140.5 655.150875)">6</text>
</g>
</g>
<g id="ytick_122">
<g id="line2d_226">
<g>
<use href="#m0bb405004b" x="144" y="622.16" style="stroke: #000000; stroke-width: 0.8"/>
</g>
</g>
<g id="line2d_227">
<g>
<use href="#mb68e5e41f8" x="658.08" y="622.16" style="stroke: #000000; stroke-width: 0.8"/>
</g>
</g>
<g id="text_48">
<text style="font-size: 14.4px; font-family: 'DejaVu Sans', 'Liberation Sans', sans-serif; text-anchor: end" x="140.5" y="627.63" transform="rotate(-0 140.5 627.630875)">8</text>
</g>
</g>
</g>
<g id="patch_61">
<path d="M 144 732.24 
L 144 608.4 
" style="fill: none; stroke: #000000; stroke-width: 1.5; stroke-linejoin: miter; stroke-linecap: square"/>
</g>
<g id="patch_62">
<path d="M 658.08 732.24 
L 658.08 608.4 
" style="fill: none; stroke: #000000; stroke-width: 1.5; stroke-linejoin: miter; stroke-linecap: square"/>
</g>
<g id="patch_63">
<path d="M 144 732.24 
L 658.08 732.24 
" style="fill: none; stroke: #000000; stroke-width: 1.5; stroke-linejoin: miter; stroke-linecap: square"/>
</g>
<g id="patch_64">
<path d="M 144 608.4 
L 658.08 608.4 
" style="fill: none; stroke: #000000; stroke-width: 1.5; stroke-linejoin: miter; stroke-linecap: square"/>
</g>
<g id="legend_1">
<g id="patch_65">
<path d="M 591.43 660.43 
L 651.08 660.43 
Q 653.08 660.43 653.08 658.43 
L 653.08 615.4 
Q 653.08 613.4 651.08 613.4 
L 591.43 613.4 
Q 589.43 613.4 589.43 615.4 
L 589.43 658.43 
Q 589.43 660.43 591.43 660.43 
z
" style="fill: #ffffff; opacity: 0.8; stroke: #cccccc; stroke-linejoin: miter"/>
</g>
<g id="patch_66">
<path d="M 593.43 625 
L 613.43 625 
L 613.43 618 
L 593.43 618 
z
" style="fill: #008000; stroke: #008000; stroke-linejoin: miter"/>
</g>
<g id="text_49">
<text style="font-size: 10px; font-family: 'DejaVu Sans', 'Liberation Sans', sans-serif; text-anchor: start" x="621.43" y="625.00" transform="rotate(-0 621.431562 624.998438)">Kp&lt;3</text>
</g>
<g id="patch_67">
<path d="M 593.43 639.68 
L 613.43 639.68 
L 613.43 632.68 
L 593.43 632.68 
z
" style="fill: #bfbf00; stroke: #bfbf00; stroke-linejoin: miter"/>
</g>
<g id="text_50">
<text style="font-size: 10px; font-family: 'DejaVu Sans', 'Liberation Sans', sans-serif; text-anchor: start" x="621.43" y="639.68" transform="rotate(-0 621.431562 639.676563)">Kp&lt;5</text>
</g>
<g id="patch_68">
<path d="M 593.43 654.35 
L 613.43 654.35 
L 613.43 647.35 
L 593.43 647.35 
z
" style="fill: #ff0000; stroke: #ff0000; stroke-linejoin: miter"/>
</g>
<g id="text_51">
<text style="font-size: 10px; font-family: 'DejaVu Sans', 'Liberation Sans', sans-serif; text-anchor: start" x="621.43" y="654.35" transform="rotate(-0 621.431562 654.354687)">Kp&gt;5</text>
</g>
</g>
</g>
<g id="axes_5">
<g id="patch_69">
<path d="M 867.6 327.31 
L 1296 327.31 
L 1296 79.2 
L 867.6 79.2 
z
" style="fill: #ffffff"/>
</g>
<g id="PH_bz"><g transform="scale(0.72)"><path clip-path="url(#cR1)" d="M1205 282l.3-6.3l.3 12.3l.3-3.7l.3 17.6l.3 5l.3-22.2l.3 7l.3-22.8l.3-5.6l.3 5.7l.2-4.6l.3 17.5l.3-26.8l.3 .3l.3 4.8l.3 7.1l.3-3.8l.3 26.4l.3-19.1l.3-13.5l.3 1.3l.3 17.4l.3 9.4l.3 7.5l.3 6.8l.3-18.4l.3 7.7l.3 2.4l.3-2.6l.3 2.1l.3-6.8l.2 11.5l.3 5.4l.3 2.6l.3-11.6l.3 14.5l.3-6.3l.3-24.1l.3 5.2l.3 .4l.3-1.3l.3-14.5l.3-7.6l.3 13.2l.3 3.8l.3 12.1l.3 3.9l.3 .5l.3-11.4l.3 2l.3-12l.3-7.7l.3 14.6l.2-5.7l.3-.3l.3-4.8l.3 5.6l.3-3.3l.3 5.2l.3-.7l.3 9.4l.3-1.6l.3-6.7l.3 5.1l.3 3.5l.3 5.8l.3 9.4l.3-18.5l.3-5.3l.3 1.8l.3-1.9l.3 2.3l.3 4.5l.3 6.7l.2-7.5l.3-16.5l.3 16l.3 6.8l.3 3.8l.3-3.4l.3-7.4l.3 13.1l.3-9.8l.3-5.9l.3 11.3l.3-1.6l.3-2.6l.3-2.1l.3-9.3l.3 4.7l.3-22.7l.3 7.1l.3-8.6l.3 5.9l.3 10.7l.2 6.9l.3 7.4l.3-4.6l.3-15l.3-2.1l.3-6.1l.3 .7l.3 20.8l.3 2.6l.3 0l.3 1.7l.3-5.7l.3-7.8l.3 .9l.3 7.6l.3 16.5l.3-19.7l.3 8.6l.3 15.4l.3-12.3l.3-4.4l.2 4.1l.3 7l.3 5.4l.3-8.8l.3 16.7l.3-.4l.3-4l.3-7l.3-15.4l.3-7.2l.3-6.2l.3 10.5l.3-1.1l.3-15l.3 11.8l.3-16l.3-10.7l.3 16.6l.3-4.9l.3 22.3l.3-2.7l.2-5.5l.3-1.4l.3-17.7l.3 7.5l.3 2.9l.3 12l.3 1.5l.3-5l.3 9.1l.3-5.8l.3 3.6l.3 4l.3-5.2l.3-13.2l.3 13.7l.3 8.4l.3-13.2l.3-6.1l.3-5.8l.3 5.9l.3-2.1l.3 12.3l.2 2.1l.3-11.5l.3 8.4l.3-5.9l.3 4.2l.3 4.9l.3-2.1l.3-8.4l.3 4.7l.3 9.6l.3-1l.3-1.6l.3-5.9l.3 2.6l.3 .5l.3 6.8l.3-6.4l.3-.4l.3-6.9l.3 1.2l.3-9.5l.2 3.6l.3 11.9l.3 3.9l.3-10.4l.3 5.1l.3 2.8l.3 12.4l.3 4.6l.3-.6l.3-17.3l.3 .7l.3 7.8l.3 4.2l.3-.5l.3-6.8l.3 14.5l.3 14.5l.3-12.6l.3-7.6l.3 15.7l.3-25.4l.2 9.2l.3 3.8l.3-6.1l.3 1.2l.3-6.9l.3 4l.3 1.9l.3 7.4l.3-4.4l.3-11.3l.3 6.3l.3-.7l.3 8.4l.3 17l.3-14.8l.3 2.1l.3 5l.3-.6l.3-7.1l.3 11.3l.3-8.5l.2-2.7l.3-.2l.3-4.9l.3-8.1l.3-5.1l.3 14.4l.3-14.4l.3 2.9l.3-11.4l.3-1.9l.3 1.9l.3 17.7l.3-1.9l.3 10.5l.3 8.2l.3-13.7l.3-2.6l.3 11.5l.3-9.2l.3 1.4l.3-1.9l.2-5.9l.3 .8l.3 3.1l.3-2l.3-8.3l.3-4.8l.3 11.9l.3-14.7l.3 13.6l.3-15.9l.3-4.7l.3 6.6l.3 3l.3 5.5l.3 13.6l.3-20.8l.3 9.6l.3 17.1l.3 2.2l.3-.2l.3-1.3l.3-11.6l.2-2.5l.3 10.8l.3 7l.3-6M1287.1 289l.3-15.5l.3-13.4l.3 14.1l.3 10.8l.3 19.8l.3-21.4l.3-.1l.3-19.1l.2 32l.3-17.5l.3-15.9l.3-12.1l.3 18.5l.3 5.6l.3-21.7l.3 9.9l.3 17l.3-7.3l.3 5.6l.3 7.5l.3 5l.3-5.7l.3-4.5l.3-10.2l.3 8.7l.3 9.2l.3 2.4l.3-13.9l.3-6.4l.2-.7l.3 4.4l.3 3.8l.3 6.5l.3-20.3l.3 2.9l.3 10.4l.3-14.1l.3 8.4l.3-5.9l.3-10.5l.3 21.3l.3 4.8l.3-6.5l.3-3l.3-5.2l.3 17.1l.3 12.2l.3-12.5l.3-23.8l.3 19.9l.2-3.8l.3 7.1l.3-3.9l.3 10.2l.3-4.7l.3 4.2l.3-23l.3 11.8l.3-3.2l.3 2.2l.3 4.9l.3-12.3l.3 14.5l.3-15.9l.3 11.2l.3 13.8l.3-14.6l.3 19.4l.3-.5l.3-6.4l.3 16.9l.2-10.1l.3 10.2l.3-12.9l.3-21.3l.3 11.8l.3-2.3l.3-4.1l.3-11.8l.3-11.1l.3 9.7l.3 .7l.3 27.9l.3 1.1l.3-6.6l.3-2.2l.3 4.7l.3-10.2l.3 9l.3-16l.3 8.2l.3 2.4l.3-.5l.2 0l.3-5.2l.3-5l.3-3.8l.3-4.9l.3 10.5l.3-9.1l.3 .1l.3 13.9l.3 8.8l.3-14.7l.3 11.8l.3-19.9l.3 9.6l.3 11.1l.3-18.7l.3-3.6l.3 26.8l.3 .3l.3-19.3l.3 13.4l.2-10.7l.3-.8l.3-2.9l.3 .9l.3-5.8l.3-3l.3-.3l.3 8.5l.3-.4l.3 10.3l.3-16.5l.3-6.9l.3 2.3l.3 10.3l.3 23.5l.3-10l.3-21l.3 13.1l.3-8.7l.3 27.7l.3-5.4l.2-2l.3 5.4l.3-14.3l.3-7.6l.3 9.6l.3 4.5l.3 13l.3 9.7l.3 0l.3-4.9l.3-7.8l.3 .4l.3-29.1l.3 11.1l.3 17.3l.3-9.6l.3 16.2l.3 0l.3-19.6l.3 5.7l.3-5.7l.2-2.7l.3 12.4l.3 9.2l.3-1.1l.3 .2l.3-18.4l.3 7l.3 .1l.3-.6l.3 9.7l.3 6.7l.3-9.3l.3-2.3l.3-2.3l.3 9.5l.3-31.9l.3-3.4l.3 10.9l.3 7.7l.3-6.6l.3 27.6l.3-4.7l.2 8l.3-9.4l.3-13.7l.3-11.5l.3 6.6l.3-5.8l.3-14.9l.3 7.4l.3-13.8l.3-2.2l.3 0l.3 0l.3 6.1l.3 8.6l.3 18.5l.3 2.2l.3-2l.3-18.8l.3 27.7l.3-12l.3-9.4l.2 8.3l.3 7.2l.3-8.9l.3-10.5l.3-2.5l.3 4.1l.3 6.3l.3 .2l.3-8.7l.3-2.6l.3-2.6l.3 10.5l.3 6.5l.3-16.6l.3 11.4l.3-1.8l.3 21.7l.3-19.5l.3 7.6l.3-22l.3-5.3l.2 16.4l.3 13.2l.3-20.4l.3 8.5l.3 6l.3-3.4l.3 .4l.3 10.6l.3-12.4l.3 18.5l.3 2.4l.3-14l.3-6.6l.3-9.1l.3-11.9l.3 5.2l.3 14.4l.3-18.6l.3 14.4l.3 12.4l.3-4.7l.2 1.1l.3 10.5l.3 7.6l.3-10.6l.3-6.5l.3-10.1l.3 9.8l.3-1.8l.3-12l.3 5.1l.3 2.5l.3 6.2l.3 4.2l.3 9.1l.3-36.2l.3 13.4l.3-2.5l.3-7.8l.3 3.9l.3-5.9l.3 .9l.2 12l.3-10.5l.3 14.1l.3-1l.3 11.4l.3-8.8l.3 7.4l.3 10.1l.3-2.4l.3 .9l.3-1.1l.3 14.1l.3-7l.3 9.9M1372.7 280.8l.3-.3l.3 5.5l.3-5.8l.3 3.1l.3-6l.3-10.8l.3 1.2l.3 5.1l.3-.9l.3-2.6l.3-.4l.3 6.4l.3-2.6l.3-1.3l.3-3l.2-1.2l.3 2.4l.3-10.4l.3 3.1l.3 6.1l.3-5.2l.3-4.7l.3-4.3l.3-2.7l.3 7.1l.3-.5l.3-.1l.3-3.3l.3 1.9l.3 2.3l.3 2.5l.3-1.7l.3 7.1l.3 5.7l.3-9.5l.3-.7l.2 .5l.3-6l.3 2.4l.3-2.2l.3 5.2l.3 14.7l.3 3.5l.3 4.3l.3-.2l.3-1l.3-4.4l.3 .2l.3-4l.3-8.4l.3-1.9l.3-2.9l.3-10.7l.3-1.2l.3 2.2l.3 2.7l.3-1.1l.2 3.4l.3 .2l.3-2.7l.3 1.3l.3 3l.3-.9l.3-2.9l.3 2.5l.3-.4l.3-.2l.3-.7l.3 2.1l.3 2.3l.3 0l.3 2.8l.3 .3l.3-3.1l.3 .7l.3-.4l.3-2.3l.3 1.5l.2-.4l.3-4l.3 4.3l.3-.5l.3-1.9l.3 .1l.3 2.2l.3 2.7l.3 3.5l.3-1.3l.3 1.9l.3-.5l.3 1.3l.3-6.5l.3 .8l.3 .6l.3 1.3l.3 2.1l.3 4.4l.3 .8l.3-.8l.3 3.7l.2 2.1l.3-2.5l.3 7l.3-.9l.3-.2l.3-1.5l.3 .1l.3 5.9l.3-6.2l.3 5.9l.3 2l.3-1.3l.3-.4l.3-1.2l.3-3.7l.3 3.8l.3 0l.3 1.1l.3 3.8l.3 1.1l.3 .7l.2 2.1l.3 4.3l.3 3.6l.3 2.9l.3 0l.3 .3l.3-1.6l.3-1.3l.3-1.5l.3 .8l.3-.6l.3 .3l.3-3.1l.3-.8l.3 3.9l.3-3l.3-2.9l.3-1.3l.3-1.4l.3 2.3l.3-.9l.2 2.6l.3-1.2l.3 0l.3 .5l.3-4.2l.3 4.9l.3-2.9l.3-6.8l.3-4.1l.3 8l.3-1.8l.3-3l.3 .4l.3-2.9l.3 2.4l.3-3.1l.3-1.2l.3-1.1l.3-7.2l.3 3.6l.3-.4l.2 3l.3 4.3l.3-.9l.3 .1l.3 .2l.3-2.4l.3 4l.3 1l.3 3.8l.3 4.7l.3 0l.3 1.7l.3 .6l.3-1.2l.3 1.2l.3-1.4l.3-3.1l.3-2l.3 0l.3 .3l.3-2.9l.2-3.7l.3-3.3l.3 3.5l.3-2.9l.3-2.5l.3 1.4l.3-2.9l.3-7.1l.3-2.3l.3-.5l.3-.8l.3 1.5l.3-1l.3 1l.3 1.2l.3-2.7l.3 1.5l.3 1l.3 .8l.3 1.3l.3 .7l.3 1.6l.2 0l.3-1.4l.3 5.3l.3-.6l.3-.4l.3 2.6l.3 2.7l.3 1l.3 1.5l.3 3.2l.3-3.8l.3 .8l.3-1.7l.3 5.3l.3-.5l.3 .8l.3 .7l.3 1.3l.3 0l.3 4l.3-4.2l.2-1.8l.3 2.6l.3-5l.3 3.5l.3 0l.3 .1l.3-2.8l.3 4.6l.3-3.8l.3 .8l.3 7.5l.3-3.3l.3-3.5l.3-.4l.3 2.1l.3-3.6l.3-2.3l.3-1.2l.3 0l.3-6l.3-.7l.2-2.5l.3 1.1l.3 1.1l.3-1.9l.3-3.1l.3 .1l.3 .4l.3 .9l.3-.4l.3-1.7l.3 .5l.3 3.7l.3 3.1l.3 2.3l.3 .3l.3 1.8l.3 1.2l.3 3.2l.3 4.6l.3-1.2l.3 3l.2 .5l.3-3.4l.3-1.6l.3 4.5l.3-1.7l.3 2.6l.3 .2l.3-1.9l.3-.4l.3 .3M1457.5 289.1l.3 1.7l.3-2.3l.3 .3l.3 .3l.2-.9l.3 1.4l.3 1.4l.3-1.1l.3 1.6l.3-1.1l.3 2.2l.3 .1l.3 0l.3 0l.3-2.6l.3 .5l.3-.1l.3 .1l.3-.6l.3 1.7l.3-1.7l.3 1.9l.3-2.4l.3 .4l.3-.9l.2 1l.3 .4l.3-2.8l.3-.7l.3-3.1l.3 1.3l.3-2.6l.3-2.7l.3-1.6l.3-3.7l.3-1.8l.3-1l.3 1.5l.3-1.9l.3 3.1l.3-1.4l.3 1.4l.3-4.6l.3 .1l.3 1.2l.3 1.3l.2-.9l.3-5.4l.3-1.3l.3 1.2l.3 .5l.3 .3l.3-.3l.3-1.4l.3 .2l.3 3.4l.3-2.1l.3 3.9l.3-.7l.3-.5l.3 .7l.3 1.9l.3-1.9l.3-1.4l.3-.8l.3 5.9l.3 1.2l.2-1.8l.3 1.7l.3 3.6l.3-4.7l.3 1l.3 1.2l.3 .1l.3 .1l.3-3.2l.3-1.2l.3-6.7l.3 6.5l.3 3.9l.3 1.8l.3 2.3l.3 1.4l.3 2.9l.3 2.4l.3 1.2l.3-4.2l.3 1.5l.2-.6l.3-3l.3 1.6l.3 6.1l.3 1.8l.3-.9l.3 2.5l.3-1l.3-5l.3-3.5l.3 .5l.3 1.3l.3 .4l.3-2.3l.3 1.4l.3-5.9l.3-1.3l.3 1.5l.3-3.2l.3 1.7l.3-1.5l.3 2.2l.2-1.4l.3-2.4l.3-1.2l.3-1.1l.3 1.9l.3 .7l.3-4.7l.3-3.5l.3 2.5l.3-2l.3-.6l.3-1.5l.3-1.7l.3 2.2l.3 3.5l.3 1.6l.3 3.5l.3 4l.3 1.6l.3 .3l.3 2.8l.2 .9l.3-1.1l.3 .3l.3 1.1l.3-1.8l.3 .3l.3 .6l.3 4.1l.3-.6l.3 .9l.3 2.9l.3-10.4l.3 4.9l.3-9l.3 3.2l.3-5.4l.3 3.7l.3 6.2l.3-14.8l.3 5.4l.3 3.7l.2-4.5l.3 3.8l.3 5.2l.3-4l.3-4.5l.3 10.2l.3-6l.3-2.2l.3 5l.3 2.5l.3-3.6l.3-.3l.3-4.6l.3 5.2l.3-6.3l.3-.7l.3 4.6l.3 2.2l.3 6.9l.3-2.3l.3-6.2l.2 .3l.3 6.5l.3 10.3l.3-8.2l.3 5.7l.3-.2l.3-.3l.3 2.7l.3-2l.3 .2l.3-.6l.3-.8l.3-2.9l.3-1.5l.3 1.7l.3 8.5l.3-8.6l.3 8l.3 1.9l.3-2.9l.3 6.7l.2 3.9l.3 2.3l.3-3.6l.3-4.9l.3 3.7l.3 .4l.3 4.7l.3-3.6l.3 .1l.3 3.3l.3 8.8l.3 .1l.3 1.6l.3-11l.3 .6l.3-8.6l.3-.4l.3 4.2l.3-2.1l.3 8.6l.3-.4l.3-5.7l.2-3.1l.3 1.2l.3 3.4l.3 4.6l.3-.5l.3-14.3l.3-10.5l.3-5l.3-8.6l.3-2.1l.3 .1l.3-5.8l.3-8.1l.3 6l.3 .7l.3-5.4l.3 0l.3 5.4l.3 1.1l.3-4.8l.3 3.5l.2-1.1l.3-2.3l.3 2.1l.3 .1l.3 2.4l.3-6.8l.3 3.6l.3 2.6l.3 8.4l.3 1l.3-2.3l.3 6.2l.3 7.1l.3-.7l.3 1.2l.3 3.4l.3 1.6l.3-2.4l.3 0l.3 2.3l.3-.9l.2-2.4l.3 4.4l.3 .5l.3-6.5l.3 8.8l.3-1.7l.3-.8l.3-5.1l.3 2l.3-5.7l.3 3.2l.3-6.1l.3 2.8M1541 275.5l.3 6l.3-1.9l.3 .3l.3-4.2l.3 4.7l.3-1.5l.3-2.8l.3 4.8l.3-3.9l.3 4.9l.3-5.3l.3 1.3l.3 7.7l.3-6.6l.3-1.6l.3 3.3l.3 7.1l.2 3.9l.3-7.8l.3-5.4l.3-5l.3 .8l.3 1.6l.3-7.2l.3 4.7l.3 0l.3-5.1l.3 4.4l.3 1.8l.3-7.1l.3 .2l.3 4.6l.3 .7l.3 .3l.3-7.2l.3-9.4l.3 5.5l.3-10.4l.3 4.2l.2-9.8l.3 7.7l.3-3.3l.3 6.5l.3-2.3l.3 1.6l.3 .6l.3 .1l.3-1.4l.3 16.6l.3-3.4l.3 4.8l.3 12.7l.3-2.1l.3 3.8l.3-.1l.3 .3l.3 37.5l.3-30.5l.3 7.9l.3-22.5l.2 2.5l.3 3.6l.3-1.7l.3-1l.3-10.9l.3 21.6l.3-25.8l.3 5.4l.3 5.4l.3-1.3l.3 7.8l.3-.3l.3 15.9l.3-1.1l.3-18.5l.3 7.9l.3 14.1l.3-.7l.3-3.9l.3-.5l.3 13.2l.2 10l.3-5.6l.3-11.2l.3 3.3l.3 5.7l.3 11.7l.3-14.9l.3 .1l.3 3.9l.3 7l.3-27l.3 3l.3 10.2l.3-9.1l.3 9.6l.3-9.4l.3 4.5l.3-1.8l.3-1.6l.3 4.5l.3 .2l.2 5.5l.3 17.3l.3-10.5l.3-7.1l.3 10.8l.3 6.2l.3 3.8l.3 2.9l.3-5.7l.3 4l.3-2.1l.3-4.7l.3-.5l.3-25.4l.3 1l.3 10.8l.3-15.4l.3 7.7l.3 10.6l.3-2.9l.3 14.4l.3-24.5l.2 8.3l.3 9.4l.3-17.8l.3 2.7l.3 6.7l.3-1l.3-10.9l.3-12.4l.3 7.6l.3 13.7l.3-.7l.3-1.9l.3 26.8l.3-19.6l.3-7.8l.3 7.3l.3-7.7l.3-.2l.3 2.3l.3 6.2l.3 2.7l.2-4.6l.3 .9l.3 4l.3-17.8l.3 17.3l.3 1.9l.3-37.1l.3 19.4l.3 42.6l.3 1.4l.3-27.2l.3 4.2l.3-14l.3-45.1l.3 41.9l.3 38l.3 8.2l.3-4l.3 1.9l.3-35l.3 21l.2 22.6l.3-30.1l.3 24.9l.3-37.8l.3 19.7l.3 29.4l.3 12.5l.3-47.9l.3 6.3l.3-27.6l.3 32.6l.3 71.3l.3-161.1l.3 39l.3 7.9l.3-20.5l.3-54.4l.3 57.8l.3-53.4l.3 67.8l.3-113.7l.2 7.2l.3 91.8l.3 19.9l.3-63.1l.3 82.9l.3-68.4l.3 25.8l.3 44.7l.3-135.6l.3 76.6l.3-3.2l.3-17.1l.3-48.6l.3 38.4l.3-2.9l.3 .5l.3 34.6l.3-22.3l.3 55.1l.3-69.9l.3-6l.2 35.7l.3 15.6l.3 33.6l.3 15.9l.3-31.3l.3-16.8l.3 2.5l.3 25.2l.3 .2l.3-36.3l.3-63.4l.3 78.2l.3-15l.3-43.2l.3 9.5l.3-63.4l.3-18l.3 60.3l.3-2l.3-80l.3 25.7l.3 50l.2-52.8l.3 69.2l.3 7.3l.3-67.5l.3 97.4l.3 12.6l.3-39.4l.3-30.5l.3 73.4l.3-7.4l.3 55.7l.3-13.3l.3 5.2l.3-2.3l.3-46l.3 34.1l.3-23.2l.3 32.8l.3-29.8l.3 117l.3-90.1l.2 35.3l.3 6.1l.3-5.1l.3-15l.3 1.7l.3 31.1l.3-45.5l.3 109.3l.3-138.1l.3 60.5l.3-26l.3-28.2l.3-5.6l.3-7.2l.3 37l.3-25.2l.3-23.2l.3 15.2l.3-50.7l.3 51.6l.3-64.5l.2 90.4l.3 25l.3-42.1l.3-15.2l.3-22.7l.3 8.6l.3 9.7l.3-35.4l.3 26.8l.3 23.6l.3 31.7l.3-9.8l.3 5.6l.3-16l.3-42.3l.3-15.8l.3 31.7l.3 46.3l.3-22.4l.3-18.3l.3-33.7l.2 61.8l.3-15.4l.3 15.2l.3-20.3l.3-4.6l.3 24.5l.3 17.2l.3-4.1l.3-9.3l.3 3.8l.3 8.7l.3-10.1l.3 4.3l.3-2.9l.3 1.5l.3-35l.3-13l.3 15.7l.3 25.9l.3 55.3l.3-41.1l.2 22.2l.3-58.8l.3-1.4l.3 8l.3-47l.3-4.1l.3 13.2l.3 22.1l.3 4.9l.3 21.9l.3 65.4l.3-42.8l.3-19.7l.3 28.4l.3-15.1l.3-43.4l.3 50l.3-5.2l.3 41.5l.3-54.1l.3-13.9l.3 37.5l.2-3.9l.3-37.3l.3-9.2l.3 36.8l.3-4.6l.3-6.7l.3 2.1l.3 9.7l.3-43.8l.3 45.8l.3 17.3l.3 11.8l.3 21.5l.3-9l.3 3.8l.3 .8l.3-37.1l.3 32.4l.3 10.9l.3 .3l.3 .3l.2 .3l.3-25.1l.3 24.5l.3-11.1l.3-4.7l.3-13.5l.3 22.1l.3-17.2l.3-18.7l.3-1.4l.3 16.2l.3-32.6l.3 4.2l.3-15.8l.3-7.9l.3 28.6l.3 10.1l.3 25.5l.3-11.5l.3 23.8l.3-42.4l.2 9.2l.3-53.5l.3 18.3l.3-16.4l.3-25l.3-12.6l.3-13.8l.3 26.5l.3-46.5l.3-17.8l.3 73.1l.3-19.3l.3-7.6l.3 24.4l.3-31.5l.3 11.6l.3-24.7l.3-30.3l.3 17.3l.3 37.8l.3-52.3l.2 40.4l.3 48.4l.3-32.4l.3 26l.3 24.5l.3-11.8l.3 2.2l.3-20.3l.3-21.6l.3 2.9l.3-4.7l.3-7.2l.3 .4l.3 20.6l.3-8.5l.3-.6l.3-.4l.3 3.8l.3-6.3l.3-1.2l.3-3.5l.2 .5l.3 3l.3 6.8l.3 11.2l.3 .5l.3 4.4l.3-5.6l.3-4.4l.3-4.9l.3 5.6l.3-8.7l.3 8.1l.3 13.5l.3-.3l.3 6.1l.3-3.2l.3-4.4l.3 2.4l.3 2.1l.3 8.1l.3 12.1l.3-10.7l.2 2l.3 .6l.3-3.6l.3 .1l.3 6.6l.3 4.2l.3 2.3l.3-4.5l.3 4.8l.3-7.3l.3 12.6l.3-4.4l.3 2.4l.3 3.8l.3 1.8l.3-1.2l.3-5.2l.3 11.9l.3-.7l.3-.3l.3 4.9l.2-6l.3-.2l.3-.4l.3 5.2l.3 .4l.3-1.7l.3-1.6l.3 2.1l.3 2.9l.3-10l.3 6.6l.3-.2l.3 .5l.3-8.7l.3 8.2l.3-8.1l.3 1.1l.3 .7l.3-3.7l.3 5.3l.3-7.6l.2 1.1l.3 1.7l.3 1.9l.3 2.1l.3-4.4l.3 19.4l.3-11.9l.3-23l.3-3.9l.3-6.6l.3 .4l.3 2.9l.3-5l.3 32l.3-5.5l.3-3.6l.3-6.7l.3 5.7l.3 25.9l.3-9.4l.3 10.2l.2-85.2l.3 32.9l.3 27.3l.3 32.3l.3-33.2l.3-44.3l.3 40.4l.3-4.8l.3-25.4l.3 20.5l.3 30.5l.3 9.2l.3-4.8l.3-41.1l.3 55.7l.3-44l.3 1.1l.3-34.4l.3 67.8l.3-7.1l.3 5.2l.3-7.6l.2-14.4l.3-3.2l.3-46.8l.3 45l.3 25.7l.3-33.5l.3 12.4l.3-3.3l.3 25.5l.3-8.7l.3-9.1l.3-14.8l.3-38.5l.3 14.7l.3 9.7l.3 18.8l.3 2.1l.3 15.1l.3-11.5l.3-6.6l.3-1.4l.2 2.5l.3-7.8l.3 13.3l.3-47.3l.3 45.5l.3-26.5l.3 24.4l.3-19.2l.3 26.8l.3-22l.3-24.4l.3 44l.3-12.7l.3 4.9l.3-6.4l.3 30.6l.3 10.1l.3-18l.3-43.3l.3 4.5l.3 16l.2 47.6l.3-29.7l.3-7.5l.3 11.7l.3-25.4l.3-15.2l.3 23.1l.3-33.3l.3 43.6l.3-4l.3-5.8l.3-39.7l.3 24.9l.3 50.9l.3-39.2l.3-20.3l.3 30.4l.3-43.9l.3-24.4l.3 38.6l.3 3.8l.2 11.5l.3-7.7l.3 20.1l.3-7.5l.3-.1l.3 2.4l.3 18.4l.3-7.4l.3 11.1l.3 2.8l.3-89.4l.3-.2l.3 16.9l.3 31.4l.3-42.2l.3 58.7l.3-2.4l.3 42.9l.3-43.4l.3-9.5l.3-16.7l.2 40.2l.3-7.9l.3-31.4l.3-4.4l.3 9l.3-11.8l.3 44.1l.3-31.9l.3 58.2l.3-2.4l.3-41.2l.3 14l.3 19l.3-28l.3-11.6l.3 7.4l.3 47.6l.3-60.5l.3 25.9l.3-13.1l.3-15.8l.3-.7l.2 9.5l.3 45.3l.3-4l.3-34.2l.3 38.9l.3-56.7l.3 25.3l.3-.7l.3 32l.3-6l.3 1.3l.3-12.9l.3-90.7l.3 80.5l.3 42.7l.3-70.8l.3 34l.3-3.4l.3-9.2l.3-13.7l.3 16.1l.2-37.4l.3-18.7l.3 48.1l.3-40.1l.3 54.4l.3-17.3l.3 9.6l.3-11.6l.3 54.6l.3-62.3l.3 3.7l.3 9.2l.3 30.8l.3 16.7l.3 5.9l.3-17.5l.3-22.9l.3-36.3l.3 29.7l.3 15.8l.3-15.8l.2 15.6l.3 11.8l.3-12.7l.3 11.6l.3-8.6l.3-36.3l.3 5.3l.3-2.5l.3 20.4l.3-15.5l.3-.3l.3-10.7l.3 25.7l.3-1.7l.3 13.4l.3 2.6l.3-16.6l.3-.1l.3 8.1l.3 2.7l.3 23.7l.2-57.3l.3 17.4l.3 16.8l.3 13.3l.3-35.5l.3 13.4l.3 16.8l.3-17.7l.3-27.3l.3 2.3l.3-1.3l.3 40.5l.3-12.5l.3 32.1l.3-23.8l.3-20.3l.3-8.5l.3-5.9l.3 17.7l.3 30.8l.3-14.3l.2-2.1l.3-25.5l.3 8.6l.3 30.2l.3-53l.3 30.9l.3 16.6l.3-58.8l.3 1.4l.3 18.4l.3 36.6l.3-12.8l.3-2.5l.3 5.9l.3-2.5l.3 1.8l.3-6.2l.3 36.5l.3-27.1l.3 30.1l.3-16.6l.3-29.5l.2 11.2l.3 .1l.3-45.7l.3 31.5l.3-21.8l.3 14.4l.3 36.8l.3-19.1l.3 9l.3-7l.3 37.3l.3-31l.3-25.2l.3-3.5l.3 .8l.3 26.5l.3 7.3l.3 8.5l.3-10.2l.3-10.5l.3 5.7l.2-13.8l.3 11.4l.3 11.6l.3 7.8l.3-25.7l.3-38.8l.3 20.1l.3 18.8l.3-34.8l.3 22.6l.3 24.5l.3-2.6l.3-15.8l.3 47.4l.3-3.4l.3-23.2l.3 15.5l.3 2.8l.3-42.2l.3 50.8l.3-33l.2-17.1l.3-15l.3 11.6l.3-11.5l.3 13.6l.3 27.1l.3-11.1l.3-6.6l.3 34l.3-39l.3 21.6l.3-25.4l.3 7.5l.3 3.8l.3-3.1l.3 4.2l.3-27.9l.3-10.1l.3 12.8l.3-2.5l.3-15.1l.2 5l.3 3.1l.3 18l.3 5.3l.3-5.9l.3-17.7l.3 24.5l.3-36l.3-7.1l.3 27.3l.3-12.8l.3 1.8l.3-1.6l.3 36.7l.3-15.8l.3 11.1l.3-3.5l.3-15l.3-5.1l.3 37.5l.3 2.2l.2-2.4l.3 23l.3-10.3l.3-4.7l.3-10.5l.3 12.9l.3-19l.3-8.8l.3 38.7l.3-53.4l.3 19.3l.3 17l.3-10.8l.3-23.9l.3-2.5l.3 2.4l.3-13l.3 17.7l.3-7.8l.3-3.5l.3 27.8l.3-24.3l.2 22.1l.3-9.7l.3 10.5l.3-11.6l.3 9.8l.3-18.7l.3 3.2l.3-15.5l.3 8.2l.3 5.2l.3 10.1l.3-11.9l.3 8.9l.3-26.4l.3-11.6l.3 17.6l.3 6.2l.3-9.8l.3-7.1l.3 22.8l.3-11.2l.2-7.7l.3 59.2l.3-17.8l.3-16.4l.3 11l.3-11.9l.3 31.4l.3-48.2l.3-18.1l.3 11l.3-11" fill="none" stroke="#000" stroke-width="2.35" stroke-linejoin="round"/></g></g>
<g id="matplotlib.axis_9">
<g id="xtick_22">
<g id="line2d_228">
<g>
<use href="#m82f586ba75" x="898.2" y="327.31" style="stroke: #000000; stroke-width: 0.8"/>
</g>
</g>
</g>
<g id="xtick_23">
<g id="line2d_229">
<g>
<use href="#m82f586ba75" x="959.4" y="327.31" style="stroke: #000000; stroke-width: 0.8"/>
</g>
</g>
</g>
<g id="xtick_24">
<g id="line2d_230">
<g>
<use href="#m82f586ba75" x="1020.6" y="327.31" style="stroke: #000000; stroke-width: 0.8"/>
</g>
</g>
</g>
<g id="xtick_25">
<g id="line2d_231">
<g>
<use href="#m82f586ba75" x="1081.8" y="327.31" style="stroke: #000000; stroke-width: 0.8"/>
</g>
</g>
</g>
<g id="xtick_26">
<g id="line2d_232">
<g>
<use href="#m82f586ba75" x="1143" y="327.31" style="stroke: #000000; stroke-width: 0.8"/>
</g>
</g>
</g>
<g id="xtick_27">
<g id="line2d_233">
<g>
<use href="#m82f586ba75" x="1204.2" y="327.31" style="stroke: #000000; stroke-width: 0.8"/>
</g>
</g>
</g>
<g id="xtick_28">
<g id="line2d_234">
<g>
<use href="#m82f586ba75" x="1265.4" y="327.31" style="stroke: #000000; stroke-width: 0.8"/>
</g>
</g>
</g>
</g>
<g id="matplotlib.axis_10">
<g id="ytick_123">
<g id="line2d_235">
<g>
<use href="#m0bb405004b" x="867.6" y="327.31" style="stroke: #000000; stroke-width: 0.8"/>
</g>
</g>
<g id="text_52">
<text style="font-size: 14.4px; font-family: 'DejaVu Sans', 'Liberation Sans', sans-serif; text-anchor: end" x="864.1" y="332.78" transform="rotate(-0 864.1 332.782875)">−20</text>
</g>
</g>
<g id="ytick_124">
<g id="line2d_236">
<g>
<use href="#m0bb405004b" x="867.6" y="296.30" style="stroke: #000000; stroke-width: 0.8"/>
</g>
</g>
<g id="text_53">
<text style="font-size: 14.4px; font-family: 'DejaVu Sans', 'Liberation Sans', sans-serif; text-anchor: end" x="864.1" y="301.77" transform="rotate(-0 864.1 301.768875)">−15</text>
</g>
</g>
<g id="ytick_125">
<g id="line2d_237">
<g>
<use href="#m0bb405004b" x="867.6" y="265.28" style="stroke: #000000; stroke-width: 0.8"/>
</g>
</g>
<g id="text_54">
<text style="font-size: 14.4px; font-family: 'DejaVu Sans', 'Liberation Sans', sans-serif; text-anchor: end" x="864.1" y="270.75" transform="rotate(-0 864.1 270.754875)">−10</text>
</g>
</g>
<g id="ytick_126">
<g id="line2d_238">
<g>
<use href="#m0bb405004b" x="867.6" y="234.27" style="stroke: #000000; stroke-width: 0.8"/>
</g>
</g>
<g id="text_55">
<text style="font-size: 14.4px; font-family: 'DejaVu Sans', 'Liberation Sans', sans-serif; text-anchor: end" x="864.1" y="239.74" transform="rotate(-0 864.1 239.740875)">−5</text>
</g>
</g>
<g id="ytick_127">
<g id="line2d_239">
<g>
<use href="#m0bb405004b" x="867.6" y="203.26" style="stroke: #000000; stroke-width: 0.8"/>
</g>
</g>
<g id="text_56">
<text style="font-size: 14.4px; font-family: 'DejaVu Sans', 'Liberation Sans', sans-serif; text-anchor: end" x="864.1" y="208.73" transform="rotate(-0 864.1 208.726875)">0</text>
</g>
</g>
<g id="ytick_128">
<g id="line2d_240">
<g>
<use href="#m0bb405004b" x="867.6" y="172.24" style="stroke: #000000; stroke-width: 0.8"/>
</g>
</g>
<g id="text_57">
<text style="font-size: 14.4px; font-family: 'DejaVu Sans', 'Liberation Sans', sans-serif; text-anchor: end" x="864.1" y="177.71" transform="rotate(-0 864.1 177.712875)">5</text>
</g>
</g>
<g id="ytick_129">
<g id="line2d_241">
<g>
<use href="#m0bb405004b" x="867.6" y="141.23" style="stroke: #000000; stroke-width: 0.8"/>
</g>
</g>
<g id="text_58">
<text style="font-size: 14.4px; font-family: 'DejaVu Sans', 'Liberation Sans', sans-serif; text-anchor: end" x="864.1" y="146.70" transform="rotate(-0 864.1 146.698875)">10</text>
</g>
</g>
<g id="ytick_130">
<g id="line2d_242">
<g>
<use href="#m0bb405004b" x="867.6" y="110.21" style="stroke: #000000; stroke-width: 0.8"/>
</g>
</g>
<g id="text_59">
<text style="font-size: 14.4px; font-family: 'DejaVu Sans', 'Liberation Sans', sans-serif; text-anchor: end" x="864.1" y="115.68" transform="rotate(-0 864.1 115.684875)">15</text>
</g>
</g>
<g id="ytick_131">
<g id="line2d_243">
<g>
<use href="#m0bb405004b" x="867.6" y="79.2" style="stroke: #000000; stroke-width: 0.8"/>
</g>
</g>
<g id="text_60">
<text style="font-size: 14.4px; font-family: 'DejaVu Sans', 'Liberation Sans', sans-serif; text-anchor: end" x="864.1" y="84.67" transform="rotate(-0 864.1 84.670875)">20</text>
</g>
</g>
</g>
<g id="patch_70">
<path d="M 867.6 327.31 
L 867.6 79.2 
" style="fill: none; stroke: #000000; stroke-width: 1.5; stroke-linejoin: miter; stroke-linecap: square"/>
</g>
<g id="patch_71">
<path d="M 1296 327.31 
L 1296 79.2 
" style="fill: none; stroke: #000000; stroke-width: 1.5; stroke-linejoin: miter; stroke-linecap: square"/>
</g>
<g id="patch_72">
<path d="M 867.6 327.31 
L 1296 327.31 
" style="fill: none; stroke: #000000; stroke-width: 1.5; stroke-linejoin: miter; stroke-linecap: square"/>
</g>
<g id="patch_73">
<path d="M 867.6 79.2 
L 1296 79.2 
" style="fill: none; stroke: #000000; stroke-width: 1.5; stroke-linejoin: miter; stroke-linecap: square"/>
</g>
</g>
<g id="axes_6">
<g id="PH_v"><g transform="scale(0.72)"><path clip-path="url(#cR1)" d="M1205 300.2l.3-2.5l.3 1.3l.3 3l.3-3.9l.3 1.8l.3 2.5l.3 2.2l.3-4.1l.3 1.3l.3-.9l.2-3.9l.3 2.2l.3-.8l.3-.2l.3-1.1l.3-.9l.3-2.4l.3 1.9l.3-3.5l.3 6.8l.3 4.3l.3-.1l.3-.4l.3-4.8l.3-.2l.3 2.6l.3 .5l.3-4.9l.3 1.2l.3 .1l.3 .8l.2-5.1l.3 1l.3 1.6l.3-.7l.3-.3l.3 3.8l.3-.7l.3 1.7l.3-6.9l.3 7.4l.3-2l.3-1.5l.3-2.2l.3 4.8l.3-3.6l.3 1.9l.3 1.7l.3 1.1l.3-1.2l.3-.8l.3 1.7l.3 4.8l.2-4.3l.3-1.8l.3 1.1l.3 1.7l.3-.8l.3 2.4l.3-3l.3 4.1l.3-2.7l.3 3.2l.3-2.7l.3-1.1l.3 .3l.3 1.5l.3 2.1l.3 .9l.3-2.2l.3 1.6l.3-3.3l.3 2.4l.3-2.3l.2-1.2l.3 .7l.3 3.7l.3-1.1l.3-2l.3 1.7l.3-1.8l.3 1.5l.3 .3l.3-2.8l.3 .5l.3 .6l.3 3.2l.3 3.3l.3-3l.3 2.4l.3-1.4l.3-2.4l.3-.5l.3 1.8l.3-1.1l.2-2.6l.3 3l.3-1.1l.3-1l.3 2.6l.3 1.6l.3-2.7l.3 .8l.3-2.3l.3-.3l.3 1.3l.3 .2l.3 4.8l.3-2.1l.3-.7l.3-.3l.3-5.2l.3 3.3l.3 3.4l.3-1.2l.3-.2l.2-3.5l.3 6.4l.3-.9l.3-3.6l.3 1.7l.3-1.5l.3-1.5l.3 3.1l.3 .3l.3-1.8l.3-3l.3 3l.3 2.5l.3 1.9l.3-1.8l.3 2.4l.3-1.2l.3-.8l.3-5.1l.3 3.2l.3 1.2l.2 7.1l.3-7.4l.3 1.8l.3 2.8l.3-3.6l.3 3.7l.3-.8l.3-4.1l.3-.3l.3 6.4l.3 1.8l.3-.9l.3-2.1l.3 .1l.3 3.9l.3-2.4l.3 .3l.3-2.7l.3 2.6l.3-2.6l.3 1.4l.3-2l.2 1.8l.3 4l.3-1.1l.3 1l.3-1l.3-3l.3-.6l.3-3l.3 1.6l.3 3.8l.3-2.1l.3-.8l.3 .1l.3 3.5l.3 2.4l.3-2l.3 .5l.3-.4l.3-.5l.3 1.6l.3 .8l.2 .1l.3 3.4l.3-.2l.3-2.2l.3-2.8l.3 1.2l.3 2l.3-1.5l.3-2.8l.3-1.3l.3 .7l.3 2.4l.3 1.9l.3-1.4l.3-.5l.3-.4l.3-1.8l.3-2.3l.3 0l.3 1.5l.3 2l.2-1.6l.3-5.2l.3 4.3l.3 2.6l.3-3.6l.3 1.3l.3 2.1l.3-3.8l.3 2.2l.3 .5l.3-.5l.3-2.2l.3 .7l.3 1l.3 .1l.3-.1l.3-.6l.3-2.2l.3-.1l.3 1.2l.3 3l.2 1.6l.3-3.2l.3 1.6l.3 .6l.3 .7l.3-.2l.3-1.5l.3 3.4l.3-4.6l.3 1l.3-1l.3-1.1l.3 1l.3-.8l.3 .8l.3 .9l.3-2.1l.3-.5l.3 1.3l.3 .7l.3-1l.2 1.3l.3 3l.3-4.3l.3 2l.3 2.2l.3-5.2l.3 2.8l.3-3.2l.3 3.2l.3 .6l.3-.4l.3-1.1l.3 .3l.3-1.4l.3 2.5l.3 1.1l.3-2.5l.3 2.9l.3-1.4l.3-.6l.3-3.1l.3 2.8l.2 1.3l.3 .8l.3-1.1l.3-1.6M1287.1 312.6l.3 .2l.3-1.5l.3-3.4l.3 2.4l.3 2.6l.3 .8l.3 0l.3-3.2l.2 3l.3 1.6l.3-5.3l.3-.6l.3 2.5l.3-1.2l.3 1.1l.3-.5l.3 .5l.3-6.1l.3 3l.3 2.4l.3-.1l.3 .1l.3 1l.3 0l.3 .4l.3-.3l.3-5.9l.3 2.4l.3 4.3l.2-1.5l.3 0l.3-.6l.3 1.8l.3 0l.3 2.5l.3-6.1l.3-.2l.3 5.3l.3-6l.3 1.9l.3-2.2l.3 2.5l.3 1.1l.3 .6l.3-1.1l.3-1.3l.3 .8l.3-.9l.3-2.1l.3-.1l.2 1.6l.3 1.5l.3 5.2l.3 .4l.3-.1l.3-.4l.3-.3l.3-3.8l.3 3.7l.3-6.4l.3 3.4l.3 .5l.3 1.8l.3 .8l.3 2.6l.3 5.7l.3-8.1l.3 2.2l.3-2.7l.3-2.4l.3-.7l.2 3.2l.3 .2l.3 1.6l.3-.8l.3-1.8l.3 .9l.3-.7l.3 0l.3 1.2l.3 3.3l.3-2.8l.3-.2l.3 3l.3-.4l.3-2l.3 1.4l.3-2.1l.3-4.9l.3 3.5l.3 4.3l.3-3.1l.3 .2l.2 3.9l.3-1.7l.3-3.6l.3 .6l.3 .2l.3 0l.3-2.5l.3 2.2l.3 .2l.3-1l.3-3.8l.3 3l.3 .4l.3 1.4l.3-3.1l.3 3.4l.3 0l.3 .8l.3-.5l.3 4.5l.3-.8l.2-.9l.3 1.5l.3 2.8l.3-1l.3 .9l.3-2.2l.3-1l.3 0l.3-1.6l.3 .4l.3-.7l.3 0l.3 .5l.3 1.5l.3-2.5l.3 3.4l.3-2.8l.3-.7l.3 4.3l.3 .9l.3-.3l.2-4.1l.3-.7l.3 1.3l.3 1.2l.3-3.9l.3 3.8l.3-2.1l.3 4.7l.3-1.9l.3-1.7l.3-2.8l.3 5.8l.3-2l.3 .2l.3 2.5l.3-.2l.3-2.4l.3 5.1l.3-.2l.3-.9l.3 0l.2 1.3l.3 1.9l.3-6.2l.3 .1l.3-2.9l.3 3.7l.3-2l.3 10.8l.3-4.7l.3 3.8l.3-1.8l.3-1.2l.3 1.7l.3 2.1l.3-1l.3-2.5l.3 .4l.3-3l.3-.3l.3 .2l.3 3.2l.3-2.6l.2 1.1l.3-.4l.3 .5l.3-.3l.3 .4l.3-1l.3-1.1l.3-.7l.3 3.1l.3-4.8l.3 7.7l.3-4.7l.3 1.4l.3 1.9l.3-5.5l.3 2.2l.3 2.1l.3-3.9l.3 9.4l.3-7.1l.3 1l.2 .7l.3-.8l.3 1.6l.3-5.2l.3 3.6l.3 .1l.3 4.3l.3-5.9l.3-.4l.3-.2l.3 1.7l.3 2.8l.3 .1l.3-.8l.3 0l.3-1.3l.3 3.8l.3-4.6l.3 1.4l.3-.2l.3 .1l.2-1.8l.3-1.5l.3 4.5l.3-1.2l.3-.8l.3-.1l.3 3.6l.3-4.2l.3 2l.3-1.4l.3-2.5l.3 5l.3 1.4l.3-1.1l.3-1.8l.3 1.1l.3 1.2l.3-6.3l.3 2l.3-.4l.3 4.2l.2-2.7l.3 2.8l.3-3.2l.3 .4l.3 1.7l.3-1.3l.3-3.9l.3 3.5l.3 2.6l.3-1.6l.3-.1l.3-3.8l.3 2.7l.3-1.1l.3 0l.3-.8l.3-.5l.3 1l.3 2.7l.3-1l.3-.4l.2-.9l.3 2.4l.3 3.7l.3 .2l.3-3.4l.3 3.5l.3-.7l.3-1.4l.3 0l.3-1.2l.3 .8l.3-.9l.3-.1l.3-.1M1372.7 337.9l.3-1.3l.3-.8l.3-.1l.3 .4l.3-1.5l.3 2.1l.3-.9l.3 1.2l.3 .3l.3 1.9l.3-4.4l.3 1.6l.3 .9l.3-.4l.3-1.2l.2-1.2l.3-.6l.3 .2l.3 .1l.3 2.2l.3-1.2l.3 3.4l.3-4.6l.3 .7l.3-.6l.3 3.2l.3-1.1l.3-1.8l.3 .9l.3-1.7l.3 1.8l.3-.6l.3-.9l.3-2.6l.3 1.6l.3 .3l.2 1.4l.3-1.5l.3 4.2l.3 1.4l.3-2l.3-1.8l.3 0l.3 1.6l.3-3l.3 3.5l.3-1l.3 .1l.3-.5l.3-1.9l.3-.5l.3 2.3l.3-.5l.3-.2l.3 .8l.3 .7l.3 .8l.2 .1l.3-1.5l.3 1l.3 1.4l.3-1.3l.3-.7l.3-.3l.3-.2l.3 2.3l.3-3l.3 .3l.3 1.4l.3-1.2l.3 .4l.3 .3l.3-1.4l.3-.9l.3 1l.3-.2l.3-.4l.3-1.8l.2 .2l.3-1.2l.3 .8l.3 .9l.3-1.4l.3 .7l.3-.3l.3-.6l.3 1.1l.3-.6l.3-.1l.3-.3l.3-.2l.3 0l.3-.4l.3-.4l.3 1.9l.3-1.2l.3 1.4l.3-1l.3-.7l.3 1.6l.2 .7l.3-1.3l.3-.5l.3-.5l.3-1.5l.3 1.7l.3 0l.3-3.9l.3 .7l.3 1.9l.3 .2l.3-2.1l.3 .9l.3 1.5l.3-.8l.3 .8l.3-2.5l.3 1.6l.3-2.6l.3 .4l.3-.3l.2 4.4l.3-.3l.3-2.3l.3-.4l.3 1.1l.3 1.6l.3-1.5l.3-.6l.3 .3l.3-1.6l.3 3.3l.3-.3l.3-1.7l.3 1.1l.3-.8l.3 .4l.3 .4l.3 .4l.3-.2l.3 1.7l.3-.4l.2 2l.3 .2l.3-.6l.3-.7l.3-1.4l.3-.5l.3-.3l.3 0l.3-.5l.3 .5l.3 .4l.3 .8l.3 .7l.3 0l.3 1.3l.3-.1l.3-.1l.3 1.3l.3-1.3l.3 .1l.3-.7l.2 2l.3 .7l.3 .4l.3-1.3l.3-1.3l.3 .2l.3 .7l.3-.4l.3 .2l.3-1.3l.3 4.1l.3-.8l.3 1.1l.3-.3l.3-.9l.3-.4l.3-.5l.3-1.5l.3-.5l.3-.3l.3 2.7l.2 .8l.3-.7l.3-.1l.3 .3l.3-.5l.3-1.5l.3 .1l.3 1l.3 1.4l.3-.3l.3 .4l.3 1l.3 2l.3-2.2l.3 1.8l.3-.1l.3 .4l.3 1l.3-3.6l.3 1.2l.3 1.3l.3-2.4l.2 2.2l.3 1l.3 .2l.3 .5l.3 0l.3-1.3l.3-1.1l.3 .9l.3 .8l.3-.6l.3 .3l.3 .6l.3 .2l.3 1.1l.3 .6l.3-.4l.3-1.8l.3-.4l.3-1.4l.3 2.1l.3-1l.2 2l.3-1.9l.3 1.1l.3 1l.3 .1l.3-1l.3 1.7l.3 .6l.3-.7l.3 0l.3-.4l.3-.7l.3 1.4l.3 .4l.3-1.5l.3 3.2l.3-2.6l.3 .9l.3 .9l.3-1.2l.3 .2l.2-.6l.3 .8l.3-.4l.3 .9l.3-1.1l.3 .6l.3 1.3l.3-2.3l.3 1l.3-.3l.3-.6l.3 .6l.3 .9l.3 .1l.3 .6l.3 1.1l.3 .7l.3 .4l.3-.7l.3 .8l.3-.9l.2-.4l.3 1.1l.3 .7l.3-1.3l.3-.5l.3 .4l.3 .1l.3-.8l.3 .7l.3 1.5M1457.5 347.4l.3-.2l.3-1.2l.3 1.8l.3-.3l.2 1.5l.3-1.1l.3-.4l.3-1.3l.3 1.8l.3-.7l.3 .7l.3 .9l.3 .6l.3-2.2l.3 .5l.3 .2l.3 .1l.3 .4l.3 1.1l.3 .1l.3 0l.3 .6l.3-1.4l.3 1l.3-.6l.2 .5l.3 .6l.3 .3l.3-.7l.3-.2l.3 .8l.3 .7l.3 .3l.3 0l.3 2.3l.3-.7l.3-.3l.3 .1l.3 .7l.3 .5l.3 0l.3 .4l.3 .6l.3-.1l.3-.6l.3 1.5l.2-.1l.3 1.2l.3-2l.3-.3l.3 .1l.3-.8l.3 .4l.3-.5l.3 .1l.3 1l.3-.7l.3 .8l.3 .7l.3-1l.3 0l.3-.9l.3-.3l.3-.4l.3 .4l.3 1l.3-.8l.2-.5l.3-.8l.3 .9l.3 1.1l.3-.8l.3-.2l.3 0l.3-.7l.3-.8l.3 2.1l.3-.2l.3 0l.3-.6l.3-.4l.3 .5l.3-.5l.3 1.6l.3 .7l.3-1.6l.3-.6l.3 1.4l.2-1.3l.3 .4l.3 .2l.3-1l.3 .4l.3 1.1l.3-1.4l.3 0l.3-.2l.3 1.5l.3 0l.3-.3l.3 .9l.3 0l.3-.7l.3-.1l.3-.6l.3 1.2l.3 .6l.3 .1l.3 .4l.3-.3l.2 .2l.3-.7l.3 .6l.3 .6l.3-1.9l.3 2l.3-1.1l.3 .3l.3 1.8l.3-2l.3-.2l.3 1.1l.3-.7l.3-.9l.3 .8l.3 .1l.3-.2l.3-.7l.3 1.2l.3 1.1l.3-1.7l.2 .5l.3 .7l.3-1.5l.3 1.5l.3 .3l.3-1.1l.3 1.5l.3-.2l.3 .3l.3-.6l.3-.1l.3-.4l.3-.6l.3 .8l.3 .1l.3-1.3l.3 .1l.3 1.1l.3 .2l.3-1.1l.3 0l.2-.2l.3-1.7l.3 .8l.3 1.8l.3-1.2l.3-.4l.3 1.8l.3-.2l.3-.1l.3 .6l.3 .3l.3-1l.3-1l.3-.1l.3 .4l.3-.3l.3 .6l.3-.9l.3 .3l.3-1.4l.3 .9l.2-3.1l.3 1.1l.3 .6l.3-.1l.3-1l.3 .9l.3-.3l.3 .6l.3 .4l.3-.6l.3 .1l.3-.3l.3 .4l.3-1l.3 .1l.3 .4l.3 .3l.3-.5l.3-.4l.3-.2l.3 1.5l.2-2.8l.3 .7l.3 .1l.3 .5l.3-.8l.3 1.7l.3-.9l.3-.5l.3-.4l.3-1l.3 .4l.3-1.1l.3-.4l.3 1.1l.3-.7l.3 1.4l.3 .1l.3-.5l.3 1.5l.3-.2l.3-.9l.3 .2l.2-.7l.3 1l.3 .5l.3 .4l.3 .6l.3-1.2l.3 .4l.3-.9l.3 .8l.3-1.5l.3-.5l.3 1.9l.3-2l.3-.7l.3 2.6l.3-1.2l.3-1.7l.3 1.5l.3 1.2l.3-.3l.3 1.2l.2-1l.3 1.8l.3-1.5l.3-.8l.3 1.3l.3-.2l.3 .1l.3-2.1l.3 2.1l.3-.5l.3 1.2l.3-1.8l.3 1.3l.3-.5l.3 2.6l.3-2.2l.3-.1l.3 1.7l.3-1.7l.3 .1l.3 .2l.2 .5l.3 .1l.3-1.3l.3 1.1l.3-1.6l.3 2.6l.3-1.1l.3 .1l.3 .7l.3-1.5l.3-.1l.3 2.9l.3-.8l.3-.5l.3 1.9l.3-.4M1541.6 353.7l.3-.3l.3 1.3l.3 .3l.3-1.2l.3 .5l.3-1l.3 2.3l.3 .5l.3 .2l.3-1l.3-1.3l.3 .1l.3-.4l.3 .1l.3-.6l.2 1.6l.3-.9l.3-1l.3-2.1l.3 .7l.3 0l.3 .4l.3 .7l.3 .2l.3-.1l.3 .2l.3 .5l.3-.6l.3-1.4l.3-1l.3 .4l.3-1.8l.3-.5l.3 1.3l.3-.8l.3-.1l.3-.5l.2 1.1l.3-.7l.3-.3l.3 0l.3 .5l.3-1l.3 .9l.3-1.6l.3 1l.3-2.1l.3 1l.3-.7l.3-.7l.3 .4l.3-.7l.3 .3l.3-.4l.3 .1l.3-1.8l.3 1.5l.3-1.8l.2 2.9l.3-.7l.3-1.6l.3-1l.3 1.6l.3-1.2l.3 1.5l.3-1.9l.3 .2l.3 .2l.3-.8l.3-.3l.3-1.4l.3 1l.3-.5l.3-.4l.3 0l.3-1.8l.3 .9l.3-.8l.3 .3l.2 1.3l.3-1.5l.3-.2l.3 2.2l.3-.9l.3 1.6l.3-1.1l.3 .6l.3-.4l.3-.3l.3 1.4l.3 .1l.3 .5l.3 1.7l.3-1l.3-1.4l.3-.2l.3 1.8l.3-2l.3 .7l.3 0l.2 .7l.3 1.3l.3 .3l.3-.4l.3-1l.3-.8l.3 1.1l.3-.7l.3 .2l.3-.4l.3 .9l.3 .8l.3-.2l.3-.8l.3-2.9l.3 2l.3 .2l.3-.7l.3 .9l.3-2.2l.3 .2l.3 1.3l.2-1.3l.3-.4l.3-1.3l.3-.8l.3 1.4l.3 0l.3 .1l.3 0l.3-.6l.3 .5l.3-.5l.3-.4l.3-1l.3-.9l.3-.4l.3 .3l.3 .7l.3 .5l.3-.4l.3 .6l.3-1l.2-.2l.3-.3l.3 2.9l.3-4.2l.3 2l.3-2.2l.3-.3l.3-.3l.3-.4l.3 .2l.3-1l.3-.4l.3 .3l.3 2.6l.3-2.2l.3-.5l.3-.8l.3 .7l.3 .5l.3-1.1l.3-2.8l.2-.1l.3-2l.3 5.2l.3 .8l.3-5.7l.3 1.4l.3-.1l.3-.4l.3-1.4l.3 1.4l.3-.8l.3-.8l.3 1.4l.3-2.4l.3-3l.3 3.1l.3-2.8l.3 2.6l.3-2.6l.3-1.2l.3 2.2l.2-2.9l.3-2.5l.3 .8l.3-1l.3-.4l.3-.2l.3-6.3l.3-4.9l.3-.2l.3-2.4l.3-.8l.3 .6l.3 2.5l.3-3.5l.3 1.2l.3-2.8l.3 1.5l.3-1.9l.3-3.9l.3 1.4l.3 1l.2-1.1l.3 .8l.3-.3l.3 1.1l.3-1.4l.3-4.9l.3 5.6l.3 1.4l.3-.3l.3-2.4l.3 .7l.3 .5l.3 7l.3-3.9l.3 .9l.3 3.4l.3-4.6l.3-1.2l.3 .1l.3-1.8l.3 .3l.3-2.8l.2 4.8l.3-.5l.3-1.2l.3-6l.3 9.3l.3 1l.3-3.7l.3 1.3l.3 3.4l.3-4.2l.3 3.4l.3-1.4l.3 .1l.3 .4l.3-.2l.3 4l.3-.7l.3-2.5l.3-.2l.3-2.6l.3 2.3l.2 .9l.3 1.2l.3-.6l.3-4.4l.3 4.5l.3-2.2l.3 4.7l.3-3.9l.3 .9l.3-2.6l.3-2.7l.3 .7l.3-.2l.3-5.7l.3 0l.3 3.4l.3-5.1l.3 3.4l.3-3l.3 .6l.3-2.8l.2 2l.3-3.6l.3-1.8l.3-1.6l.3-2.1l.3-6.7l.3 1.5M1626.7 263.8l.3 .8l.3 .5l.3-3.3l.2 4.3l.3-.9l.3-.8l.3-1.5l.3 1l.3-.3l.3 7.1l.3-.2l.3-.3l.3 4.3l.3 2.9l.3 3.5l.3-6.2l.3-.8l.3-.3l.3-4.2l.3 4.5l.3-1.2l.3-2.9l.3 6.3l.3 3.3l.2-6l.3 4.5l.3 .4l.3 3.1l.3-1.6l.3 2l.3-2.7l.3 .9l.3-.9l.3 3.3l.3 1.2l.3 2.1l.3-6.8l.3 5.6l.3 5.6l.3-6.7l.3 .8l.3-3.9l.3 6.8l.3 0l.3 8.3l.3-1.1l.2-3.2l.3-2l.3 4.1l.3-3.9l.3 1.1l.3 5.5l.3-2.4l.3 0l.3-.1l.3 8.7l.3 0l.3-1.7l.3-.3l.3-.1l.3-.9l.3-1.9l.3 .4l.3 2.4l.3-1.8l.3 .8l.3-3.7l.2 1l.3 2.4l.3 1.6l.3 2.4l.3-3.5l.3 4.4l.3 2.3l.3 1.2l.3-4.4l.3 6.7l.3-5l.3-.5l.3 2.4l.3-1.1l.3-1.3l.3-4.2l.3 5.7l.3-4.6l.3-.4l.3 .1l.3 1.7l.2-.6l.3 3l.3-6.5l.3-7.1l.3 2.8l.3 1.4l.3 .2l.3 1.2l.3-4.2l.3 2.3l.3 .6l.3 1.8l.3 .3l.3-15.9l.3 1.2l.3-2.6l.3-3.8l.3 1.5l.3-2.8l.3 1.1l.3 .5l.2-.8l.3-8.7l.3-2.9l.3 2.4l.3-4.5l.3 .9l.3-5.7l.3 0l.3-2.5l.3-.3l.3-6.6l.3-1l.3-5.6l.3 7.7l.3-4.4l.3-.5l.3-7.3l.3 .2l.3-1.3l.3 3.8l.3 2.3l.2-4.5l.3 4.6l.3 3.2l.3 5.1l.3-2.6l.3-8.8l.3 .8l.3-.6l.3 6.5l.3 4.8l.3 4.8l.3-3.7l.3 .9l.3-2.7l.3 7l.3-11.9l.3-1.7l.3 14.4l.3-3l.3 1.3l.3 4.9l.3 .1l.2-3.6l.3-2.5l.3 5l.3 .3l.3-7.6l.3 5.9l.3-4.5l.3-.7l.3 2.7l.3-.1l.3 .4l.3-4.3l.3 2.2l.3-2.3l.3-2.8l.3-6.1l.3 3.3l.3 2.8l.3-2.4l.3-8.5l.3-5.4l.2 9.2l.3 .1l.3 .6l.3-1.2l.3-1.8l.3 .6l.3-4.9l.3 2.8l.3 2l.3 6.6l.3 2l.3 1.7l.3-.5l.3 7.5l.3-5.5l.3 3.9l.3 3.8l.3 8.7l.3-11l.3 .6l.3 9.2l.2 6.7l.3-13.4l.3 9l.3-4.9l.3 3l.3 2.3l.3-.7l.3 1.7l.3 .7l.3-6.7l.3 4.8l.3-4.2l.3 4.6l.3 3.1l.3-2.8l.3 3.5l.3-5l.3-7.1l.3 3.9l.3 3.6l.3-1.8l.2-1.9l.3 3.5l.3 7l.3-.4l.3-3.5l.3-5.2l.3 5.8l.3-4.1l.3 1.5l.3-1l.3 .2l.3-6.8l.3 1.4l.3 3.5l.3-7.4l.3 2.3l.3-5.4l.3 1.2l.3-.9l.3-2.6l.3-7.1l.3 7.6l.2-3.1l.3-4l.3 2.3l.3 .6l.3-3.7l.3 5.3l.3-.9l.3-5.2l.3 2.1l.3-.8l.3 .4l.3 1.7l.3 1.7l.3 3.2l.3 .8l.3-1.3l.3 11.1l.3-1.5l.3-1.4l.3-2.8l.3 .2l.2 6.3l.3-4.1l.3 3.6l.3 3.8l.3-2.6l.3-.9l.3 .6l.3-.8l.3 0l.3 0l.3 2l.3-4l.3 5l.3-4.9l.3 6.8l.3-11.1l.3 3.7l.3-.7l.3-.6l.3 2.4l.3-4.1l.2 4.2l.3 4.2l.3-3.2l.3-1.3l.3-.3l.3 1l.3 .5l.3 2.1l.3 .8l.3 2.7l.3-1.1l.3 1.2l.3-1.1l.3 .4l.3 8.3l.3-1.5l.3-3.3l.3 .7l.3 1.1l.3-.5l.3-2.7l.2 3.2l.3-.2l.3-4.7l.3 1.4l.3-2.5l.3-.3l.3 8l.3-4.9l.3-5.8l.3-.5l.3 2.5l.3 4.6l.3-3.5l.3-.7l.3-3.9l.3 3.3l.3 .3l.3-1.4l.3 0l.3-.8l.3 1.3l.2-3.1l.3 3.5l.3-2.8l.3-5l.3 7.5l.3-5l.3 4.2l.3-5.1l.3-.3l.3 6.8l.3-4.5l.3-5.5l.3 2.7l.3 1.6l.3-4.8l.3 2.5l.3-3.3l.3 3.1l.3 1.7l.3-.6l.3 1.9l.3-2.7l.2 1.5l.3-1.9l.3-1.8l.3-2.1l.3-3.3l.3 1.3l.3-2l.3-7.2l.3 1.6l.3 2.8l.3 4.6l.3 1.2l.3-1.5l.3 3.8l.3-1l.3 2.9l.3-.1l.3 .3l.3 2.9l.3-4.2l.3 2.4l.2-5.9l.3 2.6l.3 4.8l.3 3l.3-5.3l.3 2.7l.3 1.7l.3 1.6l.3-6.8l.3 8.4l.3-1.2l.3-1.7l.3-1.9l.3 .6l.3 .3l.3-7.9l.3 4.3l.3 .3l.3 .3l.3-.1l.3 2.5l.2 .1l.3 1.8l.3-2l.3-1.8l.3-2.4l.3 1.7l.3-2.8l.3 1l.3-.8l.3-1l.3 1.5l.3-.2l.3-4.7l.3 5l.3-4.8l.3-2.3l.3 3.6l.3-2.5l.3 2.5l.3 .3l.3-.2l.2-.7l.3-1.6l.3 5l.3-.4l.3 3.3l.3-2.2l.3 4.5l.3 .9l.3 1.4l.3-1.3l.3-1.3l.3 1.1l.3-5.2l.3 9.7l.3 1l.3-.8l.3 0l.3-1.4l.3 1.9l.3-3.2l.3 2.3l.2-3.2l.3-1.1l.3 2.7l.3-2.9l.3 1.2l.3-7.2l.3 1.6l.3 1.9l.3-1.1l.3-1.3l.3-.5l.3-1l.3-6.9l.3 .1l.3-2.5l.3 3.9l.3-.8l.3-2l.3-2.7l.3 1.6l.3-1.2l.3 2.8l.2 1.9l.3-.3l.3-.1l.3 3.2l.3-1.8l.3 .8l.3 0l.3 .7l.3 .4l.3-1.3l.3 6.4l.3-1.5l.3-.7l.3 3.4l.3-1.4l.3 5.5l.3-7.7l.3 1.9l.3 4.6l.3 2.6l.3-2.9l.2-3.1l.3 2.1l.3-4.6l.3 2.6l.3 .6l.3 4.9l.3-6.8l.3 2.8l.3-4.7l.3-2.7l.3 5.3l.3-2.9l.3 .5l.3 3.5l.3-1.1l.3 1.4l.3 .7l.3-3.2l.3 1l.3-2.7l.3 3.2l.2-1.2l.3 0l.3 1.9l.3 .3l.3-6.8l.3 4.1l.3-1.1l.3 5.7l.3-2.5l.3-1l.3-4.2l.3-2.3l.3-2.4l.3 .7l.3 2.4l.3 .4l.3-.5l.3-3.4l.3 1.4l.3 1.1l.3 1.7l.2-1.1l.3-1l.3-2.1l.3-2.1l.3-.2l.3-3.9l.3 4.4l.3-2.1l.3-1.9l.3 2.2l.3 1.5l.3-.3l.3 .3l.3-.8l.3 3l.3-2l.3 1.2l.3-3.2l.3-.2l.3-3l.3 .6l.2-3.7l.3-1l.3 5.9l.3-1.6l.3 .8l.3 2.5l.3-2.2l.3 1.3l.3 1.8l.3 1.7l.3-2.2l.3 .8l.3-4.1l.3 3.7l.3-4.6l.3 4.8l.3-6.9l.3 1.9l.3 1l.3-.1l.3-.3l.3 1.4l.2 1l.3 2.2l.3 4l.3-3.8l.3 .9l.3-1.3l.3-1.3l.3 5.5l.3-6.2l.3 4.8l.3-6.3l.3 4l.3 1.9l.3-2.2l.3 5.3l.3-2.1l.3 2l.3 1.3l.3-.6l.3-3.6l.3 2.4l.2-2.5l.3 3.8l.3-2.9l.3-2.5l.3 1.5l.3-2l.3 4.9l.3-.5l.3 1.2l.3 2.8l.3-.6" fill="none" stroke="#f00" stroke-width="2.35" stroke-linejoin="round"/></g></g>
<g id="matplotlib.axis_11">
<g id="ytick_132">
<g id="line2d_244">
<defs>
<path id="m73b463b798" d="M 0 0 
L -4 0 
" style="stroke: #ff0000; stroke-width: 0.8"/>
</defs>
<g>
<use href="#m73b463b798" x="1296" y="327.31" style="fill: #ff0000; stroke: #ff0000; stroke-width: 0.8"/>
</g>
</g>
<g id="text_61">
<text style="font-size: 14.4px; font-family: 'DejaVu Sans', 'Liberation Sans', sans-serif; text-anchor: start; fill: #ff0000" x="1299.5" y="332.78" transform="rotate(-0 1299.5 332.782875)">0</text>
</g>
</g>
<g id="ytick_133">
<g id="line2d_245">
<g>
<use href="#m73b463b798" x="1296" y="277.69" style="fill: #ff0000; stroke: #ff0000; stroke-width: 0.8"/>
</g>
</g>
<g id="text_62">
<text style="font-size: 14.4px; font-family: 'DejaVu Sans', 'Liberation Sans', sans-serif; text-anchor: start; fill: #ff0000" x="1299.5" y="283.16" transform="rotate(-0 1299.5 283.160475)">200</text>
</g>
</g>
<g id="ytick_134">
<g id="line2d_246">
<g>
<use href="#m73b463b798" x="1296" y="228.07" style="fill: #ff0000; stroke: #ff0000; stroke-width: 0.8"/>
</g>
</g>
<g id="text_63">
<text style="font-size: 14.4px; font-family: 'DejaVu Sans', 'Liberation Sans', sans-serif; text-anchor: start; fill: #ff0000" x="1299.5" y="233.54" transform="rotate(-0 1299.5 233.538075)">400</text>
</g>
</g>
<g id="ytick_135">
<g id="line2d_247">
<g>
<use href="#m73b463b798" x="1296" y="178.44" style="fill: #ff0000; stroke: #ff0000; stroke-width: 0.8"/>
</g>
</g>
<g id="text_64">
<text style="font-size: 14.4px; font-family: 'DejaVu Sans', 'Liberation Sans', sans-serif; text-anchor: start; fill: #ff0000" x="1299.5" y="183.92" transform="rotate(-0 1299.5 183.915675)">600</text>
</g>
</g>
<g id="ytick_136">
<g id="line2d_248">
<g>
<use href="#m73b463b798" x="1296" y="128.82" style="fill: #ff0000; stroke: #ff0000; stroke-width: 0.8"/>
</g>
</g>
<g id="text_65">
<text style="font-size: 14.4px; font-family: 'DejaVu Sans', 'Liberation Sans', sans-serif; text-anchor: start; fill: #ff0000" x="1299.5" y="134.29" transform="rotate(-0 1299.5 134.293275)">800</text>
</g>
</g>
<g id="ytick_137">
<g id="line2d_249">
<g>
<use href="#m73b463b798" x="1296" y="79.2" style="fill: #ff0000; stroke: #ff0000; stroke-width: 0.8"/>
</g>
</g>
<g id="text_66">
<text style="font-size: 14.4px; font-family: 'DejaVu Sans', 'Liberation Sans', sans-serif; text-anchor: start; fill: #ff0000" x="1299.5" y="84.67" transform="rotate(-0 1299.5 84.670875)">1000</text>
</g>
</g>
</g>
<g id="patch_74">
<path d="M 867.6 327.31 
L 867.6 79.2 
" style="fill: none; stroke: #000000; stroke-width: 1.5; stroke-linejoin: miter; stroke-linecap: square"/>
</g>
<g id="patch_75">
<path d="M 1296 327.31 
L 1296 79.2 
" style="fill: none; stroke: #ff0000; stroke-width: 1.5; stroke-linejoin: miter; stroke-linecap: square"/>
</g>
<g id="patch_76">
<path d="M 867.6 327.31 
L 1296 327.31 
" style="fill: none; stroke: #000000; stroke-width: 1.5; stroke-linejoin: miter; stroke-linecap: square"/>
</g>
<g id="patch_77">
<path d="M 867.6 79.2 
L 1296 79.2 
" style="fill: none; stroke: #000000; stroke-width: 1.5; stroke-linejoin: miter; stroke-linecap: square"/>
</g>
</g>
<g id="axes_7">
<g id="patch_78">
<path d="M 867.6 591.98 
L 1296 591.98 
L 1296 343.87 
L 867.6 343.87 
z
" style="fill: #ffffff"/>
</g>
<g id="PH_dst"><g transform="scale(0.72)"><path clip-path="url(#cR2)" d="M1205 511.9l3.5 2.7l3.6 2.3l3.5 1l3.6-.7l3.5-1.2l3.5-1.9l3.6-1.7l3.5-1.3l3.6-.6l3.5 1l3.6 1l3.5 1l3.5 .7l3.6 .6l3.5 .6l3.6 .6l3.5 .8l3.6 .7l3.5 .3l3.5-2.5l3.6-1.7l3.5 .3l3.6 .3l3.5 .3l3.5 .3l3.6-.4l3.5-.3l3.6-.4l3.5-.3l3.5-.3l3.6-.3l3.5-.2l3.6-.2l3.5-.3l3.6-.2l3.5-1.7l3.5-1.5l3.6 1.3l3.5 1.1l3.6 .7l3.5 .7l3.6 .7l3.5-.6l3.5-.7l3.6-.6l3.5 .5l3.6 .7l3.5 0l3.5-.9l3.6-.8l3.5 .1l3.6 .5l3.5 .4l3.5-1.9l3.6-2.2l3.5-1.9l3.6-1.1l3.5-.3l3.6 1.1l3.5 1.2l3.5 2.1l3.6 2.1l3.5 1.6l3.6 0l3.5 0l3.6 0l3.5-1.2l3.5-1.3l3.6-1.2l3.5-1l3.6-.3l3.5-.4l3.5 .5l3.6 1.2l3.5 1.2l3.6 1.2l3.5 .3l3.5-.9l3.6-.7l3.5 .5l3.6 .2l3.5-2l3.6-2l3.5-1.4l3.5-.3l3.6-.3l3.5-.3l3.6-.4l3.5 0l3.6 .9l3.5 1l3.5 .8l3.6-1.4l3.5-1.3l3.6-.7l3.5-2.1l3.5-4.5l3.6-2.5l3.5-.7l3.6 1.7l3.5 3.4l3.5 3.5l3.6-.2l3.5-.1l3.6-.2l3.5 1.6l3.6 2.7l3.5 2.4l3.5 1.8l3.6 2.9l3.5 4.2l3.6 .9l3.5-1l3.6-5.4l3.5-1.9l3.5-1.2l3.6 9.7l3.5 7.1l3.6-5.7l3.5-4.6l3.5-2.3l3.6 4.8l3.5 5.1l3.6 3.3l3.5 2.8l3.5-.7l3.6 2.4l3.5-.6l3.6-4.9l3.5-.7l3.6-1.7l3.5-2.2l3.5 1.9l3.6 5.1l3.5 4.6l3.6-2.3l3.5 .2l3.6-1.4l3.5-2.2l3.5-2.7l3.6-2.2l3.5-1.8l3.6-1.2l3.5 .7l3.5 1.5l3.6 1.4l3.5 1.1l3.6 .8l3.5-.9l3.5 .6l3.6 3.8l3.5 3.9l3.6-1.7l3.5-1.9l3.6-2.2l3.5-1.2l3.5-.6l3.6 2.7l3.5 1l3.6-3.8l3.5-.4l3.6 .5l3.5-3.3l3.5 .2l3.6-1.3l3.5-2.9l3.6-.6l3.5 1.7" fill="none" stroke="#000" stroke-width="2.35" stroke-linejoin="round"/></g></g>
<g id="matplotlib.axis_12">
<g id="xtick_29">
<g id="line2d_250">
<g>
<use href="#m82f586ba75" x="898.2" y="591.98" style="stroke: #000000; stroke-width: 0.8"/>
</g>
</g>
</g>
<g id="xtick_30">
<g id="line2d_251">
<g>
<use href="#m82f586ba75" x="959.4" y="591.98" style="stroke: #000000; stroke-width: 0.8"/>
</g>
</g>
</g>
<g id="xtick_31">
<g id="line2d_252">
<g>
<use href="#m82f586ba75" x="1020.6" y="591.98" style="stroke: #000000; stroke-width: 0.8"/>
</g>
</g>
</g>
<g id="xtick_32">
<g id="line2d_253">
<g>
<use href="#m82f586ba75" x="1081.8" y="591.98" style="stroke: #000000; stroke-width: 0.8"/>
</g>
</g>
</g>
<g id="xtick_33">
<g id="line2d_254">
<g>
<use href="#m82f586ba75" x="1143" y="591.98" style="stroke: #000000; stroke-width: 0.8"/>
</g>
</g>
</g>
<g id="xtick_34">
<g id="line2d_255">
<g>
<use href="#m82f586ba75" x="1204.2" y="591.98" style="stroke: #000000; stroke-width: 0.8"/>
</g>
</g>
</g>
<g id="xtick_35">
<g id="line2d_256">
<g>
<use href="#m82f586ba75" x="1265.4" y="591.98" style="stroke: #000000; stroke-width: 0.8"/>
</g>
</g>
</g>
</g>
<g id="matplotlib.axis_13">
<g id="ytick_138">
<g id="line2d_257">
<g>
<use href="#m0bb405004b" x="867.6" y="368.68" style="stroke: #000000; stroke-width: 0.8"/>
</g>
</g>
<g id="text_67">
<text style="font-size: 14.4px; font-family: 'DejaVu Sans', 'Liberation Sans', sans-serif; text-anchor: end" x="864.1" y="374.15" transform="rotate(-0 864.1 374.154075)">0</text>
</g>
</g>
<g id="ytick_139">
<g id="line2d_258">
<g>
<use href="#m0bb405004b" x="867.6" y="418.31" style="stroke: #000000; stroke-width: 0.8"/>
</g>
</g>
<g id="text_68">
<text style="font-size: 14.4px; font-family: 'DejaVu Sans', 'Liberation Sans', sans-serif; text-anchor: end" x="864.1" y="423.78" transform="rotate(-0 864.1 423.776475)">−100</text>
</g>
</g>
<g id="ytick_140">
<g id="line2d_259">
<g>
<use href="#m0bb405004b" x="867.6" y="467.93" style="stroke: #000000; stroke-width: 0.8"/>
</g>
</g>
<g id="text_69">
<text style="font-size: 14.4px; font-family: 'DejaVu Sans', 'Liberation Sans', sans-serif; text-anchor: end" x="864.1" y="473.40" transform="rotate(-0 864.1 473.398875)">−200</text>
</g>
</g>
<g id="ytick_141">
<g id="line2d_260">
<g>
<use href="#m0bb405004b" x="867.6" y="517.55" style="stroke: #000000; stroke-width: 0.8"/>
</g>
</g>
<g id="text_70">
<text style="font-size: 14.4px; font-family: 'DejaVu Sans', 'Liberation Sans', sans-serif; text-anchor: end" x="864.1" y="523.02" transform="rotate(-0 864.1 523.021275)">−300</text>
</g>
</g>
<g id="ytick_142">
<g id="line2d_261">
<g>
<use href="#m0bb405004b" x="867.6" y="567.17" style="stroke: #000000; stroke-width: 0.8"/>
</g>
</g>
<g id="text_71">
<text style="font-size: 14.4px; font-family: 'DejaVu Sans', 'Liberation Sans', sans-serif; text-anchor: end" x="864.1" y="572.64" transform="rotate(-0 864.1 572.643675)">−400</text>
</g>
</g>
</g>
<g id="line2d_262">
<path d="M 867.6 368.68 
L 1296 368.68 
" clip-path="url(#p012178c608)" style="fill: none; stroke-dasharray: 1.5,2.475; stroke-dashoffset: 0; stroke: #000000; stroke-width: 1.5"/>
</g>
<g id="patch_79">
<path d="M 867.6 591.98 
L 867.6 343.87 
" style="fill: none; stroke: #000000; stroke-width: 1.5; stroke-linejoin: miter; stroke-linecap: square"/>
</g>
<g id="patch_80">
<path d="M 1296 591.98 
L 1296 343.87 
" style="fill: none; stroke: #000000; stroke-width: 1.5; stroke-linejoin: miter; stroke-linecap: square"/>
</g>
<g id="patch_81">
<path d="M 867.6 591.98 
L 1296 591.98 
" style="fill: none; stroke: #000000; stroke-width: 1.5; stroke-linejoin: miter; stroke-linecap: square"/>
</g>
<g id="patch_82">
<path d="M 867.6 343.87 
L 1296 343.87 
" style="fill: none; stroke: #000000; stroke-width: 1.5; stroke-linejoin: miter; stroke-linecap: square"/>
</g>
</g>
<g id="axes_8">
<g id="PH_p"><g transform="scale(0.72)"><path clip-path="url(#cR2)" d="M1205 623.7l.3 1.5l.3-5.4l.3 5.8l.3 4.2l.3-.5l.3-9.2l.3 .9l.3 1.6l.3-.1l.3-2.7l.2 5.4l.3 1.1l.3 2.7l.3-7.5l.3-2.3l.3 2.8l.3-3l.3 8.1l.3-6.5l.3-1.6l.3 3.7l.3-1.8l.3-2.1l.3-.5l.3-.5l.3 .3l.3-1.9l.3 8.3l.3-3.6l.3-1.7l.3-2.7l.2 2.9l.3 3.6l.3-5l.3 5.5l.3-5.1l.3 5l.3 3.2l.3-10.1l.3 8.3l.3-6.1l.3-2.3l.3 8.8l.3 2.3l.3 1.4l.3-11l.3 7.2l.3-5.1l.3 3.9l.3 7.2l.3-12l.3 1.2l.3 .1l.2 1.3l.3 7.5l.3-10.9l.3-.1l.3 .1l.3-1.4l.3 10.4l.3-4.9l.3 5.8l.3-5.5l.3 11.1l.3 1.9l.3-5.9l.3-6.7l.3-5.5l.3 2.5l.3 1l.3 16.7l.3 .2l.3-10.7l.3-.4l.2 10.2l.3-3.9l.3 .5l.3-6.5l.3-.3l.3-1.9l.3-3.8l.3 10.3l.3-11.1l.3 .8l.3 9.1l.3-11.2l.3 11.3l.3-5.1l.3 4.1l.3 15l.3-15.9l.3-5.9l.3 10.4l.3-4.4l.3 5.4l.2-5.7l.3 7.3l.3-1.6l.3-7.4l.3 4.6l.3-5l.3-.5l.3 5.2l.3-3l.3 6.8l.3-10.8l.3 9.2l.3 4.1l.3 2.8l.3-8.5l.3-5.3l.3-1.7l.3 3.2l.3 1.7l.3-2.9l.3-5.3l.2-.7l.3 4.1l.3 3.4l.3-5.3l.3-.7l.3 2.3l.3-.8l.3 10.5l.3-3.9l.3-4.3l.3 1.2l.3-.8l.3-6.1l.3 6.5l.3-.5l.3 11.9l.3-9.3l.3 1.4l.3 8.1l.3-11.9l.3 3.2l.2-5.3l.3 6.5l.3 6.5l.3-4.5l.3 1l.3-3.6l.3 0l.3 5.7l.3 1.8l.3-5.5l.3 7.1l.3-5.3l.3-5.6l.3 5.1l.3 .8l.3 .7l.3 9l.3 .4l.3 5.4l.3-11.8l.3 .2l.3-4.1l.2 5.7l.3 2.4l.3 4l.3-8.9l.3 3.2l.3 .3l.3 9l.3-9.8l.3 7.3l.3 9.6l.3-14.2l.3-1.8l.3-.1l.3 9.3l.3 6.4l.3-7.3l.3-1.5l.3-2.5l.3-6.4l.3 4.7l.3 1.4l.2-4.4l.3 8.1l.3-2.1l.3 6.5l.3 2.9l.3 .6l.3-7.1l.3-1.6l.3 5.4l.3-4.2l.3 11.8l.3 .1l.3-12l.3 1.3l.3 18.8l.3-1.3l.3-14.5l.3 14.4l.3-11.3l.3 1l.3-6.3l.2-3.8l.3 .2l.3-10.1l.3 5.1l.3 3.9l.3-6.3l.3 3l.3-3.9l.3 5.4l.3-3l.3 2.8l.3-6l.3 9.7l.3 5.5l.3 1l.3 .3l.3-8.1l.3 0l.3-9.2l.3 5.9l.3-2.2l.2-1.3l.3-8.5l.3 2.6l.3 1.4l.3-.5l.3 5l.3 7.7l.3-14.2l.3 .5l.3-1.2l.3 3.5l.3-.6l.3 9.7l.3-10l.3-.7l.3 5.4l.3-8.5l.3 4.8l.3 14.1l.3-7.8l.3 .7l.2 1.6l.3-5.6l.3 5.9l.3-11.7l.3 3.1l.3-.2l.3 9l.3 2.3l.3-8.4l.3 3.6l.3 1.3l.3 2.2l.3 0l.3-4.3l.3 3l.3-9.1l.3 1l.3-1.1l.3 1.3l.3-4.3l.3 12.6l.3-1.8l.2-11.2l.3-2.8l.3-2.1l.3 3.2M1287.1 650.4l.3 1.7l.3-12.8l.3-2.8l.3 2l.3-5.7l.3 7.1l.3 1.7l.3-.2l.2 3.8l.3 .8l.3-7.3l.3 7.8l.3-7.7l.3 6.1l.3-15l.3 7.8l.3-3.6l.3 1.3l.3 6l.3 .1l.3 7l.3-8.2l.3-5.3l.3 6.7l.3-6.2l.3 5.4l.3-2.9l.3 5.3l.3-3.7l.2-7.1l.3 8.4l.3 4.3l.3-3.2l.3-4.3l.3 .4l.3-.5l.3 6.4l.3-7.5l.3-2.3l.3 7.9l.3 0l.3-5l.3 4.4l.3 5l.3 4.8l.3-13.6l.3 11.7l.3-10.2l.3-8.5l.3 7.4l.2 .1l.3 4.5l.3-5.3l.3-1.7l.3 5.6l.3 4.8l.3-6.4l.3 10.1l.3-6.1l.3-5.1l.3-2.1l.3 2.2l.3 12.8l.3-9.2l.3-3.3l.3 6.1l.3-2.6l.3 1.1l.3 10.8l.3-9.7l.3 2.7l.2-11.8l.3 5.3l.3 8.1l.3-3l.3-5.2l.3 5.9l.3 5.8l.3-5.3l.3 8.8l.3-4.9l.3-6l.3 .9l.3-4.3l.3 6.9l.3-2.3l.3-4.3l.3 4.2l.3 .4l.3 10.3l.3-10.6l.3-3.1l.3-6l.2 4.2l.3-6.3l.3 3.4l.3 5.9l.3-3.1l.3-.9l.3 6.4l.3-5.4l.3 8.3l.3 2.1l.3-14.7l.3 .4l.3 14.5l.3-3.9l.3-8.2l.3-2l.3 3.4l.3-4l.3 3.9l.3 0l.3 3.3l.2 2.8l.3-7.6l.3-4.3l.3 9.6l.3-3.7l.3 1.9l.3 1.8l.3-6.1l.3 5.6l.3-3.4l.3-1.1l.3 10.9l.3 4.8l.3-10.9l.3 6.9l.3-7.2l.3 .3l.3-6l.3 2.2l.3-.1l.3 7.4l.2-4.7l.3 .6l.3 12.4l.3-10.2l.3-1.9l.3-6.5l.3 7.5l.3 1.6l.3 7.8l.3-13.5l.3 2.4l.3-.8l.3 9.2l.3-12.9l.3 8.8l.3 .2l.3-8.3l.3 2.8l.3-1.8l.3 2.6l.3-2.2l.2 4.5l.3-2.7l.3 .1l.3 5.2l.3-1l.3 1.3l.3-7.4l.3 2.5l.3-5.8l.3 2.3l.3 2.4l.3 3.4l.3-3.1l.3 .8l.3 4.4l.3-4.2l.3 .6l.3 8l.3-9.2l.3 0l.3-2l.3 10.4l.2-5.2l.3-2l.3 11.7l.3-6.1l.3 0l.3-4.4l.3-1.4l.3 9.4l.3-1.9l.3 2.8l.3-.7l.3-6l.3 3.5l.3-6l.3-1.1l.3 3.9l.3 11.8l.3-11.5l.3-3.1l.3 6.5l.3-4l.2 2.8l.3 13.6l.3-9.7l.3-2.6l.3 9.9l.3-3.5l.3-.5l.3-1.8l.3 .4l.3 11.6l.3 5.8l.3-12.9l.3 3.9l.3 5.8l.3 2.7l.3-1.2l.3-6.8l.3 4.1l.3-4.1l.3-6.9l.3-2l.2-6l.3-.8l.3-4.4l.3 12.4l.3 2.6l.3-4.2l.3-3.6l.3 9.3l.3-5.9l.3 1.4l.3 4.6l.3-5.6l.3-3l.3 1.2l.3 4.5l.3-10.5l.3 23.7l.3-9.4l.3 7.3l.3-7.6l.3-13.4l.2-.3l.3 21.8l.3-9.7l.3 4.9l.3-1.7l.3 3.8l.3-15.2l.3 22l.3 9.4l.3-7.9l.3-23.8l.3 6.6l.3-6.8l.3 8.4l.3 4.6l.3-12l.3 .7l.3 25.2l.3-14.6l.3-10.2l.3-2.9l.2 6.2l.3-2.7l.3 2.2l.3 4.9l.3-6.2l.3-1.2l.3-8.1l.3-11.6l.3 23.3l.3 9.4l.3-12.6l.3 5.2l.3 13l.3-2.7M1372.7 675.3l.3 3.5l.3 6.9l.3-11.6l.3 2.1l.3 6.4l.3-2.1l.3-3.7l.3 26.5l.3-30l.3-.4l.3 1.6l.3-4.6l.3 3.4l.3 1.6l.3-3.1l.2 6.8l.3 7l.3-5.6l.3-15.7l.3 23.8l.3-15.8l.3 11.3l.3-4.9l.3 .6l.3-6l.3 17.5l.3-13l.3-3.8l.3 4.2l.3 .9l.3 18.5l.3 10.3l.3-9.1l.3-4.7l.3-3.2l.3-10l.2 1.3l.3 9l.3-12.5l.3 10.8l.3-13.5l.3 12.3l.3 6l.3-13.2l.3 4.7l.3 .9l.3-4.7l.3-7.2l.3-4.4l.3 11.3l.3 6.8l.3-14.1l.3 4.1l.3-4.3l.3 6.7l.3-3.9l.3 7.2l.2-.6l.3 11l.3-5.4l.3 5.3l.3 2.8l.3-7.6l.3-1.2l.3 12.5l.3-15.2l.3 11.5l.3 3.9l.3-7.6l.3-2.9l.3-6.7l.3-5.5l.3 .9l.3 5.1l.3-3l.3 1.8l.3-3.7l.3-2.1l.2-4.9l.3 .6l.3 5.3l.3-2.4l.3-4l.3-1.3l.3 3l.3-5.8l.3-6.7l.3-4l.3 1.6l.3 3l.3-.6l.3-2.3l.3 6.2l.3-6.3l.3-2.4l.3-5l.3 2.5l.3 7.5l.3-12l.3-2.5l.2 9.7l.3-6.6l.3-2.3l.3-4.6l.3 4.1l.3-.9l.3 13.1l.3 3l.3-9.3l.3-6.6l.3 1.4l.3-6.3l.3 4.4l.3-1.4l.3 3.4l.3-4l.3-.1l.3-5.1l.3 10.9l.3-4.1l.3 5.5l.2-10.2l.3 3.5l.3-4l.3 4l.3 10.2l.3-8.5l.3-.3l.3 7.9l.3 3.9l.3-.5l.3 .9l.3-12.3l.3-3.5l.3 2.2l.3 13.1l.3-12.9l.3 .5l.3 8.9l.3 2.1l.3-3.7l.3 8.1l.2-17.7l.3 8.8l.3-3l.3 6.6l.3-5.3l.3 2.2l.3-5.3l.3-3.7l.3 10.8l.3-6.1l.3 12.3l.3-6.6l.3-6.8l.3 13.1l.3 13.4l.3-20.9l.3 .3l.3 14l.3-14l.3 2.7l.3 9.4l.2-6.9l.3-2.4l.3 19.1l.3-9.8l.3-4.2l.3-6.3l.3 7.2l.3-1.3l.3 13.9l.3 7.1l.3-10.5l.3 16.4l.3-3l.3-13.7l.3 8.3l.3-3.2l.3-5l.3-3.6l.3 0l.3 3.2l.3-1.4l.2-2.9l.3 11.5l.3-11.2l.3 7.2l.3-6l.3 3.4l.3-5.1l.3 11.2l.3-9.1l.3-8.1l.3 8.6l.3-1.4l.3 15.1l.3-.7l.3 2.1l.3-16.3l.3-4.4l.3 2.9l.3 15.2l.3 14.5l.3-9.3l.3-1.7l.2 7.1l.3 4l.3-20.8l.3-.9l.3 22.3l.3 6.4l.3-1.9l.3-14.4l.3 1.4l.3 .7l.3-.6l.3-6.1l.3 6.1l.3 3l.3-3.6l.3 11.7l.3-1.4l.3-10.1l.3 6.3l.3-11.2l.3 6.8l.2 9.5l.3-10.1l.3 .4l.3 17l.3-21l.3-3.8l.3 16.1l.3-10.5l.3 8.8l.3-11.3l.3-4.3l.3-1.3l.3 7.1l.3-3.3l.3-2.2l.3 24.6l.3-10.8l.3-17l.3 3.5l.3-.6l.3-.1l.2 .4l.3 6.9l.3-4l.3 3.3l.3-5.2l.3-.8l.3 14.8l.3-7.6l.3 2.8l.3 17.8l.3-13.1l.3-1.2l.3-3.3l.3-.3l.3 .8l.3 5.1l.3 3.7l.3-5.3l.3 9l.3-12.5l.3-.6l.2-2.1l.3 18.5l.3-7.6l.3 1.4l.3-19.3l.3 9.1l.3 7.2l.3-5.4l.3-11l.3 5.7M1457.5 702.9l.3-13.3l.3 4.7l.3 .6l.3-1.4l.2 23.4l.3-9.1l.3-5.7l.3-12.8l.3 5.3l.3 1.3l.3-5.7l.3 .3l.3 1.6l.3-2.8l.3-7.8l.3-.6l.3 7.9l.3-1.9l.3 10.9l.3-7.8l.3 .6l.3 2.3l.3-4.6l.3 2.2l.3 4.6l.2 .6l.3-5.5l.3-3.9l.3-8.9l.3-1.7l.3-2l.3 2.7l.3-4.4l.3-.9l.3-2.3l.3 2.8l.3-4.9l.3 12.2l.3-16.4l.3 8.5l.3-7.7l.3 9.3l.3-8.7l.3-.1l.3-5.4l.3 11.9l.2-3.6l.3 1.9l.3-5.7l.3-5.7l.3 12.2l.3-10l.3 3.5l.3-1.4l.3-3.3l.3-.8l.3-.1l.3-.2l.3 2.8l.3 .2l.3-3.5l.3-.1l.3 4l.3 1.2l.3-5.1l.3-4.3l.3 4.4l.2 .2l.3 .1l.3 .8l.3-.8l.3 .3l.3 0l.3 1.2l.3-1.2l.3-1.5l.3 3.5l.3 1.5l.3-3.8l.3-.8l.3 2.8l.3-2.3l.3-.2l.3 .1l.3 .4l.3-1.9l.3 6l.3-6.2l.2 6.9l.3-4.3l.3-.8l.3 5.6l.3 3.7l.3-4.1l.3-5.6l.3-1.7l.3 5.3l.3-5l.3-2.3l.3 1.8l.3 7.7l.3-.3l.3 1.5l.3 .3l.3-1.8l.3-1l.3-4.1l.3 4.3l.3 .8l.3 1.9l.2-2.2l.3 .1l.3 2.9l.3-6.7l.3 4.8l.3 2.4l.3 .1l.3-5.1l.3 2.4l.3 2.2l.3-4.3l.3-1.1l.3-3.1l.3 2.7l.3-.6l.3 4.6l.3-5.6l.3 1.4l.3-1.3l.3-1.9l.3-.7l.2 0l.3-.5l.3-.8l.3 2.1l.3-3l.3-1.6l.3 2.5l.3 2l.3-4.2l.3-2.2l.3-.8l.3 6.3l.3-5.1l.3 1.4l.3-1.8l.3 1.4l.3-.3l.3-3.5l.3-.9l.3 6.4l.3-2.2l.2 1.8l.3-4l.3 2.5l.3-2.8l.3 2l.3 3.1l.3-5.4l.3-.4l.3-1.6l.3-1.9l.3-1.6l.3 2.2l.3-3.2l.3 4.4l.3 2.8l.3-1.8l.3-7.5l.3 4.6l.3 1.4l.3 3.5l.3-5.6l.2-.3l.3-1l.3-.1l.3-.2l.3-3.7l.3-.6l.3 1.9l.3-.6l.3 4.3l.3 2.5l.3 3.8l.3-3.8l.3 1.4l.3-5.3l.3-2l.3 2.6l.3-2.8l.3-.3l.3 1.3l.3 1.3l.3-2.9l.2 4.7l.3-1.8l.3-5.7l.3 3.2l.3 1l.3-3.6l.3-3.6l.3-2.7l.3 2.3l.3 1.4l.3-7.7l.3 1.1l.3-4.5l.3-4l.3-.8l.3 .3l.3-.6l.3 .8l.3-.3l.3 4l.3-6.7l.3 4.8l.2-3.9l.3-2.3l.3 2.9l.3 1.3l.3-4.2l.3 3.8l.3-4.4l.3 3.8l.3-2.8l.3-1.4l.3-.9l.3 1.1l.3 2.5l.3-.2l.3-2.2l.3 8.5l.3-3.6l.3 2l.3-2.7l.3-5.6l.3 2.9l.2 2.3l.3-1l.3 0l.3 4.1l.3-3.5l.3-1.9l.3 7.2l.3-5l.3 .5l.3 7.6l.3-7.5l.3 1.6l.3 3.8l.3-3l.3 .3l.3 3.7l.3-3.4l.3 4.9l.3-6.4l.3 .4l.3 4.7l.2-1.3l.3-1l.3-2.5l.3-.3l.3 5.7l.3-3.9M1537.8 623.6l.3 3.3l.3-8.7l.3 6.9l.3-3.1l.3 4.3l.3-1.8l.3 .2l.2-.3l.3-2.4l.3-.6l.3 2.9l.3 0l.3 4.4l.3 3.7l.3 1.3l.3-6l.3 1.8l.3-1.4l.3-1.3l.3 2.5l.3 .1l.3-3.9l.3 .1l.3 6.9l.3-5.7l.3 1.3l.3-9.4l.3-5.7l.2 .6l.3-7.1l.3 1.3l.3-7.2l.3-6.1l.3-2.7l.3 5.5l.3-1.1l.3 3.3l.3-.3l.3-7.5l.3 1.3l.3 1.3l.3-2.8l.3-2.6l.3 4.9l.3 1.8l.3-8.6l.3 6.9l.3-9.5l.3 2.8l.3-3.7l.2-5.1l.3 14.1l.3 4.1l.3-3.3l.3-8.9l.3 3.4l.3-2.5l.3 2.3l.3-1.2l.3-6l.3 1.1l.3-1.5l.3 2.8l.3 .3l.3-.6l.3-1.8l.3-1.4l.3 7l.3 7.9l.3-4.3l.3 1l.2-.5l.3-.4l.3 7.9l.3 .6l.3 7.3l.3 2.7l.3 5l.3-2.4l.3-1.9l.3 4l.3 11.3l.3-2.2l.3 9.1l.3-5.6l.3 2.6l.3-.2l.3-.5l.3 1l.3-2.6l.3 5.1l.3 .6l.2 .5l.3-1.6l.3-5l.3 1.2l.3-2.1l.3-4.3l.3 5.9l.3-.2l.3-2.1l.3-.6l.3 6.1l.3-2.6l.3 4.8l.3-5.8l.3 1.5l.3 7.3l.3-3.2l.3-3.8l.3-.8l.3-2l.3-2.8l.2 2l.3 2.3l.3 6.5l.3 .5l.3 7.4l.3-6.7l.3-8.1l.3 17.4l.3 2.5l.3-5l.3-.2l.3-11.6l.3 10.7l.3-10.9l.3-5.2l.3-3.6l.3 8.4l.3-9.2l.3 6.2l.3-8.8l.3-4l.3-1l.2 10.7l.3-15.6l.3 4.5l.3-6.1l.3 3.5l.3-2.3l.3 11.3l.3 3.2l.3-11.2l.3-6.5l.3 1.5l.3 21.5l.3 1l.3 1.3l.3-19.6l.3 7.9l.3-13.1l.3 20l.3-4.8l.3-18.9l.3-7.1l.2 2.2l.3 12.4l.3-4.8l.3 16.3l.3-7.9l.3 8.3l.3-25.1l.3 4.7l.3-7.5l.3 3.6l.3 3.7l.3 3.4l.3-7.9l.3 3.4l.3-1.3l.3 3l.3-6.4l.3 9.9l.3-12.4l.3 8.1l.3-10.2l.2-3.2l.3-12l.3 14.2l.3-17.5l.3 32.6l.3-10.4l.3-17.4l.3 3.7l.3-6.8l.3 7.4l.3-8.6l.3 4.7l.3-3.4l.3 5.8l.3 2.6l.3 14.9l.3-15.4l.3 7.4l.3-1.3l.3 15.7l.3-15.9l.2-2.9l.3 8.3l.3 .3l.3-5.1l.3 2.4l.3 1.7l.3 7.2l.3 .1l.3 5.6l.3 4.3l.3-10.7l.3 6.8l.3-10.1l.3-1.9l.3-5.6l.3-3.1l.3 1.2l.3-1.6l.3-5l.3 2.1l.3 .3l.2-2.1l.3-4l.3 13.1l.3 14.2l.3-27.6l.3-10.9l.3 5.5l.3-5.6l.3-9.9l.3 1.5l.3 7.6l.3 7.2l.3 2.9l.3 10l.3-17.5l.3 12.6l.3 2.8l.3-4.9l.3-11.1l.3 11.1l.3 8.3l.3-10.9l.2 2.6l.3 3.7l.3-1l.3 16.5l.3-8.9l.3-1.3l.3-2.3l.3-1.2l.3-8.5l.3 30.1l.3 6l.3-14.6l.3 9.4l.3 5.1l.3-11.4l.3-5.1l.3-.9l.3-20.8l.3 10.2l.3-6.5l.3 16l.2 2.2l.3-3.9l.3 8l.3 .1l.3-.2l.3 6l.3-14.9l.3 7.9l.3 2.3l.3 3.7l.3-15l.3-.3l.3-5.2l.3 2.5l.3-4.2l.3 .2l.3-12.1l.3-.9l.3 17.6l.3-2.5l.3-12.8l.2 11.9l.3-11.3l.3 6.7l.3-6.7l.3 7.8l.3-1.9l.3 2.7M1626.7 566.4l.3-4.9l.3 .4l.3-1l.2 14.2l.3 .3l.3 1.8l.3 11.1l.3 7.5l.3-9.3l.3 11.5l.3-12.7l.3-.5l.3 14.9l.3-5.8l.3 .2l.3 .6l.3-6.6l.3 5.9l.3 3.1l.3 12.9l.3-7.9l.3-12.9l.3 16.1l.3-5.7l.2 .6l.3-13.3l.3 8.7l.3-9.7l.3 16.6l.3-9l.3 3l.3 7.3l.3-12.7l.3 10.6l.3-14.5l.3-1l.3 3.8l.3 5.9l.3-1.6l.3 1.4l.3 11.8l.3-8.2l.3-3.8l.3 2.1l.3 .5l.3 21.7l.2-5.2l.3-5.2l.3 7.2l.3 3l.3 10.3l.3-22.1l.3 2.8l.3-1.6l.3 1l.3 1.2l.3 1.3l.3-12.5l.3 9.8l.3 4l.3 18l.3-14.7l.3-6.5l.3-2.6l.3 9.4l.3-.8l.3 2.6l.2-4.3l.3 2.5l.3-4.3l.3 4.2l.3 .2l.3-.5l.3 14.1l.3-.7l.3 .6l.3 9.5l.3-13.4l.3 .7l.3-4.3l.3 12.7l.3-2.4l.3-19.2l.3 6.9l.3 5.3l.3-4.3l.3-1.5l.3-7.5l.2-8.5l.3-7.6l.3 6.8l.3-8.9l.3 11.5l.3-8.2l.3-2.4l.3 4.5l.3-2.7l.3-1.5l.3-6.8l.3 4.5l.3 3.1l.3-4.7l.3-4.1l.3-1.5l.3 2.6l.3-.9l.3 1.9l.3 6.7l.3-9.8l.2-6l.3-1.1l.3 2.2l.3 5.4l.3-2.5l.3-6.5l.3 4.7l.3 3.5l.3-7l.3 12.7l.3-6.7l.3-.4l.3-3.4l.3 1.7l.3 9.5l.3-1.8l.3 11.5l.3-7.4l.3-1.2l.3 7.6l.3-7.1l.2 4.8l.3 .1l.3 2l.3-7.9l.3 1.3l.3-1.4l.3-3.8l.3 4.9l.3-1l.3-1.9l.3 3l.3 2.7l.3 5.2l.3 1.7l.3-6.4l.3 5.2l.3-6.1l.3-3.7l.3-1.5l.3 3.3l.3-3.8l.3 6.1l.2-1.1l.3 0l.3 2.1l.3 2.4l.3 11l.3-5.4l.3-10.2l.3 10l.3-8.8l.3-8.5l.3-.1l.3-.6l.3-2.3l.3 5.8l.3-8.3l.3 1.3l.3 17.4l.3-8.2l.3-4.4l.3-3.2l.3 11.8l.2-10.2l.3-2.9l.3 .2l.3 5.6l.3 12l.3-17.1l.3-4.1l.3 3.2l.3 .2l.3 7.3l.3 2.1l.3 10.4l.3 .8l.3-10.9l.3 7l.3 1l.3-7.1l.3 10.7l.3 9.4l.3-17.1l.3 11.8l.2 16.7l.3-19.4l.3 3.5l.3-4.7l.3-.3l.3 3.5l.3-6.3l.3 9.1l.3-5l.3 6.1l.3-18.6l.3-2.1l.3 6.2l.3-2.5l.3 2.5l.3-1.5l.3-1.3l.3 8.7l.3-6.1l.3 7l.3 6.9l.2-7.1l.3 15.7l.3-12.2l.3 11.1l.3-4.7l.3 6.4l.3-1.4l.3 .6l.3 2.7l.3-11.7l.3-11.7l.3 9l.3 2.2l.3-9.2l.3-4.2l.3-5.1l.3 7.8l.3 8.6l.3-12.2l.3 11.4l.3-7.7l.3-10l.2 12.7l.3 1.1l.3-.4l.3-10.1l.3-3l.3 2.1l.3 17.2l.3-7.3l.3 3.4l.3 8l.3-22.8l.3 14.2l.3-11.6l.3 20.8l.3-6.8l.3-4.5l.3 8.5l.3-22.3l.3 12.9l.3 6.7l.3-11.5l.2-8.1l.3 3.9l.3-4l.3 7.7l.3-.8l.3 13l.3-7.4l.3 16.2l.3-17.4l.3 12.5l.3-5.6l.3-.5l.3-10.3l.3-2.3l.3 4.8l.3-6.4l.3-.3M1711.1 612.4l.3-11.4l.3-2.3l.3-3.4l.3 8.2l.3-2.9l.3 16.9l.3-5.8l.3-4.4l.3 6.5l.3-4.8l.3-2.2l.3-7.6l.3-3.8l.3 3l.2 .6l.3-1.6l.3-1.4l.3 3.9l.3 1.7l.3-3l.3 2.1l.3-5.6l.3 7l.3-3.2l.3 1.1l.3 3.4l.3 8.4l.3-10.9l.3 3.1l.3-2.1l.3 1.5l.3 0l.3-3.1l.3 4.2l.3-.5l.2 0l.3-4.4l.3 2.2l.3 6.3l.3-6.3l.3-3.6l.3 2.4l.3-6.4l.3 3.7l.3 3.3l.3 2.3l.3-1.7l.3-7.3l.3-.8l.3 6.1l.3-1.5l.3-3.1l.3 4l.3-7.2l.3-.8l.3 3.7l.3-1.3l.2-1l.3 8.2l.3 .1l.3-7.9l.3-1.6l.3 5.9l.3 5.7l.3-7.5l.3-3.4l.3-2.1l.3 11l.3-3.9l.3 2l.3-3.3l.3-6l.3 .1l.3 1.5l.3 2.6l.3-.9l.3 6.3l.3-6l.2-1l.3-1.8l.3 .2l.3-1.5l.3 1.6l.3 1.6l.3 6.6l.3 .5l.3-8.3l.3 .3l.3 9.4l.3-3.2l.3 .2l.3-2.5l.3 2.7l.3-6.1l.3 2.3l.3-3.6l.3 6.7l.3-9.3l.3-3.1l.2 2.2l.3 1.2l.3 1.7l.3 2.5l.3-3.3l.3-3.3l.3 0l.3 2.6l.3-2.4l.3 9.1l.3-8.6l.3-2.5l.3 3.9l.3-3.8l.3-.4l.3-.4l.3 7.5l.3 1.5l.3-.4l.3-1.7l.3 .1l.2-.4l.3-2.5l.3 4.9l.3 0l.3 8.7l.3-10.5l.3 3.8l.3 7.6l.3 2.5l.3-10.8l.3-.6l.3 5.4l.3-2.2l.3-1.1l.3-4.5l.3 3.6l.3-1.8l.3-2.2l.3-.8l.3-.2l.3 1l.2 3.5l.3 3.3l.3 8l.3-11.3l.3 2.9l.3-1.3l.3-1.4l.3 3.9l.3-3.8l.3 .9l.3-2.6l.3-6.8l.3 2.2l.3-.7l.3 2.5l.3-1.7l.3 .2l.3-1.8l.3 4.7l.3-1.6l.3-4.2l.3-1.4l.2 .4l.3 7.7l.3 1.2l.3-.2l.3 3.1l.3-1.5l.3-8.1l.3-.7l.3-.4l.3 .8l.3 .4l.3 1l.3 .3l.3 1.5l.3 2.4l.3 1.5l.3 1.4l.3-2.1l.3 4.2l.3 .2l.3 2.3l.2-5.9l.3-1.4l.3-1.4l.3-1.8l.3-.1l.3 .8l.3 4.3l.3-2.3l.3 4.8l.3 4.6l.3-7l.3-1l.3-9.8l.3 6.3l.3 1.2l.3 .2l.3-8.4l.3 11.7l.3-8.3l.3 1.7l.3 5.8l.2-7.9l.3-.8l.3 .9l.3-3.1l.3 9.8l.3-3.3l.3 2.7l.3-8.7l.3 7.1l.3-2.7l.3 8.2l.3-11.4l.3 8.6l.3-2.7l.3-3.3l.3 2l.3-.1l.3-3l.3-4.8l.3-1l.3-.4l.2 6.1l.3-3l.3 3.6l.3 .9l.3-.6l.3-5.2l.3 1.4l.3 2.3l.3-2l.3 1.2l.3-4.5l.3 5.5l.3-1l.3-.9l.3 4.1l.3 1.5l.3 2l.3 .5l.3 3.3l.3-1.2l.3 3.2l.2-4.4l.3 1.6l.3-6.4l.3 1.5l.3 3.5l.3 2.9l.3-2.8l.3 1.9l.3 2.9l.3-1.7l.3 2.5l.3 12.2l.3-9.8l.3 7.8l.3-9.7l.3 7.8l.3-6.5l.3 3.2l.3 .5l.3-.1l.3-3.6l.3-1.3l.2 8.5l.3-7.6l.3 3l.3 8.6l.3-7.8l.3-2.7l.3 7.6l.3-11.9l.3-3.7l.3 2.6l.3-2.8l.3 2.5l.3 4.1l.3-2.1l.3-1.5l.3-1.3l.3 4.6l.3-4.1l.3 2l.3-1.6l.3 1.1l.2 1.4l.3 5.5l.3-2.8l.3 2.5l.3 1.8l.3-7.1l.3 .9l.3 1.5l.3 2.9l.3 3.1l.3-5.4" fill="none" stroke="#f00" stroke-width="2.35" stroke-linejoin="round"/></g></g>
<g id="matplotlib.axis_14">
<g id="ytick_143">
<g id="line2d_263">
<g>
<use href="#m73b463b798" x="1296" y="591.98" style="fill: #ff0000; stroke: #ff0000; stroke-width: 0.8"/>
</g>
</g>
<g id="text_72">
<g style="fill: #ff0000" transform="translate(1299.5 597.454875)">
<text>
<tspan x="0" y="-0.37" style="font-size: 14.4px; font-family: 'DejaVu Sans', 'Liberation Sans', sans-serif; fill: #ff0000">1</tspan>
<tspan x="9.15" y="-0.37" style="font-size: 14.4px; font-family: 'DejaVu Sans', 'Liberation Sans', sans-serif; fill: #ff0000">0</tspan>
<tspan x="18.43" y="-5.73" style="font-size: 10.08px; font-family: 'DejaVu Sans', 'Liberation Sans', sans-serif; fill: #ff0000">−</tspan>
<tspan x="26.86" y="-5.73" style="font-size: 10.08px; font-family: 'DejaVu Sans', 'Liberation Sans', sans-serif; fill: #ff0000">2</tspan>
</text>
</g>
</g>
</g>
<g id="ytick_144">
<g id="line2d_264">
<g>
<use href="#m73b463b798" x="1296" y="529.96" style="fill: #ff0000; stroke: #ff0000; stroke-width: 0.8"/>
</g>
</g>
<g id="text_73">
<g style="fill: #ff0000" transform="translate(1299.5 535.426875)">
<text>
<tspan x="0" y="-0.50" style="font-size: 14.4px; font-family: 'DejaVu Sans', 'Liberation Sans', sans-serif; fill: #ff0000">1</tspan>
<tspan x="9.15" y="-0.50" style="font-size: 14.4px; font-family: 'DejaVu Sans', 'Liberation Sans', sans-serif; fill: #ff0000">0</tspan>
<tspan x="18.43" y="-5.86" style="font-size: 10.08px; font-family: 'DejaVu Sans', 'Liberation Sans', sans-serif; fill: #ff0000">−</tspan>
<tspan x="26.86" y="-5.86" style="font-size: 10.08px; font-family: 'DejaVu Sans', 'Liberation Sans', sans-serif; fill: #ff0000">1</tspan>
</text>
</g>
</g>
</g>
<g id="ytick_145">
<g id="line2d_265">
<g>
<use href="#m73b463b798" x="1296" y="467.93" style="fill: #ff0000; stroke: #ff0000; stroke-width: 0.8"/>
</g>
</g>
<g id="text_74">
<g style="fill: #ff0000" transform="translate(1299.5 473.398875)">
<text>
<tspan x="0" y="-0.37" style="font-size: 14.4px; font-family: 'DejaVu Sans', 'Liberation Sans', sans-serif; fill: #ff0000">1</tspan>
<tspan x="9.15" y="-0.37" style="font-size: 14.4px; font-family: 'DejaVu Sans', 'Liberation Sans', sans-serif; fill: #ff0000">0</tspan>
<tspan x="18.43" y="-5.73" style="font-size: 10.08px; font-family: 'DejaVu Sans', 'Liberation Sans', sans-serif; fill: #ff0000">0</tspan>
</text>
</g>
</g>
</g>
<g id="ytick_146">
<g id="line2d_266">
<g>
<use href="#m73b463b798" x="1296" y="405.9" style="fill: #ff0000; stroke: #ff0000; stroke-width: 0.8"/>
</g>
</g>
<g id="text_75">
<g style="fill: #ff0000" transform="translate(1299.5 411.370875)">
<text>
<tspan x="0" y="-0.50" style="font-size: 14.4px; font-family: 'DejaVu Sans', 'Liberation Sans', sans-serif; fill: #ff0000">1</tspan>
<tspan x="9.15" y="-0.50" style="font-size: 14.4px; font-family: 'DejaVu Sans', 'Liberation Sans', sans-serif; fill: #ff0000">0</tspan>
<tspan x="18.43" y="-5.86" style="font-size: 10.08px; font-family: 'DejaVu Sans', 'Liberation Sans', sans-serif; fill: #ff0000">1</tspan>
</text>
</g>
</g>
</g>
<g id="ytick_147">
<g id="line2d_267">
<g>
<use href="#m73b463b798" x="1296" y="343.87" style="fill: #ff0000; stroke: #ff0000; stroke-width: 0.8"/>
</g>
</g>
<g id="text_76">
<g style="fill: #ff0000" transform="translate(1299.5 349.342875)">
<text>
<tspan x="0" y="-0.37" style="font-size: 14.4px; font-family: 'DejaVu Sans', 'Liberation Sans', sans-serif; fill: #ff0000">1</tspan>
<tspan x="9.15" y="-0.37" style="font-size: 14.4px; font-family: 'DejaVu Sans', 'Liberation Sans', sans-serif; fill: #ff0000">0</tspan>
<tspan x="18.43" y="-5.73" style="font-size: 10.08px; font-family: 'DejaVu Sans', 'Liberation Sans', sans-serif; fill: #ff0000">2</tspan>
</text>
</g>
</g>
</g>
<g id="ytick_148">
<g id="line2d_268">
<defs>
<path id="mb0ffcda23e" d="M 0 0 
L -2.7 0 
" style="stroke: #ff0000; stroke-width: 0.6"/>
</defs>
<g>
<use href="#mb0ffcda23e" x="1296" y="573.31" style="fill: #ff0000; stroke: #ff0000; stroke-width: 0.6"/>
</g>
</g>
</g>
<g id="ytick_149">
<g id="line2d_269">
<g>
<use href="#mb0ffcda23e" x="1296" y="562.39" style="fill: #ff0000; stroke: #ff0000; stroke-width: 0.6"/>
</g>
</g>
</g>
<g id="ytick_150">
<g id="line2d_270">
<g>
<use href="#mb0ffcda23e" x="1296" y="554.64" style="fill: #ff0000; stroke: #ff0000; stroke-width: 0.6"/>
</g>
</g>
</g>
<g id="ytick_151">
<g id="line2d_271">
<g>
<use href="#mb0ffcda23e" x="1296" y="548.63" style="fill: #ff0000; stroke: #ff0000; stroke-width: 0.6"/>
</g>
</g>
</g>
<g id="ytick_152">
<g id="line2d_272">
<g>
<use href="#mb0ffcda23e" x="1296" y="543.72" style="fill: #ff0000; stroke: #ff0000; stroke-width: 0.6"/>
</g>
</g>
</g>
<g id="ytick_153">
<g id="line2d_273">
<g>
<use href="#mb0ffcda23e" x="1296" y="539.56" style="fill: #ff0000; stroke: #ff0000; stroke-width: 0.6"/>
</g>
</g>
</g>
<g id="ytick_154">
<g id="line2d_274">
<g>
<use href="#mb0ffcda23e" x="1296" y="535.97" style="fill: #ff0000; stroke: #ff0000; stroke-width: 0.6"/>
</g>
</g>
</g>
<g id="ytick_155">
<g id="line2d_275">
<g>
<use href="#mb0ffcda23e" x="1296" y="532.79" style="fill: #ff0000; stroke: #ff0000; stroke-width: 0.6"/>
</g>
</g>
</g>
<g id="ytick_156">
<g id="line2d_276">
<g>
<use href="#mb0ffcda23e" x="1296" y="511.28" style="fill: #ff0000; stroke: #ff0000; stroke-width: 0.6"/>
</g>
</g>
</g>
<g id="ytick_157">
<g id="line2d_277">
<g>
<use href="#mb0ffcda23e" x="1296" y="500.36" style="fill: #ff0000; stroke: #ff0000; stroke-width: 0.6"/>
</g>
</g>
</g>
<g id="ytick_158">
<g id="line2d_278">
<g>
<use href="#mb0ffcda23e" x="1296" y="492.61" style="fill: #ff0000; stroke: #ff0000; stroke-width: 0.6"/>
</g>
</g>
</g>
<g id="ytick_159">
<g id="line2d_279">
<g>
<use href="#mb0ffcda23e" x="1296" y="486.60" style="fill: #ff0000; stroke: #ff0000; stroke-width: 0.6"/>
</g>
</g>
</g>
<g id="ytick_160">
<g id="line2d_280">
<g>
<use href="#mb0ffcda23e" x="1296" y="481.69" style="fill: #ff0000; stroke: #ff0000; stroke-width: 0.6"/>
</g>
</g>
</g>
<g id="ytick_161">
<g id="line2d_281">
<g>
<use href="#mb0ffcda23e" x="1296" y="477.54" style="fill: #ff0000; stroke: #ff0000; stroke-width: 0.6"/>
</g>
</g>
</g>
<g id="ytick_162">
<g id="line2d_282">
<g>
<use href="#mb0ffcda23e" x="1296" y="473.94" style="fill: #ff0000; stroke: #ff0000; stroke-width: 0.6"/>
</g>
</g>
</g>
<g id="ytick_163">
<g id="line2d_283">
<g>
<use href="#mb0ffcda23e" x="1296" y="470.77" style="fill: #ff0000; stroke: #ff0000; stroke-width: 0.6"/>
</g>
</g>
</g>
<g id="ytick_164">
<g id="line2d_284">
<g>
<use href="#mb0ffcda23e" x="1296" y="449.26" style="fill: #ff0000; stroke: #ff0000; stroke-width: 0.6"/>
</g>
</g>
</g>
<g id="ytick_165">
<g id="line2d_285">
<g>
<use href="#mb0ffcda23e" x="1296" y="438.33" style="fill: #ff0000; stroke: #ff0000; stroke-width: 0.6"/>
</g>
</g>
</g>
<g id="ytick_166">
<g id="line2d_286">
<g>
<use href="#mb0ffcda23e" x="1296" y="430.58" style="fill: #ff0000; stroke: #ff0000; stroke-width: 0.6"/>
</g>
</g>
</g>
<g id="ytick_167">
<g id="line2d_287">
<g>
<use href="#mb0ffcda23e" x="1296" y="424.57" style="fill: #ff0000; stroke: #ff0000; stroke-width: 0.6"/>
</g>
</g>
</g>
<g id="ytick_168">
<g id="line2d_288">
<g>
<use href="#mb0ffcda23e" x="1296" y="419.66" style="fill: #ff0000; stroke: #ff0000; stroke-width: 0.6"/>
</g>
</g>
</g>
<g id="ytick_169">
<g id="line2d_289">
<g>
<use href="#mb0ffcda23e" x="1296" y="415.51" style="fill: #ff0000; stroke: #ff0000; stroke-width: 0.6"/>
</g>
</g>
</g>
<g id="ytick_170">
<g id="line2d_290">
<g>
<use href="#mb0ffcda23e" x="1296" y="411.91" style="fill: #ff0000; stroke: #ff0000; stroke-width: 0.6"/>
</g>
</g>
</g>
<g id="ytick_171">
<g id="line2d_291">
<g>
<use href="#mb0ffcda23e" x="1296" y="408.74" style="fill: #ff0000; stroke: #ff0000; stroke-width: 0.6"/>
</g>
</g>
</g>
<g id="ytick_172">
<g id="line2d_292">
<g>
<use href="#mb0ffcda23e" x="1296" y="387.23" style="fill: #ff0000; stroke: #ff0000; stroke-width: 0.6"/>
</g>
</g>
</g>
<g id="ytick_173">
<g id="line2d_293">
<g>
<use href="#mb0ffcda23e" x="1296" y="376.31" style="fill: #ff0000; stroke: #ff0000; stroke-width: 0.6"/>
</g>
</g>
</g>
<g id="ytick_174">
<g id="line2d_294">
<g>
<use href="#mb0ffcda23e" x="1296" y="368.56" style="fill: #ff0000; stroke: #ff0000; stroke-width: 0.6"/>
</g>
</g>
</g>
<g id="ytick_175">
<g id="line2d_295">
<g>
<use href="#mb0ffcda23e" x="1296" y="362.54" style="fill: #ff0000; stroke: #ff0000; stroke-width: 0.6"/>
</g>
</g>
</g>
<g id="ytick_176">
<g id="line2d_296">
<g>
<use href="#mb0ffcda23e" x="1296" y="357.63" style="fill: #ff0000; stroke: #ff0000; stroke-width: 0.6"/>
</g>
</g>
</g>
<g id="ytick_177">
<g id="line2d_297">
<g>
<use href="#mb0ffcda23e" x="1296" y="353.48" style="fill: #ff0000; stroke: #ff0000; stroke-width: 0.6"/>
</g>
</g>
</g>
<g id="ytick_178">
<g id="line2d_298">
<g>
<use href="#mb0ffcda23e" x="1296" y="349.88" style="fill: #ff0000; stroke: #ff0000; stroke-width: 0.6"/>
</g>
</g>
</g>
<g id="ytick_179">
<g id="line2d_299">
<g>
<use href="#mb0ffcda23e" x="1296" y="346.71" style="fill: #ff0000; stroke: #ff0000; stroke-width: 0.6"/>
</g>
</g>
</g>
</g>
<g id="patch_83">
<path d="M 867.6 591.98 
L 867.6 343.87 
" style="fill: none; stroke: #000000; stroke-width: 1.5; stroke-linejoin: miter; stroke-linecap: square"/>
</g>
<g id="patch_84">
<path d="M 1296 591.98 
L 1296 343.87 
" style="fill: none; stroke: #ff0000; stroke-width: 1.5; stroke-linejoin: miter; stroke-linecap: square"/>
</g>
<g id="patch_85">
<path d="M 867.6 591.98 
L 1296 591.98 
" style="fill: none; stroke: #000000; stroke-width: 1.5; stroke-linejoin: miter; stroke-linecap: square"/>
</g>
<g id="patch_86">
<path d="M 867.6 343.87 
L 1296 343.87 
" style="fill: none; stroke: #000000; stroke-width: 1.5; stroke-linejoin: miter; stroke-linecap: square"/>
</g>
</g>
<g id="axes_9">
<g id="patch_87">
<path d="M 867.6 732.24 
L 1296 732.24 
L 1296 608.4 
L 867.6 608.4 
z
" style="fill: #ffffff"/>
</g>
<g id="PH_pr"><g transform="scale(0.72)"><path clip-path="url(#cR3)" d="M1205 997.5l.3 4.9l.3 8.9l.3 .9l.3-1.2l.3-6.5l.3-5.1l.3 6.5l.3 5.6l.3-7.6l.3-1.1l.2 1.3l.3 2.5l.3-.5l.3-15.1l.3 16.5l.3-5.5l.3 2.3l.3 7.5l.3-11.4l.3 11.4l.3 .8l.3-1.2l.3-6l.3 3.8l.3-3.6l.3-1l.3 6.2l.3 .3l.3-.6l.3-8l.3 9.5l.2-9.8l.3 3.8l.3 5.4l.3-7l.3 4.7l.3-3.6l.3 .1l.3-4.3l.3-2.4l.3 12.5l.3-6l.3-2.1l.3 1.9l.3-3l.3-2l.3 4l.3 6.9l.3-6.1l.3-2.2l.3-2.9l.3 3.5l.3-2.6l.2 10.9l.3 0l.3 .5l.3-4.1l.3 3.2l.3 .5l.3-2.6l.3-.7l.3-6.7l.3-1.5l.3 12.2l.3-10l.3-2.5l.3 5.2l.3-5.1l.3-.1l.3 7.9l.3-6.6l.3-1.4l.3 11.3l.3-6.9l.2 .3l.3-.5l.3 .3l.3 7.4l.3-3.5l.3 2.7l.3-15.5l.3 14.8l.3-7.8l.3-1.9l.3 11.3l.3-11l.3 12l.3-2.2l.3-7.5l.3 1.9l.3 .8l.3-2.5l.3 8.9l.3-1.5l.3-7.2l.2 9l.3-10.7l.3-.1l.3 2.5l.3 7.4l.3-9.1l.3 1l.3 9.1l.3-17.9l.3 8l.3 6l.3-13.1l.3 4.5l.3 4.7l.3 1.1l.3-13.8l.3 7.9l.3 5.5l.3-9.6l.3 15.3l.3-3.2l.2-4.5l.3-3l.3 4.3l.3 0l.3 .3l.3-.8l.3 7.3l.3-4.2l.3-2.3l.3 5.5l.3 .1l.3 1.9l.3-1.7l.3 .3l.3 0l.3 .9l.3-1.6l.3-8.1l.3 1l.3-5.5l.3 6.4l.2 8l.3-11.6l.3 11.4l.3-5l.3 5.5l.3-5.5l.3 .9l.3-3.7l.3 8l.3-.2l.3-7.3l.3 .8l.3-.8l.3-1.8l.3 2.1l.3 4l.3 2l.3-10.8l.3-2.5l.3 13.7l.3-7.9l.3 1.5l.2 7l.3-6.7l.3 2.2l.3-10.4l.3 2.2l.3 8.1l.3-.5l.3-2.4l.3-1l.3 3.7l.3-.9l.3 .3l.3 1.7l.3-7l.3 10.3l.3-4.6l.3-3.1l.3 3.6l.3 3.2l.3-6.8l.3-5l.2 5l.3 2.4l.3-4.3l.3 6.2l.3 2.7l.3-1.4l.3-6.3l.3 6.4l.3 2l.3-5.1l.3-.3l.3-7.2l.3 6.7l.3 1.6l.3 1l.3 .7l.3-3.2l.3 5.5l.3-3.9l.3-.5l.3 5.8l.2-1.4l.3 .7l.3-4.1l.3-2l.3-3.2l.3 4.8l.3 4.7l.3-4.6l.3 3.5l.3-5l.3-1.6l.3 2l.3-3.1l.3-.8l.3 9.4l.3-7.7l.3 2.5l.3 1.1l.3 4.4l.3 .4l.3-4.5l.2 0l.3-10.5l.3 13.7l.3-6.1l.3 1.4l.3 1.5l.3-.1l.3 3.5l.3-6l.3 5.2l.3-4l.3-1.9l.3 1.4l.3 .8l.3-.2l.3 1l.3 3.9l.3-10.4l.3 10.7l.3-.6l.3 1.2l.2-1.4l.3-.1l.3 .1l.3-2.2l.3-7l.3 9.2l.3 .6l.3-6.1l.3-1.7l.3-1.3l.3 8.5l.3-3.5l.3 3.1l.3-8.6l.3 9.2l.3-8.1l.3 4.5l.3 1.2l.3-3.7l.3 1l.3 6.1l.3 .1l.2-8.9l.3 .1l.3 1.2l.3-11.8l.3 12.4l.3 2l.3-3.6l.3 1.6l.3-14.3l.3 1.6l.3 11.6l.3 5.9l.3-10.4l.3 8.6l.3-10l.3 1.2l.3 5.4l.3 1.9l.3-4l.3 8.2l.3-9.3l.2 3.9l.3-6.9l.3 11.7l.3-7.4l.3 .6l.3 3.2l.3-11.8l.3 10.1l.3-13.2l.3 15.6l.3 3.9l.3-3.6l.3-5.2l.3 3l.3 6l.3-8.4l.3-1l.3 8.1l.3-4.2l.3 .4l.3 3.9l.2 1l.3 .1l.3-4.9l.3 .5l.3-7.9l.3 .6l.3 3.8l.3-9.4l.3 9.1l.3 .7l.3 2.9l.3-1.9l.3 7.1l.3-8.5l.3 6.8l.3-6.7l.3-3.4l.3-11.1l.3 21.4l.3-4.3l.3 4.4l.2-6.3l.3-.5l.3 8.4l.3-16.7l.3 5.3l.3 2.2l.3 1l.3 4.1l.3-3.2l.3-.4l.3-.3l.3 5.9l.3-8.2l.3-1.3l.3 4.4l.3-2l.3 7.2l.3-.4l.3 .9l.3 1.3l.3-8.9l.2-.7l.3 .3l.3 .3l.3-3.2l.3 6.2l.3 3.9l.3-5.9l.3-2.2l.3 8.6l.3-4.6l.3-2.5l.3 8.8l.3-1.9l.3 0l.3-5.6l.3 6.2l.3 1.4l.3-11.1l.3 8.7l.3 .3l.3-5.8l.3 6.4l.2-12.3l.3 4l.3 4.3l.3 1.2l.3 4.4l.3-2.4l.3-2.9l.3-2.5l.3-1l.3 2.7l.3-5.8l.3 11.5l.3-17.5l.3 5.5l.3-2.7l.3 7.5l.3-2.3l.3 8.2l.3-8l.3 8.8l.3-3.7l.2 3l.3-4l.3 3.5l.3-16.5l.3 17l.3-19.2l.3 15l.3 1.3l.3-11.1l.3 9.7l.3-4.1l.3 1.5l.3-6.2l.3 9.4l.3-5.2l.3-3.6l.3 6.4l.3-3.9l.3 9.6l.3-4.9l.3 6l.2-13.4l.3-7.9l.3 15.1l.3 1.3l.3 5.5l.3-5.2l.3-4.2l.3 7.6l.3-5.4l.3-6l.3 5.9l.3 1.9l.3-1l.3-4.4l.3 3.1l.3 .1l.3 1.2l.3-6l.3 2l.3 10.5l.3-1.1l.2-.9l.3 .1l.3-2.1l.3 2.2l.3-2.3l.3 2l.3-9.3l.3 3.3l.3 7.3l.3-8.1l.3-.1l.3 7.2l.3-2.1l.3 3.3l.3-13.6l.3 3.4l.3-.2l.3-.4l.3 4.3l.3-5.8l.3-1.8l.3 6l.2 2.8l.3-6.4l.3 5.7l.3-3.4l.3 1l.3 9.1l.3-9.3l.3 7.3l.3-5.3l.3 7.4l.3-8.8l.3-5.5l.3 13.9l.3-5.2l.3-.4l.3 4.9l.3-10.7l.3 .9l.3 6.2l.3-4.5l.3-1.5l.2 8.3l.3-7.2l.3 7.2l.3-9.6l.3 3.8l.3 .7l.3 5l.3-4.7l.3-1.1l.3-2.7l.3 1.9l.3 1.5l.3-1.6l.3-.2l.3 8.2l.3-7.5l.3-1.2l.3 9.9l.3-13.4l.3 13.5l.3-9.1l.2 3.1l.3 5.4l.3-1l.3-8l.3-2.5l.3-.9l.3 4.2l.3 7.1l.3-3.4l.3 4.6l.3-7.2l.3-2l.3 3.7l.3-2l.3-3.2l.3 4.8l.3-4.7l.3 10.1l.3-8l.3 3.3l.3-3.5l.2 .2l.3 1.8l.3-13.1l.3 3.9l.3 14.4l.3-4.5l.3-3.6l.3 2.3l.3 7.4l.3-4l.3-9.9l.3 13l.3-14.4l.3 9.3l.3 4l.3-5.2l.3 2.6l.3 4.8l.3-9.4l.3 7.4l.3-7.5l.2-4.9l.3 13l.3-.4l.3 1.7l.3-10l.3-2.7l.3 7.3l.3-5.6l.3 3.5l.3-2.5l.3 10.1l.3-.2l.3-6l.3 1.1l.3 3.2l.3-4.7l.3 4.8l.3-5.5l.3-11.6l.3 10.9l.3-2.1l.3-.4l.2-6.1l.3 15.2l.3 1.5l.3-11.5l.3 10.3l.3-.6l.3 1.1l.3 .3l.3-7.2l.3 1l.3 3.2l.3-4.9l.3 6.8l.3-8.7l.3 3.4l.3-.6l.3 0l.3-.7l.3 6l.3 .4l.3-5.7l.2 6.9l.3-.5l.3-13.1l.3 3l.3 3.1l.3-1l.3-1.3l.3-2l.3 2.8l.3 .6l.3 7.2l.3 .5l.3-8.5l.3 5.9l.3-2.2l.3-1.1l.3 2.8l.3 2.4l.3-2.9l.3 3.4l.3 0l.2 1.5l.3-9.6l.3-1.9l.3 2.3l.3 4l.3 4.7l.3-8.1l.3 1.4l.3 .4l.3-.5l.3 6.1l.3-1.7l.3 2l.3-3.2l.3-6.1l.3 5.2l.3-.6l.3 4.3l.3-8.2l.3 3.9l.3-5.4l.2 7.2l.3 .4l.3 2.4l.3-11.4l.3 8.4l.3-5.7l.3 4l.3 1.2l.3 3.3l.3-6.6l.3 2.7l.3 4.1l.3 .9l.3-7.8l.3 1.4l.3-.2l.3 6.7l.3-5.2l.3-1.7l.3 4.8l.3-5.3l.2 6.3l.3 0l.3-11.8l.3 11.8l.3-9.7l.3 10.7l.3 .1l.3-6.7l.3 6.4l.3-.4l.3-6l.3-3.2l.3 2.6l.3 3.9l.3 2.1l.3-5.6l.3-2.2l.3-2.8l.3 9.9l.3-5.5l.3 5.9l.3 .6l.2-7.9l.3 .5l.3-2.7l.3 11l.3-8.2l.3 1.7l.3 5.7l.3-6.5l.3-3.8l.3 2.9l.3-4l.3 10.8l.3 1.4l.3-16.2l.3 9.2l.3 6.4l.3-3.2l.3-7.3l.3 .6l.3 9.3l.3-4l.2-5.9l.3 10.9l.3-6.8l.3-9.2l.3 9.3l.3-5.9l.3 12.7l.3-13.9l.3 2.7l.3 10.8l.3-.5l.3 .9l.3-9.2l.3 2.2l.3 6.3l.3-4.4l.3 5l.3-4.2l.3 4.1l.3 .1l.3-5.3l.2-.5l.3-9.4l.3 7.4l.3-2.1l.3 .1l.3 1.9l.3 1.3l.3-2.4l.3 6.7l.3-4l.3-2.3l.3 1.5l.3 6l.3-12.6l.3 .5l.3 1.4l.3-.5l.3 6.2l.3-7.4l.3 5.4l.3-11.9l.2 13.2l.3 .6l.3-2l.3 7.5l.3-6.8l.3-6.9l.3-6l.3 20.7l.3-2.3l.3-5.1l.3-5l.3 11.9l.3-16.3l.3 10.1l.3-3.2l.3 7.8l.3-.4l.3-4.1l.3-3.6l.3 4.8l.3-7.9l.2 12.5l.3-1.2l.3-5l.3 1.8l.3-3.6l.3 4.1l.3 2.4l.3 1.5l.3-4.2l.3-8.3l.3-.3l.3 5.5l.3-2.3l.3 3l.3-2.4l.3-11.8l.3 12.9l.3-2.6l.3-2.2l.3 11.5l.3-.1l.3-12l.2 6.9l.3 4.6l.3-3.4l.3 .1l.3-2.8l.3-1.4l.3 3.7l.3-1.2l.3 6.3l.3-.5l.3-8.9l.3 3.2l.3-2l.3-3.4l.3 11.8l.3-12.2l.3-3.1l.3 5.9l.3 8.4l.3-8.9l.3 3.4l.2 6.8l.3 .3l.3 0l.3-8.7l.3 5l.3-7.5l.3 3.7l.3 1.4l.3-3.8l.3-3.2l.3 6.3l.3 5.3l.3-5.8l.3 6.8l.3-11.6l.3 10.5l.3-8.9l.3 3.7l.3 3.9l.3-4.9l.3-1.6l.2 7.8l.3-5.9l.3-5.2l.3 5.7l.3-2.4l.3-4.5l.3 11.9l.3 .9l.3-7.8l.3 9l.3-4.8l.3-8.7l.3 10.5l.3-1l.3 2.3l.3-.3l.3-2.7l.3-.7l.3-4.2l.3 9l.3 1l.2-20.5l.3 18.4l.3 1.2l.3-.7l.3-10.6l.3 6.3l.3-2.3l.3 2.7l.3 3.2l.3-10.6l.3 11.1l.3 .2l.3-4.6l.3-5.9l.3 6.5l.3 3.7l.3 .9l.3-14.7l.3 5.9l.3 9.7l.3-7.7l.3 7.2l.2-8.1l.3 1.6l.3-.2l.3-1.6l.3-2l.3-.4l.3 3.4l.3 5.5l.3-6.5l.3-.8l.3 3.1l.3-6l.3 10.7l.3-9.6l.3 4.3l.3 4.6l.3-4.1l.3-.8l.3 5.7l.3-6.1l.3-.4l.2 3.1l.3 4.2l.3-6.2l.3-1l.3-8.6l.3 14.7l.3-10.1l.3 4.8l.3-4.7l.3-4.9l.3 15.6l.3-11.8l.3 12.4l.3 .4l.3-5.7l.3 .8l.3 3.9l.3-1.2l.3-6.5l.3-1.2l.3 1.8l.2 7.3l.3-13.9l.3 7.3l.3 5.4l.3-15l.3 4.5l.3-2.5l.3 4.1l.3 5.4l.3-15.7l.3-1.8l.3 22.4l.3-7.8l.3-.6l.3 1.6l.3 7.3l.3 .4l.3-.4l.3-9.2l.3 .9l.3 2.3l.2-10.6l.3 7.8l.3-5.4l.3-1.1l.3 4l.3-2.4l.3 8.1l.3-17.2l.3-.5l.3 15.7l.3 5.8l.3-5.9l.3 5.9l.3-18.4l.3 8.7l.3 9.6l.3 .6l.3-7.6l.3-7.1l.3 8l.3-3l.2 5.3l.3 2l.3-3.7l.3-1.3l.3 3.9l.3 .2l.3 3.6l.3-4.3l.3 .3l.3-12.3l.3 16.1l.3-9.2l.3 10.6l.3-12.1l.3 3.3l.3-1.1l.3-1.4l.3 6l.3-1.1l.3-9.7l.3 4.5l.3 9.6l.2-8l.3 8.9l.3-8.6l.3 1.4l.3 4.1l.3-3.3l.3 5.6l.3-7.2l.3 2.4l.3 4.6l.3-6.6l.3 2.2l.3 5.6l.3-4.2l.3-3.4l.3 4.1l.3-2.7l.3-.3l.3 .1l.3 7.1l.3-1.2l.2-3.4l.3 3.7l.3-7.2l.3 8l.3-6.4l.3 .5l.3 5.2l.3-6.7l.3-3.2l.3 6l.3-.9l.3 2.1l.3 2.4l.3-4.1l.3 4.5l.3-9.1l.3 2.5l.3 6.9l.3-6.2l.3 6.1l.3-6.7l.2 6.6l.3-10.3l.3 10.7l.3-.6l.3-.4l.3-6.8l.3-3.1l.3 .1l.3 5.5l.3 .6l.3-3.9l.3 7.7l.3-4.8l.3-1l.3-11.8l.3 12.6l.3 3l.3-4.7l.3 3.6l.3 3.3l.3-.3l.2-5.7l.3 7.1l.3-3.8l.3-3.1l.3 .3l.3-2.6l.3 5.5l.3-.5l.3-4.8l.3 7.4l.3-6.1l.3 7.6l.3 .3l.3-7.3l.3 1.9l.3 5.1l.3-8.1l.3-.3l.3 1.9l.3 .4l.3-.5l.2-2.8l.3-.3l.3 3.9l.3-5.9l.3 7.9l.3 3.2l.3-7.6l.3-3.1l.3 1.7l.3 6.2l.3 2.1l.3-7.8l.3 2l.3 3.3l.3 3.6l.3-4.9l.3-3.2l.3 .4l.3 .6l.3-.4l.3-1l.3-7.2l.2 7.8l.3 2.2l.3 4.4l.3 1.6l.3-6.9l.3 1.8l.3 4.8l.3-8.5l.3 8.3l.3-1l.3-7.7l.3-5.4l.3 14l.3-7.5l.3 7.4l.3-6.8l.3 6.2l.3 .2l.3-9.7l.3 3.9l.3 5.4l.2-9.6l.3 4.4l.3-.2l.3-2.2l.3 .3l.3 8.8l.3-3.8l.3-1.1l.3-11l.3 9.5l.3-10.5l.3 15.9l.3-.6l.3-11.5l.3 5.4l.3 7.2l.3-13.8l.3 6.2l.3-2.1l.3 1.6l.3-1.3l.2 8.6l.3-5.7l.3 7l.3-5.3l.3-1.2l.3 5.9l.3-15.7l.3 7.5l.3 7.5l.3 0l.3 .9l.3-7.8l.3-2.3l.3 8.5l.3-8.9l.3-1.9l.3 11.5l.3-5l.3-1.3l.3 5.3l.3-16.5l.2 11.3l.3-7.9l.3 6.1l.3 9.4l.3-4.5l.3-8.2l.3 10.8l.3-8.5l.3-1.3l.3 10.2l.3-9.3l.3 3.6l.3 .1l.3-5.3l.3-1.5l.3 12.3l.3-9.9l.3 10.2l.3-7.2l.3 8.5l.3-6l.2 .3l.3-5l.3 3.1l.3-8.8l.3 15.2l.3-8.3l.3-6.4l.3 5.7l.3 5.6l.3-3.5l.3 7.5l.3-1.4l.3-4.1l.3-2.7l.3 2.1l.3 6.4l.3-5.6l.3 3.6l.3-3.1l.3 5.2l.3-14.2l.3 1.9l.2 3l.3-6.9l.3 1.1l.3 4.6l.3 4.3l.3-2.8l.3 7.5l.3-7.8l.3 .6l.3-7.5l.3 16.2l.3 .2l.3-2.4l.3-12.6l.3 5.1l.3 8.3l.3-4l.3 3.4l.3-8.5l.3 3.6l.3 3l.2 2l.3-3.8l.3 5.6l.3-2.1l.3-10.4l.3-.9l.3 12.2l.3-8.1l.3-15.5l.3 16.2l.3 8.1l.3-11.2l.3 1.3l.3 3.4l.3 .9l.3 .7l.3 5.7l.3-.7l.3-1.1l.3-12.7l.3-9.8l.2 18.9l.3-1.4l.3 6.3l.3-6.9l.3 7.2l.3-7.2l.3 5.7l.3 .3l.3-.4l.3-3.6l.3 4.7l.3 0l.3-10.8l.3 3.4l.3 2.8l.3-.6l.3-6.3l.3 4.4l.3-2.2l.3-1.5l.3 4.7l.2 5.7l.3-10.9l.3 2.8l.3 2l.3-.7l.3-7.3l.3 8.5l.3-.9l.3 .2l.3 7.4l.3-8l.3 2.2l.3-10.5l.3 16l.3-6.5l.3-3l.3 6.1l.3-8.2l.3 11.2l.3-4.1l.3-4.9l.3-1l.2 1.3l.3 1.5l.3 3.4l.3-2.6l.3 .5l.3-4.5l.3 2.8l.3-5l.3 5.6l.3-14.3l.3 21.9l.3-7.8l.3 .7l.3-1.6l.3 .1l.3 4.2l.3 3l.3-7.9l.3 9l.3-.1l.3-4.6l.2 3.1l.3-7.7l.3 8.2l.3 .8l.3-11.1l.3-1.5l.3 2.8l.3-11.8l.3 21.5l.3-5.5l.3 4.6l.3-.3l.3 0l.3-4.2l.3 4.9l.3 1.1l.3-6.1l.3-.2l.3 6.7l.3-13.6l.3-1.7l.2 5.5l.3 2.5l.3-8.4l.3-2.9l.3 16l.3-5.3l.3-3.9l.3 4.5l.3 6l.3-.9l.3 .1l.3-23l.3 22.9l.3 1.4l.3-8l.3 8l.3-4.6l.3 .2l.3-7.4l.3 12.1l.3-5.8l.2-.5l.3 6.6l.3-.2l.3-4.2l.3 2.6l.3-15.7l.3 17.6l.3-1l.3-7.6l.3 2.7l.3 5.1l.3-12.8l.3-1.5l.3 13.6l.3-.9l.3-7.6l.3 8.3l.3 .8l.3-5.7l.3-4.2l.3 2.9l.2-3.7l.3 11.1l.3-1l.3 .9l.3-18.2l.3 18.8l.3-1.2l.3-16.3l.3 17.1l.3-22.7l.3 12.2l.3-3.6l.3 14.3l.3-9.7l.3 3.4l.3-.1l.3-13l.3 .4l.3 17.8l.3-7.8l.3-.3l.3 3.5l.2 1l.3-6.4l.3-10.9l.3 21.1l.3-8.8l.3 8.5l.3-2.2l.3 3.6l.3-1.5l.3-6.6l.3-2.6l.3-11.7l.3 16.4l.3-1.9l.3-7.5l.3 13.5l.3-5.4l.3-.2l.3 5.4l.3-10.8l.3 .2l.2 11.9l.3-5.7l.3-.5l.3 .5l.3-.8l.3-15.2l.3 20.4l.3-4.1l.3 .5l.3-11.2l.3 10.8l.3 5.2l.3-1l.3 2.1l.3-1.4l.3 .2l.3-8.6l.3 1.5l.3 7.6l.3-11.7l.3 12.3l.2-1.8l.3-5.4l.3 .4l.3-1.9l.3 6.8l.3-2.7l.3-1.5l.3 .5l.3-3.6l.3 3.3l.3 4.4l.3 .4l.3-16.7l.3 16.7l.3-8.3l.3 4.1l.3-2.7l.3 6.4l.3-4.2l.3-9l.3 8.8l.2 4.4l.3-4.5l.3 5.9l.3-9l.3-.1l.3-2.4l.3 10.5l.3-5.3l.3-3.1l.3 .1l.3 3l.3 1.2l.3 4l.3-9.4l.3 .5l.3 5.6l.3 2.8l.3-5.9l.3-.2l.3 7.3l.3-4.6l.2 .7l.3 2.8l.3-2.2l.3 2.4l.3-5.4l.3-3l.3 9.6l.3-4.9l.3-4.5l.3 7.9l.3-6.1l.3 6.1l.3-5.6l.3 3l.3-3.9l.3 8.3l.3-1.3l.3-.2l.3-6.2l.3-1.2l.3 8l.3-8.9l.2 1.5l.3-7.4l.3 6.6l.3 3.9l.3-2.5l.3 3.1l.3-2.6l.3 .5l.3 5.5l.3-5.2l.3-2.7l.3 8l.3-5.7l.3 .3l.3 6.5l.3-6.1l.3 5.1l.3-8.8l.3 2.4l.3-2.8l.3 1.3l.2 7.5l.3-3.2l.3-4.5l.3 7.8l.3-9.7l.3 9.9l.3 .1l.3-15.9l.3 16.4l.3-4.4l.3 2.8l.3 1.4l.3-5l.3 5.1l.3 0l.3-5.6l.3-7l.3 4.7l.3 6.5l.3-7.1l.3 1.6l.2 7.3l.3-10.5l.3 1.5l.3-2.7l.3-4.6l.3 16.5l.3-7.4l.3 6.4l.3-1.4l.3-4.5l.3-4l.3 2.3l.3 6.6l.3-14.5l.3 16.4l.3-.5l.3-4.4l.3-1.1l.3-10.9l.3 7.5l.3-4.7l.2 6.7l.3-7.9l.3 15.4l.3-7.3l.3 6.4l.3-11.1l.3 12l.3-10l.3 1.7l.3 1.6l.3 5.7l.3-12.4l.3 2.3l.3 3l.3 6l.3 1.3l.3-6.2l.3-10.4l.3 9.5l.3-3.8l.3 4.5l.2-8.8l.3 8.9l.3 5.5l.3-.1l.3-8.1l.3 7.5l.3-11.8l.3 1.5l.3 4.5l.3 .9l.3 6.5l.3-9.8l.3 3.8l.3-14.7l.3 10.9l.3 5.1l.3-8.8l.3 11.7l.3-5.6l.3 3.5l.3 2.2l.3-1.6l.2-15.5l.3 5.4l.3 13.9l.3-6.4l.3 1l.3-8l.3 6.4l.3-2.5l.3 7.3l.3-10.8l.3-1.4l.3 12.1l.3-5.2l.3-12.5l.3 8.2l.3 1.2l.3 5.5l.3-6.9l.3 4.5l.3 3.3l.3-8.3l.2 .4l.3 11.3l.3-11.3l.3 11.4l.3-10l.3 2.8l.3 6.1l.3-3.4l.3 3.3l.3-6.3l.3-1.3l.3-3l.3 1.6l.3 2.1l.3-.3l.3 2l.3 6.9l.3-3.9l.3-12.1l.3 15.4l.3-2.5l.2-3.6l.3 4.5l.3-8.2l.3-3.1l.3 11.8l.3 1.8l.3-.9l.3 .1l.3-10.1l.3 4l.3-4.5l.3 9.5l.3-3l.3 5l.3-1l.3-.4l.3-6.7l.3-1.4l.3 9.3l.3-8.1l.3 7.7l.2-13.9l.3 14l.3-1.1l.3-8.2l.3-4.2l.3 12.9l.3-6.8l.3 6.1l.3-18.7l.3 15l.3 5.3l.3-1.6l.3-7.5l.3-7l.3 9.2l.3-4.4l.3 1.8l.3-1.1l.3 6.1l.3 .5l.3-2.1l.3 1.2l.2-6.1l.3 3.2l.3 7.8l.3-.2l.3-8.3l.3 7.5l.3-9.6l.3 .7l.3 10l.3-12.2l.3 7.2l.3-2.9l.3-2.3l.3 8.4l.3 .8l.3-5.2l.3-3.1l.3 7.9l.3-8.2l.3 5.9l.3-8.1l.2 11.8l.3-13.2l.3 7.5l.3-1.9l.3-1.5l.3-.4l.3 1.6l.3-11.7l.3 16.7l.3 3.1l.3-11.8l.3 10.7l.3 .5l.3-13.8l.3 14.5l.3-1.8l.3-6l.3 5.5l.3-7.1l.3 1.7l.3-6.1l.2 5.7l.3 6.2l.3 1l.3-7.8l.3 .1l.3 8.6l.3-5.3l.3-5.2l.3 1l.3 .1l.3-3.4l.3 5.3l.3-1.3l.3 3.6l.3-2.1l.3 2.7l.3 3l.3 .1l.3-5.3l.3 4.7l.3-5.7l.2-.3l.3 .6l.3 0l.3 5.3l.3-3l.3 3.9l.3 .1l.3-8l.3 8.5l.3 .6l.3-13.1l.3 12.5l.3-11.6l.3-8.8l.3 20.2l.3-7.6l.3 3.6l.3-3l.3 1.5l.3 2.4l.3 2.8l.2 1l.3-1l.3-6.1l.3 6.4l.3-3.3l.3 3l.3-7.2l.3 .9l.3-5.8l.3-11.7l.3 17.8l.3-6.3l.3-3.5l.3 16.4l.3-1.2l.3-4.4l.3-5.8l.3 10.1l.3-5.1l.3-5.7l.3 5.9l.3 6l.2-17.1l.3 10.4l.3 5.3l.3-8.9l.3 7.1l.3-5.4l.3 2.8l.3 5l.3-18.3l.3-2.7l.3 10.2l.3 10.7l.3-5.4l.3 1.6l.3-1.7l.3-14.3l.3 12.9l.3-4.3l.3 7.1l.3 4l.3-13.4l.2 13.7l.3-6.3l.3 6.3l.3-6.6l.3 1.4l.3 6.7l.3-1l.3-6.8l.3 .6l.3 6.6l.3-10.5l.3 1.7l.3 4.6l.3-2.9l.3 3.3l.3-1.6l.3 4.5l.3-9.1l.3 2.8l.3 3.8l.3-7.6l.2-4.6l.3 15.3l.3-11.5l.3 6.5l.3 1.5l.3 3.2l.3-7.4l.3 1l.3-1.4l.3 8.2l.3-3l.3 3.9l.3-12.4l.3 12.1l.3-6.3l.3-9.2l.3 7.1l.3 4.1l.3 4.1l.3-6.3l.3-11.6l.2 17.9l.3-.8l.3-6.3l.3 2.9l.3 4.7l.3-9l.3-6.8l.3 15.3l.3-4.7l.3-1l.3 .7l.3 5l.3-18.2l.3 .2l.3 17.3l.3-4.2l.3 .8l.3 3.5l.3-3.8l.3-2.8l.3 2.9l.2 3.5l.3-9l.3 4l.3 2.1l.3-3.9l.3 1.9l.3-4.5l.3 3.9l.3-2.3l.3 1.8l.3 .5l.3 6.5l.3-.9l.3-3.6l.3-4.7l.3 2l.3 3.1l.3 3.3l.3-10.5l.3 7.2l.3-3.5l.3-1l.2-2.6l.3 4.1l.3 5.7l.3-6.9l.3 1.5l.3 1.1l.3-3.4l.3-2.3l.3 11.7l.3-8l.3 6l.3-4l.3 5.7l.3-7.7l.3 7.2l.3-7.4l.3 2l.3 2l.3-4.7l.3 2.6l.3-.2l.2 6.5l.3-.4l.3-2.7l.3-4.4l.3 1.3l.3-3.7l.3 1.1l.3 0l.3 7l.3-4.6l.3 4.4l.3-3l.3 2.9l.3 1.5l.3-9.5l.3-2.7l.3 5.3l.3 7.2l.3-7.3l.3-.8l.3 7.6l.2-7l.3 5.5l.3-3.8l.3-2.5l.3 7.9l.3 .3l.3-.7l.3 .1l.3-10.2l.3 10.2l.3-9.7l.3-3.8l.3 6.4l.3 1l.3 1.5l.3 .6l.3 3.3l.3-8.3l.3-6.5l.3 7.8l.3 7.8l.2 .7l.3-8.2l.3-3.2l.3 .2l.3 6.6l.3-5.1l.3 1.3l.3 2.4l.3-.4l.3-10.6l.3 17.1l.3-11.5l.3 2.1l.3-7.1l.3-.2l.3 16.5l.3-10.9l.3 3.5l.3-4.8l.3 9.9l.3-4.7l.2-3.4l.3 8.9l.3-14l.3 9.5l.3-2l.3 2.7l.3-10.4l.3 15l.3-1.6l.3-5.6l.3 7.1l.3-.5l.3-.2l.3-9.2l.3 5.5l.3 3.2l.3-6.7l.3 6.9l.3-10.1l.3 12.2l.3-14.3l.3 3.2l.2 8.5l.3-11.4l.3 5l.3 6.9l.3-2.3l.3-5.1l.3-4.8l.3 8.2l.3-6.5l.3-8.4l.3 8.2l.3-2.8l.3 4.1l.3 10.5l.3-10.1l.3 3.1l.3 7.8l.3-2.4l.3 2.6l.3-1.6l.3-9.3l.2 3l.3-1.5l.3 3.3l.3-7l.3 11.3l.3-8.3l.3-2.6l.3 11l.3-.5l.3-.2l.3-5.3" fill="none" stroke="#000" stroke-width="2.35" stroke-linejoin="round"/></g></g>
<g id="matplotlib.axis_15">
<g id="xtick_36">
<g id="line2d_300">
<g>
<use href="#m82f586ba75" x="898.2" y="732.24" style="stroke: #000000; stroke-width: 0.8"/>
</g>
</g>
<g id="text_77">
<text style="font-size: 14.4px; font-family: 'DejaVu Sans', 'Liberation Sans', sans-serif; text-anchor: middle" x="898.2" y="746.68" transform="rotate(-0 898.2 746.68175)">27</text>
</g>
</g>
<g id="xtick_37">
<g id="line2d_301">
<g>
<use href="#m82f586ba75" x="959.4" y="732.24" style="stroke: #000000; stroke-width: 0.8"/>
</g>
</g>
<g id="text_78">
<text style="font-size: 14.4px; font-family: 'DejaVu Sans', 'Liberation Sans', sans-serif; text-anchor: middle" x="959.4" y="746.68" transform="rotate(-0 959.4 746.68175)">28</text>
</g>
</g>
<g id="xtick_38">
<g id="line2d_302">
<g>
<use href="#m82f586ba75" x="1020.6" y="732.24" style="stroke: #000000; stroke-width: 0.8"/>
</g>
</g>
<g id="text_79">
<text style="font-size: 14.4px; font-family: 'DejaVu Sans', 'Liberation Sans', sans-serif; text-anchor: middle" x="1020.6" y="746.68" transform="rotate(-0 1020.6 746.68175)">29</text>
</g>
</g>
<g id="xtick_39">
<g id="line2d_303">
<g>
<use href="#m82f586ba75" x="1081.8" y="732.24" style="stroke: #000000; stroke-width: 0.8"/>
</g>
</g>
<g id="text_80">
<text style="font-size: 14.4px; font-family: 'DejaVu Sans', 'Liberation Sans', sans-serif; text-anchor: middle" x="1081.8" y="746.68" transform="rotate(-0 1081.8 746.68175)">30</text>
</g>
</g>
<g id="xtick_40">
<g id="line2d_304">
<g>
<use href="#m82f586ba75" x="1143" y="732.24" style="stroke: #000000; stroke-width: 0.8"/>
</g>
</g>
<g id="text_81">
<text style="font-size: 14.4px; font-family: 'DejaVu Sans', 'Liberation Sans', sans-serif; text-anchor: middle" x="1143" y="746.68" transform="rotate(-0 1143 746.68175)">31</text>
</g>
</g>
<g id="xtick_41">
<g id="line2d_305">
<g>
<use href="#m82f586ba75" x="1204.2" y="732.24" style="stroke: #000000; stroke-width: 0.8"/>
</g>
</g>
<g id="text_82">
<text style="font-size: 14.4px; font-family: 'DejaVu Sans', 'Liberation Sans', sans-serif; text-anchor: middle" x="1204.2" y="746.68" transform="rotate(-0 1204.2 746.68175)">01</text>
</g>
</g>
<g id="xtick_42">
<g id="line2d_306">
<g>
<use href="#m82f586ba75" x="1265.4" y="732.24" style="stroke: #000000; stroke-width: 0.8"/>
</g>
</g>
<g id="text_83">
<text style="font-size: 14.4px; font-family: 'DejaVu Sans', 'Liberation Sans', sans-serif; text-anchor: middle" x="1265.4" y="746.68" transform="rotate(-0 1265.4 746.68175)">02</text>
</g>
</g>
</g>
<g id="matplotlib.axis_16">
<g id="ytick_180">
<g id="line2d_307">
<g>
<use href="#m0bb405004b" x="867.6" y="732.24" style="stroke: #000000; stroke-width: 0.8"/>
</g>
</g>
<g id="line2d_308">
<g>
<use href="#mb68e5e41f8" x="1296" y="732.24" style="stroke: #000000; stroke-width: 0.8"/>
</g>
</g>
<g id="text_84">
<g transform="translate(830.26 737.710875)">
<text>
<tspan x="0" y="-0.50" style="font-size: 14.4px; font-family: 'DejaVu Sans', 'Liberation Sans', sans-serif">1</tspan>
<tspan x="9.15" y="-0.50" style="font-size: 14.4px; font-family: 'DejaVu Sans', 'Liberation Sans', sans-serif">0</tspan>
<tspan x="18.43" y="-5.86" style="font-size: 10.08px; font-family: 'DejaVu Sans', 'Liberation Sans', sans-serif">−</tspan>
<tspan x="26.86" y="-5.86" style="font-size: 10.08px; font-family: 'DejaVu Sans', 'Liberation Sans', sans-serif">1</tspan>
</text>
</g>
</g>
</g>
<g id="ytick_181">
<g id="line2d_309">
<g>
<use href="#m0bb405004b" x="867.6" y="701.28" style="stroke: #000000; stroke-width: 0.8"/>
</g>
</g>
<g id="line2d_310">
<g>
<use href="#mb68e5e41f8" x="1296" y="701.28" style="stroke: #000000; stroke-width: 0.8"/>
</g>
</g>
<g id="text_85">
<g transform="translate(838.756 706.750875)">
<text>
<tspan x="0" y="-0.37" style="font-size: 14.4px; font-family: 'DejaVu Sans', 'Liberation Sans', sans-serif">1</tspan>
<tspan x="9.15" y="-0.37" style="font-size: 14.4px; font-family: 'DejaVu Sans', 'Liberation Sans', sans-serif">0</tspan>
<tspan x="18.43" y="-5.73" style="font-size: 10.08px; font-family: 'DejaVu Sans', 'Liberation Sans', sans-serif">0</tspan>
</text>
</g>
</g>
</g>
<g id="ytick_182">
<g id="line2d_311">
<g>
<use href="#m0bb405004b" x="867.6" y="670.32" style="stroke: #000000; stroke-width: 0.8"/>
</g>
</g>
<g id="line2d_312">
<g>
<use href="#mb68e5e41f8" x="1296" y="670.32" style="stroke: #000000; stroke-width: 0.8"/>
</g>
</g>
<g id="text_86">
<g transform="translate(838.756 675.790875)">
<text>
<tspan x="0" y="-0.50" style="font-size: 14.4px; font-family: 'DejaVu Sans', 'Liberation Sans', sans-serif">1</tspan>
<tspan x="9.15" y="-0.50" style="font-size: 14.4px; font-family: 'DejaVu Sans', 'Liberation Sans', sans-serif">0</tspan>
<tspan x="18.43" y="-5.86" style="font-size: 10.08px; font-family: 'DejaVu Sans', 'Liberation Sans', sans-serif">1</tspan>
</text>
</g>
</g>
</g>
<g id="ytick_183">
<g id="line2d_313">
<g>
<use href="#m0bb405004b" x="867.6" y="639.36" style="stroke: #000000; stroke-width: 0.8"/>
</g>
</g>
<g id="line2d_314">
<g>
<use href="#mb68e5e41f8" x="1296" y="639.36" style="stroke: #000000; stroke-width: 0.8"/>
</g>
</g>
<g id="text_87">
<g transform="translate(838.756 644.830875)">
<text>
<tspan x="0" y="-0.37" style="font-size: 14.4px; font-family: 'DejaVu Sans', 'Liberation Sans', sans-serif">1</tspan>
<tspan x="9.15" y="-0.37" style="font-size: 14.4px; font-family: 'DejaVu Sans', 'Liberation Sans', sans-serif">0</tspan>
<tspan x="18.43" y="-5.73" style="font-size: 10.08px; font-family: 'DejaVu Sans', 'Liberation Sans', sans-serif">2</tspan>
</text>
</g>
</g>
</g>
<g id="ytick_184">
<g id="line2d_315">
<g>
<use href="#m0bb405004b" x="867.6" y="608.4" style="stroke: #000000; stroke-width: 0.8"/>
</g>
</g>
<g id="line2d_316">
<g>
<use href="#mb68e5e41f8" x="1296" y="608.4" style="stroke: #000000; stroke-width: 0.8"/>
</g>
</g>
<g id="text_88">
<g transform="translate(838.756 613.870875)">
<text>
<tspan x="0" y="-0.37" style="font-size: 14.4px; font-family: 'DejaVu Sans', 'Liberation Sans', sans-serif">1</tspan>
<tspan x="9.15" y="-0.37" style="font-size: 14.4px; font-family: 'DejaVu Sans', 'Liberation Sans', sans-serif">0</tspan>
<tspan x="18.43" y="-5.73" style="font-size: 10.08px; font-family: 'DejaVu Sans', 'Liberation Sans', sans-serif">3</tspan>
</text>
</g>
</g>
</g>
<g id="ytick_185">
<g id="line2d_317">
<g>
<use href="#m0df97daa90" x="867.6" y="722.92" style="stroke: #000000; stroke-width: 0.6"/>
</g>
</g>
<g id="line2d_318">
<g>
<use href="#m668fe16cc7" x="1296" y="722.92" style="stroke: #000000; stroke-width: 0.6"/>
</g>
</g>
</g>
<g id="ytick_186">
<g id="line2d_319">
<g>
<use href="#m0df97daa90" x="867.6" y="717.47" style="stroke: #000000; stroke-width: 0.6"/>
</g>
</g>
<g id="line2d_320">
<g>
<use href="#m668fe16cc7" x="1296" y="717.47" style="stroke: #000000; stroke-width: 0.6"/>
</g>
</g>
</g>
<g id="ytick_187">
<g id="line2d_321">
<g>
<use href="#m0df97daa90" x="867.6" y="713.60" style="stroke: #000000; stroke-width: 0.6"/>
</g>
</g>
<g id="line2d_322">
<g>
<use href="#m668fe16cc7" x="1296" y="713.60" style="stroke: #000000; stroke-width: 0.6"/>
</g>
</g>
</g>
<g id="ytick_188">
<g id="line2d_323">
<g>
<use href="#m0df97daa90" x="867.6" y="710.60" style="stroke: #000000; stroke-width: 0.6"/>
</g>
</g>
<g id="line2d_324">
<g>
<use href="#m668fe16cc7" x="1296" y="710.60" style="stroke: #000000; stroke-width: 0.6"/>
</g>
</g>
</g>
<g id="ytick_189">
<g id="line2d_325">
<g>
<use href="#m0df97daa90" x="867.6" y="708.15" style="stroke: #000000; stroke-width: 0.6"/>
</g>
</g>
<g id="line2d_326">
<g>
<use href="#m668fe16cc7" x="1296" y="708.15" style="stroke: #000000; stroke-width: 0.6"/>
</g>
</g>
</g>
<g id="ytick_190">
<g id="line2d_327">
<g>
<use href="#m0df97daa90" x="867.6" y="706.08" style="stroke: #000000; stroke-width: 0.6"/>
</g>
</g>
<g id="line2d_328">
<g>
<use href="#m668fe16cc7" x="1296" y="706.08" style="stroke: #000000; stroke-width: 0.6"/>
</g>
</g>
</g>
<g id="ytick_191">
<g id="line2d_329">
<g>
<use href="#m0df97daa90" x="867.6" y="704.28" style="stroke: #000000; stroke-width: 0.6"/>
</g>
</g>
<g id="line2d_330">
<g>
<use href="#m668fe16cc7" x="1296" y="704.28" style="stroke: #000000; stroke-width: 0.6"/>
</g>
</g>
</g>
<g id="ytick_192">
<g id="line2d_331">
<g>
<use href="#m0df97daa90" x="867.6" y="702.70" style="stroke: #000000; stroke-width: 0.6"/>
</g>
</g>
<g id="line2d_332">
<g>
<use href="#m668fe16cc7" x="1296" y="702.70" style="stroke: #000000; stroke-width: 0.6"/>
</g>
</g>
</g>
<g id="ytick_193">
<g id="line2d_333">
<g>
<use href="#m0df97daa90" x="867.6" y="691.96" style="stroke: #000000; stroke-width: 0.6"/>
</g>
</g>
<g id="line2d_334">
<g>
<use href="#m668fe16cc7" x="1296" y="691.96" style="stroke: #000000; stroke-width: 0.6"/>
</g>
</g>
</g>
<g id="ytick_194">
<g id="line2d_335">
<g>
<use href="#m0df97daa90" x="867.6" y="686.51" style="stroke: #000000; stroke-width: 0.6"/>
</g>
</g>
<g id="line2d_336">
<g>
<use href="#m668fe16cc7" x="1296" y="686.51" style="stroke: #000000; stroke-width: 0.6"/>
</g>
</g>
</g>
<g id="ytick_195">
<g id="line2d_337">
<g>
<use href="#m0df97daa90" x="867.6" y="682.64" style="stroke: #000000; stroke-width: 0.6"/>
</g>
</g>
<g id="line2d_338">
<g>
<use href="#m668fe16cc7" x="1296" y="682.64" style="stroke: #000000; stroke-width: 0.6"/>
</g>
</g>
</g>
<g id="ytick_196">
<g id="line2d_339">
<g>
<use href="#m0df97daa90" x="867.6" y="679.64" style="stroke: #000000; stroke-width: 0.6"/>
</g>
</g>
<g id="line2d_340">
<g>
<use href="#m668fe16cc7" x="1296" y="679.64" style="stroke: #000000; stroke-width: 0.6"/>
</g>
</g>
</g>
<g id="ytick_197">
<g id="line2d_341">
<g>
<use href="#m0df97daa90" x="867.6" y="677.19" style="stroke: #000000; stroke-width: 0.6"/>
</g>
</g>
<g id="line2d_342">
<g>
<use href="#m668fe16cc7" x="1296" y="677.19" style="stroke: #000000; stroke-width: 0.6"/>
</g>
</g>
</g>
<g id="ytick_198">
<g id="line2d_343">
<g>
<use href="#m0df97daa90" x="867.6" y="675.12" style="stroke: #000000; stroke-width: 0.6"/>
</g>
</g>
<g id="line2d_344">
<g>
<use href="#m668fe16cc7" x="1296" y="675.12" style="stroke: #000000; stroke-width: 0.6"/>
</g>
</g>
</g>
<g id="ytick_199">
<g id="line2d_345">
<g>
<use href="#m0df97daa90" x="867.6" y="673.32" style="stroke: #000000; stroke-width: 0.6"/>
</g>
</g>
<g id="line2d_346">
<g>
<use href="#m668fe16cc7" x="1296" y="673.32" style="stroke: #000000; stroke-width: 0.6"/>
</g>
</g>
</g>
<g id="ytick_200">
<g id="line2d_347">
<g>
<use href="#m0df97daa90" x="867.6" y="671.74" style="stroke: #000000; stroke-width: 0.6"/>
</g>
</g>
<g id="line2d_348">
<g>
<use href="#m668fe16cc7" x="1296" y="671.74" style="stroke: #000000; stroke-width: 0.6"/>
</g>
</g>
</g>
<g id="ytick_201">
<g id="line2d_349">
<g>
<use href="#m0df97daa90" x="867.6" y="661.00" style="stroke: #000000; stroke-width: 0.6"/>
</g>
</g>
<g id="line2d_350">
<g>
<use href="#m668fe16cc7" x="1296" y="661.00" style="stroke: #000000; stroke-width: 0.6"/>
</g>
</g>
</g>
<g id="ytick_202">
<g id="line2d_351">
<g>
<use href="#m0df97daa90" x="867.6" y="655.55" style="stroke: #000000; stroke-width: 0.6"/>
</g>
</g>
<g id="line2d_352">
<g>
<use href="#m668fe16cc7" x="1296" y="655.55" style="stroke: #000000; stroke-width: 0.6"/>
</g>
</g>
</g>
<g id="ytick_203">
<g id="line2d_353">
<g>
<use href="#m0df97daa90" x="867.6" y="651.68" style="stroke: #000000; stroke-width: 0.6"/>
</g>
</g>
<g id="line2d_354">
<g>
<use href="#m668fe16cc7" x="1296" y="651.68" style="stroke: #000000; stroke-width: 0.6"/>
</g>
</g>
</g>
<g id="ytick_204">
<g id="line2d_355">
<g>
<use href="#m0df97daa90" x="867.6" y="648.68" style="stroke: #000000; stroke-width: 0.6"/>
</g>
</g>
<g id="line2d_356">
<g>
<use href="#m668fe16cc7" x="1296" y="648.68" style="stroke: #000000; stroke-width: 0.6"/>
</g>
</g>
</g>
<g id="ytick_205">
<g id="line2d_357">
<g>
<use href="#m0df97daa90" x="867.6" y="646.23" style="stroke: #000000; stroke-width: 0.6"/>
</g>
</g>
<g id="line2d_358">
<g>
<use href="#m668fe16cc7" x="1296" y="646.23" style="stroke: #000000; stroke-width: 0.6"/>
</g>
</g>
</g>
<g id="ytick_206">
<g id="line2d_359">
<g>
<use href="#m0df97daa90" x="867.6" y="644.16" style="stroke: #000000; stroke-width: 0.6"/>
</g>
</g>
<g id="line2d_360">
<g>
<use href="#m668fe16cc7" x="1296" y="644.16" style="stroke: #000000; stroke-width: 0.6"/>
</g>
</g>
</g>
<g id="ytick_207">
<g id="line2d_361">
<g>
<use href="#m0df97daa90" x="867.6" y="642.36" style="stroke: #000000; stroke-width: 0.6"/>
</g>
</g>
<g id="line2d_362">
<g>
<use href="#m668fe16cc7" x="1296" y="642.36" style="stroke: #000000; stroke-width: 0.6"/>
</g>
</g>
</g>
<g id="ytick_208">
<g id="line2d_363">
<g>
<use href="#m0df97daa90" x="867.6" y="640.78" style="stroke: #000000; stroke-width: 0.6"/>
</g>
</g>
<g id="line2d_364">
<g>
<use href="#m668fe16cc7" x="1296" y="640.78" style="stroke: #000000; stroke-width: 0.6"/>
</g>
</g>
</g>
<g id="ytick_209">
<g id="line2d_365">
<g>
<use href="#m0df97daa90" x="867.6" y="630.04" style="stroke: #000000; stroke-width: 0.6"/>
</g>
</g>
<g id="line2d_366">
<g>
<use href="#m668fe16cc7" x="1296" y="630.04" style="stroke: #000000; stroke-width: 0.6"/>
</g>
</g>
</g>
<g id="ytick_210">
<g id="line2d_367">
<g>
<use href="#m0df97daa90" x="867.6" y="624.59" style="stroke: #000000; stroke-width: 0.6"/>
</g>
</g>
<g id="line2d_368">
<g>
<use href="#m668fe16cc7" x="1296" y="624.59" style="stroke: #000000; stroke-width: 0.6"/>
</g>
</g>
</g>
<g id="ytick_211">
<g id="line2d_369">
<g>
<use href="#m0df97daa90" x="867.6" y="620.72" style="stroke: #000000; stroke-width: 0.6"/>
</g>
</g>
<g id="line2d_370">
<g>
<use href="#m668fe16cc7" x="1296" y="620.72" style="stroke: #000000; stroke-width: 0.6"/>
</g>
</g>
</g>
<g id="ytick_212">
<g id="line2d_371">
<g>
<use href="#m0df97daa90" x="867.6" y="617.72" style="stroke: #000000; stroke-width: 0.6"/>
</g>
</g>
<g id="line2d_372">
<g>
<use href="#m668fe16cc7" x="1296" y="617.72" style="stroke: #000000; stroke-width: 0.6"/>
</g>
</g>
</g>
<g id="ytick_213">
<g id="line2d_373">
<g>
<use href="#m0df97daa90" x="867.6" y="615.27" style="stroke: #000000; stroke-width: 0.6"/>
</g>
</g>
<g id="line2d_374">
<g>
<use href="#m668fe16cc7" x="1296" y="615.27" style="stroke: #000000; stroke-width: 0.6"/>
</g>
</g>
</g>
<g id="ytick_214">
<g id="line2d_375">
<g>
<use href="#m0df97daa90" x="867.6" y="613.20" style="stroke: #000000; stroke-width: 0.6"/>
</g>
</g>
<g id="line2d_376">
<g>
<use href="#m668fe16cc7" x="1296" y="613.20" style="stroke: #000000; stroke-width: 0.6"/>
</g>
</g>
</g>
<g id="ytick_215">
<g id="line2d_377">
<g>
<use href="#m0df97daa90" x="867.6" y="611.40" style="stroke: #000000; stroke-width: 0.6"/>
</g>
</g>
<g id="line2d_378">
<g>
<use href="#m668fe16cc7" x="1296" y="611.40" style="stroke: #000000; stroke-width: 0.6"/>
</g>
</g>
</g>
<g id="ytick_216">
<g id="line2d_379">
<g>
<use href="#m0df97daa90" x="867.6" y="609.82" style="stroke: #000000; stroke-width: 0.6"/>
</g>
</g>
<g id="line2d_380">
<g>
<use href="#m668fe16cc7" x="1296" y="609.82" style="stroke: #000000; stroke-width: 0.6"/>
</g>
</g>
</g>
</g>
<g id="line2d_381">
<path d="M 867.6 670.32 
L 1296 670.32 
" clip-path="url(#p769edf1522)" style="fill: none; stroke-dasharray: 1.5,2.475; stroke-dashoffset: 0; stroke: #000000; stroke-width: 1.5"/>
</g>
<g id="patch_88">
<path d="M 867.6 732.24 
L 867.6 608.4 
" style="fill: none; stroke: #000000; stroke-width: 1.5; stroke-linejoin: miter; stroke-linecap: square"/>
</g>
<g id="patch_89">
<path d="M 1296 732.24 
L 1296 608.4 
" style="fill: none; stroke: #000000; stroke-width: 1.5; stroke-linejoin: miter; stroke-linecap: square"/>
</g>
<g id="patch_90">
<path d="M 867.6 732.24 
L 1296 732.24 
" style="fill: none; stroke: #000000; stroke-width: 1.5; stroke-linejoin: miter; stroke-linecap: square"/>
</g>
<g id="patch_91">
<path d="M 867.6 608.4 
L 1296 608.4 
" style="fill: none; stroke: #000000; stroke-width: 1.5; stroke-linejoin: miter; stroke-linecap: square"/>
</g>
</g>
<g id="text_89">
<text style="font-size: 17.37px; font-family: 'DejaVu Sans', 'Liberation Sans', sans-serif; text-anchor: middle" x="720" y="29.76" transform="rotate(-0 720 29.758486)">BAS-RBM Post Event Reconstruction, from 00:00 UT, 27 January 2019</text>
</g>
<g id="text_90">
<text style="font-size: 17.37px; font-family: 'DejaVu Sans', 'Liberation Sans', sans-serif; text-anchor: middle" x="124.49" y="205.78" transform="rotate(-90 124.488 205.776)">L*</text>
</g>
<g id="text_91">
<text style="font-size: 17.37px; font-family: 'DejaVu Sans', 'Liberation Sans', sans-serif; text-anchor: middle" x="81.36" y="468.79" transform="rotate(-90 81.36 468.792)">&gt;2.0 MeV Electron Flux</text>
</g>
<g id="text_92">
<g transform="translate(105.048 536.58405) rotate(-90)">
<text>
<tspan x="0" y="-0.65" style="font-size: 17.37px; font-family: 'DejaVu Sans', 'Liberation Sans', sans-serif">(</tspan>
<tspan x="6.78" y="-0.65" style="font-size: 17.37px; font-family: 'DejaVu Sans', 'Liberation Sans', sans-serif"> </tspan>
<tspan x="12.30" y="-0.65" style="font-size: 17.37px; font-family: 'DejaVu Sans', 'Liberation Sans', sans-serif">c</tspan>
<tspan x="21.85" y="-0.65" style="font-size: 17.37px; font-family: 'DejaVu Sans', 'Liberation Sans', sans-serif">m</tspan>
<tspan x="60.16" y="-0.65" style="font-size: 17.37px; font-family: 'DejaVu Sans', 'Liberation Sans', sans-serif">s</tspan>
<tspan x="90.59" y="-0.65" style="font-size: 17.37px; font-family: 'DejaVu Sans', 'Liberation Sans', sans-serif">s</tspan>
<tspan x="99.64" y="-0.65" style="font-size: 17.37px; font-family: 'DejaVu Sans', 'Liberation Sans', sans-serif">r</tspan>
<tspan x="125.34" y="-0.65" style="font-size: 17.37px; font-family: 'DejaVu Sans', 'Liberation Sans', sans-serif"> </tspan>
<tspan x="130.86" y="-0.65" style="font-size: 17.37px; font-family: 'DejaVu Sans', 'Liberation Sans', sans-serif">)</tspan>
<tspan x="38.94" y="-7.16" style="font-size: 12.159px; font-family: 'DejaVu Sans', 'Liberation Sans', sans-serif">−</tspan>
<tspan x="49.13" y="-7.16" style="font-size: 12.159px; font-family: 'DejaVu Sans', 'Liberation Sans', sans-serif">2</tspan>
<tspan x="69.37" y="-7.16" style="font-size: 12.159px; font-family: 'DejaVu Sans', 'Liberation Sans', sans-serif">−</tspan>
<tspan x="79.56" y="-7.16" style="font-size: 12.159px; font-family: 'DejaVu Sans', 'Liberation Sans', sans-serif">1</tspan>
<tspan x="106.95" y="-7.16" style="font-size: 12.159px; font-family: 'DejaVu Sans', 'Liberation Sans', sans-serif">−</tspan>
<tspan x="117.14" y="-7.16" style="font-size: 12.159px; font-family: 'DejaVu Sans', 'Liberation Sans', sans-serif">1</tspan>
</text>
</g>
</g>
<g id="text_93">
<text style="font-size: 17.37px; font-family: 'DejaVu Sans', 'Liberation Sans', sans-serif; text-anchor: middle" x="124.49" y="673.2" transform="rotate(-90 124.488 673.2)">Kp</text>
</g>
<g id="text_94">
<text style="font-size: 17.37px; font-family: 'DejaVu Sans', 'Liberation Sans', sans-serif; text-anchor: middle" x="803.52" y="203.26" transform="rotate(-90 803.52 203.256)">IMF Bz</text>
</g>
<g id="text_95">
<text style="font-size: 17.37px; font-family: 'DejaVu Sans', 'Liberation Sans', sans-serif; text-anchor: middle" x="825.12" y="203.26" transform="rotate(-90 825.12 203.256)">( nT )</text>
</g>
<g id="text_96">
<text style="font-size: 17.37px; font-family: 'DejaVu Sans', 'Liberation Sans', sans-serif; text-anchor: middle" x="795.74" y="469.44" transform="rotate(-90 795.744 469.44)">Dst</text>
</g>
<g id="text_97">
<text style="font-size: 17.37px; font-family: 'DejaVu Sans', 'Liberation Sans', sans-serif; text-anchor: middle" x="816.12" y="468.43" transform="rotate(-90 816.12 468.432)">( nT )</text>
</g>
<g id="text_98">
<text style="font-size: 17.37px; font-family: 'DejaVu Sans', 'Liberation Sans', sans-serif; text-anchor: middle" x="796.46" y="670.61" transform="rotate(-90 796.464 670.608)">&gt;10 MeV Proton Flux</text>
</g>
<g id="text_99">
<g transform="translate(820.152 733.9239) rotate(-90)">
<text>
<tspan x="0" y="-0.65" style="font-size: 17.37px; font-family: 'DejaVu Sans', 'Liberation Sans', sans-serif">(</tspan>
<tspan x="6.78" y="-0.65" style="font-size: 17.37px; font-family: 'DejaVu Sans', 'Liberation Sans', sans-serif"> </tspan>
<tspan x="12.30" y="-0.65" style="font-size: 17.37px; font-family: 'DejaVu Sans', 'Liberation Sans', sans-serif">c</tspan>
<tspan x="21.85" y="-0.65" style="font-size: 17.37px; font-family: 'DejaVu Sans', 'Liberation Sans', sans-serif">m</tspan>
<tspan x="49.97" y="-0.65" style="font-size: 17.37px; font-family: 'DejaVu Sans', 'Liberation Sans', sans-serif">s</tspan>
<tspan x="80.40" y="-0.65" style="font-size: 17.37px; font-family: 'DejaVu Sans', 'Liberation Sans', sans-serif">s</tspan>
<tspan x="89.45" y="-0.65" style="font-size: 17.37px; font-family: 'DejaVu Sans', 'Liberation Sans', sans-serif">r</tspan>
<tspan x="115.15" y="-0.65" style="font-size: 17.37px; font-family: 'DejaVu Sans', 'Liberation Sans', sans-serif"> </tspan>
<tspan x="120.67" y="-0.65" style="font-size: 17.37px; font-family: 'DejaVu Sans', 'Liberation Sans', sans-serif">)</tspan>
<tspan x="38.94" y="-7.16" style="font-size: 12.159px; font-family: 'DejaVu Sans', 'Liberation Sans', sans-serif">2</tspan>
<tspan x="59.18" y="-7.16" style="font-size: 12.159px; font-family: 'DejaVu Sans', 'Liberation Sans', sans-serif">−</tspan>
<tspan x="69.37" y="-7.16" style="font-size: 12.159px; font-family: 'DejaVu Sans', 'Liberation Sans', sans-serif">1</tspan>
<tspan x="96.75" y="-7.16" style="font-size: 12.159px; font-family: 'DejaVu Sans', 'Liberation Sans', sans-serif">−</tspan>
<tspan x="106.95" y="-7.16" style="font-size: 12.159px; font-family: 'DejaVu Sans', 'Liberation Sans', sans-serif">1</tspan>
</text>
</g>
</g>
<g id="text_100">
<text style="font-size: 17.37px; font-family: 'DejaVu Sans', 'Liberation Sans', sans-serif; text-anchor: middle; fill: #ff0000" x="1353.10" y="203.90" transform="rotate(-90 1353.096 203.904)">SW Velocity</text>
</g>
<g id="text_101">
<g style="fill: #ff0000" transform="translate(1376.856 244.55205) rotate(-90)">
<text>
<tspan x="0" y="-0.82" style="font-size: 17.37px; font-family: 'DejaVu Sans', 'Liberation Sans', sans-serif; fill: #ff0000">(</tspan>
<tspan x="6.78" y="-0.82" style="font-size: 17.37px; font-family: 'DejaVu Sans', 'Liberation Sans', sans-serif; fill: #ff0000"> </tspan>
<tspan x="12.30" y="-0.82" style="font-size: 17.37px; font-family: 'DejaVu Sans', 'Liberation Sans', sans-serif; fill: #ff0000">k</tspan>
<tspan x="22.36" y="-0.82" style="font-size: 17.37px; font-family: 'DejaVu Sans', 'Liberation Sans', sans-serif; fill: #ff0000">m</tspan>
<tspan x="42.11" y="-0.82" style="font-size: 17.37px; font-family: 'DejaVu Sans', 'Liberation Sans', sans-serif; fill: #ff0000">s</tspan>
<tspan x="69.72" y="-0.82" style="font-size: 17.37px; font-family: 'DejaVu Sans', 'Liberation Sans', sans-serif; fill: #ff0000"> </tspan>
<tspan x="75.24" y="-0.82" style="font-size: 17.37px; font-family: 'DejaVu Sans', 'Liberation Sans', sans-serif; fill: #ff0000">)</tspan>
<tspan x="51.32" y="-7.33" style="font-size: 12.159px; font-family: 'DejaVu Sans', 'Liberation Sans', sans-serif; fill: #ff0000">−</tspan>
<tspan x="61.52" y="-7.33" style="font-size: 12.159px; font-family: 'DejaVu Sans', 'Liberation Sans', sans-serif; fill: #ff0000">1</tspan>
</text>
</g>
</g>
<g id="text_102">
<text style="font-size: 17.37px; font-family: 'DejaVu Sans', 'Liberation Sans', sans-serif; text-anchor: middle; fill: #ff0000" x="1350.14" y="468.43" transform="rotate(-90 1350.144 468.432)">SW Pressure</text>
</g>
<g id="text_103">
<text style="font-size: 17.37px; font-family: 'DejaVu Sans', 'Liberation Sans', sans-serif; text-anchor: middle; fill: #ff0000" x="1371.96" y="468.43" transform="rotate(-90 1371.96 468.432)">( nPa )</text>
</g>
<g id="text_104">
<text style="font-size: 17.37px; font-family: 'DejaVu Sans', 'Liberation Sans', sans-serif; text-anchor: middle" x="398.81" y="766.94" transform="rotate(-0 398.808 766.944)">January/February</text>
</g>
<g id="text_105">
<text style="font-size: 17.37px; font-family: 'DejaVu Sans', 'Liberation Sans', sans-serif; text-anchor: middle" x="401.04" y="787.39" transform="rotate(-0 401.04 787.392)">2019 (UT)</text>
</g>
<g id="text_106">
<text style="font-size: 17.37px; font-family: 'DejaVu Sans', 'Liberation Sans', sans-serif; text-anchor: middle" x="1079.21" y="766.94" transform="rotate(-0 1079.208 766.944)">January/February</text>
</g>
<g id="text_107">
<text style="font-size: 17.37px; font-family: 'DejaVu Sans', 'Liberation Sans', sans-serif; text-anchor: middle" x="1081.44" y="787.39" transform="rotate(-0 1081.44 787.392)">2019 (UT)</text>
</g>
<g id="text_108">
<text style="font-size: 17.37px; font-family: 'DejaVu Sans', 'Liberation Sans', sans-serif; text-anchor: start" x="169.63" y="368.46" transform="rotate(-0 169.632 368.46)">Geostationary orbit:</text>
</g>
<g id="text_109">
<text style="font-size: 17.37px; font-family: 'DejaVu Sans', 'Liberation Sans', sans-serif; text-anchor: start" x="359.42" y="368.46" transform="rotate(-0 359.424 368.46)">GOES 15,</text>
</g>
<g id="text_110">
<text style="font-size: 17.37px; font-family: 'DejaVu Sans', 'Liberation Sans', sans-serif; text-anchor: start; fill: #ff0000" x="451.87" y="368.46" transform="rotate(-0 451.872 368.46)">Model</text>
</g>
</g>
<defs>
<clipPath id="p66398a97a4">
<rect x="144" y="79.2" width="514.08" height="248.11"/>
</clipPath>
<clipPath id="p1c7367122d">
<rect x="690.48" y="79.2" width="12.24" height="248.11"/>
</clipPath>
<clipPath id="p796a8e5f1e">
<rect x="144" y="343.87" width="514.08" height="248.11"/>
</clipPath>
<clipPath id="p3fa9ed6ce3">
<rect x="144" y="608.4" width="514.08" height="123.84"/>
</clipPath>
<clipPath id="p14f0c84d7b">
<rect x="867.6" y="79.2" width="428.4" height="248.11"/>
</clipPath>
<clipPath id="p2265a51e2c">
<rect x="867.6" y="79.2" width="428.4" height="248.11"/>
</clipPath>
<clipPath id="p012178c608">
<rect x="867.6" y="343.87" width="428.4" height="248.11"/>
</clipPath>
<clipPath id="pda7fd66f0e">
<rect x="867.6" y="343.87" width="428.4" height="248.11"/>
</clipPath>
<clipPath id="p769edf1522">
<rect x="867.6" y="608.4" width="428.4" height="123.84"/>
</clipPath>
</defs>
</svg>

</body></html>
